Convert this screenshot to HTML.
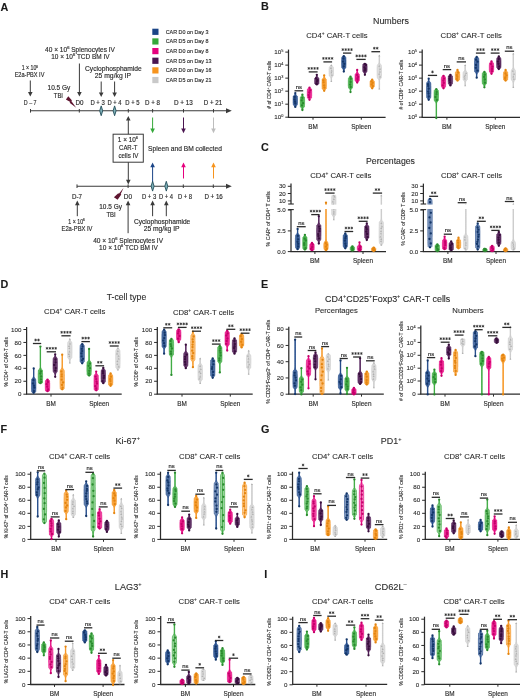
<!DOCTYPE html>
<html><head><meta charset="utf-8"><style>
html,body{margin:0;padding:0;background:#fff;overflow:hidden;width:520px;height:698px;}
svg{will-change:transform;filter:blur(0.25px);}
svg{display:block;font-family:"Liberation Sans", sans-serif;}
</style></head><body>
<svg width="520" height="698" viewBox="0 0 520 698">
<rect width="520" height="698" fill="#fff"/>
<text transform="translate(0.40 10.53)" font-size="10.8" text-anchor="start" font-weight="bold" fill="#1a1a1a" stroke="#1a1a1a" stroke-width="0.1">A</text>
<text transform="translate(261.00 9.98)" font-size="10.8" text-anchor="start" font-weight="bold" fill="#1a1a1a" stroke="#1a1a1a" stroke-width="0.1">B</text>
<text transform="translate(261.00 150.68)" font-size="10.8" text-anchor="start" font-weight="bold" fill="#1a1a1a" stroke="#1a1a1a" stroke-width="0.1">C</text>
<text transform="translate(0.40 287.68)" font-size="10.8" text-anchor="start" font-weight="bold" fill="#1a1a1a" stroke="#1a1a1a" stroke-width="0.1">D</text>
<text transform="translate(261.00 287.98)" font-size="10.8" text-anchor="start" font-weight="bold" fill="#1a1a1a" stroke="#1a1a1a" stroke-width="0.1">E</text>
<text transform="translate(0.40 432.68)" font-size="10.8" text-anchor="start" font-weight="bold" fill="#1a1a1a" stroke="#1a1a1a" stroke-width="0.1">F</text>
<text transform="translate(261.00 433.08)" font-size="10.8" text-anchor="start" font-weight="bold" fill="#1a1a1a" stroke="#1a1a1a" stroke-width="0.1">G</text>
<text transform="translate(0.40 578.48)" font-size="10.8" text-anchor="start" font-weight="bold" fill="#1a1a1a" stroke="#1a1a1a" stroke-width="0.1">H</text>
<text transform="translate(264.20 578.48)" font-size="10.8" text-anchor="start" font-weight="bold" fill="#1a1a1a" stroke="#1a1a1a" stroke-width="0.1">I</text>
<line x1="30.5" y1="110.8" x2="227" y2="110.8" stroke="#3a3a3a" stroke-width="1.05"/>
<path d="M226,108.3 L231.8,110.8 L226,113.3 Z" fill="#3a3a3a"/>
<line x1="30.5" y1="109.0" x2="30.5" y2="112.6" stroke="#3a3a3a" stroke-width="1.0"/>
<line x1="79.3" y1="109.0" x2="79.3" y2="112.6" stroke="#3a3a3a" stroke-width="1.0"/>
<line x1="128.3" y1="109.0" x2="128.3" y2="112.6" stroke="#3a3a3a" stroke-width="1.0"/>
<line x1="152.6" y1="109.0" x2="152.6" y2="112.6" stroke="#3a3a3a" stroke-width="1.0"/>
<line x1="183.5" y1="109.0" x2="183.5" y2="112.6" stroke="#3a3a3a" stroke-width="1.0"/>
<line x1="213.5" y1="109.0" x2="213.5" y2="112.6" stroke="#3a3a3a" stroke-width="1.0"/>
<path d="M101.2,105.89999999999999 L102.7,110.8 L101.2,115.7 L99.7,110.8 Z" fill="#7fb0b8" stroke="#234e5a" stroke-width="0.9"/>
<path d="M114.6,105.89999999999999 L116.1,110.8 L114.6,115.7 L113.1,110.8 Z" fill="#7fb0b8" stroke="#234e5a" stroke-width="0.9"/>
<text transform="translate(30.20 105.18) scale(0.788 1)" font-size="6.8" text-anchor="middle" font-weight="normal" fill="#2b2b2b" stroke="#2b2b2b" stroke-width="0.16">D – 7</text>
<text transform="translate(79.40 105.18) scale(0.920 1)" font-size="6.8" text-anchor="middle" font-weight="normal" fill="#2b2b2b" stroke="#2b2b2b" stroke-width="0.16">D0</text>
<text transform="translate(97.60 105.18) scale(0.876 1)" font-size="6.8" text-anchor="middle" font-weight="normal" fill="#2b2b2b" stroke="#2b2b2b" stroke-width="0.16">D + 3</text>
<text transform="translate(114.50 105.18) scale(0.858 1)" font-size="6.8" text-anchor="middle" font-weight="normal" fill="#2b2b2b" stroke="#2b2b2b" stroke-width="0.16">D + 4</text>
<text transform="translate(132.50 105.18) scale(0.870 1)" font-size="6.8" text-anchor="middle" font-weight="normal" fill="#2b2b2b" stroke="#2b2b2b" stroke-width="0.16">D + 5</text>
<text transform="translate(152.50 105.18) scale(0.912 1)" font-size="6.8" text-anchor="middle" font-weight="normal" fill="#2b2b2b" stroke="#2b2b2b" stroke-width="0.16">D + 8</text>
<text transform="translate(183.40 105.18) scale(0.939 1)" font-size="6.8" text-anchor="middle" font-weight="normal" fill="#2b2b2b" stroke="#2b2b2b" stroke-width="0.16">D + 13</text>
<text transform="translate(213.00 105.18) scale(0.910 1)" font-size="6.8" text-anchor="middle" font-weight="normal" fill="#2b2b2b" stroke="#2b2b2b" stroke-width="0.16">D + 21</text>
<text transform="translate(29.90 70.14) scale(0.818 1)" font-size="6.4" text-anchor="middle" font-weight="normal" fill="#2b2b2b" stroke="#2b2b2b" stroke-width="0.16">1 × 10<tspan font-size="3.97" dy="-2.56">6</tspan></text>
<text transform="translate(29.50 77.11) scale(0.886 1)" font-size="6.3" text-anchor="middle" font-weight="normal" fill="#2b2b2b" stroke="#2b2b2b" stroke-width="0.16">E2a-PBX IV</text>
<line x1="30.3" y1="80.5" x2="30.3" y2="92.4" stroke="#3a3a3a" stroke-width="1.0"/>
<path d="M28.0,91.9 L32.6,91.9 L30.3,96.5 Z" fill="#3a3a3a"/>
<text transform="translate(80.00 51.98) scale(0.925 1)" font-size="7.1" text-anchor="middle" font-weight="normal" fill="#2b2b2b" stroke="#2b2b2b" stroke-width="0.16">40 × 10<tspan font-size="4.40" dy="-2.84">6</tspan><tspan dy="2.84"> Splenocytes IV</tspan></text>
<text transform="translate(80.40 58.98) scale(0.913 1)" font-size="7.1" text-anchor="middle" font-weight="normal" fill="#2b2b2b" stroke="#2b2b2b" stroke-width="0.16">10 × 10<tspan font-size="4.40" dy="-2.84">6</tspan><tspan dy="2.84"> TCD BM IV</tspan></text>
<line x1="79.4" y1="63.5" x2="79.4" y2="92.4" stroke="#3a3a3a" stroke-width="1.0"/>
<path d="M77.10000000000001,91.9 L81.7,91.9 L79.4,96.5 Z" fill="#3a3a3a"/>
<text transform="translate(58.90 89.69) scale(0.913 1)" font-size="7.1" text-anchor="middle" font-weight="normal" fill="#2b2b2b" stroke="#2b2b2b" stroke-width="0.16">10.5 Gy</text>
<text transform="translate(58.40 97.78) scale(0.833 1)" font-size="7.1" text-anchor="middle" font-weight="normal" fill="#2b2b2b" stroke="#2b2b2b" stroke-width="0.16">TBI</text>
<path d="M68.3,96.3 L72.0,100.4 L71.3,101.0 L76.2,107.7 L69.6,102.8 L70.3,102.1 L65.9,99.4 Z" fill="#5e1530"/>
<text transform="translate(113.40 70.78) scale(0.942 1)" font-size="7.1" text-anchor="middle" font-weight="normal" fill="#2b2b2b" stroke="#2b2b2b" stroke-width="0.16">Cyclophosphamide</text>
<text transform="translate(112.90 78.48) scale(0.958 1)" font-size="7.1" text-anchor="middle" font-weight="normal" fill="#2b2b2b" stroke="#2b2b2b" stroke-width="0.16">25 mg/kg IP</text>
<line x1="101.2" y1="81.5" x2="101.2" y2="92.9" stroke="#3a3a3a" stroke-width="1.0"/>
<path d="M98.9,92.4 L103.5,92.4 L101.2,97 Z" fill="#3a3a3a"/>
<line x1="114.6" y1="81.5" x2="114.6" y2="92.9" stroke="#3a3a3a" stroke-width="1.0"/>
<path d="M112.3,92.4 L116.89999999999999,92.4 L114.6,97 Z" fill="#3a3a3a"/>
<rect x="113.1" y="134.2" width="30.2" height="28" fill="#fff" stroke="#3a3a3a" stroke-width="1.0"/>
<text transform="translate(127.90 141.98) scale(0.947 1)" font-size="6.8" text-anchor="middle" font-weight="normal" fill="#2b2b2b" stroke="#2b2b2b" stroke-width="0.16">1 × 10<tspan font-size="4.22" dy="-2.72">6</tspan></text>
<text transform="translate(128.20 150.09) scale(0.844 1)" font-size="7.1" text-anchor="middle" font-weight="normal" fill="#2b2b2b" stroke="#2b2b2b" stroke-width="0.16">CAR-T</text>
<text transform="translate(128.40 158.09) scale(0.874 1)" font-size="7.1" text-anchor="middle" font-weight="normal" fill="#2b2b2b" stroke="#2b2b2b" stroke-width="0.16">cells IV</text>
<line x1="128.3" y1="134.2" x2="128.3" y2="120.1" stroke="#3a3a3a" stroke-width="1.0"/>
<path d="M126.00000000000001,120.6 L130.60000000000002,120.6 L128.3,116 Z" fill="#3a3a3a"/>
<line x1="128.3" y1="162.2" x2="128.3" y2="180.3" stroke="#3a3a3a" stroke-width="1.0"/>
<path d="M126.00000000000001,179.8 L130.60000000000002,179.8 L128.3,184.4 Z" fill="#3a3a3a"/>
<line x1="152.6" y1="117.5" x2="152.6" y2="129.1" stroke="#35a83a" stroke-width="1.0"/>
<path d="M150.29999999999998,128.6 L154.9,128.6 L152.6,133.2 Z" fill="#35a83a"/>
<line x1="183.5" y1="117.5" x2="183.5" y2="129.1" stroke="#4a1550" stroke-width="1.0"/>
<path d="M181.2,128.6 L185.8,128.6 L183.5,133.2 Z" fill="#4a1550"/>
<line x1="213.5" y1="117.5" x2="213.5" y2="129.1" stroke="#bdbdbd" stroke-width="1.0"/>
<path d="M211.2,128.6 L215.8,128.6 L213.5,133.2 Z" fill="#bdbdbd"/>
<text transform="translate(185.00 151.29) scale(0.942 1)" font-size="7.1" text-anchor="middle" font-weight="normal" fill="#2b2b2b" stroke="#2b2b2b" stroke-width="0.16">Spleen and BM collected</text>
<line x1="152.6" y1="182.5" x2="152.6" y2="166.7" stroke="#1b4587" stroke-width="1.0"/>
<path d="M150.29999999999998,167.2 L154.9,167.2 L152.6,162.6 Z" fill="#1b4587"/>
<line x1="183.5" y1="178.5" x2="183.5" y2="166.7" stroke="#e6007e" stroke-width="1.0"/>
<path d="M181.2,167.2 L185.8,167.2 L183.5,162.6 Z" fill="#e6007e"/>
<line x1="213.5" y1="178.5" x2="213.5" y2="166.7" stroke="#f7941d" stroke-width="1.0"/>
<path d="M211.2,167.2 L215.8,167.2 L213.5,162.6 Z" fill="#f7941d"/>
<line x1="77" y1="186.2" x2="227" y2="186.2" stroke="#3a3a3a" stroke-width="1.05"/>
<path d="M226,183.7 L231.8,186.2 L226,188.7 Z" fill="#3a3a3a"/>
<line x1="77" y1="184.39999999999998" x2="77" y2="188.0" stroke="#3a3a3a" stroke-width="1.0"/>
<line x1="128.1" y1="184.39999999999998" x2="128.1" y2="188.0" stroke="#3a3a3a" stroke-width="1.0"/>
<line x1="183.3" y1="184.39999999999998" x2="183.3" y2="188.0" stroke="#3a3a3a" stroke-width="1.0"/>
<line x1="213.3" y1="184.39999999999998" x2="213.3" y2="188.0" stroke="#3a3a3a" stroke-width="1.0"/>
<path d="M152.6,181.29999999999998 L154.1,186.2 L152.6,191.1 L151.1,186.2 Z" fill="#7fb0b8" stroke="#234e5a" stroke-width="0.9"/>
<path d="M166.3,181.29999999999998 L167.8,186.2 L166.3,191.1 L164.8,186.2 Z" fill="#7fb0b8" stroke="#234e5a" stroke-width="0.9"/>
<text transform="translate(76.90 198.88) scale(0.913 1)" font-size="6.8" text-anchor="middle" font-weight="normal" fill="#2b2b2b" stroke="#2b2b2b" stroke-width="0.16">D-7</text>
<text transform="translate(128.00 198.88) scale(0.955 1)" font-size="6.8" text-anchor="middle" font-weight="normal" fill="#2b2b2b" stroke="#2b2b2b" stroke-width="0.16">D0</text>
<text transform="translate(149.10 198.88) scale(0.876 1)" font-size="6.8" text-anchor="middle" font-weight="normal" fill="#2b2b2b" stroke="#2b2b2b" stroke-width="0.16">D + 3</text>
<text transform="translate(166.00 198.88) scale(0.858 1)" font-size="6.8" text-anchor="middle" font-weight="normal" fill="#2b2b2b" stroke="#2b2b2b" stroke-width="0.16">D + 4</text>
<text transform="translate(185.00 198.88) scale(0.864 1)" font-size="6.8" text-anchor="middle" font-weight="normal" fill="#2b2b2b" stroke="#2b2b2b" stroke-width="0.16">D + 8</text>
<text transform="translate(213.60 198.88) scale(0.910 1)" font-size="6.8" text-anchor="middle" font-weight="normal" fill="#2b2b2b" stroke="#2b2b2b" stroke-width="0.16">D + 16</text>
<path d="M123.5,188.1 L120.7,194.0 L121.3,194.5 L117.6,199.7 L113.9,197.3 L118.3,193.3 L118.9,193.8 Z" fill="#5e1530"/>
<text transform="translate(110.60 208.89) scale(0.913 1)" font-size="7.1" text-anchor="middle" font-weight="normal" fill="#2b2b2b" stroke="#2b2b2b" stroke-width="0.16">10.5 Gy</text>
<text transform="translate(111.00 216.69) scale(0.833 1)" font-size="7.1" text-anchor="middle" font-weight="normal" fill="#2b2b2b" stroke="#2b2b2b" stroke-width="0.16">TBI</text>
<line x1="77.3" y1="216.2" x2="77.3" y2="204.7" stroke="#3a3a3a" stroke-width="1.0"/>
<path d="M75.0,205.2 L79.6,205.2 L77.3,200.6 Z" fill="#3a3a3a"/>
<text transform="translate(76.60 223.74) scale(0.818 1)" font-size="6.4" text-anchor="middle" font-weight="normal" fill="#2b2b2b" stroke="#2b2b2b" stroke-width="0.16">1 × 10<tspan font-size="3.97" dy="-2.56">6</tspan></text>
<text transform="translate(77.00 230.71) scale(0.922 1)" font-size="6.3" text-anchor="middle" font-weight="normal" fill="#2b2b2b" stroke="#2b2b2b" stroke-width="0.16">E2a-PBX IV</text>
<line x1="128.1" y1="233.2" x2="128.1" y2="204.7" stroke="#3a3a3a" stroke-width="1.0"/>
<path d="M125.8,205.2 L130.4,205.2 L128.1,200.6 Z" fill="#3a3a3a"/>
<line x1="152.6" y1="216.2" x2="152.6" y2="204.7" stroke="#3a3a3a" stroke-width="1.0"/>
<path d="M150.29999999999998,205.2 L154.9,205.2 L152.6,200.6 Z" fill="#3a3a3a"/>
<line x1="166.3" y1="216.2" x2="166.3" y2="204.7" stroke="#3a3a3a" stroke-width="1.0"/>
<path d="M164.0,205.2 L168.60000000000002,205.2 L166.3,200.6 Z" fill="#3a3a3a"/>
<text transform="translate(162.10 223.99) scale(0.934 1)" font-size="7.1" text-anchor="middle" font-weight="normal" fill="#2b2b2b" stroke="#2b2b2b" stroke-width="0.16">Cyclophosphamide</text>
<text transform="translate(161.60 231.29) scale(0.950 1)" font-size="7.1" text-anchor="middle" font-weight="normal" fill="#2b2b2b" stroke="#2b2b2b" stroke-width="0.16">25 mg/kg IP</text>
<text transform="translate(128.10 243.09) scale(0.925 1)" font-size="7.1" text-anchor="middle" font-weight="normal" fill="#2b2b2b" stroke="#2b2b2b" stroke-width="0.16">40 × 10<tspan font-size="4.40" dy="-2.84">6</tspan><tspan dy="2.84"> Splenocytes IV</tspan></text>
<text transform="translate(128.50 249.99) scale(0.921 1)" font-size="7.1" text-anchor="middle" font-weight="normal" fill="#2b2b2b" stroke="#2b2b2b" stroke-width="0.16">10 × 10<tspan font-size="4.40" dy="-2.84">6</tspan><tspan dy="2.84"> TCD BM IV</tspan></text>
<rect x="152.3" y="28.7" width="6.2" height="6.2" fill="#1b4587"/>
<text transform="translate(165.70 33.59)" font-size="5.4" text-anchor="start" font-weight="normal" fill="#2b2b2b" stroke="#2b2b2b" stroke-width="0.14">CAR D0 on Day 3</text>
<rect x="152.3" y="38.35" width="6.2" height="6.2" fill="#35a83a"/>
<text transform="translate(165.70 43.24)" font-size="5.4" text-anchor="start" font-weight="normal" fill="#2b2b2b" stroke="#2b2b2b" stroke-width="0.14">CAR D5 on Day 8</text>
<rect x="152.3" y="48.0" width="6.2" height="6.2" fill="#e6007e"/>
<text transform="translate(165.70 52.89)" font-size="5.4" text-anchor="start" font-weight="normal" fill="#2b2b2b" stroke="#2b2b2b" stroke-width="0.14">CAR D0 on Day 8</text>
<rect x="152.3" y="57.650000000000006" width="6.2" height="6.2" fill="#4a1550"/>
<text transform="translate(165.70 62.54)" font-size="5.4" text-anchor="start" font-weight="normal" fill="#2b2b2b" stroke="#2b2b2b" stroke-width="0.14">CAR D5 on Day 13</text>
<rect x="152.3" y="67.3" width="6.2" height="6.2" fill="#f7941d"/>
<text transform="translate(165.70 72.19)" font-size="5.4" text-anchor="start" font-weight="normal" fill="#2b2b2b" stroke="#2b2b2b" stroke-width="0.14">CAR D0 on Day 16</text>
<rect x="152.3" y="76.95" width="6.2" height="6.2" fill="#c9c9c9"/>
<text transform="translate(165.70 81.84)" font-size="5.4" text-anchor="start" font-weight="normal" fill="#2b2b2b" stroke="#2b2b2b" stroke-width="0.14">CAR D5 on Day 21</text>
<text transform="translate(391.00 23.98) scale(1.008 1)" font-size="8.8" text-anchor="middle" font-weight="normal" fill="#2b2b2b" stroke="#2b2b2b" stroke-width="0.1">Numbers</text>
<text transform="translate(336.90 38.40)" font-size="7.7" text-anchor="middle" font-weight="normal" fill="#2b2b2b" stroke="#2b2b2b" stroke-width="0.1">CD4<tspan font-size="4.77" dy="-3.08">+</tspan><tspan dy="3.08"> CAR-T cells</tspan></text>
<text transform="translate(471.20 38.20)" font-size="7.7" text-anchor="middle" font-weight="normal" fill="#2b2b2b" stroke="#2b2b2b" stroke-width="0.1">CD8<tspan font-size="4.77" dy="-3.08">+</tspan><tspan dy="3.08"> CAR-T cells</tspan></text>
<line x1="288.5" y1="49.6" x2="288.5" y2="117.3" stroke="#2b2b2b" stroke-width="1.25"/>
<line x1="287.9" y1="117.3" x2="385.6" y2="117.3" stroke="#2b2b2b" stroke-width="1.3"/>
<line x1="285.3" y1="52.1" x2="288.5" y2="52.1" stroke="#2b2b2b" stroke-width="1.0"/>
<text transform="translate(283.30 54.27)" font-size="6.2" text-anchor="end" font-weight="normal" fill="#2b2b2b" stroke="#2b2b2b" stroke-width="0.1">10<tspan font-size="3.84" dy="-2.48">5</tspan></text>
<line x1="285.3" y1="65.12" x2="288.5" y2="65.12" stroke="#2b2b2b" stroke-width="1.0"/>
<text transform="translate(283.30 67.29)" font-size="6.2" text-anchor="end" font-weight="normal" fill="#2b2b2b" stroke="#2b2b2b" stroke-width="0.1">10<tspan font-size="3.84" dy="-2.48">4</tspan></text>
<line x1="285.3" y1="78.14" x2="288.5" y2="78.14" stroke="#2b2b2b" stroke-width="1.0"/>
<text transform="translate(283.30 80.31)" font-size="6.2" text-anchor="end" font-weight="normal" fill="#2b2b2b" stroke="#2b2b2b" stroke-width="0.1">10<tspan font-size="3.84" dy="-2.48">3</tspan></text>
<line x1="285.3" y1="91.16" x2="288.5" y2="91.16" stroke="#2b2b2b" stroke-width="1.0"/>
<text transform="translate(283.30 93.33)" font-size="6.2" text-anchor="end" font-weight="normal" fill="#2b2b2b" stroke="#2b2b2b" stroke-width="0.1">10<tspan font-size="3.84" dy="-2.48">2</tspan></text>
<line x1="285.3" y1="104.18" x2="288.5" y2="104.18" stroke="#2b2b2b" stroke-width="1.0"/>
<text transform="translate(283.30 106.35)" font-size="6.2" text-anchor="end" font-weight="normal" fill="#2b2b2b" stroke="#2b2b2b" stroke-width="0.1">10<tspan font-size="3.84" dy="-2.48">1</tspan></text>
<line x1="285.3" y1="117.19999999999999" x2="288.5" y2="117.19999999999999" stroke="#2b2b2b" stroke-width="1.0"/>
<text transform="translate(283.30 119.37)" font-size="6.2" text-anchor="end" font-weight="normal" fill="#2b2b2b" stroke="#2b2b2b" stroke-width="0.1">10<tspan font-size="3.84" dy="-2.48">0</tspan></text>
<line x1="313" y1="117.3" x2="313" y2="119.7" stroke="#2b2b2b" stroke-width="1.0"/>
<text transform="translate(313.00 129.14)" font-size="6.4" text-anchor="middle" font-weight="normal" fill="#2b2b2b" stroke="#2b2b2b" stroke-width="0.14">BM</text>
<line x1="361.3" y1="117.3" x2="361.3" y2="119.7" stroke="#2b2b2b" stroke-width="1.0"/>
<text transform="translate(361.30 129.14)" font-size="6.4" text-anchor="middle" font-weight="normal" fill="#2b2b2b" stroke="#2b2b2b" stroke-width="0.14">Spleen</text>
<text transform="translate(271.16 84.70) rotate(-90) scale(0.915 1)" font-size="5.3" text-anchor="middle" font-weight="normal" fill="#2b2b2b" stroke="#2b2b2b" stroke-width="0.12"># of CD4<tspan font-size="3.29" dy="-2.12">+</tspan><tspan dy="2.12"> CAR-T cells</tspan></text>
<line x1="295.3" y1="93.1" x2="295.3" y2="106.9" stroke="#1b4587" stroke-width="0.75"/>
<path d="M295.6,93.1 L295.7,93.7 L295.8,94.2 L296.1,94.8 L296.5,95.4 L297.2,96.0 L297.2,96.0 L297.4,96.5 L297.4,97.1 L297.4,97.7 L297.5,98.3 L297.5,98.8 L297.5,99.4 L297.5,100.0 L297.5,100.6 L297.5,101.2 L297.5,101.7 L297.5,102.3 L297.5,102.9 L297.4,103.5 L297.4,104.0 L297.3,104.6 L297.2,105.0 L297.0,105.2 L296.4,105.8 L296.0,106.3 L295.8,106.9 L294.8,106.9 L294.6,106.3 L294.2,105.8 L293.6,105.2 L293.4,105.0 L293.3,104.6 L293.2,104.0 L293.2,103.5 L293.1,102.9 L293.1,102.3 L293.1,101.7 L293.1,101.2 L293.1,100.6 L293.1,100.0 L293.1,99.4 L293.1,98.8 L293.1,98.3 L293.2,97.7 L293.2,97.1 L293.2,96.5 L293.4,96.0 L293.4,96.0 L294.1,95.4 L294.5,94.8 L294.8,94.2 L294.9,93.7 L295.1,93.1 Z" fill="#1b4587" fill-opacity="0.85" stroke="#1b4587" stroke-width="0.6"/>
<circle cx="295.3" cy="93.1" r="1.15" fill="#143668"/>
<circle cx="295.3" cy="106.9" r="1.15" fill="#143668"/>
<circle cx="294.6" cy="96.9" r="1.15" fill="#143668"/>
<circle cx="294.5" cy="99.5" r="1.15" fill="#143668"/>
<circle cx="295.0" cy="101.7" r="1.15" fill="#143668"/>
<circle cx="295.3" cy="103.4" r="1.15" fill="#143668"/>
<line x1="302.4" y1="94.6" x2="302.4" y2="110" stroke="#35a83a" stroke-width="0.75"/>
<path d="M302.7,94.6 L302.9,95.2 L303.3,95.9 L303.7,96.5 L304.3,97.0 L304.4,97.2 L304.5,97.8 L304.5,98.5 L304.5,99.1 L304.6,99.7 L304.6,100.4 L304.6,101.0 L304.6,101.7 L304.6,102.3 L304.6,102.9 L304.6,103.6 L304.6,104.2 L304.5,104.9 L304.5,105.5 L304.5,106.2 L304.4,106.8 L304.3,107.0 L303.8,107.4 L303.3,108.1 L303.0,108.7 L302.8,109.4 L302.6,110.0 L302.1,110.0 L302.0,109.4 L301.8,108.7 L301.5,108.1 L301.0,107.4 L300.5,107.0 L300.4,106.8 L300.3,106.2 L300.3,105.5 L300.3,104.9 L300.2,104.2 L300.2,103.6 L300.2,102.9 L300.2,102.3 L300.2,101.7 L300.2,101.0 L300.2,100.4 L300.2,99.7 L300.3,99.1 L300.3,98.5 L300.3,97.8 L300.4,97.2 L300.5,97.0 L301.1,96.5 L301.5,95.9 L301.9,95.2 L302.1,94.6 Z" fill="#35a83a" fill-opacity="0.85" stroke="#35a83a" stroke-width="0.6"/>
<circle cx="302.4" cy="94.6" r="1.15" fill="#2a8a2e"/>
<circle cx="302.4" cy="110.0" r="1.15" fill="#2a8a2e"/>
<circle cx="302.3" cy="97.8" r="1.15" fill="#2a8a2e"/>
<circle cx="301.6" cy="100.3" r="1.15" fill="#2a8a2e"/>
<circle cx="303.0" cy="103.2" r="1.15" fill="#2a8a2e"/>
<circle cx="301.9" cy="105.4" r="1.15" fill="#2a8a2e"/>
<line x1="309.5" y1="87.7" x2="309.5" y2="99.8" stroke="#e6007e" stroke-width="0.75"/>
<path d="M310.2,87.7 L310.6,88.2 L311.0,88.7 L311.4,89.0 L311.5,89.2 L311.6,89.7 L311.6,90.2 L311.6,90.7 L311.7,91.2 L311.7,91.7 L311.7,92.2 L311.7,92.7 L311.7,93.2 L311.7,93.8 L311.7,94.2 L311.7,94.8 L311.7,95.3 L311.7,95.8 L311.6,96.3 L311.6,96.8 L311.6,97.3 L311.5,97.8 L311.4,98.0 L311.0,98.3 L310.6,98.8 L310.2,99.3 L310.0,99.8 L309.0,99.8 L308.8,99.3 L308.4,98.8 L308.0,98.3 L307.6,98.0 L307.5,97.8 L307.4,97.3 L307.4,96.8 L307.4,96.3 L307.3,95.8 L307.3,95.3 L307.3,94.8 L307.3,94.2 L307.3,93.8 L307.3,93.2 L307.3,92.7 L307.3,92.2 L307.3,91.7 L307.3,91.2 L307.4,90.7 L307.4,90.2 L307.4,89.7 L307.5,89.2 L307.6,89.0 L308.0,88.7 L308.4,88.2 L308.8,87.7 Z" fill="#e6007e" fill-opacity="0.85" stroke="#e6007e" stroke-width="0.6"/>
<circle cx="309.5" cy="87.7" r="1.15" fill="#c4006a"/>
<circle cx="309.5" cy="99.8" r="1.15" fill="#c4006a"/>
<circle cx="310.4" cy="90.3" r="1.15" fill="#c4006a"/>
<circle cx="309.3" cy="92.5" r="1.15" fill="#c4006a"/>
<circle cx="308.6" cy="95.1" r="1.15" fill="#c4006a"/>
<circle cx="309.1" cy="97.2" r="1.15" fill="#c4006a"/>
<line x1="316.8" y1="74.8" x2="316.8" y2="84.4" stroke="#4a1550" stroke-width="0.75"/>
<path d="M317.1,74.8 L317.1,75.2 L317.1,75.6 L317.3,76.0 L317.4,76.4 L317.6,76.8 L317.9,77.2 L318.2,77.6 L318.7,78.0 L318.9,78.4 L318.9,78.8 L318.9,79.2 L319.0,79.6 L319.0,80.0 L319.0,80.4 L319.0,80.8 L319.0,81.2 L319.0,81.6 L319.0,82.0 L319.0,82.4 L318.9,82.8 L318.9,83.2 L318.9,83.6 L318.7,84.0 L318.2,84.4 L315.4,84.4 L314.9,84.0 L314.7,83.6 L314.7,83.2 L314.7,82.8 L314.6,82.4 L314.6,82.0 L314.6,81.6 L314.6,81.2 L314.6,80.8 L314.6,80.4 L314.6,80.0 L314.6,79.6 L314.7,79.2 L314.7,78.8 L314.7,78.4 L314.9,78.0 L315.4,77.6 L315.7,77.2 L316.0,76.8 L316.2,76.4 L316.3,76.0 L316.5,75.6 L316.5,75.2 L316.6,74.8 Z" fill="#4a1550" fill-opacity="0.85" stroke="#4a1550" stroke-width="0.6"/>
<circle cx="316.8" cy="74.8" r="1.15" fill="#380e3c"/>
<circle cx="316.8" cy="84.4" r="1.15" fill="#380e3c"/>
<circle cx="316.0" cy="78.4" r="1.15" fill="#380e3c"/>
<circle cx="317.4" cy="80.1" r="1.15" fill="#380e3c"/>
<circle cx="317.0" cy="81.4" r="1.15" fill="#380e3c"/>
<circle cx="316.5" cy="83.4" r="1.15" fill="#380e3c"/>
<line x1="324.2" y1="75.4" x2="324.2" y2="90.8" stroke="#f7941d" stroke-width="0.75"/>
<path d="M324.4,75.4 L324.4,76.0 L324.6,76.7 L324.8,77.3 L325.1,78.0 L325.6,78.6 L326.1,79.0 L326.2,79.2 L326.3,79.9 L326.3,80.5 L326.3,81.2 L326.4,81.8 L326.4,82.5 L326.4,83.1 L326.4,83.7 L326.4,84.4 L326.4,85.0 L326.4,85.7 L326.4,86.3 L326.3,87.0 L326.3,87.6 L326.3,88.2 L326.2,88.9 L326.1,89.0 L325.5,89.5 L325.0,90.2 L324.7,90.8 L323.7,90.8 L323.4,90.2 L322.9,89.5 L322.3,89.0 L322.2,88.9 L322.1,88.2 L322.1,87.6 L322.1,87.0 L322.0,86.3 L322.0,85.7 L322.0,85.0 L322.0,84.4 L322.0,83.7 L322.0,83.1 L322.0,82.5 L322.0,81.8 L322.1,81.2 L322.1,80.5 L322.1,79.9 L322.2,79.2 L322.3,79.0 L322.8,78.6 L323.3,78.0 L323.6,77.3 L323.8,76.7 L323.9,76.0 L323.9,75.4 Z" fill="#f7941d" fill-opacity="0.85" stroke="#f7941d" stroke-width="0.6"/>
<circle cx="324.2" cy="75.4" r="1.15" fill="#e38510"/>
<circle cx="324.2" cy="90.8" r="1.15" fill="#e38510"/>
<circle cx="323.3" cy="80.3" r="1.15" fill="#e38510"/>
<circle cx="323.6" cy="82.3" r="1.15" fill="#e38510"/>
<circle cx="324.1" cy="85.4" r="1.15" fill="#e38510"/>
<circle cx="324.4" cy="87.6" r="1.15" fill="#e38510"/>
<line x1="331.3" y1="65.2" x2="331.3" y2="81.2" stroke="#c9c9c9" stroke-width="0.75"/>
<path d="M331.8,65.2 L332.1,65.9 L332.7,66.5 L333.2,67.0 L333.3,67.2 L333.4,67.9 L333.4,68.5 L333.5,69.2 L333.5,69.9 L333.5,70.5 L333.5,71.2 L333.5,71.9 L333.5,72.5 L333.5,73.2 L333.5,73.9 L333.4,74.5 L333.4,75.2 L333.3,75.9 L333.2,76.0 L332.6,76.5 L332.1,77.2 L331.8,77.9 L331.6,78.5 L331.6,79.2 L331.6,79.9 L331.6,80.5 L331.6,81.2 L331.1,81.2 L331.1,80.5 L331.1,79.9 L331.1,79.2 L331.0,78.5 L330.8,77.9 L330.5,77.2 L330.0,76.5 L329.4,76.0 L329.3,75.9 L329.2,75.2 L329.2,74.5 L329.1,73.9 L329.1,73.2 L329.1,72.5 L329.1,71.9 L329.1,71.2 L329.1,70.5 L329.1,69.9 L329.1,69.2 L329.2,68.5 L329.2,67.9 L329.3,67.2 L329.4,67.0 L329.9,66.5 L330.5,65.9 L330.8,65.2 Z" fill="#c9c9c9" fill-opacity="0.6" stroke="#c9c9c9" stroke-width="0.6"/>
<path d="M330.3,66.0 L332.3,66.0 L331.3,64.2 Z" fill="#b0b0b0"/>
<path d="M330.3,82.0 L332.3,82.0 L331.3,80.2 Z" fill="#b0b0b0"/>
<path d="M329.9,68.9 L331.9,68.9 L330.9,67.1 Z" fill="#b0b0b0"/>
<path d="M330.7,71.5 L332.7,71.5 L331.7,69.7 Z" fill="#b0b0b0"/>
<path d="M330.4,73.2 L332.4,73.2 L331.4,71.4 Z" fill="#b0b0b0"/>
<path d="M331.0,75.7 L333.0,75.7 L332.0,73.9 Z" fill="#b0b0b0"/>
<line x1="343.8" y1="56.2" x2="343.8" y2="71.5" stroke="#1b4587" stroke-width="0.75"/>
<path d="M344.9,56.2 L345.5,56.8 L345.7,57.0 L345.8,57.5 L345.9,58.1 L345.9,58.8 L345.9,59.4 L346.0,60.0 L346.0,60.7 L346.0,61.3 L346.0,61.9 L346.0,62.6 L346.0,63.2 L346.0,63.9 L346.0,64.5 L346.0,65.1 L345.9,65.8 L345.9,66.4 L345.9,67.0 L345.8,67.7 L345.7,68.0 L345.3,68.3 L344.8,69.0 L344.4,69.6 L344.2,70.2 L344.1,70.9 L344.1,71.5 L343.6,71.5 L343.6,70.9 L343.4,70.2 L343.2,69.6 L342.8,69.0 L342.3,68.3 L341.9,68.0 L341.8,67.7 L341.7,67.0 L341.7,66.4 L341.7,65.8 L341.6,65.1 L341.6,64.5 L341.6,63.9 L341.6,63.2 L341.6,62.6 L341.6,61.9 L341.6,61.3 L341.6,60.7 L341.6,60.0 L341.7,59.4 L341.7,58.8 L341.7,58.1 L341.8,57.5 L341.9,57.0 L342.1,56.8 L342.7,56.2 Z" fill="#1b4587" fill-opacity="0.85" stroke="#1b4587" stroke-width="0.6"/>
<circle cx="343.8" cy="56.2" r="1.15" fill="#143668"/>
<circle cx="343.8" cy="71.5" r="1.15" fill="#143668"/>
<circle cx="343.4" cy="58.6" r="1.15" fill="#143668"/>
<circle cx="343.0" cy="61.6" r="1.15" fill="#143668"/>
<circle cx="344.3" cy="63.8" r="1.15" fill="#143668"/>
<circle cx="343.8" cy="66.3" r="1.15" fill="#143668"/>
<line x1="350.5" y1="76.7" x2="350.5" y2="92.1" stroke="#35a83a" stroke-width="0.75"/>
<path d="M351.2,76.7 L351.7,77.3 L352.4,78.0 L352.4,78.0 L352.6,78.6 L352.6,79.3 L352.6,79.9 L352.7,80.5 L352.7,81.2 L352.7,81.8 L352.7,82.5 L352.7,83.1 L352.7,83.8 L352.7,84.4 L352.7,85.0 L352.7,85.7 L352.6,86.3 L352.6,87.0 L352.5,87.6 L352.4,88.0 L352.1,88.2 L351.5,88.9 L351.1,89.5 L350.9,90.2 L350.8,90.8 L350.8,91.5 L350.8,92.1 L350.2,92.1 L350.2,91.5 L350.2,90.8 L350.1,90.2 L349.9,89.5 L349.5,88.9 L348.9,88.2 L348.6,88.0 L348.5,87.6 L348.4,87.0 L348.4,86.3 L348.3,85.7 L348.3,85.0 L348.3,84.4 L348.3,83.8 L348.3,83.1 L348.3,82.5 L348.3,81.8 L348.3,81.2 L348.3,80.5 L348.4,79.9 L348.4,79.3 L348.4,78.6 L348.6,78.0 L348.6,78.0 L349.3,77.3 L349.8,76.7 Z" fill="#35a83a" fill-opacity="0.85" stroke="#35a83a" stroke-width="0.6"/>
<circle cx="350.5" cy="76.7" r="1.15" fill="#2a8a2e"/>
<circle cx="350.5" cy="92.1" r="1.15" fill="#2a8a2e"/>
<circle cx="350.8" cy="78.8" r="1.15" fill="#2a8a2e"/>
<circle cx="350.6" cy="82.0" r="1.15" fill="#2a8a2e"/>
<circle cx="350.1" cy="84.6" r="1.15" fill="#2a8a2e"/>
<circle cx="350.7" cy="86.9" r="1.15" fill="#2a8a2e"/>
<line x1="357.2" y1="70" x2="357.2" y2="82.5" stroke="#e6007e" stroke-width="0.75"/>
<path d="M357.4,70.0 L357.4,70.5 L357.4,71.0 L357.5,71.6 L357.7,72.1 L357.9,72.6 L358.2,73.1 L358.7,73.7 L359.1,74.0 L359.2,74.2 L359.3,74.7 L359.3,75.2 L359.4,75.7 L359.4,76.2 L359.4,76.8 L359.4,77.3 L359.4,77.8 L359.4,78.3 L359.4,78.8 L359.4,79.4 L359.3,79.9 L359.3,80.4 L359.2,80.9 L359.1,81.0 L358.6,81.5 L358.1,82.0 L357.8,82.5 L356.6,82.5 L356.3,82.0 L355.8,81.5 L355.3,81.0 L355.2,80.9 L355.1,80.4 L355.1,79.9 L355.0,79.4 L355.0,78.8 L355.0,78.3 L355.0,77.8 L355.0,77.3 L355.0,76.8 L355.0,76.2 L355.0,75.7 L355.1,75.2 L355.1,74.7 L355.2,74.2 L355.3,74.0 L355.7,73.7 L356.2,73.1 L356.5,72.6 L356.7,72.1 L356.9,71.6 L356.9,71.0 L356.9,70.5 L356.9,70.0 Z" fill="#e6007e" fill-opacity="0.85" stroke="#e6007e" stroke-width="0.6"/>
<circle cx="357.2" cy="70.0" r="1.15" fill="#c4006a"/>
<circle cx="357.2" cy="82.5" r="1.15" fill="#c4006a"/>
<circle cx="357.1" cy="75.0" r="1.15" fill="#c4006a"/>
<circle cx="358.1" cy="77.0" r="1.15" fill="#c4006a"/>
<circle cx="357.5" cy="78.3" r="1.15" fill="#c4006a"/>
<circle cx="357.6" cy="79.7" r="1.15" fill="#c4006a"/>
<line x1="364.9" y1="63.8" x2="364.9" y2="74.8" stroke="#4a1550" stroke-width="0.75"/>
<path d="M366.5,63.8 L366.8,64.0 L366.9,64.3 L367.0,64.7 L367.0,65.2 L367.0,65.6 L367.1,66.1 L367.1,66.5 L367.1,67.0 L367.1,67.5 L367.1,67.9 L367.1,68.4 L367.1,68.8 L367.1,69.3 L367.1,69.8 L367.1,70.2 L367.0,70.7 L367.0,71.1 L366.9,71.6 L366.8,72.0 L366.7,72.0 L366.2,72.5 L365.8,73.0 L365.6,73.4 L365.4,73.9 L365.3,74.3 L365.2,74.8 L364.6,74.8 L364.5,74.3 L364.4,73.9 L364.2,73.4 L364.0,73.0 L363.6,72.5 L363.1,72.0 L363.0,72.0 L362.9,71.6 L362.8,71.1 L362.8,70.7 L362.7,70.2 L362.7,69.8 L362.7,69.3 L362.7,68.8 L362.7,68.4 L362.7,67.9 L362.7,67.5 L362.7,67.0 L362.7,66.5 L362.7,66.1 L362.8,65.6 L362.8,65.2 L362.8,64.7 L362.9,64.3 L363.0,64.0 L363.3,63.8 Z" fill="#4a1550" fill-opacity="0.85" stroke="#4a1550" stroke-width="0.6"/>
<circle cx="364.9" cy="63.8" r="1.15" fill="#380e3c"/>
<circle cx="364.9" cy="74.8" r="1.15" fill="#380e3c"/>
<circle cx="365.9" cy="65.1" r="1.15" fill="#380e3c"/>
<circle cx="364.5" cy="67.3" r="1.15" fill="#380e3c"/>
<circle cx="365.2" cy="68.9" r="1.15" fill="#380e3c"/>
<circle cx="364.8" cy="70.5" r="1.15" fill="#380e3c"/>
<line x1="372.2" y1="79.6" x2="372.2" y2="88.3" stroke="#f7941d" stroke-width="0.75"/>
<path d="M372.9,79.6 L373.1,80.0 L373.4,80.3 L373.7,80.7 L374.1,81.0 L374.2,81.0 L374.3,81.4 L374.3,81.8 L374.3,82.1 L374.4,82.5 L374.4,82.9 L374.4,83.2 L374.4,83.6 L374.4,84.0 L374.4,84.3 L374.4,84.7 L374.4,85.0 L374.4,85.4 L374.3,85.8 L374.3,86.1 L374.3,86.5 L374.2,86.8 L374.1,87.0 L373.8,87.2 L373.5,87.6 L373.2,87.9 L372.9,88.3 L371.5,88.3 L371.2,87.9 L370.9,87.6 L370.6,87.2 L370.3,87.0 L370.2,86.8 L370.1,86.5 L370.1,86.1 L370.1,85.8 L370.0,85.4 L370.0,85.0 L370.0,84.7 L370.0,84.3 L370.0,84.0 L370.0,83.6 L370.0,83.2 L370.0,82.9 L370.0,82.5 L370.1,82.1 L370.1,81.8 L370.1,81.4 L370.2,81.0 L370.3,81.0 L370.7,80.7 L371.0,80.3 L371.3,80.0 L371.5,79.6 Z" fill="#f7941d" fill-opacity="0.85" stroke="#f7941d" stroke-width="0.6"/>
<circle cx="372.2" cy="79.6" r="1.15" fill="#e38510"/>
<circle cx="372.2" cy="88.3" r="1.15" fill="#e38510"/>
<circle cx="371.4" cy="81.4" r="1.15" fill="#e38510"/>
<circle cx="372.7" cy="82.8" r="1.15" fill="#e38510"/>
<circle cx="371.7" cy="84.4" r="1.15" fill="#e38510"/>
<circle cx="372.9" cy="86.1" r="1.15" fill="#e38510"/>
<line x1="379.3" y1="55.6" x2="379.3" y2="88.8" stroke="#c9c9c9" stroke-width="0.75"/>
<path d="M379.6,55.6 L379.6,57.0 L379.6,58.4 L379.6,59.8 L379.6,61.1 L379.6,62.5 L380.2,63.9 L381.2,65.0 L381.3,65.3 L381.4,66.7 L381.5,68.0 L381.5,69.4 L381.5,70.8 L381.5,72.2 L381.5,73.6 L381.5,75.0 L381.4,76.3 L381.3,77.7 L381.2,78.0 L380.2,79.1 L379.6,80.5 L379.6,81.9 L379.6,83.3 L379.6,84.7 L379.6,86.0 L379.6,87.4 L379.6,88.8 L379.1,88.8 L379.1,87.4 L379.1,86.0 L379.1,84.7 L379.1,83.3 L379.1,81.9 L379.0,80.5 L378.4,79.1 L377.4,78.0 L377.3,77.7 L377.2,76.3 L377.1,75.0 L377.1,73.6 L377.1,72.2 L377.1,70.8 L377.1,69.4 L377.1,68.0 L377.2,66.7 L377.3,65.3 L377.4,65.0 L378.4,63.9 L379.0,62.5 L379.1,61.1 L379.1,59.8 L379.1,58.4 L379.1,57.0 L379.1,55.6 Z" fill="#c9c9c9" fill-opacity="0.6" stroke="#c9c9c9" stroke-width="0.6"/>
<path d="M378.3,56.4 L380.3,56.4 L379.3,54.6 Z" fill="#b0b0b0"/>
<path d="M378.3,89.6 L380.3,89.6 L379.3,87.8 Z" fill="#b0b0b0"/>
<path d="M378.2,66.7 L380.2,66.7 L379.2,64.9 Z" fill="#b0b0b0"/>
<path d="M379.1,69.7 L381.1,69.7 L380.1,67.9 Z" fill="#b0b0b0"/>
<path d="M379.0,72.6 L381.0,72.6 L380.0,70.8 Z" fill="#b0b0b0"/>
<path d="M378.1,74.7 L380.1,74.7 L379.1,72.9 Z" fill="#b0b0b0"/>
<path d="M379.1,77.4 L381.1,77.4 L380.1,75.6 Z" fill="#b0b0b0"/>
<line x1="294.5" y1="90.8" x2="303.2" y2="90.8" stroke="#2b2b2b" stroke-width="1.3"/>
<text transform="translate(298.85 88.86) scale(0.995 1)" font-size="5.9" text-anchor="middle" font-weight="normal" fill="#2b2b2b" stroke="#2b2b2b" stroke-width="0.18">ns</text>
<line x1="308.7" y1="71.9" x2="317.6" y2="71.9" stroke="#2b2b2b" stroke-width="1.3"/>
<path d="M308.80,67.45 L308.80,69.35 M307.98,67.93 L309.62,68.88 M309.62,67.93 L307.98,68.88 " stroke="#2b2b2b" stroke-width="0.75" stroke-linecap="round"/>
<path d="M311.70,67.45 L311.70,69.35 M310.88,67.93 L312.52,68.88 M312.52,67.93 L310.88,68.88 " stroke="#2b2b2b" stroke-width="0.75" stroke-linecap="round"/>
<path d="M314.60,67.45 L314.60,69.35 M313.78,67.93 L315.42,68.88 M315.42,67.93 L313.78,68.88 " stroke="#2b2b2b" stroke-width="0.75" stroke-linecap="round"/>
<path d="M317.50,67.45 L317.50,69.35 M316.68,67.93 L318.32,68.88 M318.32,67.93 L316.68,68.88 " stroke="#2b2b2b" stroke-width="0.75" stroke-linecap="round"/>
<line x1="323.4" y1="61.9" x2="332.1" y2="61.9" stroke="#2b2b2b" stroke-width="1.3"/>
<path d="M323.40,57.45 L323.40,59.35 M322.58,57.92 L324.22,58.88 M324.22,57.92 L322.58,58.88 " stroke="#2b2b2b" stroke-width="0.75" stroke-linecap="round"/>
<path d="M326.30,57.45 L326.30,59.35 M325.48,57.92 L327.12,58.88 M327.12,57.92 L325.48,58.88 " stroke="#2b2b2b" stroke-width="0.75" stroke-linecap="round"/>
<path d="M329.20,57.45 L329.20,59.35 M328.38,57.92 L330.02,58.88 M330.02,57.92 L328.38,58.88 " stroke="#2b2b2b" stroke-width="0.75" stroke-linecap="round"/>
<path d="M332.10,57.45 L332.10,59.35 M331.28,57.92 L332.92,58.88 M332.92,57.92 L331.28,58.88 " stroke="#2b2b2b" stroke-width="0.75" stroke-linecap="round"/>
<line x1="343.0" y1="53.1" x2="351.3" y2="53.1" stroke="#2b2b2b" stroke-width="1.3"/>
<path d="M342.80,48.65 L342.80,50.55 M341.98,49.12 L343.62,50.08 M343.62,49.12 L341.98,50.08 " stroke="#2b2b2b" stroke-width="0.75" stroke-linecap="round"/>
<path d="M345.70,48.65 L345.70,50.55 M344.88,49.12 L346.52,50.08 M346.52,49.12 L344.88,50.08 " stroke="#2b2b2b" stroke-width="0.75" stroke-linecap="round"/>
<path d="M348.60,48.65 L348.60,50.55 M347.78,49.12 L349.42,50.08 M349.42,49.12 L347.78,50.08 " stroke="#2b2b2b" stroke-width="0.75" stroke-linecap="round"/>
<path d="M351.50,48.65 L351.50,50.55 M350.68,49.12 L352.32,50.08 M352.32,49.12 L350.68,50.08 " stroke="#2b2b2b" stroke-width="0.75" stroke-linecap="round"/>
<line x1="356.4" y1="59.4" x2="365.7" y2="59.4" stroke="#2b2b2b" stroke-width="1.3"/>
<path d="M356.70,54.95 L356.70,56.85 M355.88,55.42 L357.52,56.38 M357.52,55.42 L355.88,56.38 " stroke="#2b2b2b" stroke-width="0.75" stroke-linecap="round"/>
<path d="M359.60,54.95 L359.60,56.85 M358.78,55.42 L360.42,56.38 M360.42,55.42 L358.78,56.38 " stroke="#2b2b2b" stroke-width="0.75" stroke-linecap="round"/>
<path d="M362.50,54.95 L362.50,56.85 M361.68,55.42 L363.32,56.38 M363.32,55.42 L361.68,56.38 " stroke="#2b2b2b" stroke-width="0.75" stroke-linecap="round"/>
<path d="M365.40,54.95 L365.40,56.85 M364.58,55.42 L366.22,56.38 M366.22,55.42 L364.58,56.38 " stroke="#2b2b2b" stroke-width="0.75" stroke-linecap="round"/>
<line x1="371.4" y1="51.7" x2="380.1" y2="51.7" stroke="#2b2b2b" stroke-width="1.3"/>
<path d="M374.30,47.25 L374.30,49.15 M373.48,47.73 L375.12,48.68 M375.12,47.73 L373.48,48.68 " stroke="#2b2b2b" stroke-width="0.75" stroke-linecap="round"/>
<path d="M377.20,47.25 L377.20,49.15 M376.38,47.73 L378.02,48.68 M378.02,47.73 L376.38,48.68 " stroke="#2b2b2b" stroke-width="0.75" stroke-linecap="round"/>
<line x1="422.2" y1="49.6" x2="422.2" y2="117.3" stroke="#2b2b2b" stroke-width="1.25"/>
<line x1="421.59999999999997" y1="117.3" x2="520" y2="117.3" stroke="#2b2b2b" stroke-width="1.3"/>
<line x1="419.0" y1="52.1" x2="422.2" y2="52.1" stroke="#2b2b2b" stroke-width="1.0"/>
<text transform="translate(417.00 54.27)" font-size="6.2" text-anchor="end" font-weight="normal" fill="#2b2b2b" stroke="#2b2b2b" stroke-width="0.1">10<tspan font-size="3.84" dy="-2.48">5</tspan></text>
<line x1="419.0" y1="65.12" x2="422.2" y2="65.12" stroke="#2b2b2b" stroke-width="1.0"/>
<text transform="translate(417.00 67.29)" font-size="6.2" text-anchor="end" font-weight="normal" fill="#2b2b2b" stroke="#2b2b2b" stroke-width="0.1">10<tspan font-size="3.84" dy="-2.48">4</tspan></text>
<line x1="419.0" y1="78.14" x2="422.2" y2="78.14" stroke="#2b2b2b" stroke-width="1.0"/>
<text transform="translate(417.00 80.31)" font-size="6.2" text-anchor="end" font-weight="normal" fill="#2b2b2b" stroke="#2b2b2b" stroke-width="0.1">10<tspan font-size="3.84" dy="-2.48">3</tspan></text>
<line x1="419.0" y1="91.16" x2="422.2" y2="91.16" stroke="#2b2b2b" stroke-width="1.0"/>
<text transform="translate(417.00 93.33)" font-size="6.2" text-anchor="end" font-weight="normal" fill="#2b2b2b" stroke="#2b2b2b" stroke-width="0.1">10<tspan font-size="3.84" dy="-2.48">2</tspan></text>
<line x1="419.0" y1="104.18" x2="422.2" y2="104.18" stroke="#2b2b2b" stroke-width="1.0"/>
<text transform="translate(417.00 106.35)" font-size="6.2" text-anchor="end" font-weight="normal" fill="#2b2b2b" stroke="#2b2b2b" stroke-width="0.1">10<tspan font-size="3.84" dy="-2.48">1</tspan></text>
<line x1="419.0" y1="117.19999999999999" x2="422.2" y2="117.19999999999999" stroke="#2b2b2b" stroke-width="1.0"/>
<text transform="translate(417.00 119.37)" font-size="6.2" text-anchor="end" font-weight="normal" fill="#2b2b2b" stroke="#2b2b2b" stroke-width="0.1">10<tspan font-size="3.84" dy="-2.48">0</tspan></text>
<line x1="446.9" y1="117.3" x2="446.9" y2="119.7" stroke="#2b2b2b" stroke-width="1.0"/>
<text transform="translate(446.90 129.14)" font-size="6.4" text-anchor="middle" font-weight="normal" fill="#2b2b2b" stroke="#2b2b2b" stroke-width="0.14">BM</text>
<line x1="495.3" y1="117.3" x2="495.3" y2="119.7" stroke="#2b2b2b" stroke-width="1.0"/>
<text transform="translate(495.30 129.14)" font-size="6.4" text-anchor="middle" font-weight="normal" fill="#2b2b2b" stroke="#2b2b2b" stroke-width="0.14">Spleen</text>
<text transform="translate(403.16 84.70) rotate(-90) scale(0.953 1)" font-size="5.3" text-anchor="middle" font-weight="normal" fill="#2b2b2b" stroke="#2b2b2b" stroke-width="0.12"># of CD8<tspan font-size="3.29" dy="-2.12">+</tspan><tspan dy="2.12"> CAR-T cells</tspan></text>
<line x1="428.7" y1="78.7" x2="428.7" y2="99.8" stroke="#1b4587" stroke-width="0.75"/>
<path d="M428.9,78.7 L428.9,79.6 L429.1,80.5 L429.5,81.3 L430.2,82.2 L430.6,82.5 L430.7,83.1 L430.8,84.0 L430.8,84.8 L430.8,85.7 L430.9,86.6 L430.9,87.5 L430.9,88.4 L430.9,89.2 L430.9,90.1 L430.9,91.0 L430.9,91.9 L430.9,92.8 L430.9,93.7 L430.8,94.5 L430.8,95.4 L430.8,96.3 L430.7,97.2 L430.6,97.9 L430.4,98.0 L429.6,98.9 L429.2,99.8 L428.2,99.8 L427.8,98.9 L427.0,98.0 L426.8,97.9 L426.7,97.2 L426.6,96.3 L426.6,95.4 L426.6,94.5 L426.5,93.7 L426.5,92.8 L426.5,91.9 L426.5,91.0 L426.5,90.1 L426.5,89.2 L426.5,88.4 L426.5,87.5 L426.5,86.6 L426.6,85.7 L426.6,84.8 L426.6,84.0 L426.7,83.1 L426.8,82.5 L427.2,82.2 L427.9,81.3 L428.3,80.5 L428.4,79.6 L428.4,78.7 Z" fill="#1b4587" fill-opacity="0.7649999999999998" stroke="#1b4587" stroke-width="0.6"/>
<circle cx="428.7" cy="78.7" r="1.15" fill="#143668"/>
<circle cx="428.7" cy="99.8" r="1.15" fill="#143668"/>
<circle cx="428.0" cy="84.2" r="1.15" fill="#143668"/>
<circle cx="428.2" cy="86.0" r="1.15" fill="#143668"/>
<circle cx="428.7" cy="88.7" r="1.15" fill="#143668"/>
<circle cx="428.2" cy="91.6" r="1.15" fill="#143668"/>
<circle cx="428.5" cy="93.6" r="1.15" fill="#143668"/>
<circle cx="428.8" cy="96.5" r="1.15" fill="#143668"/>
<line x1="436.3" y1="89.2" x2="436.3" y2="118" stroke="#35a83a" stroke-width="0.75"/>
<path d="M437.2,89.2 L438.2,90.2 L438.3,90.4 L438.4,91.6 L438.5,92.8 L438.5,94.0 L438.5,95.2 L438.5,96.4 L438.5,97.6 L438.4,98.8 L438.4,100.0 L438.2,100.8 L437.7,101.2 L436.9,102.4 L436.6,103.6 L436.6,104.8 L436.6,106.0 L436.6,107.2 L436.6,108.4 L436.6,109.6 L436.6,110.8 L436.6,112.0 L436.6,113.2 L436.6,114.4 L436.6,115.6 L436.6,116.8 L436.6,118.0 L436.1,118.0 L436.1,116.8 L436.1,115.6 L436.1,114.4 L436.1,113.2 L436.1,112.0 L436.1,110.8 L436.1,109.6 L436.1,108.4 L436.1,107.2 L436.1,106.0 L436.1,104.8 L436.0,103.6 L435.7,102.4 L434.9,101.2 L434.4,100.8 L434.2,100.0 L434.2,98.8 L434.1,97.6 L434.1,96.4 L434.1,95.2 L434.1,94.0 L434.1,92.8 L434.2,91.6 L434.3,90.4 L434.4,90.2 L435.4,89.2 Z" fill="#35a83a" fill-opacity="0.85" stroke="#35a83a" stroke-width="0.6"/>
<circle cx="436.3" cy="89.2" r="1.15" fill="#2a8a2e"/>
<circle cx="436.3" cy="118.0" r="1.15" fill="#2a8a2e"/>
<circle cx="436.7" cy="92.0" r="1.15" fill="#2a8a2e"/>
<circle cx="436.5" cy="94.2" r="1.15" fill="#2a8a2e"/>
<circle cx="435.4" cy="97.0" r="1.15" fill="#2a8a2e"/>
<circle cx="436.9" cy="99.9" r="1.15" fill="#2a8a2e"/>
<line x1="443.5" y1="75.8" x2="443.5" y2="88.3" stroke="#e6007e" stroke-width="0.75"/>
<path d="M444.3,75.8 L444.7,76.3 L445.2,76.8 L445.4,77.0 L445.5,77.4 L445.6,77.9 L445.6,78.4 L445.6,78.9 L445.7,79.5 L445.7,80.0 L445.7,80.5 L445.7,81.0 L445.7,81.5 L445.7,82.0 L445.7,82.6 L445.7,83.1 L445.7,83.6 L445.7,84.1 L445.7,84.7 L445.6,85.2 L445.6,85.7 L445.6,86.2 L445.5,86.7 L445.4,87.0 L445.1,87.3 L444.6,87.8 L444.2,88.3 L442.8,88.3 L442.4,87.8 L441.9,87.3 L441.6,87.0 L441.5,86.7 L441.4,86.2 L441.4,85.7 L441.4,85.2 L441.3,84.7 L441.3,84.1 L441.3,83.6 L441.3,83.1 L441.3,82.6 L441.3,82.0 L441.3,81.5 L441.3,81.0 L441.3,80.5 L441.3,80.0 L441.3,79.5 L441.4,78.9 L441.4,78.4 L441.4,77.9 L441.5,77.4 L441.6,77.0 L441.8,76.8 L442.3,76.3 L442.7,75.8 Z" fill="#e6007e" fill-opacity="0.85" stroke="#e6007e" stroke-width="0.6"/>
<circle cx="443.5" cy="75.8" r="1.15" fill="#c4006a"/>
<circle cx="443.5" cy="88.3" r="1.15" fill="#c4006a"/>
<circle cx="444.1" cy="78.6" r="1.15" fill="#c4006a"/>
<circle cx="443.3" cy="80.6" r="1.15" fill="#c4006a"/>
<circle cx="443.8" cy="82.9" r="1.15" fill="#c4006a"/>
<circle cx="442.6" cy="85.3" r="1.15" fill="#c4006a"/>
<line x1="450.4" y1="74.8" x2="450.4" y2="85.4" stroke="#4a1550" stroke-width="0.75"/>
<path d="M451.2,74.8 L451.5,75.2 L451.9,75.7 L452.3,76.0 L452.4,76.1 L452.5,76.6 L452.5,77.0 L452.5,77.5 L452.6,77.9 L452.6,78.3 L452.6,78.8 L452.6,79.2 L452.6,79.7 L452.6,80.1 L452.6,80.5 L452.6,81.0 L452.6,81.4 L452.6,81.9 L452.5,82.3 L452.5,82.8 L452.5,83.2 L452.4,83.6 L452.3,84.0 L452.2,84.1 L451.7,84.5 L451.4,85.0 L451.1,85.4 L449.7,85.4 L449.4,85.0 L449.1,84.5 L448.6,84.1 L448.5,84.0 L448.4,83.6 L448.3,83.2 L448.3,82.8 L448.3,82.3 L448.2,81.9 L448.2,81.4 L448.2,81.0 L448.2,80.5 L448.2,80.1 L448.2,79.7 L448.2,79.2 L448.2,78.8 L448.2,78.3 L448.2,77.9 L448.3,77.5 L448.3,77.0 L448.3,76.6 L448.4,76.1 L448.5,76.0 L448.9,75.7 L449.3,75.2 L449.6,74.8 Z" fill="#4a1550" fill-opacity="0.85" stroke="#4a1550" stroke-width="0.6"/>
<circle cx="450.4" cy="74.8" r="1.15" fill="#380e3c"/>
<circle cx="450.4" cy="85.4" r="1.15" fill="#380e3c"/>
<circle cx="449.7" cy="76.7" r="1.15" fill="#380e3c"/>
<circle cx="449.5" cy="78.8" r="1.15" fill="#380e3c"/>
<circle cx="449.7" cy="80.5" r="1.15" fill="#380e3c"/>
<circle cx="450.1" cy="82.6" r="1.15" fill="#380e3c"/>
<line x1="457.5" y1="70" x2="457.5" y2="80.6" stroke="#f7941d" stroke-width="0.75"/>
<path d="M458.0,70.0 L458.1,70.4 L458.4,70.9 L458.7,71.3 L459.1,71.8 L459.4,72.0 L459.5,72.2 L459.6,72.7 L459.6,73.1 L459.6,73.5 L459.7,74.0 L459.7,74.4 L459.7,74.9 L459.7,75.3 L459.7,75.7 L459.7,76.2 L459.7,76.6 L459.7,77.1 L459.7,77.5 L459.7,78.0 L459.6,78.4 L459.6,78.8 L459.6,79.3 L459.5,79.7 L459.4,80.0 L459.2,80.2 L458.7,80.6 L456.3,80.6 L455.8,80.2 L455.6,80.0 L455.5,79.7 L455.4,79.3 L455.4,78.8 L455.4,78.4 L455.3,78.0 L455.3,77.5 L455.3,77.1 L455.3,76.6 L455.3,76.2 L455.3,75.7 L455.3,75.3 L455.3,74.9 L455.3,74.4 L455.3,74.0 L455.4,73.5 L455.4,73.1 L455.4,72.7 L455.5,72.2 L455.6,72.0 L455.9,71.8 L456.3,71.3 L456.6,70.9 L456.9,70.4 L457.0,70.0 Z" fill="#f7941d" fill-opacity="0.85" stroke="#f7941d" stroke-width="0.6"/>
<circle cx="457.5" cy="70.0" r="1.15" fill="#e38510"/>
<circle cx="457.5" cy="80.6" r="1.15" fill="#e38510"/>
<circle cx="458.2" cy="72.5" r="1.15" fill="#e38510"/>
<circle cx="456.8" cy="75.1" r="1.15" fill="#e38510"/>
<circle cx="457.2" cy="76.8" r="1.15" fill="#e38510"/>
<circle cx="456.8" cy="78.9" r="1.15" fill="#e38510"/>
<line x1="465.2" y1="65.2" x2="465.2" y2="85.4" stroke="#c9c9c9" stroke-width="0.75"/>
<path d="M465.4,65.2 L465.4,66.0 L465.4,66.9 L465.4,67.7 L465.4,68.6 L465.5,69.4 L465.7,70.2 L466.2,71.1 L467.0,71.9 L467.1,72.0 L467.3,72.8 L467.3,73.6 L467.4,74.5 L467.4,75.3 L467.4,76.1 L467.4,77.0 L467.4,77.8 L467.3,78.7 L467.3,79.5 L467.1,80.0 L466.7,80.3 L466.0,81.2 L465.6,82.0 L465.4,82.9 L465.4,83.7 L465.4,84.6 L465.4,85.4 L464.9,85.4 L464.9,84.6 L464.9,83.7 L464.9,82.9 L464.8,82.0 L464.4,81.2 L463.7,80.3 L463.3,80.0 L463.1,79.5 L463.1,78.7 L463.0,77.8 L463.0,77.0 L463.0,76.1 L463.0,75.3 L463.0,74.5 L463.1,73.6 L463.1,72.8 L463.3,72.0 L463.4,71.9 L464.2,71.1 L464.7,70.2 L464.9,69.4 L464.9,68.6 L464.9,67.7 L464.9,66.9 L464.9,66.0 L464.9,65.2 Z" fill="#c9c9c9" fill-opacity="0.6" stroke="#c9c9c9" stroke-width="0.6"/>
<path d="M464.2,66.0 L466.2,66.0 L465.2,64.2 Z" fill="#b0b0b0"/>
<path d="M464.2,86.2 L466.2,86.2 L465.2,84.4 Z" fill="#b0b0b0"/>
<path d="M465.2,74.1 L467.2,74.1 L466.2,72.3 Z" fill="#b0b0b0"/>
<path d="M464.2,75.8 L466.2,75.8 L465.2,74.0 Z" fill="#b0b0b0"/>
<path d="M463.4,77.4 L465.4,77.4 L464.4,75.6 Z" fill="#b0b0b0"/>
<path d="M463.7,79.6 L465.7,79.6 L464.7,77.8 Z" fill="#b0b0b0"/>
<line x1="476.7" y1="57" x2="476.7" y2="77.7" stroke="#1b4587" stroke-width="0.75"/>
<path d="M477.6,57.0 L478.4,57.9 L478.6,58.0 L478.7,58.7 L478.8,59.6 L478.8,60.5 L478.9,61.3 L478.9,62.2 L478.9,63.0 L478.9,63.9 L478.9,64.8 L478.9,65.6 L478.9,66.5 L478.9,67.3 L478.9,68.2 L478.8,69.1 L478.8,69.9 L478.8,70.8 L478.7,71.7 L478.6,72.0 L478.0,72.5 L477.4,73.4 L477.1,74.2 L476.9,75.1 L476.9,76.0 L476.9,76.8 L476.9,77.7 L476.4,77.7 L476.4,76.8 L476.4,76.0 L476.4,75.1 L476.3,74.2 L476.0,73.4 L475.4,72.5 L474.8,72.0 L474.7,71.7 L474.6,70.8 L474.6,69.9 L474.6,69.1 L474.5,68.2 L474.5,67.3 L474.5,66.5 L474.5,65.6 L474.5,64.8 L474.5,63.9 L474.5,63.0 L474.5,62.2 L474.5,61.3 L474.6,60.5 L474.6,59.6 L474.7,58.7 L474.8,58.0 L475.0,57.9 L475.8,57.0 Z" fill="#1b4587" fill-opacity="0.7999999999999999" stroke="#1b4587" stroke-width="0.6"/>
<circle cx="476.7" cy="57.0" r="1.15" fill="#143668"/>
<circle cx="476.7" cy="77.7" r="1.15" fill="#143668"/>
<circle cx="476.0" cy="59.7" r="1.15" fill="#143668"/>
<circle cx="477.6" cy="61.7" r="1.15" fill="#143668"/>
<circle cx="476.0" cy="65.0" r="1.15" fill="#143668"/>
<circle cx="475.8" cy="67.8" r="1.15" fill="#143668"/>
<circle cx="477.6" cy="70.6" r="1.15" fill="#143668"/>
<line x1="484.4" y1="71.9" x2="484.4" y2="87.3" stroke="#35a83a" stroke-width="0.75"/>
<path d="M485.3,71.9 L485.8,72.5 L486.3,73.0 L486.4,73.2 L486.5,73.8 L486.5,74.5 L486.5,75.1 L486.6,75.8 L486.6,76.4 L486.6,77.0 L486.6,77.7 L486.6,78.3 L486.6,79.0 L486.6,79.6 L486.6,80.2 L486.6,80.9 L486.6,81.5 L486.5,82.2 L486.5,82.8 L486.4,83.5 L486.3,84.0 L486.2,84.1 L485.5,84.7 L485.1,85.4 L484.8,86.0 L484.7,86.7 L484.6,87.3 L484.1,87.3 L484.1,86.7 L484.0,86.0 L483.7,85.4 L483.3,84.7 L482.6,84.1 L482.5,84.0 L482.4,83.5 L482.3,82.8 L482.3,82.2 L482.2,81.5 L482.2,80.9 L482.2,80.2 L482.2,79.6 L482.2,79.0 L482.2,78.3 L482.2,77.7 L482.2,77.0 L482.2,76.4 L482.2,75.8 L482.3,75.1 L482.3,74.5 L482.3,73.8 L482.4,73.2 L482.5,73.0 L483.0,72.5 L483.5,71.9 Z" fill="#35a83a" fill-opacity="0.85" stroke="#35a83a" stroke-width="0.6"/>
<circle cx="484.4" cy="71.9" r="1.15" fill="#2a8a2e"/>
<circle cx="484.4" cy="87.3" r="1.15" fill="#2a8a2e"/>
<circle cx="484.8" cy="74.7" r="1.15" fill="#2a8a2e"/>
<circle cx="484.1" cy="76.9" r="1.15" fill="#2a8a2e"/>
<circle cx="484.9" cy="79.5" r="1.15" fill="#2a8a2e"/>
<circle cx="485.0" cy="82.7" r="1.15" fill="#2a8a2e"/>
<line x1="491.5" y1="61.3" x2="491.5" y2="73.8" stroke="#e6007e" stroke-width="0.75"/>
<path d="M492.1,61.3 L492.3,61.8 L492.7,62.3 L493.2,62.9 L493.4,63.0 L493.5,63.4 L493.6,63.9 L493.6,64.4 L493.6,65.0 L493.7,65.5 L493.7,66.0 L493.7,66.5 L493.7,67.0 L493.7,67.5 L493.7,68.1 L493.7,68.6 L493.7,69.1 L493.7,69.6 L493.6,70.2 L493.6,70.7 L493.6,71.2 L493.5,71.7 L493.4,72.0 L493.1,72.2 L492.6,72.8 L492.3,73.3 L492.0,73.8 L491.0,73.8 L490.7,73.3 L490.4,72.8 L489.9,72.2 L489.6,72.0 L489.5,71.7 L489.4,71.2 L489.4,70.7 L489.4,70.2 L489.3,69.6 L489.3,69.1 L489.3,68.6 L489.3,68.1 L489.3,67.5 L489.3,67.0 L489.3,66.5 L489.3,66.0 L489.3,65.5 L489.4,65.0 L489.4,64.4 L489.4,63.9 L489.5,63.4 L489.6,63.0 L489.8,62.9 L490.3,62.3 L490.7,61.8 L490.9,61.3 Z" fill="#e6007e" fill-opacity="0.85" stroke="#e6007e" stroke-width="0.6"/>
<circle cx="491.5" cy="61.3" r="1.15" fill="#c4006a"/>
<circle cx="491.5" cy="73.8" r="1.15" fill="#c4006a"/>
<circle cx="491.0" cy="64.0" r="1.15" fill="#c4006a"/>
<circle cx="492.5" cy="66.7" r="1.15" fill="#c4006a"/>
<circle cx="492.1" cy="69.0" r="1.15" fill="#c4006a"/>
<circle cx="492.0" cy="71.2" r="1.15" fill="#c4006a"/>
<line x1="498.8" y1="56.5" x2="498.8" y2="69" stroke="#4a1550" stroke-width="0.75"/>
<path d="M499.4,56.5 L499.7,57.0 L500.2,57.5 L500.7,58.0 L500.8,58.1 L500.8,58.6 L500.9,59.1 L500.9,59.6 L500.9,60.1 L501.0,60.7 L501.0,61.2 L501.0,61.7 L501.0,62.2 L501.0,62.8 L501.0,63.3 L501.0,63.8 L501.0,64.3 L501.0,64.8 L501.0,65.3 L500.9,65.9 L500.9,66.4 L500.9,66.9 L500.8,67.4 L500.7,68.0 L500.7,68.0 L500.1,68.5 L499.7,69.0 L497.9,69.0 L497.5,68.5 L496.9,68.0 L496.9,68.0 L496.8,67.4 L496.7,66.9 L496.7,66.4 L496.7,65.9 L496.6,65.3 L496.6,64.8 L496.6,64.3 L496.6,63.8 L496.6,63.3 L496.6,62.8 L496.6,62.2 L496.6,61.7 L496.6,61.2 L496.6,60.7 L496.7,60.1 L496.7,59.6 L496.7,59.1 L496.8,58.6 L496.8,58.1 L496.9,58.0 L497.4,57.5 L497.9,57.0 L498.2,56.5 Z" fill="#4a1550" fill-opacity="0.85" stroke="#4a1550" stroke-width="0.6"/>
<circle cx="498.8" cy="56.5" r="1.15" fill="#380e3c"/>
<circle cx="498.8" cy="69.0" r="1.15" fill="#380e3c"/>
<circle cx="498.8" cy="59.0" r="1.15" fill="#380e3c"/>
<circle cx="497.9" cy="61.6" r="1.15" fill="#380e3c"/>
<circle cx="498.4" cy="63.8" r="1.15" fill="#380e3c"/>
<circle cx="499.2" cy="66.5" r="1.15" fill="#380e3c"/>
<line x1="505.6" y1="70" x2="505.6" y2="80.6" stroke="#f7941d" stroke-width="0.75"/>
<path d="M506.1,70.0 L506.2,70.4 L506.5,70.9 L506.8,71.3 L507.2,71.8 L507.5,72.0 L507.6,72.2 L507.7,72.7 L507.7,73.1 L507.7,73.5 L507.8,74.0 L507.8,74.4 L507.8,74.9 L507.8,75.3 L507.8,75.7 L507.8,76.2 L507.8,76.6 L507.8,77.1 L507.8,77.5 L507.8,78.0 L507.7,78.4 L507.7,78.8 L507.7,79.3 L507.6,79.7 L507.5,80.0 L507.3,80.2 L506.8,80.6 L504.4,80.6 L503.9,80.2 L503.7,80.0 L503.6,79.7 L503.5,79.3 L503.5,78.8 L503.5,78.4 L503.4,78.0 L503.4,77.5 L503.4,77.1 L503.4,76.6 L503.4,76.2 L503.4,75.7 L503.4,75.3 L503.4,74.9 L503.4,74.4 L503.4,74.0 L503.5,73.5 L503.5,73.1 L503.5,72.7 L503.6,72.2 L503.7,72.0 L504.0,71.8 L504.4,71.3 L504.7,70.9 L505.0,70.4 L505.1,70.0 Z" fill="#f7941d" fill-opacity="0.85" stroke="#f7941d" stroke-width="0.6"/>
<circle cx="505.6" cy="70.0" r="1.15" fill="#e38510"/>
<circle cx="505.6" cy="80.6" r="1.15" fill="#e38510"/>
<circle cx="505.5" cy="73.5" r="1.15" fill="#e38510"/>
<circle cx="506.6" cy="75.4" r="1.15" fill="#e38510"/>
<circle cx="505.3" cy="77.5" r="1.15" fill="#e38510"/>
<circle cx="505.1" cy="78.7" r="1.15" fill="#e38510"/>
<line x1="513.3" y1="53.7" x2="513.3" y2="87.3" stroke="#c9c9c9" stroke-width="0.75"/>
<path d="M513.5,53.7 L513.5,55.1 L513.5,56.5 L513.5,57.9 L513.5,59.3 L513.5,60.7 L513.5,62.1 L513.5,63.5 L513.5,64.9 L513.5,66.3 L513.7,67.7 L514.3,69.1 L515.2,70.0 L515.3,70.5 L515.4,71.9 L515.5,73.3 L515.5,74.7 L515.5,76.1 L515.5,77.5 L515.4,78.9 L515.2,80.0 L514.8,80.3 L513.9,81.7 L513.5,83.1 L513.5,84.5 L513.5,85.9 L513.5,87.3 L513.0,87.3 L513.0,85.9 L513.0,84.5 L513.0,83.1 L512.7,81.7 L511.8,80.3 L511.4,80.0 L511.2,78.9 L511.1,77.5 L511.1,76.1 L511.1,74.7 L511.1,73.3 L511.2,71.9 L511.3,70.5 L511.4,70.0 L512.3,69.1 L512.9,67.7 L513.0,66.3 L513.0,64.9 L513.0,63.5 L513.0,62.1 L513.0,60.7 L513.0,59.3 L513.0,57.9 L513.0,56.5 L513.0,55.1 L513.0,53.7 Z" fill="#c9c9c9" fill-opacity="0.6" stroke="#c9c9c9" stroke-width="0.6"/>
<path d="M512.3,54.5 L514.3,54.5 L513.3,52.7 Z" fill="#b0b0b0"/>
<path d="M512.3,88.1 L514.3,88.1 L513.3,86.3 Z" fill="#b0b0b0"/>
<path d="M511.7,71.7 L513.7,71.7 L512.7,69.9 Z" fill="#b0b0b0"/>
<path d="M513.1,74.7 L515.1,74.7 L514.1,72.9 Z" fill="#b0b0b0"/>
<path d="M512.3,77.4 L514.3,77.4 L513.3,75.6 Z" fill="#b0b0b0"/>
<path d="M512.9,79.7 L514.9,79.7 L513.9,77.9 Z" fill="#b0b0b0"/>
<line x1="427.9" y1="75.4" x2="437.1" y2="75.4" stroke="#2b2b2b" stroke-width="1.3"/>
<path d="M432.50,70.95 L432.50,72.85 M431.68,71.43 L433.32,72.38 M433.32,71.43 L431.68,72.38 " stroke="#2b2b2b" stroke-width="0.75" stroke-linecap="round"/>
<line x1="442.7" y1="69.6" x2="451.2" y2="69.6" stroke="#2b2b2b" stroke-width="1.3"/>
<text transform="translate(446.95 67.66) scale(0.995 1)" font-size="5.9" text-anchor="middle" font-weight="normal" fill="#2b2b2b" stroke="#2b2b2b" stroke-width="0.18">ns</text>
<line x1="456.7" y1="61.9" x2="466.0" y2="61.9" stroke="#2b2b2b" stroke-width="1.3"/>
<text transform="translate(461.35 59.96) scale(0.995 1)" font-size="5.9" text-anchor="middle" font-weight="normal" fill="#2b2b2b" stroke="#2b2b2b" stroke-width="0.18">ns</text>
<line x1="475.9" y1="53.1" x2="485.2" y2="53.1" stroke="#2b2b2b" stroke-width="1.3"/>
<path d="M477.65,48.65 L477.65,50.55 M476.83,49.12 L478.47,50.08 M478.47,49.12 L476.83,50.08 " stroke="#2b2b2b" stroke-width="0.75" stroke-linecap="round"/>
<path d="M480.55,48.65 L480.55,50.55 M479.73,49.12 L481.37,50.08 M481.37,49.12 L479.73,50.08 " stroke="#2b2b2b" stroke-width="0.75" stroke-linecap="round"/>
<path d="M483.45,48.65 L483.45,50.55 M482.63,49.12 L484.27,50.08 M484.27,49.12 L482.63,50.08 " stroke="#2b2b2b" stroke-width="0.75" stroke-linecap="round"/>
<line x1="490.7" y1="53.1" x2="499.6" y2="53.1" stroke="#2b2b2b" stroke-width="1.3"/>
<path d="M492.25,48.65 L492.25,50.55 M491.43,49.12 L493.07,50.08 M493.07,49.12 L491.43,50.08 " stroke="#2b2b2b" stroke-width="0.75" stroke-linecap="round"/>
<path d="M495.15,48.65 L495.15,50.55 M494.33,49.12 L495.97,50.08 M495.97,49.12 L494.33,50.08 " stroke="#2b2b2b" stroke-width="0.75" stroke-linecap="round"/>
<path d="M498.05,48.65 L498.05,50.55 M497.23,49.12 L498.87,50.08 M498.87,49.12 L497.23,50.08 " stroke="#2b2b2b" stroke-width="0.75" stroke-linecap="round"/>
<line x1="504.8" y1="51.2" x2="514.0999999999999" y2="51.2" stroke="#2b2b2b" stroke-width="1.3"/>
<text transform="translate(509.45 49.27) scale(0.995 1)" font-size="5.9" text-anchor="middle" font-weight="normal" fill="#2b2b2b" stroke="#2b2b2b" stroke-width="0.18">ns</text>
<text transform="translate(390.50 163.58) scale(0.992 1)" font-size="8.8" text-anchor="middle" font-weight="normal" fill="#2b2b2b" stroke="#2b2b2b" stroke-width="0.1">Percentages</text>
<text transform="translate(340.80 178.39)" font-size="7.7" text-anchor="middle" font-weight="normal" fill="#2b2b2b" stroke="#2b2b2b" stroke-width="0.1">CD4<tspan font-size="4.77" dy="-3.08">+</tspan><tspan dy="3.08"> CAR-T cells</tspan></text>
<text transform="translate(471.50 178.39)" font-size="7.7" text-anchor="middle" font-weight="normal" fill="#2b2b2b" stroke="#2b2b2b" stroke-width="0.1">CD8<tspan font-size="4.77" dy="-3.08">+</tspan><tspan dy="3.08"> CAR-T cells</tspan></text>
<line x1="291" y1="183.6" x2="291" y2="204" stroke="#2b2b2b" stroke-width="1.25"/>
<line x1="291" y1="209.6" x2="291" y2="251.6" stroke="#2b2b2b" stroke-width="1.25"/>
<line x1="288.2" y1="204" x2="293.8" y2="204" stroke="#2b2b2b" stroke-width="1.1"/>
<line x1="288.2" y1="209.6" x2="293.8" y2="209.6" stroke="#2b2b2b" stroke-width="1.1"/>
<line x1="290.4" y1="251.6" x2="386" y2="251.6" stroke="#2b2b2b" stroke-width="1.3"/>
<line x1="287.8" y1="186.3" x2="291" y2="186.3" stroke="#2b2b2b" stroke-width="1.0"/>
<text transform="translate(285.80 188.47)" font-size="6.2" text-anchor="end" font-weight="normal" fill="#2b2b2b" stroke="#2b2b2b" stroke-width="0.1">30</text>
<line x1="287.8" y1="193.5" x2="291" y2="193.5" stroke="#2b2b2b" stroke-width="1.0"/>
<text transform="translate(285.80 195.67)" font-size="6.2" text-anchor="end" font-weight="normal" fill="#2b2b2b" stroke="#2b2b2b" stroke-width="0.1">20</text>
<line x1="287.8" y1="200.9" x2="291" y2="200.9" stroke="#2b2b2b" stroke-width="1.0"/>
<text transform="translate(285.80 203.07)" font-size="6.2" text-anchor="end" font-weight="normal" fill="#2b2b2b" stroke="#2b2b2b" stroke-width="0.1">10</text>
<line x1="287.8" y1="210" x2="291" y2="210" stroke="#2b2b2b" stroke-width="1.0"/>
<text transform="translate(285.80 212.17)" font-size="6.2" text-anchor="end" font-weight="normal" fill="#2b2b2b" stroke="#2b2b2b" stroke-width="0.1">5.0</text>
<line x1="287.8" y1="230.9" x2="291" y2="230.9" stroke="#2b2b2b" stroke-width="1.0"/>
<text transform="translate(285.80 233.07)" font-size="6.2" text-anchor="end" font-weight="normal" fill="#2b2b2b" stroke="#2b2b2b" stroke-width="0.1">2.5</text>
<line x1="287.8" y1="251.6" x2="291" y2="251.6" stroke="#2b2b2b" stroke-width="1.0"/>
<text transform="translate(285.80 253.77)" font-size="6.2" text-anchor="end" font-weight="normal" fill="#2b2b2b" stroke="#2b2b2b" stroke-width="0.1">0.0</text>
<line x1="314.9" y1="251.6" x2="314.9" y2="254.0" stroke="#2b2b2b" stroke-width="1.0"/>
<text transform="translate(314.90 263.44)" font-size="6.4" text-anchor="middle" font-weight="normal" fill="#2b2b2b" stroke="#2b2b2b" stroke-width="0.14">BM</text>
<line x1="363" y1="251.6" x2="363" y2="254.0" stroke="#2b2b2b" stroke-width="1.0"/>
<text transform="translate(363.00 263.44)" font-size="6.4" text-anchor="middle" font-weight="normal" fill="#2b2b2b" stroke="#2b2b2b" stroke-width="0.14">Spleen</text>
<text transform="translate(270.36 218.95) rotate(-90) scale(0.986 1)" font-size="5.3" text-anchor="middle" font-weight="normal" fill="#2b2b2b" stroke="#2b2b2b" stroke-width="0.12">% CAR<tspan font-size="3.29" dy="-2.12">+</tspan><tspan dy="2.12"> of CD4</tspan><tspan font-size="3.29" dy="-2.12">+</tspan><tspan dy="2.12"> T cells</tspan></text>
<clipPath id="clip411"><rect x="291" y="0" width="100" height="204.5"/><rect x="291" y="209.1" width="100" height="47.0"/></clipPath><g clip-path="url(#clip411)">
<line x1="297.6" y1="229" x2="297.6" y2="249.2" stroke="#1b4587" stroke-width="0.75"/>
<path d="M297.9,229.0 L297.9,229.8 L297.9,230.7 L297.9,231.5 L297.9,232.4 L298.1,233.2 L298.6,234.1 L299.3,234.9 L299.5,235.0 L299.6,235.7 L299.7,236.6 L299.7,237.4 L299.8,238.3 L299.8,239.1 L299.8,239.9 L299.8,240.8 L299.8,241.6 L299.8,242.5 L299.8,243.3 L299.8,244.2 L299.8,245.0 L299.7,245.8 L299.7,246.7 L299.6,247.5 L299.5,248.0 L299.1,248.4 L298.4,249.2 L296.8,249.2 L296.1,248.4 L295.7,248.0 L295.6,247.5 L295.5,246.7 L295.5,245.8 L295.4,245.0 L295.4,244.2 L295.4,243.3 L295.4,242.5 L295.4,241.6 L295.4,240.8 L295.4,239.9 L295.4,239.1 L295.4,238.3 L295.5,237.4 L295.5,236.6 L295.6,235.7 L295.7,235.0 L295.9,234.9 L296.6,234.1 L297.1,233.2 L297.3,232.4 L297.4,231.5 L297.4,230.7 L297.4,229.8 L297.4,229.0 Z" fill="#1b4587" fill-opacity="0.825" stroke="#1b4587" stroke-width="0.6"/>
<circle cx="297.6" cy="229.0" r="1.15" fill="#143668"/>
<circle cx="297.6" cy="249.2" r="1.15" fill="#143668"/>
<circle cx="297.9" cy="235.9" r="1.15" fill="#143668"/>
<circle cx="298.2" cy="239.3" r="1.15" fill="#143668"/>
<circle cx="297.6" cy="241.8" r="1.15" fill="#143668"/>
<circle cx="298.2" cy="243.8" r="1.15" fill="#143668"/>
<circle cx="298.2" cy="246.5" r="1.15" fill="#143668"/>
<line x1="304.9" y1="234.8" x2="304.9" y2="249.6" stroke="#35a83a" stroke-width="0.75"/>
<path d="M305.3,234.8 L305.5,235.4 L305.8,236.0 L306.4,236.7 L306.8,237.0 L306.9,237.3 L307.0,237.9 L307.0,238.5 L307.0,239.1 L307.1,239.7 L307.1,240.3 L307.1,241.0 L307.1,241.6 L307.1,242.2 L307.1,242.8 L307.1,243.4 L307.1,244.1 L307.1,244.7 L307.1,245.3 L307.1,245.9 L307.0,246.5 L307.0,247.1 L307.0,247.8 L306.9,248.4 L306.8,249.0 L306.8,249.0 L306.1,249.6 L303.7,249.6 L303.0,249.0 L303.0,249.0 L302.9,248.4 L302.8,247.8 L302.8,247.1 L302.8,246.5 L302.7,245.9 L302.7,245.3 L302.7,244.7 L302.7,244.1 L302.7,243.4 L302.7,242.8 L302.7,242.2 L302.7,241.6 L302.7,241.0 L302.7,240.3 L302.7,239.7 L302.8,239.1 L302.8,238.5 L302.8,237.9 L302.9,237.3 L303.0,237.0 L303.4,236.7 L304.0,236.0 L304.3,235.4 L304.5,234.8 Z" fill="#35a83a" fill-opacity="0.85" stroke="#35a83a" stroke-width="0.6"/>
<circle cx="304.9" cy="234.8" r="1.15" fill="#2a8a2e"/>
<circle cx="304.9" cy="249.6" r="1.15" fill="#2a8a2e"/>
<circle cx="304.7" cy="238.7" r="1.15" fill="#2a8a2e"/>
<circle cx="305.8" cy="240.5" r="1.15" fill="#2a8a2e"/>
<circle cx="304.2" cy="243.2" r="1.15" fill="#2a8a2e"/>
<circle cx="304.2" cy="245.0" r="1.15" fill="#2a8a2e"/>
<circle cx="305.5" cy="248.2" r="1.15" fill="#2a8a2e"/>
<line x1="312" y1="243" x2="312" y2="250.2" stroke="#e6007e" stroke-width="0.75"/>
<path d="M312.9,243.0 L313.1,243.3 L313.4,243.6 L313.8,243.9 L313.9,244.0 L314.0,244.2 L314.1,244.5 L314.1,244.8 L314.1,245.1 L314.2,245.4 L314.2,245.7 L314.2,246.0 L314.2,246.3 L314.2,246.6 L314.2,246.9 L314.2,247.2 L314.2,247.5 L314.2,247.8 L314.2,248.1 L314.2,248.4 L314.1,248.7 L314.1,249.0 L314.1,249.3 L314.1,249.6 L314.0,249.9 L313.9,250.0 L313.6,250.2 L310.4,250.2 L310.1,250.0 L310.0,249.9 L309.9,249.6 L309.9,249.3 L309.9,249.0 L309.9,248.7 L309.8,248.4 L309.8,248.1 L309.8,247.8 L309.8,247.5 L309.8,247.2 L309.8,246.9 L309.8,246.6 L309.8,246.3 L309.8,246.0 L309.8,245.7 L309.8,245.4 L309.9,245.1 L309.9,244.8 L309.9,244.5 L310.0,244.2 L310.1,244.0 L310.2,243.9 L310.6,243.6 L310.9,243.3 L311.1,243.0 Z" fill="#e6007e" fill-opacity="0.85" stroke="#e6007e" stroke-width="0.6"/>
<circle cx="312.0" cy="243.0" r="1.15" fill="#c4006a"/>
<circle cx="312.0" cy="250.2" r="1.15" fill="#c4006a"/>
<circle cx="312.6" cy="244.4" r="1.15" fill="#c4006a"/>
<circle cx="312.3" cy="246.7" r="1.15" fill="#c4006a"/>
<circle cx="312.1" cy="247.6" r="1.15" fill="#c4006a"/>
<circle cx="311.0" cy="248.9" r="1.15" fill="#c4006a"/>
<line x1="318.8" y1="216.2" x2="318.8" y2="243.5" stroke="#4a1550" stroke-width="0.75"/>
<path d="M319.1,216.2 L319.1,217.3 L319.1,218.5 L319.1,219.6 L319.1,220.8 L319.1,221.9 L319.3,223.0 L319.8,224.2 L320.7,225.0 L320.8,225.3 L320.9,226.4 L320.9,227.6 L321.0,228.7 L321.0,229.8 L321.0,231.0 L321.0,232.1 L321.0,233.3 L321.0,234.4 L321.0,235.5 L320.9,236.7 L320.9,237.8 L320.9,238.9 L320.7,240.0 L320.6,240.1 L319.6,241.2 L319.2,242.4 L319.1,243.5 L318.6,243.5 L318.4,242.4 L318.0,241.2 L317.0,240.1 L316.9,240.0 L316.7,238.9 L316.7,237.8 L316.7,236.7 L316.6,235.5 L316.6,234.4 L316.6,233.3 L316.6,232.1 L316.6,231.0 L316.6,229.8 L316.6,228.7 L316.7,227.6 L316.7,226.4 L316.8,225.3 L316.9,225.0 L317.8,224.2 L318.3,223.0 L318.6,221.9 L318.6,220.8 L318.6,219.6 L318.6,218.5 L318.6,217.3 L318.6,216.2 Z" fill="#4a1550" fill-opacity="0.7749999999999999" stroke="#4a1550" stroke-width="0.6"/>
<circle cx="318.8" cy="216.2" r="1.15" fill="#380e3c"/>
<circle cx="318.8" cy="243.5" r="1.15" fill="#380e3c"/>
<circle cx="319.1" cy="226.7" r="1.15" fill="#380e3c"/>
<circle cx="319.7" cy="228.8" r="1.15" fill="#380e3c"/>
<circle cx="319.5" cy="231.2" r="1.15" fill="#380e3c"/>
<circle cx="318.2" cy="234.1" r="1.15" fill="#380e3c"/>
<circle cx="318.4" cy="236.0" r="1.15" fill="#380e3c"/>
<circle cx="319.0" cy="238.5" r="1.15" fill="#380e3c"/>
<line x1="326" y1="202.7" x2="326" y2="250.2" stroke="#f7941d" stroke-width="0.75"/>
<path d="M326.2,202.7 L326.2,204.7 L326.2,206.7 L326.2,208.6 L326.2,210.6 L326.2,212.6 L326.2,214.6 L326.2,216.6 L326.2,218.5 L326.2,220.5 L326.2,222.5 L326.2,224.5 L326.2,226.4 L326.2,228.4 L326.2,230.4 L326.2,232.4 L326.2,234.4 L326.2,236.3 L326.2,238.3 L326.4,240.3 L327.6,242.3 L327.9,242.5 L328.2,244.3 L328.2,246.2 L328.1,248.2 L327.9,249.5 L327.1,250.2 L324.9,250.2 L324.1,249.5 L323.9,248.2 L323.8,246.2 L323.8,244.3 L324.1,242.5 L324.4,242.3 L325.6,240.3 L325.8,238.3 L325.8,236.3 L325.8,234.4 L325.8,232.4 L325.8,230.4 L325.8,228.4 L325.8,226.4 L325.8,224.5 L325.8,222.5 L325.8,220.5 L325.8,218.5 L325.8,216.6 L325.8,214.6 L325.8,212.6 L325.8,210.6 L325.8,208.6 L325.8,206.7 L325.8,204.7 L325.8,202.7 Z" fill="#f7941d" fill-opacity="0.85" stroke="#f7941d" stroke-width="0.6"/>
<circle cx="326.0" cy="202.7" r="1.15" fill="#e38510"/>
<circle cx="326.0" cy="250.2" r="1.15" fill="#e38510"/>
<circle cx="325.8" cy="243.1" r="1.15" fill="#e38510"/>
<circle cx="326.8" cy="244.8" r="1.15" fill="#e38510"/>
<circle cx="325.9" cy="246.7" r="1.15" fill="#e38510"/>
<circle cx="326.8" cy="248.7" r="1.15" fill="#e38510"/>
<line x1="333.8" y1="195.4" x2="333.8" y2="219.4" stroke="#c9c9c9" stroke-width="0.75"/>
<path d="M335.6,195.4 L335.7,195.5 L335.8,196.4 L335.9,197.4 L335.9,198.4 L335.9,199.4 L336.0,200.4 L336.0,201.4 L336.0,202.4 L336.0,203.4 L336.0,204.4 L336.0,205.4 L336.0,206.4 L336.0,207.4 L336.0,208.4 L336.0,209.4 L336.0,210.4 L335.9,211.4 L335.9,212.4 L335.9,213.4 L335.8,214.4 L335.7,215.0 L335.2,215.4 L334.5,216.4 L334.1,217.4 L334.1,218.4 L334.1,219.4 L333.6,219.4 L333.6,218.4 L333.5,217.4 L333.1,216.4 L332.4,215.4 L331.9,215.0 L331.8,214.4 L331.7,213.4 L331.7,212.4 L331.7,211.4 L331.6,210.4 L331.6,209.4 L331.6,208.4 L331.6,207.4 L331.6,206.4 L331.6,205.4 L331.6,204.4 L331.6,203.4 L331.6,202.4 L331.6,201.4 L331.6,200.4 L331.7,199.4 L331.7,198.4 L331.7,197.4 L331.8,196.4 L331.9,195.5 L332.0,195.4 Z" fill="#c9c9c9" fill-opacity="0.6" stroke="#c9c9c9" stroke-width="0.6"/>
<path d="M332.8,196.2 L334.8,196.2 L333.8,194.4 Z" fill="#b0b0b0"/>
<path d="M332.8,220.2 L334.8,220.2 L333.8,218.4 Z" fill="#b0b0b0"/>
<path d="M333.6,197.4 L335.6,197.4 L334.6,195.6 Z" fill="#b0b0b0"/>
<path d="M332.9,200.0 L334.9,200.0 L333.9,198.2 Z" fill="#b0b0b0"/>
<path d="M331.8,202.4 L333.8,202.4 L332.8,200.6 Z" fill="#b0b0b0"/>
<path d="M332.2,204.8 L334.2,204.8 L333.2,203.0 Z" fill="#b0b0b0"/>
<path d="M333.4,206.8 L335.4,206.8 L334.4,205.0 Z" fill="#b0b0b0"/>
<path d="M332.7,209.4 L334.7,209.4 L333.7,207.6 Z" fill="#b0b0b0"/>
<path d="M332.9,212.4 L334.9,212.4 L333.9,210.6 Z" fill="#b0b0b0"/>
<path d="M332.8,214.4 L334.8,214.4 L333.8,212.6 Z" fill="#b0b0b0"/>
<line x1="345.3" y1="233.5" x2="345.3" y2="248.3" stroke="#1b4587" stroke-width="0.75"/>
<path d="M345.9,233.5 L346.3,234.1 L346.9,234.7 L347.2,235.0 L347.3,235.3 L347.4,236.0 L347.4,236.6 L347.4,237.2 L347.5,237.8 L347.5,238.4 L347.5,239.1 L347.5,239.7 L347.5,240.3 L347.5,240.9 L347.5,241.5 L347.5,242.1 L347.5,242.8 L347.5,243.4 L347.5,244.0 L347.4,244.6 L347.4,245.2 L347.4,245.8 L347.3,246.4 L347.2,247.0 L347.1,247.1 L346.5,247.7 L346.0,248.3 L344.6,248.3 L344.1,247.7 L343.5,247.1 L343.4,247.0 L343.3,246.4 L343.2,245.8 L343.2,245.2 L343.2,244.6 L343.1,244.0 L343.1,243.4 L343.1,242.8 L343.1,242.1 L343.1,241.5 L343.1,240.9 L343.1,240.3 L343.1,239.7 L343.1,239.1 L343.1,238.4 L343.1,237.8 L343.2,237.2 L343.2,236.6 L343.2,236.0 L343.3,235.3 L343.4,235.0 L343.7,234.7 L344.3,234.1 L344.7,233.5 Z" fill="#1b4587" fill-opacity="0.85" stroke="#1b4587" stroke-width="0.6"/>
<circle cx="345.3" cy="233.5" r="1.15" fill="#143668"/>
<circle cx="345.3" cy="248.3" r="1.15" fill="#143668"/>
<circle cx="345.9" cy="236.3" r="1.15" fill="#143668"/>
<circle cx="345.4" cy="238.2" r="1.15" fill="#143668"/>
<circle cx="344.9" cy="240.7" r="1.15" fill="#143668"/>
<circle cx="345.3" cy="243.7" r="1.15" fill="#143668"/>
<circle cx="345.8" cy="245.9" r="1.15" fill="#143668"/>
<line x1="352.4" y1="246.3" x2="352.4" y2="250.6" stroke="#35a83a" stroke-width="0.75"/>
<path d="M353.5,246.3 L353.7,246.5 L353.9,246.7 L354.1,246.8 L354.3,247.0 L354.4,247.0 L354.5,247.2 L354.5,247.4 L354.5,247.6 L354.5,247.7 L354.6,247.9 L354.6,248.1 L354.6,248.3 L354.6,248.4 L354.6,248.6 L354.6,248.8 L354.6,249.0 L354.6,249.2 L354.6,249.3 L354.6,249.5 L354.5,249.7 L354.5,249.9 L354.5,250.1 L354.4,250.2 L354.3,250.3 L354.1,250.4 L353.9,250.6 L350.9,250.6 L350.7,250.4 L350.5,250.3 L350.4,250.2 L350.3,250.1 L350.3,249.9 L350.3,249.7 L350.2,249.5 L350.2,249.3 L350.2,249.2 L350.2,249.0 L350.2,248.8 L350.2,248.6 L350.2,248.4 L350.2,248.3 L350.2,248.1 L350.2,247.9 L350.3,247.7 L350.3,247.6 L350.3,247.4 L350.3,247.2 L350.4,247.0 L350.5,247.0 L350.7,246.8 L350.9,246.7 L351.1,246.5 L351.3,246.3 Z" fill="#35a83a" fill-opacity="0.85" stroke="#35a83a" stroke-width="0.6"/>
<circle cx="352.4" cy="246.3" r="1.15" fill="#2a8a2e"/>
<circle cx="352.4" cy="250.6" r="1.15" fill="#2a8a2e"/>
<circle cx="352.3" cy="247.8" r="1.15" fill="#2a8a2e"/>
<circle cx="352.4" cy="248.4" r="1.15" fill="#2a8a2e"/>
<circle cx="352.8" cy="249.1" r="1.15" fill="#2a8a2e"/>
<circle cx="352.5" cy="249.8" r="1.15" fill="#2a8a2e"/>
<line x1="359.5" y1="242.5" x2="359.5" y2="250.8" stroke="#e6007e" stroke-width="0.75"/>
<path d="M359.8,242.5 L359.8,242.8 L359.8,243.2 L359.8,243.5 L359.9,243.9 L360.0,244.2 L360.2,244.6 L360.4,244.9 L360.6,245.3 L360.9,245.6 L361.3,246.0 L361.4,246.0 L361.6,246.3 L361.6,246.7 L361.7,247.0 L361.7,247.3 L361.7,247.7 L361.7,248.0 L361.7,248.4 L361.7,248.7 L361.7,249.1 L361.6,249.4 L361.6,249.8 L361.5,250.1 L361.4,250.3 L361.2,250.4 L360.8,250.8 L358.2,250.8 L357.8,250.4 L357.6,250.3 L357.5,250.1 L357.4,249.8 L357.4,249.4 L357.3,249.1 L357.3,248.7 L357.3,248.4 L357.3,248.0 L357.3,247.7 L357.3,247.3 L357.3,247.0 L357.4,246.7 L357.4,246.3 L357.6,246.0 L357.7,246.0 L358.1,245.6 L358.4,245.3 L358.6,244.9 L358.8,244.6 L359.0,244.2 L359.1,243.9 L359.2,243.5 L359.2,243.2 L359.2,242.8 L359.2,242.5 Z" fill="#e6007e" fill-opacity="0.85" stroke="#e6007e" stroke-width="0.6"/>
<circle cx="359.5" cy="242.5" r="1.15" fill="#c4006a"/>
<circle cx="359.5" cy="250.8" r="1.15" fill="#c4006a"/>
<circle cx="360.4" cy="246.5" r="1.15" fill="#c4006a"/>
<circle cx="360.2" cy="247.8" r="1.15" fill="#c4006a"/>
<circle cx="359.0" cy="249.1" r="1.15" fill="#c4006a"/>
<circle cx="360.4" cy="249.8" r="1.15" fill="#c4006a"/>
<line x1="366.8" y1="223.3" x2="366.8" y2="240" stroke="#4a1550" stroke-width="0.75"/>
<path d="M367.1,223.3 L367.3,224.0 L367.5,224.7 L368.0,225.4 L368.7,226.0 L368.8,226.1 L368.9,226.8 L368.9,227.5 L368.9,228.2 L369.0,228.9 L369.0,229.6 L369.0,230.3 L369.0,230.9 L369.0,231.7 L369.0,232.3 L369.0,233.0 L369.0,233.7 L369.0,234.4 L369.0,235.1 L368.9,235.8 L368.9,236.5 L368.9,237.2 L368.8,237.9 L368.7,238.0 L368.0,238.6 L367.5,239.3 L367.3,240.0 L366.3,240.0 L366.1,239.3 L365.6,238.6 L364.9,238.0 L364.8,237.9 L364.7,237.2 L364.7,236.5 L364.7,235.8 L364.6,235.1 L364.6,234.4 L364.6,233.7 L364.6,233.0 L364.6,232.3 L364.6,231.7 L364.6,230.9 L364.6,230.3 L364.6,229.6 L364.6,228.9 L364.7,228.2 L364.7,227.5 L364.7,226.8 L364.8,226.1 L364.9,226.0 L365.6,225.4 L366.1,224.7 L366.3,224.0 L366.5,223.3 Z" fill="#4a1550" fill-opacity="0.85" stroke="#4a1550" stroke-width="0.6"/>
<circle cx="366.8" cy="223.3" r="1.15" fill="#380e3c"/>
<circle cx="366.8" cy="240.0" r="1.15" fill="#380e3c"/>
<circle cx="366.1" cy="227.5" r="1.15" fill="#380e3c"/>
<circle cx="366.7" cy="229.2" r="1.15" fill="#380e3c"/>
<circle cx="366.3" cy="231.6" r="1.15" fill="#380e3c"/>
<circle cx="367.1" cy="234.0" r="1.15" fill="#380e3c"/>
<circle cx="367.6" cy="237.1" r="1.15" fill="#380e3c"/>
<line x1="373.6" y1="247.7" x2="373.6" y2="251" stroke="#f7941d" stroke-width="0.75"/>
<path d="M375.1,247.7 L375.3,247.8 L375.5,248.0 L375.5,248.0 L375.6,248.1 L375.7,248.2 L375.7,248.4 L375.7,248.5 L375.8,248.7 L375.8,248.8 L375.8,248.9 L375.8,249.1 L375.8,249.2 L375.8,249.3 L375.8,249.5 L375.8,249.6 L375.8,249.8 L375.8,249.9 L375.8,250.0 L375.7,250.2 L375.7,250.3 L375.7,250.4 L375.7,250.6 L375.6,250.7 L375.5,250.8 L375.4,250.9 L375.2,251.0 L372.0,251.0 L371.8,250.9 L371.7,250.8 L371.6,250.7 L371.5,250.6 L371.5,250.4 L371.5,250.3 L371.5,250.2 L371.4,250.0 L371.4,249.9 L371.4,249.8 L371.4,249.6 L371.4,249.5 L371.4,249.3 L371.4,249.2 L371.4,249.1 L371.4,248.9 L371.4,248.8 L371.4,248.7 L371.5,248.5 L371.5,248.4 L371.5,248.2 L371.6,248.1 L371.7,248.0 L371.7,248.0 L371.9,247.8 L372.1,247.7 Z" fill="#f7941d" fill-opacity="0.85" stroke="#f7941d" stroke-width="0.6"/>
<circle cx="373.6" cy="247.7" r="1.15" fill="#e38510"/>
<circle cx="373.6" cy="251.0" r="1.15" fill="#e38510"/>
<circle cx="374.0" cy="248.0" r="1.15" fill="#e38510"/>
<circle cx="372.9" cy="249.2" r="1.15" fill="#e38510"/>
<circle cx="374.5" cy="250.1" r="1.15" fill="#e38510"/>
<circle cx="374.5" cy="250.2" r="1.15" fill="#e38510"/>
<line x1="381.3" y1="195.4" x2="381.3" y2="245" stroke="#c9c9c9" stroke-width="0.75"/>
<path d="M381.6,195.4 L381.6,197.5 L381.6,199.5 L381.6,201.6 L381.6,203.7 L381.6,205.7 L381.6,207.8 L381.6,209.9 L381.6,211.9 L381.6,214.0 L381.6,216.1 L381.6,218.1 L381.8,220.2 L383.2,222.0 L383.3,222.3 L383.4,224.3 L383.4,226.4 L383.5,228.5 L383.5,230.5 L383.5,232.6 L383.5,234.7 L383.5,236.7 L383.4,238.8 L383.4,240.9 L383.2,242.9 L383.2,243.0 L381.8,245.0 L380.8,245.0 L379.4,243.0 L379.4,242.9 L379.2,240.9 L379.2,238.8 L379.1,236.7 L379.1,234.7 L379.1,232.6 L379.1,230.5 L379.1,228.5 L379.2,226.4 L379.2,224.3 L379.3,222.3 L379.4,222.0 L380.8,220.2 L381.1,218.1 L381.1,216.1 L381.1,214.0 L381.1,211.9 L381.1,209.9 L381.1,207.8 L381.1,205.7 L381.1,203.7 L381.1,201.6 L381.1,199.5 L381.1,197.5 L381.1,195.4 Z" fill="#c9c9c9" fill-opacity="0.6" stroke="#c9c9c9" stroke-width="0.6"/>
<path d="M380.3,196.2 L382.3,196.2 L381.3,194.4 Z" fill="#b0b0b0"/>
<path d="M380.3,245.8 L382.3,245.8 L381.3,244.0 Z" fill="#b0b0b0"/>
<path d="M380.3,224.0 L382.3,224.0 L381.3,222.2 Z" fill="#b0b0b0"/>
<path d="M381.0,227.2 L383.0,227.2 L382.0,225.4 Z" fill="#b0b0b0"/>
<path d="M380.2,229.0 L382.2,229.0 L381.2,227.2 Z" fill="#b0b0b0"/>
<path d="M380.0,232.0 L382.0,232.0 L381.0,230.2 Z" fill="#b0b0b0"/>
<path d="M379.9,234.3 L381.9,234.3 L380.9,232.5 Z" fill="#b0b0b0"/>
<path d="M379.3,237.5 L381.3,237.5 L380.3,235.7 Z" fill="#b0b0b0"/>
<path d="M380.2,239.9 L382.2,239.9 L381.2,238.1 Z" fill="#b0b0b0"/>
<path d="M380.0,242.0 L382.0,242.0 L381.0,240.2 Z" fill="#b0b0b0"/>
</g>
<line x1="296.8" y1="226.7" x2="305.7" y2="226.7" stroke="#2b2b2b" stroke-width="1.3"/>
<text transform="translate(301.25 224.76) scale(0.995 1)" font-size="5.9" text-anchor="middle" font-weight="normal" fill="#2b2b2b" stroke="#2b2b2b" stroke-width="0.18">ns</text>
<line x1="311.2" y1="214.6" x2="319.6" y2="214.6" stroke="#2b2b2b" stroke-width="1.3"/>
<path d="M311.05,210.15 L311.05,212.05 M310.23,210.62 L311.87,211.57 M311.87,210.62 L310.23,211.57 " stroke="#2b2b2b" stroke-width="0.75" stroke-linecap="round"/>
<path d="M313.95,210.15 L313.95,212.05 M313.13,210.62 L314.77,211.57 M314.77,210.62 L313.13,211.57 " stroke="#2b2b2b" stroke-width="0.75" stroke-linecap="round"/>
<path d="M316.85,210.15 L316.85,212.05 M316.03,210.62 L317.67,211.57 M317.67,210.62 L316.03,211.57 " stroke="#2b2b2b" stroke-width="0.75" stroke-linecap="round"/>
<path d="M319.75,210.15 L319.75,212.05 M318.93,210.62 L320.57,211.57 M320.57,210.62 L318.93,211.57 " stroke="#2b2b2b" stroke-width="0.75" stroke-linecap="round"/>
<line x1="325.2" y1="193.1" x2="334.6" y2="193.1" stroke="#2b2b2b" stroke-width="1.3"/>
<path d="M325.55,188.65 L325.55,190.55 M324.73,189.12 L326.37,190.07 M326.37,189.12 L324.73,190.07 " stroke="#2b2b2b" stroke-width="0.75" stroke-linecap="round"/>
<path d="M328.45,188.65 L328.45,190.55 M327.63,189.12 L329.27,190.07 M329.27,189.12 L327.63,190.07 " stroke="#2b2b2b" stroke-width="0.75" stroke-linecap="round"/>
<path d="M331.35,188.65 L331.35,190.55 M330.53,189.12 L332.17,190.07 M332.17,189.12 L330.53,190.07 " stroke="#2b2b2b" stroke-width="0.75" stroke-linecap="round"/>
<path d="M334.25,188.65 L334.25,190.55 M333.43,189.12 L335.07,190.07 M335.07,189.12 L333.43,190.07 " stroke="#2b2b2b" stroke-width="0.75" stroke-linecap="round"/>
<line x1="344.5" y1="231.5" x2="353.2" y2="231.5" stroke="#2b2b2b" stroke-width="1.3"/>
<path d="M345.95,227.05 L345.95,228.95 M345.13,227.53 L346.77,228.47 M346.77,227.53 L345.13,228.47 " stroke="#2b2b2b" stroke-width="0.75" stroke-linecap="round"/>
<path d="M348.85,227.05 L348.85,228.95 M348.03,227.53 L349.67,228.47 M349.67,227.53 L348.03,228.47 " stroke="#2b2b2b" stroke-width="0.75" stroke-linecap="round"/>
<path d="M351.75,227.05 L351.75,228.95 M350.93,227.53 L352.57,228.47 M352.57,227.53 L350.93,228.47 " stroke="#2b2b2b" stroke-width="0.75" stroke-linecap="round"/>
<line x1="358.7" y1="221.3" x2="367.6" y2="221.3" stroke="#2b2b2b" stroke-width="1.3"/>
<path d="M358.80,216.85 L358.80,218.75 M357.98,217.33 L359.62,218.28 M359.62,217.33 L357.98,218.28 " stroke="#2b2b2b" stroke-width="0.75" stroke-linecap="round"/>
<path d="M361.70,216.85 L361.70,218.75 M360.88,217.33 L362.52,218.28 M362.52,217.33 L360.88,218.28 " stroke="#2b2b2b" stroke-width="0.75" stroke-linecap="round"/>
<path d="M364.60,216.85 L364.60,218.75 M363.78,217.33 L365.42,218.28 M365.42,217.33 L363.78,218.28 " stroke="#2b2b2b" stroke-width="0.75" stroke-linecap="round"/>
<path d="M367.50,216.85 L367.50,218.75 M366.68,217.33 L368.32,218.28 M368.32,217.33 L366.68,218.28 " stroke="#2b2b2b" stroke-width="0.75" stroke-linecap="round"/>
<line x1="372.8" y1="193.1" x2="382.1" y2="193.1" stroke="#2b2b2b" stroke-width="1.3"/>
<path d="M376.00,188.65 L376.00,190.55 M375.18,189.12 L376.82,190.07 M376.82,189.12 L375.18,190.07 " stroke="#2b2b2b" stroke-width="0.75" stroke-linecap="round"/>
<path d="M378.90,188.65 L378.90,190.55 M378.08,189.12 L379.72,190.07 M379.72,189.12 L378.08,190.07 " stroke="#2b2b2b" stroke-width="0.75" stroke-linecap="round"/>
<line x1="423.4" y1="183.6" x2="423.4" y2="204" stroke="#2b2b2b" stroke-width="1.25"/>
<line x1="423.4" y1="209.6" x2="423.4" y2="251.6" stroke="#2b2b2b" stroke-width="1.25"/>
<line x1="420.59999999999997" y1="204" x2="426.2" y2="204" stroke="#2b2b2b" stroke-width="1.1"/>
<line x1="420.59999999999997" y1="209.6" x2="426.2" y2="209.6" stroke="#2b2b2b" stroke-width="1.1"/>
<line x1="422.79999999999995" y1="251.6" x2="520" y2="251.6" stroke="#2b2b2b" stroke-width="1.3"/>
<line x1="420.2" y1="186.3" x2="423.4" y2="186.3" stroke="#2b2b2b" stroke-width="1.0"/>
<text transform="translate(418.20 188.47)" font-size="6.2" text-anchor="end" font-weight="normal" fill="#2b2b2b" stroke="#2b2b2b" stroke-width="0.1">30</text>
<line x1="420.2" y1="193.5" x2="423.4" y2="193.5" stroke="#2b2b2b" stroke-width="1.0"/>
<text transform="translate(418.20 195.67)" font-size="6.2" text-anchor="end" font-weight="normal" fill="#2b2b2b" stroke="#2b2b2b" stroke-width="0.1">20</text>
<line x1="420.2" y1="200.9" x2="423.4" y2="200.9" stroke="#2b2b2b" stroke-width="1.0"/>
<text transform="translate(418.20 203.07)" font-size="6.2" text-anchor="end" font-weight="normal" fill="#2b2b2b" stroke="#2b2b2b" stroke-width="0.1">10</text>
<line x1="420.2" y1="210" x2="423.4" y2="210" stroke="#2b2b2b" stroke-width="1.0"/>
<text transform="translate(418.20 212.17)" font-size="6.2" text-anchor="end" font-weight="normal" fill="#2b2b2b" stroke="#2b2b2b" stroke-width="0.1">5.0</text>
<line x1="420.2" y1="230.9" x2="423.4" y2="230.9" stroke="#2b2b2b" stroke-width="1.0"/>
<text transform="translate(418.20 233.07)" font-size="6.2" text-anchor="end" font-weight="normal" fill="#2b2b2b" stroke="#2b2b2b" stroke-width="0.1">2.5</text>
<line x1="420.2" y1="251.6" x2="423.4" y2="251.6" stroke="#2b2b2b" stroke-width="1.0"/>
<text transform="translate(418.20 253.77)" font-size="6.2" text-anchor="end" font-weight="normal" fill="#2b2b2b" stroke="#2b2b2b" stroke-width="0.1">0.0</text>
<line x1="447.9" y1="251.6" x2="447.9" y2="254.0" stroke="#2b2b2b" stroke-width="1.0"/>
<text transform="translate(447.90 263.44)" font-size="6.4" text-anchor="middle" font-weight="normal" fill="#2b2b2b" stroke="#2b2b2b" stroke-width="0.14">BM</text>
<line x1="496" y1="251.6" x2="496" y2="254.0" stroke="#2b2b2b" stroke-width="1.0"/>
<text transform="translate(496.00 263.44)" font-size="6.4" text-anchor="middle" font-weight="normal" fill="#2b2b2b" stroke="#2b2b2b" stroke-width="0.14">Spleen</text>
<text transform="translate(404.66 218.95) rotate(-90) scale(0.957 1)" font-size="5.3" text-anchor="middle" font-weight="normal" fill="#2b2b2b" stroke="#2b2b2b" stroke-width="0.12">% CAR<tspan font-size="3.29" dy="-2.12">+</tspan><tspan dy="2.12"> of CD8</tspan><tspan font-size="3.29" dy="-2.12">+</tspan><tspan dy="2.12"> T cells</tspan></text>
<clipPath id="clip569"><rect x="423.4" y="0" width="101.60000000000002" height="204.5"/><rect x="423.4" y="209.1" width="101.60000000000002" height="47.0"/></clipPath><g clip-path="url(#clip569)">
<line x1="430" y1="198.8" x2="430" y2="247.3" stroke="#1b4587" stroke-width="0.75"/>
<path d="M431.1,198.8 L431.9,199.5 L432.0,200.8 L432.1,202.8 L432.1,204.9 L432.1,206.9 L432.1,208.9 L432.2,210.9 L432.2,212.9 L432.2,215.0 L432.2,217.0 L432.2,219.0 L432.2,221.0 L432.2,223.1 L432.2,225.1 L432.2,227.1 L432.2,229.1 L432.2,231.1 L432.2,233.2 L432.2,235.2 L432.1,237.2 L432.1,239.2 L432.1,241.2 L432.1,243.3 L432.0,245.3 L431.9,246.5 L431.1,247.3 L428.9,247.3 L428.1,246.5 L428.0,245.3 L427.9,243.3 L427.9,241.2 L427.9,239.2 L427.9,237.2 L427.8,235.2 L427.8,233.2 L427.8,231.1 L427.8,229.1 L427.8,227.1 L427.8,225.1 L427.8,223.1 L427.8,221.0 L427.8,219.0 L427.8,217.0 L427.8,215.0 L427.8,212.9 L427.8,210.9 L427.9,208.9 L427.9,206.9 L427.9,204.9 L427.9,202.8 L428.0,200.8 L428.1,199.5 L428.9,198.8 Z" fill="#1b4587" fill-opacity="0.5" stroke="#1b4587" stroke-width="0.6"/>
<circle cx="430.0" cy="198.8" r="1.15" fill="#143668"/>
<circle cx="430.0" cy="247.3" r="1.15" fill="#143668"/>
<circle cx="430.0" cy="202.2" r="1.15" fill="#143668"/>
<circle cx="431.0" cy="206.9" r="1.15" fill="#143668"/>
<circle cx="430.9" cy="212.8" r="1.15" fill="#143668"/>
<circle cx="429.5" cy="217.4" r="1.15" fill="#143668"/>
<circle cx="430.6" cy="222.5" r="1.15" fill="#143668"/>
<circle cx="429.3" cy="228.0" r="1.15" fill="#143668"/>
<circle cx="430.8" cy="233.4" r="1.15" fill="#143668"/>
<circle cx="429.5" cy="239.0" r="1.15" fill="#143668"/>
<circle cx="430.8" cy="243.5" r="1.15" fill="#143668"/>
<line x1="437.3" y1="244.4" x2="437.3" y2="251.2" stroke="#35a83a" stroke-width="0.75"/>
<path d="M438.5,244.4 L438.8,244.7 L439.2,245.0 L439.2,245.0 L439.3,245.2 L439.4,245.5 L439.4,245.8 L439.4,246.1 L439.5,246.4 L439.5,246.7 L439.5,246.9 L439.5,247.2 L439.5,247.5 L439.5,247.8 L439.5,248.1 L439.5,248.4 L439.5,248.7 L439.5,248.9 L439.5,249.2 L439.5,249.5 L439.4,249.8 L439.4,250.1 L439.4,250.3 L439.3,250.6 L439.2,250.8 L439.0,250.9 L438.7,251.2 L435.9,251.2 L435.6,250.9 L435.4,250.8 L435.3,250.6 L435.2,250.3 L435.2,250.1 L435.2,249.8 L435.1,249.5 L435.1,249.2 L435.1,248.9 L435.1,248.7 L435.1,248.4 L435.1,248.1 L435.1,247.8 L435.1,247.5 L435.1,247.2 L435.1,246.9 L435.1,246.7 L435.1,246.4 L435.2,246.1 L435.2,245.8 L435.2,245.5 L435.3,245.2 L435.4,245.0 L435.4,245.0 L435.8,244.7 L436.1,244.4 Z" fill="#35a83a" fill-opacity="0.85" stroke="#35a83a" stroke-width="0.6"/>
<circle cx="437.3" cy="244.4" r="1.15" fill="#2a8a2e"/>
<circle cx="437.3" cy="251.2" r="1.15" fill="#2a8a2e"/>
<circle cx="437.7" cy="245.8" r="1.15" fill="#2a8a2e"/>
<circle cx="436.4" cy="246.8" r="1.15" fill="#2a8a2e"/>
<circle cx="437.2" cy="248.8" r="1.15" fill="#2a8a2e"/>
<circle cx="438.2" cy="249.6" r="1.15" fill="#2a8a2e"/>
<line x1="444.6" y1="236.7" x2="444.6" y2="249.2" stroke="#e6007e" stroke-width="0.75"/>
<path d="M444.9,236.7 L444.9,237.2 L445.0,237.7 L445.1,238.3 L445.4,238.8 L445.7,239.3 L446.3,239.8 L446.5,240.0 L446.6,240.3 L446.7,240.9 L446.7,241.4 L446.7,241.9 L446.8,242.4 L446.8,242.9 L446.8,243.5 L446.8,244.0 L446.8,244.5 L446.8,245.0 L446.8,245.6 L446.8,246.1 L446.8,246.6 L446.7,247.1 L446.7,247.6 L446.7,248.2 L446.6,248.7 L446.5,249.0 L446.2,249.2 L443.0,249.2 L442.7,249.0 L442.6,248.7 L442.5,248.2 L442.5,247.6 L442.5,247.1 L442.4,246.6 L442.4,246.1 L442.4,245.6 L442.4,245.0 L442.4,244.5 L442.4,244.0 L442.4,243.5 L442.4,242.9 L442.4,242.4 L442.5,241.9 L442.5,241.4 L442.5,240.9 L442.6,240.3 L442.7,240.0 L442.9,239.8 L443.5,239.3 L443.8,238.8 L444.1,238.3 L444.2,237.7 L444.3,237.2 L444.4,236.7 Z" fill="#e6007e" fill-opacity="0.85" stroke="#e6007e" stroke-width="0.6"/>
<circle cx="444.6" cy="236.7" r="1.15" fill="#c4006a"/>
<circle cx="444.6" cy="249.2" r="1.15" fill="#c4006a"/>
<circle cx="445.2" cy="241.3" r="1.15" fill="#c4006a"/>
<circle cx="445.3" cy="243.0" r="1.15" fill="#c4006a"/>
<circle cx="445.3" cy="245.2" r="1.15" fill="#c4006a"/>
<circle cx="444.3" cy="247.8" r="1.15" fill="#c4006a"/>
<line x1="451.2" y1="241.5" x2="451.2" y2="250.2" stroke="#4a1550" stroke-width="0.75"/>
<path d="M451.8,241.5 L452.0,241.9 L452.3,242.2 L452.6,242.6 L453.0,242.9 L453.1,243.0 L453.2,243.3 L453.3,243.7 L453.3,244.0 L453.3,244.4 L453.4,244.8 L453.4,245.1 L453.4,245.5 L453.4,245.8 L453.4,246.2 L453.4,246.6 L453.4,246.9 L453.4,247.3 L453.4,247.7 L453.4,248.0 L453.4,248.4 L453.3,248.8 L453.3,249.1 L453.3,249.5 L453.2,249.8 L453.1,250.0 L452.8,250.2 L449.6,250.2 L449.3,250.0 L449.2,249.8 L449.1,249.5 L449.1,249.1 L449.1,248.8 L449.0,248.4 L449.0,248.0 L449.0,247.7 L449.0,247.3 L449.0,246.9 L449.0,246.6 L449.0,246.2 L449.0,245.8 L449.0,245.5 L449.0,245.1 L449.0,244.8 L449.1,244.4 L449.1,244.0 L449.1,243.7 L449.2,243.3 L449.3,243.0 L449.4,242.9 L449.8,242.6 L450.1,242.2 L450.4,241.9 L450.6,241.5 Z" fill="#4a1550" fill-opacity="0.85" stroke="#4a1550" stroke-width="0.6"/>
<circle cx="451.2" cy="241.5" r="1.15" fill="#380e3c"/>
<circle cx="451.2" cy="250.2" r="1.15" fill="#380e3c"/>
<circle cx="452.0" cy="243.9" r="1.15" fill="#380e3c"/>
<circle cx="450.5" cy="245.4" r="1.15" fill="#380e3c"/>
<circle cx="450.7" cy="247.4" r="1.15" fill="#380e3c"/>
<circle cx="450.5" cy="248.7" r="1.15" fill="#380e3c"/>
<line x1="458.5" y1="237.7" x2="458.5" y2="248.3" stroke="#f7941d" stroke-width="0.75"/>
<path d="M458.9,237.7 L459.0,238.1 L459.2,238.6 L459.4,239.0 L459.8,239.5 L460.3,239.9 L460.4,240.0 L460.5,240.3 L460.6,240.8 L460.6,241.2 L460.6,241.7 L460.7,242.1 L460.7,242.6 L460.7,243.0 L460.7,243.4 L460.7,243.9 L460.7,244.3 L460.7,244.8 L460.7,245.2 L460.7,245.7 L460.7,246.1 L460.6,246.5 L460.6,247.0 L460.6,247.4 L460.5,247.9 L460.4,248.0 L460.0,248.3 L457.0,248.3 L456.6,248.0 L456.5,247.9 L456.4,247.4 L456.4,247.0 L456.4,246.5 L456.3,246.1 L456.3,245.7 L456.3,245.2 L456.3,244.8 L456.3,244.3 L456.3,243.9 L456.3,243.4 L456.3,243.0 L456.3,242.6 L456.3,242.1 L456.4,241.7 L456.4,241.2 L456.4,240.8 L456.5,240.3 L456.6,240.0 L456.7,239.9 L457.2,239.5 L457.6,239.0 L457.8,238.6 L458.0,238.1 L458.1,237.7 Z" fill="#f7941d" fill-opacity="0.85" stroke="#f7941d" stroke-width="0.6"/>
<circle cx="458.5" cy="237.7" r="1.15" fill="#e38510"/>
<circle cx="458.5" cy="248.3" r="1.15" fill="#e38510"/>
<circle cx="457.9" cy="240.6" r="1.15" fill="#e38510"/>
<circle cx="458.1" cy="242.8" r="1.15" fill="#e38510"/>
<circle cx="458.1" cy="245.3" r="1.15" fill="#e38510"/>
<circle cx="457.9" cy="247.0" r="1.15" fill="#e38510"/>
<line x1="465.8" y1="205" x2="465.8" y2="249.6" stroke="#c9c9c9" stroke-width="0.75"/>
<path d="M466.1,205.0 L466.1,206.9 L466.1,208.7 L466.1,210.6 L466.1,212.4 L466.1,214.3 L466.1,216.2 L466.1,218.0 L466.1,219.9 L466.1,221.7 L466.1,223.6 L466.1,225.4 L466.1,227.3 L466.1,229.2 L466.1,231.0 L466.1,232.9 L466.7,234.7 L467.7,235.8 L467.8,236.6 L467.9,238.4 L468.0,240.3 L468.0,242.2 L468.0,244.0 L468.0,245.9 L467.9,247.7 L467.7,249.2 L467.2,249.6 L464.4,249.6 L463.9,249.2 L463.7,247.7 L463.6,245.9 L463.6,244.0 L463.6,242.2 L463.6,240.3 L463.7,238.4 L463.8,236.6 L463.9,235.8 L464.9,234.7 L465.6,232.9 L465.6,231.0 L465.6,229.2 L465.6,227.3 L465.6,225.4 L465.6,223.6 L465.6,221.7 L465.6,219.9 L465.6,218.0 L465.6,216.2 L465.6,214.3 L465.6,212.4 L465.6,210.6 L465.6,208.7 L465.6,206.9 L465.6,205.0 Z" fill="#c9c9c9" fill-opacity="0.6" stroke="#c9c9c9" stroke-width="0.6"/>
<path d="M464.8,205.8 L466.8,205.8 L465.8,204.0 Z" fill="#b0b0b0"/>
<path d="M464.8,250.4 L466.8,250.4 L465.8,248.6 Z" fill="#b0b0b0"/>
<path d="M463.8,237.8 L465.8,237.8 L464.8,236.0 Z" fill="#b0b0b0"/>
<path d="M463.8,240.4 L465.8,240.4 L464.8,238.6 Z" fill="#b0b0b0"/>
<path d="M464.9,243.5 L466.9,243.5 L465.9,241.7 Z" fill="#b0b0b0"/>
<path d="M464.8,245.7 L466.8,245.7 L465.8,243.9 Z" fill="#b0b0b0"/>
<path d="M464.0,249.1 L466.0,249.1 L465.0,247.3 Z" fill="#b0b0b0"/>
<line x1="477.7" y1="223.3" x2="477.7" y2="249.6" stroke="#1b4587" stroke-width="0.75"/>
<path d="M478.0,223.3 L478.3,224.4 L479.0,225.5 L479.6,226.0 L479.7,226.6 L479.8,227.7 L479.8,228.8 L479.8,229.9 L479.9,231.0 L479.9,232.1 L479.9,233.2 L479.9,234.3 L479.9,235.3 L479.9,236.4 L479.9,237.6 L479.9,238.6 L479.9,239.7 L479.9,240.8 L479.9,241.9 L479.9,243.0 L479.8,244.1 L479.8,245.2 L479.8,246.3 L479.7,247.4 L479.6,248.0 L479.0,248.5 L478.3,249.6 L477.1,249.6 L476.4,248.5 L475.8,248.0 L475.7,247.4 L475.6,246.3 L475.6,245.2 L475.6,244.1 L475.5,243.0 L475.5,241.9 L475.5,240.8 L475.5,239.7 L475.5,238.6 L475.5,237.6 L475.5,236.4 L475.5,235.3 L475.5,234.3 L475.5,233.2 L475.5,232.1 L475.5,231.0 L475.6,229.9 L475.6,228.8 L475.6,227.7 L475.7,226.6 L475.8,226.0 L476.4,225.5 L477.1,224.4 L477.4,223.3 Z" fill="#1b4587" fill-opacity="0.5999999999999999" stroke="#1b4587" stroke-width="0.6"/>
<circle cx="477.7" cy="223.3" r="1.15" fill="#143668"/>
<circle cx="477.7" cy="249.6" r="1.15" fill="#143668"/>
<circle cx="477.6" cy="227.5" r="1.15" fill="#143668"/>
<circle cx="478.4" cy="229.7" r="1.15" fill="#143668"/>
<circle cx="477.7" cy="232.0" r="1.15" fill="#143668"/>
<circle cx="478.7" cy="234.7" r="1.15" fill="#143668"/>
<circle cx="478.4" cy="236.8" r="1.15" fill="#143668"/>
<circle cx="478.0" cy="239.7" r="1.15" fill="#143668"/>
<circle cx="477.4" cy="241.8" r="1.15" fill="#143668"/>
<circle cx="477.0" cy="243.9" r="1.15" fill="#143668"/>
<circle cx="478.2" cy="246.3" r="1.15" fill="#143668"/>
<line x1="485" y1="248.8" x2="485" y2="251.2" stroke="#35a83a" stroke-width="0.75"/>
<path d="M486.6,248.8 L486.8,248.9 L486.9,249.0 L487.0,249.1 L487.1,249.2 L487.1,249.3 L487.1,249.4 L487.2,249.5 L487.2,249.6 L487.2,249.7 L487.2,249.8 L487.2,249.9 L487.2,250.0 L487.2,250.1 L487.2,250.2 L487.2,250.3 L487.2,250.4 L487.2,250.5 L487.1,250.6 L487.1,250.7 L487.1,250.8 L487.0,250.9 L486.9,251.0 L486.8,251.1 L486.6,251.2 L483.4,251.2 L483.2,251.1 L483.1,251.0 L483.0,250.9 L482.9,250.8 L482.9,250.7 L482.9,250.6 L482.8,250.5 L482.8,250.4 L482.8,250.3 L482.8,250.2 L482.8,250.1 L482.8,250.0 L482.8,249.9 L482.8,249.8 L482.8,249.7 L482.8,249.6 L482.8,249.5 L482.9,249.4 L482.9,249.3 L482.9,249.2 L483.0,249.1 L483.1,249.0 L483.2,248.9 L483.4,248.8 Z" fill="#35a83a" fill-opacity="0.85" stroke="#35a83a" stroke-width="0.6"/>
<circle cx="485.0" cy="248.8" r="1.15" fill="#2a8a2e"/>
<circle cx="485.0" cy="251.2" r="1.15" fill="#2a8a2e"/>
<circle cx="484.3" cy="249.0" r="1.15" fill="#2a8a2e"/>
<circle cx="485.7" cy="249.3" r="1.15" fill="#2a8a2e"/>
<circle cx="485.3" cy="250.6" r="1.15" fill="#2a8a2e"/>
<circle cx="484.5" cy="250.5" r="1.15" fill="#2a8a2e"/>
<line x1="492.1" y1="245.8" x2="492.1" y2="251.2" stroke="#e6007e" stroke-width="0.75"/>
<path d="M493.2,245.8 L493.5,246.0 L493.7,246.2 L494.0,246.5 L494.0,246.5 L494.1,246.7 L494.2,246.9 L494.2,247.2 L494.2,247.4 L494.3,247.6 L494.3,247.8 L494.3,248.1 L494.3,248.3 L494.3,248.5 L494.3,248.7 L494.3,248.9 L494.3,249.2 L494.3,249.4 L494.3,249.6 L494.3,249.8 L494.2,250.1 L494.2,250.3 L494.2,250.5 L494.1,250.8 L494.1,251.0 L494.0,251.0 L493.7,251.2 L490.5,251.2 L490.2,251.0 L490.1,251.0 L490.1,250.8 L490.0,250.5 L490.0,250.3 L490.0,250.1 L489.9,249.8 L489.9,249.6 L489.9,249.4 L489.9,249.2 L489.9,248.9 L489.9,248.7 L489.9,248.5 L489.9,248.3 L489.9,248.1 L489.9,247.8 L489.9,247.6 L490.0,247.4 L490.0,247.2 L490.0,246.9 L490.1,246.7 L490.2,246.5 L490.2,246.5 L490.5,246.2 L490.7,246.0 L491.0,245.8 Z" fill="#e6007e" fill-opacity="0.85" stroke="#e6007e" stroke-width="0.6"/>
<circle cx="492.1" cy="245.8" r="1.15" fill="#c4006a"/>
<circle cx="492.1" cy="251.2" r="1.15" fill="#c4006a"/>
<circle cx="492.0" cy="246.9" r="1.15" fill="#c4006a"/>
<circle cx="492.0" cy="247.8" r="1.15" fill="#c4006a"/>
<circle cx="493.0" cy="249.1" r="1.15" fill="#c4006a"/>
<circle cx="492.2" cy="250.9" r="1.15" fill="#c4006a"/>
<line x1="498.8" y1="232" x2="498.8" y2="245.8" stroke="#4a1550" stroke-width="0.75"/>
<path d="M499.3,232.0 L499.5,232.6 L499.8,233.2 L500.3,233.7 L500.7,234.0 L500.8,234.3 L500.9,234.9 L500.9,235.4 L500.9,236.0 L501.0,236.6 L501.0,237.2 L501.0,237.8 L501.0,238.3 L501.0,238.9 L501.0,239.5 L501.0,240.1 L501.0,240.6 L501.0,241.2 L501.0,241.8 L500.9,242.3 L500.9,242.9 L500.8,243.5 L500.7,244.0 L500.6,244.1 L500.0,244.7 L499.6,245.2 L499.3,245.8 L498.3,245.8 L498.0,245.2 L497.6,244.7 L497.0,244.1 L496.9,244.0 L496.8,243.5 L496.7,242.9 L496.7,242.3 L496.6,241.8 L496.6,241.2 L496.6,240.6 L496.6,240.1 L496.6,239.5 L496.6,238.9 L496.6,238.3 L496.6,237.8 L496.6,237.2 L496.6,236.6 L496.7,236.0 L496.7,235.4 L496.7,234.9 L496.8,234.3 L496.9,234.0 L497.3,233.7 L497.8,233.2 L498.1,232.6 L498.3,232.0 Z" fill="#4a1550" fill-opacity="0.85" stroke="#4a1550" stroke-width="0.6"/>
<circle cx="498.8" cy="232.0" r="1.15" fill="#380e3c"/>
<circle cx="498.8" cy="245.8" r="1.15" fill="#380e3c"/>
<circle cx="499.7" cy="235.0" r="1.15" fill="#380e3c"/>
<circle cx="498.5" cy="237.6" r="1.15" fill="#380e3c"/>
<circle cx="498.6" cy="239.8" r="1.15" fill="#380e3c"/>
<circle cx="498.8" cy="242.7" r="1.15" fill="#380e3c"/>
<line x1="505.6" y1="248.3" x2="505.6" y2="251.2" stroke="#f7941d" stroke-width="0.75"/>
<path d="M506.9,248.3 L507.0,248.4 L507.2,248.5 L507.3,248.7 L507.5,248.8 L507.5,248.8 L507.6,248.9 L507.7,249.0 L507.7,249.2 L507.7,249.3 L507.8,249.4 L507.8,249.5 L507.8,249.6 L507.8,249.8 L507.8,249.9 L507.8,250.0 L507.8,250.1 L507.8,250.2 L507.8,250.3 L507.8,250.5 L507.7,250.6 L507.7,250.7 L507.7,250.8 L507.6,251.0 L507.5,251.0 L507.4,251.1 L507.2,251.2 L504.0,251.2 L503.8,251.1 L503.7,251.0 L503.6,251.0 L503.5,250.8 L503.5,250.7 L503.5,250.6 L503.4,250.5 L503.4,250.3 L503.4,250.2 L503.4,250.1 L503.4,250.0 L503.4,249.9 L503.4,249.8 L503.4,249.6 L503.4,249.5 L503.4,249.4 L503.5,249.3 L503.5,249.2 L503.5,249.0 L503.6,248.9 L503.7,248.8 L503.7,248.8 L503.9,248.7 L504.0,248.5 L504.2,248.4 L504.3,248.3 Z" fill="#f7941d" fill-opacity="0.85" stroke="#f7941d" stroke-width="0.6"/>
<circle cx="505.6" cy="248.3" r="1.15" fill="#e38510"/>
<circle cx="505.6" cy="251.2" r="1.15" fill="#e38510"/>
<circle cx="505.6" cy="248.8" r="1.15" fill="#e38510"/>
<circle cx="505.1" cy="249.1" r="1.15" fill="#e38510"/>
<circle cx="505.4" cy="249.8" r="1.15" fill="#e38510"/>
<circle cx="504.7" cy="250.3" r="1.15" fill="#e38510"/>
<line x1="513.3" y1="204" x2="513.3" y2="249.6" stroke="#c9c9c9" stroke-width="0.75"/>
<path d="M513.5,204.0 L513.5,205.9 L513.5,207.8 L513.5,209.7 L513.5,211.6 L513.5,213.5 L513.5,215.4 L513.5,217.3 L513.5,219.2 L513.5,221.1 L513.5,223.0 L513.5,224.9 L513.5,226.8 L513.5,228.7 L513.5,230.6 L513.5,232.5 L513.5,234.4 L513.5,236.3 L513.5,238.2 L513.8,240.1 L515.2,242.0 L515.5,243.9 L515.5,245.8 L515.4,247.7 L515.2,249.3 L514.8,249.6 L511.8,249.6 L511.4,249.3 L511.2,247.7 L511.1,245.8 L511.1,243.9 L511.4,242.0 L512.8,240.1 L513.0,238.2 L513.0,236.3 L513.0,234.4 L513.0,232.5 L513.0,230.6 L513.0,228.7 L513.0,226.8 L513.0,224.9 L513.0,223.0 L513.0,221.1 L513.0,219.2 L513.0,217.3 L513.0,215.4 L513.0,213.5 L513.0,211.6 L513.0,209.7 L513.0,207.8 L513.0,205.9 L513.0,204.0 Z" fill="#c9c9c9" fill-opacity="0.6" stroke="#c9c9c9" stroke-width="0.6"/>
<path d="M512.3,204.8 L514.3,204.8 L513.3,203.0 Z" fill="#b0b0b0"/>
<path d="M512.3,250.4 L514.3,250.4 L513.3,248.6 Z" fill="#b0b0b0"/>
<path d="M511.8,243.5 L513.8,243.5 L512.8,241.7 Z" fill="#b0b0b0"/>
<path d="M512.4,245.6 L514.4,245.6 L513.4,243.8 Z" fill="#b0b0b0"/>
<path d="M512.6,247.6 L514.6,247.6 L513.6,245.8 Z" fill="#b0b0b0"/>
<path d="M513.1,249.4 L515.1,249.4 L514.1,247.6 Z" fill="#b0b0b0"/>
</g>
<line x1="429.2" y1="196.3" x2="438.1" y2="196.3" stroke="#2b2b2b" stroke-width="1.3"/>
<path d="M432.20,191.85 L432.20,193.75 M431.38,192.33 L433.02,193.28 M433.02,192.33 L431.38,193.28 " stroke="#2b2b2b" stroke-width="0.75" stroke-linecap="round"/>
<path d="M435.10,191.85 L435.10,193.75 M434.28,192.33 L435.92,193.28 M435.92,192.33 L434.28,193.28 " stroke="#2b2b2b" stroke-width="0.75" stroke-linecap="round"/>
<line x1="443.8" y1="234.2" x2="452.0" y2="234.2" stroke="#2b2b2b" stroke-width="1.3"/>
<text transform="translate(447.90 232.26) scale(0.995 1)" font-size="5.9" text-anchor="middle" font-weight="normal" fill="#2b2b2b" stroke="#2b2b2b" stroke-width="0.18">ns</text>
<line x1="457.7" y1="202.7" x2="466.6" y2="202.7" stroke="#2b2b2b" stroke-width="1.3"/>
<text transform="translate(462.15 200.76) scale(0.995 1)" font-size="5.9" text-anchor="middle" font-weight="normal" fill="#2b2b2b" stroke="#2b2b2b" stroke-width="0.18">ns</text>
<line x1="476.9" y1="221.3" x2="485.8" y2="221.3" stroke="#2b2b2b" stroke-width="1.3"/>
<path d="M479.90,216.85 L479.90,218.75 M479.08,217.33 L480.72,218.28 M480.72,217.33 L479.08,218.28 " stroke="#2b2b2b" stroke-width="0.75" stroke-linecap="round"/>
<path d="M482.80,216.85 L482.80,218.75 M481.98,217.33 L483.62,218.28 M483.62,217.33 L481.98,218.28 " stroke="#2b2b2b" stroke-width="0.75" stroke-linecap="round"/>
<line x1="491.3" y1="230.4" x2="499.6" y2="230.4" stroke="#2b2b2b" stroke-width="1.3"/>
<path d="M491.10,225.95 L491.10,227.85 M490.28,226.43 L491.92,227.38 M491.92,226.43 L490.28,227.38 " stroke="#2b2b2b" stroke-width="0.75" stroke-linecap="round"/>
<path d="M494.00,225.95 L494.00,227.85 M493.18,226.43 L494.82,227.38 M494.82,226.43 L493.18,227.38 " stroke="#2b2b2b" stroke-width="0.75" stroke-linecap="round"/>
<path d="M496.90,225.95 L496.90,227.85 M496.08,226.43 L497.72,227.38 M497.72,226.43 L496.08,227.38 " stroke="#2b2b2b" stroke-width="0.75" stroke-linecap="round"/>
<path d="M499.80,225.95 L499.80,227.85 M498.98,226.43 L500.62,227.38 M500.62,226.43 L498.98,227.38 " stroke="#2b2b2b" stroke-width="0.75" stroke-linecap="round"/>
<line x1="504.8" y1="201.5" x2="514.0999999999999" y2="201.5" stroke="#2b2b2b" stroke-width="1.3"/>
<text transform="translate(509.45 199.56) scale(0.995 1)" font-size="5.9" text-anchor="middle" font-weight="normal" fill="#2b2b2b" stroke="#2b2b2b" stroke-width="0.18">ns</text>
<text transform="translate(126.50 299.58) scale(0.982 1)" font-size="8.8" text-anchor="middle" font-weight="normal" fill="#2b2b2b" stroke="#2b2b2b" stroke-width="0.1">T-cell type</text>
<text transform="translate(74.70 314.39)" font-size="7.7" text-anchor="middle" font-weight="normal" fill="#2b2b2b" stroke="#2b2b2b" stroke-width="0.1">CD4<tspan font-size="4.77" dy="-3.08">+</tspan><tspan dy="3.08"> CAR-T cells</tspan></text>
<text transform="translate(203.50 314.59)" font-size="7.7" text-anchor="middle" font-weight="normal" fill="#2b2b2b" stroke="#2b2b2b" stroke-width="0.1">CD8<tspan font-size="4.77" dy="-3.08">+</tspan><tspan dy="3.08"> CAR-T cells</tspan></text>
<line x1="26.6" y1="327.0" x2="26.6" y2="394.2" stroke="#2b2b2b" stroke-width="1.25"/>
<line x1="26.0" y1="394.2" x2="121.7" y2="394.2" stroke="#2b2b2b" stroke-width="1.3"/>
<line x1="23.400000000000002" y1="394.2" x2="26.6" y2="394.2" stroke="#2b2b2b" stroke-width="1.0"/>
<text transform="translate(21.40 396.37)" font-size="6.2" text-anchor="end" font-weight="normal" fill="#2b2b2b" stroke="#2b2b2b" stroke-width="0.1">0</text>
<line x1="23.400000000000002" y1="381.26" x2="26.6" y2="381.26" stroke="#2b2b2b" stroke-width="1.0"/>
<text transform="translate(21.40 383.43)" font-size="6.2" text-anchor="end" font-weight="normal" fill="#2b2b2b" stroke="#2b2b2b" stroke-width="0.1">20</text>
<line x1="23.400000000000002" y1="368.32" x2="26.6" y2="368.32" stroke="#2b2b2b" stroke-width="1.0"/>
<text transform="translate(21.40 370.49)" font-size="6.2" text-anchor="end" font-weight="normal" fill="#2b2b2b" stroke="#2b2b2b" stroke-width="0.1">40</text>
<line x1="23.400000000000002" y1="355.38" x2="26.6" y2="355.38" stroke="#2b2b2b" stroke-width="1.0"/>
<text transform="translate(21.40 357.55)" font-size="6.2" text-anchor="end" font-weight="normal" fill="#2b2b2b" stroke="#2b2b2b" stroke-width="0.1">60</text>
<line x1="23.400000000000002" y1="342.44" x2="26.6" y2="342.44" stroke="#2b2b2b" stroke-width="1.0"/>
<text transform="translate(21.40 344.61)" font-size="6.2" text-anchor="end" font-weight="normal" fill="#2b2b2b" stroke="#2b2b2b" stroke-width="0.1">80</text>
<line x1="23.400000000000002" y1="329.5" x2="26.6" y2="329.5" stroke="#2b2b2b" stroke-width="1.0"/>
<text transform="translate(21.40 331.67)" font-size="6.2" text-anchor="end" font-weight="normal" fill="#2b2b2b" stroke="#2b2b2b" stroke-width="0.1">100</text>
<line x1="51" y1="394.2" x2="51" y2="396.59999999999997" stroke="#2b2b2b" stroke-width="1.0"/>
<text transform="translate(51.00 406.04)" font-size="6.4" text-anchor="middle" font-weight="normal" fill="#2b2b2b" stroke="#2b2b2b" stroke-width="0.14">BM</text>
<line x1="99.1" y1="394.2" x2="99.1" y2="396.59999999999997" stroke="#2b2b2b" stroke-width="1.0"/>
<text transform="translate(99.10 406.04)" font-size="6.4" text-anchor="middle" font-weight="normal" fill="#2b2b2b" stroke="#2b2b2b" stroke-width="0.14">Spleen</text>
<text transform="translate(8.15 361.85) rotate(-90) scale(0.913 1)" font-size="5.3" text-anchor="middle" font-weight="normal" fill="#2b2b2b" stroke="#2b2b2b" stroke-width="0.12">% CD4<tspan font-size="3.29" dy="-2.12">+</tspan><tspan dy="2.12"> of CAR-T cells</tspan></text>
<line x1="33.7" y1="368.5" x2="33.7" y2="392.8" stroke="#1b4587" stroke-width="0.75"/>
<path d="M34.0,368.5 L34.0,369.5 L34.0,370.5 L34.0,371.5 L34.0,372.6 L34.0,373.6 L34.0,374.6 L34.0,375.6 L34.0,376.6 L34.4,377.6 L35.1,378.6 L35.6,379.0 L35.7,379.6 L35.8,380.6 L35.8,381.7 L35.9,382.7 L35.9,383.7 L35.9,384.7 L35.9,385.7 L35.9,386.7 L35.9,387.7 L35.9,388.8 L35.8,389.8 L35.8,390.8 L35.7,391.8 L35.6,392.0 L34.8,392.8 L32.6,392.8 L31.8,392.0 L31.7,391.8 L31.6,390.8 L31.6,389.8 L31.5,388.8 L31.5,387.7 L31.5,386.7 L31.5,385.7 L31.5,384.7 L31.5,383.7 L31.5,382.7 L31.6,381.7 L31.6,380.6 L31.7,379.6 L31.8,379.0 L32.3,378.6 L33.0,377.6 L33.4,376.6 L33.5,375.6 L33.5,374.6 L33.5,373.6 L33.5,372.6 L33.5,371.5 L33.5,370.5 L33.5,369.5 L33.5,368.5 Z" fill="#1b4587" fill-opacity="0.825" stroke="#1b4587" stroke-width="0.6"/>
<circle cx="33.7" cy="368.5" r="1.15" fill="#143668"/>
<circle cx="33.7" cy="392.8" r="1.15" fill="#143668"/>
<circle cx="33.4" cy="380.2" r="1.15" fill="#143668"/>
<circle cx="33.0" cy="383.4" r="1.15" fill="#143668"/>
<circle cx="34.0" cy="385.7" r="1.15" fill="#143668"/>
<circle cx="34.4" cy="387.6" r="1.15" fill="#143668"/>
<circle cx="34.0" cy="391.1" r="1.15" fill="#143668"/>
<line x1="40.4" y1="346.6" x2="40.4" y2="383.2" stroke="#35a83a" stroke-width="0.75"/>
<path d="M40.6,346.6 L40.6,348.1 L40.6,349.6 L40.6,351.2 L40.6,352.7 L40.6,354.2 L40.6,355.8 L40.6,357.3 L40.6,358.8 L40.6,360.3 L40.6,361.9 L40.6,363.4 L40.6,364.9 L40.6,366.4 L40.8,367.9 L41.7,369.5 L42.3,370.0 L42.5,371.0 L42.5,372.5 L42.6,374.1 L42.6,375.6 L42.6,377.1 L42.6,378.6 L42.5,380.1 L42.5,381.7 L42.3,383.0 L42.0,383.2 L38.8,383.2 L38.5,383.0 L38.3,381.7 L38.3,380.1 L38.2,378.6 L38.2,377.1 L38.2,375.6 L38.2,374.1 L38.3,372.5 L38.3,371.0 L38.5,370.0 L39.1,369.5 L40.0,367.9 L40.1,366.4 L40.1,364.9 L40.1,363.4 L40.1,361.9 L40.1,360.3 L40.1,358.8 L40.1,357.3 L40.1,355.8 L40.1,354.2 L40.1,352.7 L40.1,351.2 L40.1,349.6 L40.1,348.1 L40.1,346.6 Z" fill="#35a83a" fill-opacity="0.825" stroke="#35a83a" stroke-width="0.6"/>
<circle cx="40.4" cy="346.6" r="1.15" fill="#2a8a2e"/>
<circle cx="40.4" cy="383.2" r="1.15" fill="#2a8a2e"/>
<circle cx="41.0" cy="371.5" r="1.15" fill="#2a8a2e"/>
<circle cx="40.4" cy="373.5" r="1.15" fill="#2a8a2e"/>
<circle cx="41.1" cy="376.5" r="1.15" fill="#2a8a2e"/>
<circle cx="41.0" cy="379.4" r="1.15" fill="#2a8a2e"/>
<circle cx="41.2" cy="381.8" r="1.15" fill="#2a8a2e"/>
<line x1="47.5" y1="379.7" x2="47.5" y2="391.2" stroke="#e6007e" stroke-width="0.75"/>
<path d="M48.6,379.7 L49.0,380.2 L49.4,380.5 L49.5,380.7 L49.6,381.1 L49.6,381.6 L49.6,382.1 L49.6,382.6 L49.7,383.1 L49.7,383.5 L49.7,384.0 L49.7,384.5 L49.7,385.0 L49.7,385.4 L49.7,385.9 L49.7,386.4 L49.7,386.9 L49.7,387.4 L49.7,387.9 L49.7,388.3 L49.6,388.8 L49.6,389.3 L49.6,389.8 L49.6,390.2 L49.5,390.7 L49.4,391.0 L49.1,391.2 L45.9,391.2 L45.6,391.0 L45.5,390.7 L45.4,390.2 L45.4,389.8 L45.4,389.3 L45.4,388.8 L45.3,388.3 L45.3,387.9 L45.3,387.4 L45.3,386.9 L45.3,386.4 L45.3,385.9 L45.3,385.4 L45.3,385.0 L45.3,384.5 L45.3,384.0 L45.3,383.5 L45.3,383.1 L45.4,382.6 L45.4,382.1 L45.4,381.6 L45.4,381.1 L45.5,380.7 L45.6,380.5 L46.0,380.2 L46.4,379.7 Z" fill="#e6007e" fill-opacity="0.85" stroke="#e6007e" stroke-width="0.6"/>
<circle cx="47.5" cy="379.7" r="1.15" fill="#c4006a"/>
<circle cx="47.5" cy="391.2" r="1.15" fill="#c4006a"/>
<circle cx="47.9" cy="382.0" r="1.15" fill="#c4006a"/>
<circle cx="46.6" cy="384.2" r="1.15" fill="#c4006a"/>
<circle cx="47.2" cy="386.7" r="1.15" fill="#c4006a"/>
<circle cx="48.2" cy="389.3" r="1.15" fill="#c4006a"/>
<line x1="55.2" y1="354.3" x2="55.2" y2="376.8" stroke="#4a1550" stroke-width="0.75"/>
<path d="M55.5,354.3 L55.5,355.2 L55.7,356.2 L56.2,357.1 L57.1,358.0 L57.1,358.1 L57.3,359.0 L57.3,359.9 L57.3,360.9 L57.4,361.8 L57.4,362.7 L57.4,363.7 L57.4,364.6 L57.4,365.6 L57.4,366.5 L57.4,367.4 L57.4,368.4 L57.3,369.3 L57.3,370.2 L57.2,371.2 L57.1,372.0 L56.9,372.1 L56.1,373.1 L55.7,374.0 L55.5,374.9 L55.5,375.9 L55.5,376.8 L55.0,376.8 L55.0,375.9 L55.0,374.9 L54.7,374.0 L54.3,373.1 L53.5,372.1 L53.3,372.0 L53.2,371.2 L53.1,370.2 L53.1,369.3 L53.0,368.4 L53.0,367.4 L53.0,366.5 L53.0,365.6 L53.0,364.6 L53.0,363.7 L53.0,362.7 L53.0,361.8 L53.1,360.9 L53.1,359.9 L53.1,359.0 L53.3,358.1 L53.3,358.0 L54.2,357.1 L54.7,356.2 L54.9,355.2 L55.0,354.3 Z" fill="#4a1550" fill-opacity="0.7999999999999999" stroke="#4a1550" stroke-width="0.6"/>
<circle cx="55.2" cy="354.3" r="1.15" fill="#380e3c"/>
<circle cx="55.2" cy="376.8" r="1.15" fill="#380e3c"/>
<circle cx="55.5" cy="359.5" r="1.15" fill="#380e3c"/>
<circle cx="55.6" cy="362.3" r="1.15" fill="#380e3c"/>
<circle cx="54.2" cy="365.0" r="1.15" fill="#380e3c"/>
<circle cx="55.7" cy="368.1" r="1.15" fill="#380e3c"/>
<circle cx="55.3" cy="370.6" r="1.15" fill="#380e3c"/>
<line x1="62.2" y1="354.7" x2="62.2" y2="389.3" stroke="#f7941d" stroke-width="0.75"/>
<path d="M62.5,354.7 L62.5,356.1 L62.5,357.6 L62.5,359.0 L62.5,360.5 L62.5,361.9 L62.5,363.4 L62.5,364.8 L62.5,366.2 L62.6,367.7 L63.2,369.1 L64.1,370.0 L64.2,370.6 L64.3,372.0 L64.3,373.4 L64.4,374.9 L64.4,376.3 L64.4,377.8 L64.4,379.2 L64.4,380.6 L64.4,382.1 L64.4,383.5 L64.3,385.0 L64.3,386.4 L64.2,387.9 L64.1,389.0 L63.7,389.3 L60.7,389.3 L60.3,389.0 L60.2,387.9 L60.1,386.4 L60.1,385.0 L60.0,383.5 L60.0,382.1 L60.0,380.6 L60.0,379.2 L60.0,377.8 L60.0,376.3 L60.0,374.9 L60.1,373.4 L60.1,372.0 L60.2,370.6 L60.3,370.0 L61.2,369.1 L61.8,367.7 L62.0,366.2 L62.0,364.8 L62.0,363.4 L62.0,361.9 L62.0,360.5 L62.0,359.0 L62.0,357.6 L62.0,356.1 L62.0,354.7 Z" fill="#f7941d" fill-opacity="0.6749999999999999" stroke="#f7941d" stroke-width="0.6"/>
<circle cx="62.2" cy="354.7" r="1.15" fill="#e38510"/>
<circle cx="62.2" cy="389.3" r="1.15" fill="#e38510"/>
<circle cx="61.3" cy="371.5" r="1.15" fill="#e38510"/>
<circle cx="61.7" cy="374.3" r="1.15" fill="#e38510"/>
<circle cx="61.7" cy="376.4" r="1.15" fill="#e38510"/>
<circle cx="61.6" cy="379.7" r="1.15" fill="#e38510"/>
<circle cx="63.1" cy="382.5" r="1.15" fill="#e38510"/>
<circle cx="62.0" cy="384.9" r="1.15" fill="#e38510"/>
<circle cx="62.6" cy="387.6" r="1.15" fill="#e38510"/>
<line x1="69.8" y1="338.9" x2="69.8" y2="362.8" stroke="#c9c9c9" stroke-width="0.75"/>
<path d="M70.0,338.9 L70.2,339.9 L70.7,340.9 L71.5,341.9 L71.7,342.0 L71.8,342.9 L71.9,343.9 L71.9,344.9 L72.0,345.9 L72.0,346.9 L72.0,347.9 L72.0,348.9 L72.0,349.9 L72.0,350.9 L72.0,351.9 L72.0,352.8 L72.0,353.8 L71.9,354.8 L71.9,355.8 L71.9,356.8 L71.8,357.8 L71.7,358.0 L70.9,358.8 L70.3,359.8 L70.1,360.8 L70.0,361.8 L70.0,362.8 L69.5,362.8 L69.5,361.8 L69.5,360.8 L69.3,359.8 L68.7,358.8 L67.9,358.0 L67.8,357.8 L67.7,356.8 L67.7,355.8 L67.7,354.8 L67.6,353.8 L67.6,352.8 L67.6,351.9 L67.6,350.9 L67.6,349.9 L67.6,348.9 L67.6,347.9 L67.6,346.9 L67.6,345.9 L67.7,344.9 L67.7,343.9 L67.8,342.9 L67.9,342.0 L68.1,341.9 L68.9,340.9 L69.4,339.9 L69.5,338.9 Z" fill="#c9c9c9" fill-opacity="0.6" stroke="#c9c9c9" stroke-width="0.6"/>
<path d="M68.8,339.7 L70.8,339.7 L69.8,337.9 Z" fill="#b0b0b0"/>
<path d="M68.8,363.6 L70.8,363.6 L69.8,361.8 Z" fill="#b0b0b0"/>
<path d="M69.0,344.4 L71.0,344.4 L70.0,342.6 Z" fill="#b0b0b0"/>
<path d="M68.0,346.9 L70.0,346.9 L69.0,345.1 Z" fill="#b0b0b0"/>
<path d="M68.3,349.1 L70.3,349.1 L69.3,347.3 Z" fill="#b0b0b0"/>
<path d="M68.4,352.4 L70.4,352.4 L69.4,350.6 Z" fill="#b0b0b0"/>
<path d="M67.8,354.9 L69.8,354.9 L68.8,353.1 Z" fill="#b0b0b0"/>
<path d="M68.3,357.0 L70.3,357.0 L69.3,355.2 Z" fill="#b0b0b0"/>
<line x1="82.2" y1="344.1" x2="82.2" y2="363.3" stroke="#1b4587" stroke-width="0.75"/>
<path d="M83.2,344.1 L84.0,344.9 L84.1,345.0 L84.2,345.7 L84.3,346.5 L84.3,347.3 L84.3,348.1 L84.4,348.9 L84.4,349.7 L84.4,350.5 L84.4,351.3 L84.4,352.1 L84.4,352.9 L84.4,353.7 L84.4,354.5 L84.4,355.3 L84.4,356.1 L84.4,356.9 L84.4,357.7 L84.3,358.5 L84.3,359.3 L84.3,360.1 L84.3,360.9 L84.2,361.7 L84.1,362.0 L83.5,362.5 L82.9,363.3 L81.5,363.3 L80.9,362.5 L80.3,362.0 L80.2,361.7 L80.1,360.9 L80.1,360.1 L80.1,359.3 L80.1,358.5 L80.0,357.7 L80.0,356.9 L80.0,356.1 L80.0,355.3 L80.0,354.5 L80.0,353.7 L80.0,352.9 L80.0,352.1 L80.0,351.3 L80.0,350.5 L80.0,349.7 L80.0,348.9 L80.1,348.1 L80.1,347.3 L80.1,346.5 L80.2,345.7 L80.3,345.0 L80.4,344.9 L81.2,344.1 Z" fill="#1b4587" fill-opacity="0.725" stroke="#1b4587" stroke-width="0.6"/>
<circle cx="82.2" cy="344.1" r="1.15" fill="#143668"/>
<circle cx="82.2" cy="363.3" r="1.15" fill="#143668"/>
<circle cx="82.6" cy="346.4" r="1.15" fill="#143668"/>
<circle cx="81.8" cy="348.8" r="1.15" fill="#143668"/>
<circle cx="82.1" cy="351.1" r="1.15" fill="#143668"/>
<circle cx="81.4" cy="353.5" r="1.15" fill="#143668"/>
<circle cx="81.6" cy="356.3" r="1.15" fill="#143668"/>
<circle cx="83.1" cy="358.8" r="1.15" fill="#143668"/>
<circle cx="82.1" cy="360.3" r="1.15" fill="#143668"/>
<line x1="89.1" y1="348.9" x2="89.1" y2="375.5" stroke="#35a83a" stroke-width="0.75"/>
<path d="M89.3,348.9 L89.3,350.0 L89.3,351.1 L89.3,352.2 L89.3,353.3 L89.3,354.4 L89.3,355.6 L89.3,356.7 L89.3,357.8 L89.3,358.9 L89.5,360.0 L90.1,361.1 L91.0,362.0 L91.1,362.2 L91.2,363.3 L91.2,364.4 L91.3,365.5 L91.3,366.6 L91.3,367.7 L91.3,368.9 L91.3,370.0 L91.3,371.1 L91.2,372.2 L91.2,373.3 L91.1,374.4 L91.0,375.0 L90.4,375.5 L87.8,375.5 L87.2,375.0 L87.1,374.4 L87.0,373.3 L87.0,372.2 L86.9,371.1 L86.9,370.0 L86.9,368.9 L86.9,367.7 L86.9,366.6 L86.9,365.5 L87.0,364.4 L87.0,363.3 L87.1,362.2 L87.2,362.0 L88.1,361.1 L88.7,360.0 L88.8,358.9 L88.8,357.8 L88.8,356.7 L88.8,355.6 L88.8,354.4 L88.8,353.3 L88.8,352.2 L88.8,351.1 L88.8,350.0 L88.8,348.9 Z" fill="#35a83a" fill-opacity="0.825" stroke="#35a83a" stroke-width="0.6"/>
<circle cx="89.1" cy="348.9" r="1.15" fill="#2a8a2e"/>
<circle cx="89.1" cy="375.5" r="1.15" fill="#2a8a2e"/>
<circle cx="90.0" cy="363.6" r="1.15" fill="#2a8a2e"/>
<circle cx="88.6" cy="365.8" r="1.15" fill="#2a8a2e"/>
<circle cx="90.0" cy="368.2" r="1.15" fill="#2a8a2e"/>
<circle cx="89.3" cy="370.8" r="1.15" fill="#2a8a2e"/>
<circle cx="89.1" cy="373.3" r="1.15" fill="#2a8a2e"/>
<line x1="96.2" y1="371.6" x2="96.2" y2="390.3" stroke="#e6007e" stroke-width="0.75"/>
<path d="M96.5,371.6 L96.5,372.4 L96.7,373.2 L97.1,373.9 L97.7,374.7 L98.1,375.0 L98.2,375.5 L98.3,376.3 L98.3,377.1 L98.3,377.8 L98.4,378.6 L98.4,379.4 L98.4,380.2 L98.4,380.9 L98.4,381.7 L98.4,382.5 L98.4,383.3 L98.4,384.1 L98.4,384.9 L98.4,385.6 L98.4,386.4 L98.3,387.2 L98.3,388.0 L98.3,388.7 L98.2,389.5 L98.1,390.0 L97.7,390.3 L94.7,390.3 L94.3,390.0 L94.2,389.5 L94.1,388.7 L94.1,388.0 L94.1,387.2 L94.0,386.4 L94.0,385.6 L94.0,384.9 L94.0,384.1 L94.0,383.3 L94.0,382.5 L94.0,381.7 L94.0,380.9 L94.0,380.2 L94.0,379.4 L94.0,378.6 L94.1,377.8 L94.1,377.1 L94.1,376.3 L94.2,375.5 L94.3,375.0 L94.7,374.7 L95.3,373.9 L95.7,373.2 L95.9,372.4 L96.0,371.6 Z" fill="#e6007e" fill-opacity="0.7749999999999999" stroke="#e6007e" stroke-width="0.6"/>
<circle cx="96.2" cy="371.6" r="1.15" fill="#c4006a"/>
<circle cx="96.2" cy="390.3" r="1.15" fill="#c4006a"/>
<circle cx="95.5" cy="376.7" r="1.15" fill="#c4006a"/>
<circle cx="96.2" cy="379.1" r="1.15" fill="#c4006a"/>
<circle cx="96.6" cy="381.6" r="1.15" fill="#c4006a"/>
<circle cx="97.0" cy="383.5" r="1.15" fill="#c4006a"/>
<circle cx="95.3" cy="386.2" r="1.15" fill="#c4006a"/>
<circle cx="96.2" cy="388.3" r="1.15" fill="#c4006a"/>
<line x1="103.3" y1="367.8" x2="103.3" y2="383.2" stroke="#4a1550" stroke-width="0.75"/>
<path d="M103.7,367.8 L103.9,368.4 L104.3,369.1 L104.9,369.7 L105.2,370.0 L105.3,370.4 L105.4,371.0 L105.4,371.6 L105.4,372.3 L105.5,372.9 L105.5,373.6 L105.5,374.2 L105.5,374.9 L105.5,375.5 L105.5,376.1 L105.5,376.8 L105.5,377.4 L105.5,378.1 L105.5,378.7 L105.4,379.4 L105.4,380.0 L105.4,380.6 L105.4,381.3 L105.3,381.9 L105.2,382.0 L104.6,382.6 L104.1,383.2 L102.5,383.2 L102.0,382.6 L101.4,382.0 L101.3,381.9 L101.2,381.3 L101.2,380.6 L101.2,380.0 L101.2,379.4 L101.1,378.7 L101.1,378.1 L101.1,377.4 L101.1,376.8 L101.1,376.1 L101.1,375.5 L101.1,374.9 L101.1,374.2 L101.1,373.6 L101.1,372.9 L101.2,372.3 L101.2,371.6 L101.2,371.0 L101.3,370.4 L101.4,370.0 L101.7,369.7 L102.3,369.1 L102.7,368.4 L102.9,367.8 Z" fill="#4a1550" fill-opacity="0.85" stroke="#4a1550" stroke-width="0.6"/>
<circle cx="103.3" cy="367.8" r="1.15" fill="#380e3c"/>
<circle cx="103.3" cy="383.2" r="1.15" fill="#380e3c"/>
<circle cx="102.9" cy="371.2" r="1.15" fill="#380e3c"/>
<circle cx="103.0" cy="373.2" r="1.15" fill="#380e3c"/>
<circle cx="104.0" cy="375.8" r="1.15" fill="#380e3c"/>
<circle cx="103.8" cy="377.9" r="1.15" fill="#380e3c"/>
<circle cx="102.5" cy="381.1" r="1.15" fill="#380e3c"/>
<line x1="110.6" y1="373.5" x2="110.6" y2="385.8" stroke="#f7941d" stroke-width="0.75"/>
<path d="M111.2,373.5 L111.5,374.0 L111.9,374.5 L112.5,375.0 L112.5,375.0 L112.6,375.6 L112.7,376.1 L112.7,376.6 L112.7,377.1 L112.8,377.6 L112.8,378.1 L112.8,378.6 L112.8,379.1 L112.8,379.6 L112.8,380.2 L112.8,380.7 L112.8,381.2 L112.8,381.7 L112.8,382.2 L112.8,382.7 L112.7,383.2 L112.7,383.8 L112.7,384.3 L112.6,384.8 L112.5,385.0 L112.1,385.3 L111.7,385.8 L109.5,385.8 L109.1,385.3 L108.7,385.0 L108.6,384.8 L108.5,384.3 L108.5,383.8 L108.5,383.2 L108.4,382.7 L108.4,382.2 L108.4,381.7 L108.4,381.2 L108.4,380.7 L108.4,380.2 L108.4,379.6 L108.4,379.1 L108.4,378.6 L108.4,378.1 L108.4,377.6 L108.5,377.1 L108.5,376.6 L108.5,376.1 L108.6,375.6 L108.7,375.0 L108.7,375.0 L109.3,374.5 L109.7,374.0 L110.0,373.5 Z" fill="#f7941d" fill-opacity="0.85" stroke="#f7941d" stroke-width="0.6"/>
<circle cx="110.6" cy="373.5" r="1.15" fill="#e38510"/>
<circle cx="110.6" cy="385.8" r="1.15" fill="#e38510"/>
<circle cx="111.0" cy="376.7" r="1.15" fill="#e38510"/>
<circle cx="110.2" cy="379.2" r="1.15" fill="#e38510"/>
<circle cx="110.4" cy="381.1" r="1.15" fill="#e38510"/>
<circle cx="110.8" cy="384.2" r="1.15" fill="#e38510"/>
<line x1="117.9" y1="348" x2="117.9" y2="369.7" stroke="#c9c9c9" stroke-width="0.75"/>
<path d="M118.4,348.0 L118.8,348.9 L119.6,349.8 L119.8,350.0 L119.9,350.7 L120.0,351.6 L120.0,352.5 L120.0,353.4 L120.1,354.3 L120.1,355.2 L120.1,356.1 L120.1,357.0 L120.1,357.9 L120.1,358.9 L120.1,359.8 L120.1,360.7 L120.1,361.6 L120.1,362.5 L120.1,363.4 L120.0,364.3 L120.0,365.2 L120.0,366.1 L119.9,367.0 L119.9,367.9 L119.8,368.0 L119.0,368.8 L118.5,369.7 L117.3,369.7 L116.8,368.8 L116.0,368.0 L115.9,367.9 L115.9,367.0 L115.8,366.1 L115.8,365.2 L115.8,364.3 L115.7,363.4 L115.7,362.5 L115.7,361.6 L115.7,360.7 L115.7,359.8 L115.7,358.9 L115.7,357.9 L115.7,357.0 L115.7,356.1 L115.7,355.2 L115.7,354.3 L115.8,353.4 L115.8,352.5 L115.8,351.6 L115.9,350.7 L116.0,350.0 L116.2,349.8 L117.0,348.9 L117.4,348.0 Z" fill="#c9c9c9" fill-opacity="0.6" stroke="#c9c9c9" stroke-width="0.6"/>
<path d="M116.9,348.8 L118.9,348.8 L117.9,347.0 Z" fill="#b0b0b0"/>
<path d="M116.9,370.5 L118.9,370.5 L117.9,368.7 Z" fill="#b0b0b0"/>
<path d="M116.8,351.9 L118.8,351.9 L117.8,350.1 Z" fill="#b0b0b0"/>
<path d="M116.0,354.4 L118.0,354.4 L117.0,352.6 Z" fill="#b0b0b0"/>
<path d="M117.6,356.8 L119.6,356.8 L118.6,355.0 Z" fill="#b0b0b0"/>
<path d="M117.8,359.6 L119.8,359.6 L118.8,357.8 Z" fill="#b0b0b0"/>
<path d="M116.4,362.1 L118.4,362.1 L117.4,360.3 Z" fill="#b0b0b0"/>
<path d="M116.3,365.0 L118.3,365.0 L117.3,363.2 Z" fill="#b0b0b0"/>
<path d="M117.8,367.4 L119.8,367.4 L118.8,365.6 Z" fill="#b0b0b0"/>
<line x1="32.900000000000006" y1="343.5" x2="41.199999999999996" y2="343.5" stroke="#2b2b2b" stroke-width="1.3"/>
<path d="M35.60,339.05 L35.60,340.95 M34.78,339.52 L36.42,340.48 M36.42,339.52 L34.78,340.48 " stroke="#2b2b2b" stroke-width="0.75" stroke-linecap="round"/>
<path d="M38.50,339.05 L38.50,340.95 M37.68,339.52 L39.32,340.48 M39.32,339.52 L37.68,340.48 " stroke="#2b2b2b" stroke-width="0.75" stroke-linecap="round"/>
<line x1="46.7" y1="351.8" x2="56.0" y2="351.8" stroke="#2b2b2b" stroke-width="1.3"/>
<path d="M47.00,347.35 L47.00,349.25 M46.18,347.82 L47.82,348.78 M47.82,347.82 L46.18,348.78 " stroke="#2b2b2b" stroke-width="0.75" stroke-linecap="round"/>
<path d="M49.90,347.35 L49.90,349.25 M49.08,347.82 L50.72,348.78 M50.72,347.82 L49.08,348.78 " stroke="#2b2b2b" stroke-width="0.75" stroke-linecap="round"/>
<path d="M52.80,347.35 L52.80,349.25 M51.98,347.82 L53.62,348.78 M53.62,347.82 L51.98,348.78 " stroke="#2b2b2b" stroke-width="0.75" stroke-linecap="round"/>
<path d="M55.70,347.35 L55.70,349.25 M54.88,347.82 L56.52,348.78 M56.52,347.82 L54.88,348.78 " stroke="#2b2b2b" stroke-width="0.75" stroke-linecap="round"/>
<line x1="61.400000000000006" y1="335.8" x2="70.6" y2="335.8" stroke="#2b2b2b" stroke-width="1.3"/>
<path d="M61.65,331.35 L61.65,333.25 M60.83,331.82 L62.47,332.78 M62.47,331.82 L60.83,332.78 " stroke="#2b2b2b" stroke-width="0.75" stroke-linecap="round"/>
<path d="M64.55,331.35 L64.55,333.25 M63.73,331.82 L65.37,332.78 M65.37,331.82 L63.73,332.78 " stroke="#2b2b2b" stroke-width="0.75" stroke-linecap="round"/>
<path d="M67.45,331.35 L67.45,333.25 M66.63,331.82 L68.27,332.78 M68.27,331.82 L66.63,332.78 " stroke="#2b2b2b" stroke-width="0.75" stroke-linecap="round"/>
<path d="M70.35,331.35 L70.35,333.25 M69.53,331.82 L71.17,332.78 M71.17,331.82 L69.53,332.78 " stroke="#2b2b2b" stroke-width="0.75" stroke-linecap="round"/>
<line x1="81.4" y1="341.6" x2="89.89999999999999" y2="341.6" stroke="#2b2b2b" stroke-width="1.3"/>
<path d="M82.75,337.15 L82.75,339.05 M81.93,337.62 L83.57,338.58 M83.57,337.62 L81.93,338.58 " stroke="#2b2b2b" stroke-width="0.75" stroke-linecap="round"/>
<path d="M85.65,337.15 L85.65,339.05 M84.83,337.62 L86.47,338.58 M86.47,337.62 L84.83,338.58 " stroke="#2b2b2b" stroke-width="0.75" stroke-linecap="round"/>
<path d="M88.55,337.15 L88.55,339.05 M87.73,337.62 L89.37,338.58 M89.37,337.62 L87.73,338.58 " stroke="#2b2b2b" stroke-width="0.75" stroke-linecap="round"/>
<line x1="95.4" y1="365.8" x2="104.1" y2="365.8" stroke="#2b2b2b" stroke-width="1.3"/>
<path d="M98.30,361.35 L98.30,363.25 M97.48,361.82 L99.12,362.78 M99.12,361.82 L97.48,362.78 " stroke="#2b2b2b" stroke-width="0.75" stroke-linecap="round"/>
<path d="M101.20,361.35 L101.20,363.25 M100.38,361.82 L102.02,362.78 M102.02,361.82 L100.38,362.78 " stroke="#2b2b2b" stroke-width="0.75" stroke-linecap="round"/>
<line x1="109.8" y1="346" x2="118.7" y2="346" stroke="#2b2b2b" stroke-width="1.3"/>
<path d="M109.90,341.55 L109.90,343.45 M109.08,342.02 L110.72,342.98 M110.72,342.02 L109.08,342.98 " stroke="#2b2b2b" stroke-width="0.75" stroke-linecap="round"/>
<path d="M112.80,341.55 L112.80,343.45 M111.98,342.02 L113.62,342.98 M113.62,342.02 L111.98,342.98 " stroke="#2b2b2b" stroke-width="0.75" stroke-linecap="round"/>
<path d="M115.70,341.55 L115.70,343.45 M114.88,342.02 L116.52,342.98 M116.52,342.02 L114.88,342.98 " stroke="#2b2b2b" stroke-width="0.75" stroke-linecap="round"/>
<path d="M118.60,341.55 L118.60,343.45 M117.78,342.02 L119.42,342.98 M119.42,342.02 L117.78,342.98 " stroke="#2b2b2b" stroke-width="0.75" stroke-linecap="round"/>
<line x1="157.3" y1="327.0" x2="157.3" y2="394.2" stroke="#2b2b2b" stroke-width="1.25"/>
<line x1="156.70000000000002" y1="394.2" x2="252.7" y2="394.2" stroke="#2b2b2b" stroke-width="1.3"/>
<line x1="154.10000000000002" y1="394.2" x2="157.3" y2="394.2" stroke="#2b2b2b" stroke-width="1.0"/>
<text transform="translate(152.10 396.37)" font-size="6.2" text-anchor="end" font-weight="normal" fill="#2b2b2b" stroke="#2b2b2b" stroke-width="0.1">0</text>
<line x1="154.10000000000002" y1="381.26" x2="157.3" y2="381.26" stroke="#2b2b2b" stroke-width="1.0"/>
<text transform="translate(152.10 383.43)" font-size="6.2" text-anchor="end" font-weight="normal" fill="#2b2b2b" stroke="#2b2b2b" stroke-width="0.1">20</text>
<line x1="154.10000000000002" y1="368.32" x2="157.3" y2="368.32" stroke="#2b2b2b" stroke-width="1.0"/>
<text transform="translate(152.10 370.49)" font-size="6.2" text-anchor="end" font-weight="normal" fill="#2b2b2b" stroke="#2b2b2b" stroke-width="0.1">40</text>
<line x1="154.10000000000002" y1="355.38" x2="157.3" y2="355.38" stroke="#2b2b2b" stroke-width="1.0"/>
<text transform="translate(152.10 357.55)" font-size="6.2" text-anchor="end" font-weight="normal" fill="#2b2b2b" stroke="#2b2b2b" stroke-width="0.1">60</text>
<line x1="154.10000000000002" y1="342.44" x2="157.3" y2="342.44" stroke="#2b2b2b" stroke-width="1.0"/>
<text transform="translate(152.10 344.61)" font-size="6.2" text-anchor="end" font-weight="normal" fill="#2b2b2b" stroke="#2b2b2b" stroke-width="0.1">80</text>
<line x1="154.10000000000002" y1="329.5" x2="157.3" y2="329.5" stroke="#2b2b2b" stroke-width="1.0"/>
<text transform="translate(152.10 331.67)" font-size="6.2" text-anchor="end" font-weight="normal" fill="#2b2b2b" stroke="#2b2b2b" stroke-width="0.1">100</text>
<line x1="182" y1="394.2" x2="182" y2="396.59999999999997" stroke="#2b2b2b" stroke-width="1.0"/>
<text transform="translate(182.00 406.04)" font-size="6.4" text-anchor="middle" font-weight="normal" fill="#2b2b2b" stroke="#2b2b2b" stroke-width="0.14">BM</text>
<line x1="230.3" y1="394.2" x2="230.3" y2="396.59999999999997" stroke="#2b2b2b" stroke-width="1.0"/>
<text transform="translate(230.30 406.04)" font-size="6.4" text-anchor="middle" font-weight="normal" fill="#2b2b2b" stroke="#2b2b2b" stroke-width="0.14">Spleen</text>
<text transform="translate(138.16 361.85) rotate(-90) scale(0.913 1)" font-size="5.3" text-anchor="middle" font-weight="normal" fill="#2b2b2b" stroke="#2b2b2b" stroke-width="0.12">% CD8<tspan font-size="3.29" dy="-2.12">+</tspan><tspan dy="2.12"> of CAR-T cells</tspan></text>
<line x1="164.1" y1="329.7" x2="164.1" y2="353.7" stroke="#1b4587" stroke-width="0.75"/>
<path d="M164.8,329.7 L165.6,330.7 L166.0,331.0 L166.1,331.7 L166.2,332.7 L166.2,333.7 L166.3,334.7 L166.3,335.7 L166.3,336.7 L166.3,337.7 L166.3,338.7 L166.3,339.7 L166.3,340.7 L166.3,341.7 L166.3,342.7 L166.2,343.7 L166.2,344.7 L166.2,345.7 L166.1,346.7 L166.0,347.0 L165.2,347.7 L164.7,348.7 L164.4,349.7 L164.3,350.7 L164.3,351.7 L164.3,352.7 L164.3,353.7 L163.8,353.7 L163.8,352.7 L163.8,351.7 L163.8,350.7 L163.8,349.7 L163.5,348.7 L163.0,347.7 L162.2,347.0 L162.1,346.7 L162.0,345.7 L162.0,344.7 L162.0,343.7 L161.9,342.7 L161.9,341.7 L161.9,340.7 L161.9,339.7 L161.9,338.7 L161.9,337.7 L161.9,336.7 L161.9,335.7 L161.9,334.7 L162.0,333.7 L162.0,332.7 L162.1,331.7 L162.2,331.0 L162.6,330.7 L163.4,329.7 Z" fill="#1b4587" fill-opacity="0.75" stroke="#1b4587" stroke-width="0.6"/>
<circle cx="164.1" cy="329.7" r="1.15" fill="#143668"/>
<circle cx="164.1" cy="353.7" r="1.15" fill="#143668"/>
<circle cx="164.7" cy="332.7" r="1.15" fill="#143668"/>
<circle cx="164.9" cy="335.1" r="1.15" fill="#143668"/>
<circle cx="164.2" cy="338.1" r="1.15" fill="#143668"/>
<circle cx="163.2" cy="340.6" r="1.15" fill="#143668"/>
<circle cx="164.0" cy="343.2" r="1.15" fill="#143668"/>
<circle cx="164.4" cy="345.9" r="1.15" fill="#143668"/>
<line x1="171.4" y1="338.9" x2="171.4" y2="374.9" stroke="#35a83a" stroke-width="0.75"/>
<path d="M172.3,338.9 L173.3,340.0 L173.4,340.4 L173.5,341.9 L173.6,343.4 L173.6,344.9 L173.6,346.4 L173.6,347.9 L173.6,349.4 L173.6,350.9 L173.5,352.4 L173.5,353.9 L173.3,355.0 L172.8,355.4 L171.9,356.9 L171.7,358.4 L171.7,359.9 L171.7,361.4 L171.7,362.9 L171.7,364.4 L171.7,365.9 L171.7,367.4 L171.7,368.9 L171.7,370.4 L171.7,371.9 L171.7,373.4 L171.7,374.9 L171.2,374.9 L171.2,373.4 L171.2,371.9 L171.2,370.4 L171.2,368.9 L171.2,367.4 L171.2,365.9 L171.2,364.4 L171.2,362.9 L171.2,361.4 L171.2,359.9 L171.2,358.4 L170.9,356.9 L170.0,355.4 L169.5,355.0 L169.3,353.9 L169.3,352.4 L169.2,350.9 L169.2,349.4 L169.2,347.9 L169.2,346.4 L169.2,344.9 L169.2,343.4 L169.3,341.9 L169.4,340.4 L169.5,340.0 L170.5,338.9 Z" fill="#35a83a" fill-opacity="0.7749999999999999" stroke="#35a83a" stroke-width="0.6"/>
<circle cx="171.4" cy="338.9" r="1.15" fill="#2a8a2e"/>
<circle cx="171.4" cy="374.9" r="1.15" fill="#2a8a2e"/>
<circle cx="170.5" cy="341.0" r="1.15" fill="#2a8a2e"/>
<circle cx="170.7" cy="344.2" r="1.15" fill="#2a8a2e"/>
<circle cx="171.1" cy="346.2" r="1.15" fill="#2a8a2e"/>
<circle cx="171.9" cy="348.5" r="1.15" fill="#2a8a2e"/>
<circle cx="170.9" cy="351.7" r="1.15" fill="#2a8a2e"/>
<circle cx="171.0" cy="353.9" r="1.15" fill="#2a8a2e"/>
<line x1="178.7" y1="329.3" x2="178.7" y2="342.2" stroke="#e6007e" stroke-width="0.75"/>
<path d="M179.8,329.3 L180.4,329.8 L180.6,330.0 L180.7,330.4 L180.8,330.9 L180.8,331.4 L180.8,332.0 L180.9,332.5 L180.9,333.1 L180.9,333.6 L180.9,334.1 L180.9,334.7 L180.9,335.2 L180.9,335.8 L180.9,336.3 L180.9,336.8 L180.9,337.4 L180.8,337.9 L180.8,338.4 L180.8,339.0 L180.7,339.5 L180.6,340.0 L180.5,340.1 L179.9,340.6 L179.6,341.1 L179.3,341.7 L179.1,342.2 L178.3,342.2 L178.1,341.7 L177.8,341.1 L177.5,340.6 L176.9,340.1 L176.8,340.0 L176.7,339.5 L176.6,339.0 L176.6,338.4 L176.6,337.9 L176.5,337.4 L176.5,336.8 L176.5,336.3 L176.5,335.8 L176.5,335.2 L176.5,334.7 L176.5,334.1 L176.5,333.6 L176.5,333.1 L176.5,332.5 L176.6,332.0 L176.6,331.4 L176.6,330.9 L176.7,330.4 L176.8,330.0 L177.0,329.8 L177.6,329.3 Z" fill="#e6007e" fill-opacity="0.85" stroke="#e6007e" stroke-width="0.6"/>
<circle cx="178.7" cy="329.3" r="1.15" fill="#c4006a"/>
<circle cx="178.7" cy="342.2" r="1.15" fill="#c4006a"/>
<circle cx="178.5" cy="331.3" r="1.15" fill="#c4006a"/>
<circle cx="178.0" cy="333.4" r="1.15" fill="#c4006a"/>
<circle cx="179.5" cy="336.0" r="1.15" fill="#c4006a"/>
<circle cx="178.1" cy="338.7" r="1.15" fill="#c4006a"/>
<line x1="185.8" y1="344.7" x2="185.8" y2="368.2" stroke="#4a1550" stroke-width="0.75"/>
<path d="M186.1,344.7 L186.1,345.7 L186.1,346.7 L186.1,347.6 L186.1,348.6 L186.1,349.6 L186.1,350.6 L186.5,351.6 L187.2,352.5 L187.7,353.0 L187.8,353.5 L187.9,354.5 L187.9,355.5 L188.0,356.4 L188.0,357.4 L188.0,358.4 L188.0,359.4 L188.0,360.4 L188.0,361.4 L188.0,362.3 L187.9,363.3 L187.9,364.3 L187.8,365.3 L187.7,366.0 L187.4,366.2 L186.6,367.2 L186.2,368.2 L185.4,368.2 L185.0,367.2 L184.2,366.2 L183.9,366.0 L183.8,365.3 L183.7,364.3 L183.7,363.3 L183.6,362.3 L183.6,361.4 L183.6,360.4 L183.6,359.4 L183.6,358.4 L183.6,357.4 L183.6,356.4 L183.7,355.5 L183.7,354.5 L183.8,353.5 L183.9,353.0 L184.4,352.5 L185.1,351.6 L185.5,350.6 L185.6,349.6 L185.6,348.6 L185.6,347.6 L185.6,346.7 L185.6,345.7 L185.6,344.7 Z" fill="#4a1550" fill-opacity="0.825" stroke="#4a1550" stroke-width="0.6"/>
<circle cx="185.8" cy="344.7" r="1.15" fill="#380e3c"/>
<circle cx="185.8" cy="368.2" r="1.15" fill="#380e3c"/>
<circle cx="186.8" cy="354.7" r="1.15" fill="#380e3c"/>
<circle cx="185.1" cy="356.8" r="1.15" fill="#380e3c"/>
<circle cx="185.0" cy="359.2" r="1.15" fill="#380e3c"/>
<circle cx="185.0" cy="361.9" r="1.15" fill="#380e3c"/>
<circle cx="185.3" cy="364.4" r="1.15" fill="#380e3c"/>
<line x1="192.9" y1="331.6" x2="192.9" y2="367.2" stroke="#f7941d" stroke-width="0.75"/>
<path d="M193.2,331.6 L193.4,333.1 L194.3,334.6 L194.8,335.0 L194.9,336.1 L195.0,337.5 L195.0,339.0 L195.0,340.5 L195.1,342.0 L195.1,343.5 L195.1,344.9 L195.1,346.4 L195.1,347.9 L195.1,349.4 L195.1,350.9 L195.1,352.4 L195.1,353.9 L195.0,355.3 L195.0,356.8 L195.0,358.3 L194.9,359.8 L194.8,360.0 L193.7,361.3 L193.2,362.8 L193.2,364.2 L193.2,365.7 L193.2,367.2 L192.7,367.2 L192.7,365.7 L192.7,364.2 L192.6,362.8 L192.1,361.3 L191.0,360.0 L190.9,359.8 L190.8,358.3 L190.8,356.8 L190.8,355.3 L190.7,353.9 L190.7,352.4 L190.7,350.9 L190.7,349.4 L190.7,347.9 L190.7,346.4 L190.7,344.9 L190.7,343.5 L190.7,342.0 L190.8,340.5 L190.8,339.0 L190.8,337.5 L190.9,336.1 L191.0,335.0 L191.5,334.6 L192.4,333.1 L192.7,331.6 Z" fill="#f7941d" fill-opacity="0.5249999999999999" stroke="#f7941d" stroke-width="0.6"/>
<circle cx="192.9" cy="331.6" r="1.15" fill="#e38510"/>
<circle cx="192.9" cy="367.2" r="1.15" fill="#e38510"/>
<circle cx="193.7" cy="336.5" r="1.15" fill="#e38510"/>
<circle cx="192.7" cy="339.4" r="1.15" fill="#e38510"/>
<circle cx="192.9" cy="341.9" r="1.15" fill="#e38510"/>
<circle cx="192.6" cy="344.6" r="1.15" fill="#e38510"/>
<circle cx="192.5" cy="347.1" r="1.15" fill="#e38510"/>
<circle cx="192.2" cy="350.7" r="1.15" fill="#e38510"/>
<circle cx="193.2" cy="353.1" r="1.15" fill="#e38510"/>
<circle cx="192.3" cy="356.2" r="1.15" fill="#e38510"/>
<circle cx="192.4" cy="358.4" r="1.15" fill="#e38510"/>
<line x1="200.2" y1="358.5" x2="200.2" y2="383.2" stroke="#c9c9c9" stroke-width="0.75"/>
<path d="M200.4,358.5 L200.4,359.5 L200.4,360.6 L200.4,361.6 L200.5,362.6 L200.9,363.6 L201.7,364.7 L202.1,365.0 L202.2,365.7 L202.3,366.7 L202.3,367.8 L202.4,368.8 L202.4,369.8 L202.4,370.9 L202.4,371.9 L202.4,372.9 L202.4,373.9 L202.4,375.0 L202.4,376.0 L202.3,377.0 L202.3,378.1 L202.3,379.1 L202.1,380.0 L201.9,380.1 L201.0,381.1 L200.6,382.2 L200.4,383.2 L199.9,383.2 L199.8,382.2 L199.4,381.1 L198.5,380.1 L198.3,380.0 L198.1,379.1 L198.1,378.1 L198.1,377.0 L198.0,376.0 L198.0,375.0 L198.0,373.9 L198.0,372.9 L198.0,371.9 L198.0,370.9 L198.0,369.8 L198.0,368.8 L198.1,367.8 L198.1,366.7 L198.2,365.7 L198.3,365.0 L198.7,364.7 L199.5,363.6 L199.9,362.6 L199.9,361.6 L199.9,360.6 L199.9,359.5 L199.9,358.5 Z" fill="#c9c9c9" fill-opacity="0.6" stroke="#c9c9c9" stroke-width="0.6"/>
<path d="M199.2,359.3 L201.2,359.3 L200.2,357.5 Z" fill="#b0b0b0"/>
<path d="M199.2,384.0 L201.2,384.0 L200.2,382.2 Z" fill="#b0b0b0"/>
<path d="M199.1,366.9 L201.1,366.9 L200.1,365.1 Z" fill="#b0b0b0"/>
<path d="M199.9,370.0 L201.9,370.0 L200.9,368.2 Z" fill="#b0b0b0"/>
<path d="M198.3,372.4 L200.3,372.4 L199.3,370.6 Z" fill="#b0b0b0"/>
<path d="M199.6,374.1 L201.6,374.1 L200.6,372.3 Z" fill="#b0b0b0"/>
<path d="M199.1,377.4 L201.1,377.4 L200.1,375.6 Z" fill="#b0b0b0"/>
<path d="M198.2,379.6 L200.2,379.6 L199.2,377.8 Z" fill="#b0b0b0"/>
<line x1="212.7" y1="358.5" x2="212.7" y2="377.8" stroke="#1b4587" stroke-width="0.75"/>
<path d="M213.3,358.5 L213.8,359.3 L214.6,360.0 L214.7,360.1 L214.7,360.9 L214.8,361.7 L214.8,362.5 L214.8,363.3 L214.9,364.1 L214.9,364.9 L214.9,365.7 L214.9,366.5 L214.9,367.4 L214.9,368.1 L214.9,368.9 L214.9,369.8 L214.9,370.6 L214.9,371.4 L214.9,372.2 L214.8,373.0 L214.8,373.8 L214.8,374.6 L214.7,375.4 L214.6,376.0 L214.4,376.2 L213.6,377.0 L213.2,377.8 L212.2,377.8 L211.8,377.0 L211.0,376.2 L210.8,376.0 L210.7,375.4 L210.6,374.6 L210.6,373.8 L210.6,373.0 L210.5,372.2 L210.5,371.4 L210.5,370.6 L210.5,369.8 L210.5,368.9 L210.5,368.1 L210.5,367.4 L210.5,366.5 L210.5,365.7 L210.5,364.9 L210.5,364.1 L210.6,363.3 L210.6,362.5 L210.6,361.7 L210.7,360.9 L210.7,360.1 L210.8,360.0 L211.6,359.3 L212.1,358.5 Z" fill="#1b4587" fill-opacity="0.75" stroke="#1b4587" stroke-width="0.6"/>
<circle cx="212.7" cy="358.5" r="1.15" fill="#143668"/>
<circle cx="212.7" cy="377.8" r="1.15" fill="#143668"/>
<circle cx="213.5" cy="361.2" r="1.15" fill="#143668"/>
<circle cx="213.4" cy="364.3" r="1.15" fill="#143668"/>
<circle cx="212.2" cy="367.1" r="1.15" fill="#143668"/>
<circle cx="212.0" cy="368.9" r="1.15" fill="#143668"/>
<circle cx="213.1" cy="372.0" r="1.15" fill="#143668"/>
<circle cx="213.1" cy="375.1" r="1.15" fill="#143668"/>
<line x1="219.8" y1="346" x2="219.8" y2="372.4" stroke="#35a83a" stroke-width="0.75"/>
<path d="M220.7,346.0 L221.7,347.0 L221.8,347.1 L221.9,348.2 L221.9,349.3 L222.0,350.4 L222.0,351.5 L222.0,352.6 L222.0,353.7 L222.0,354.8 L222.0,355.9 L222.0,357.0 L222.0,358.1 L221.9,359.2 L221.9,360.3 L221.8,361.4 L221.7,362.0 L221.1,362.5 L220.4,363.6 L220.1,364.7 L220.1,365.8 L220.1,366.9 L220.1,368.0 L220.1,369.1 L220.1,370.2 L220.1,371.3 L220.1,372.4 L219.6,372.4 L219.6,371.3 L219.6,370.2 L219.6,369.1 L219.6,368.0 L219.6,366.9 L219.6,365.8 L219.5,364.7 L219.2,363.6 L218.5,362.5 L217.9,362.0 L217.8,361.4 L217.7,360.3 L217.7,359.2 L217.6,358.1 L217.6,357.0 L217.6,355.9 L217.6,354.8 L217.6,353.7 L217.6,352.6 L217.6,351.5 L217.6,350.4 L217.7,349.3 L217.7,348.2 L217.8,347.1 L217.9,347.0 L218.9,346.0 Z" fill="#35a83a" fill-opacity="0.7749999999999999" stroke="#35a83a" stroke-width="0.6"/>
<circle cx="219.8" cy="346.0" r="1.15" fill="#2a8a2e"/>
<circle cx="219.8" cy="372.4" r="1.15" fill="#2a8a2e"/>
<circle cx="220.3" cy="348.4" r="1.15" fill="#2a8a2e"/>
<circle cx="219.9" cy="350.7" r="1.15" fill="#2a8a2e"/>
<circle cx="220.4" cy="352.8" r="1.15" fill="#2a8a2e"/>
<circle cx="220.6" cy="355.5" r="1.15" fill="#2a8a2e"/>
<circle cx="219.4" cy="358.4" r="1.15" fill="#2a8a2e"/>
<circle cx="219.3" cy="360.4" r="1.15" fill="#2a8a2e"/>
<line x1="227.2" y1="330.7" x2="227.2" y2="350.5" stroke="#e6007e" stroke-width="0.75"/>
<path d="M227.9,330.7 L228.5,331.5 L229.1,332.0 L229.2,332.4 L229.3,333.2 L229.3,334.0 L229.3,334.8 L229.4,335.6 L229.4,336.5 L229.4,337.3 L229.4,338.1 L229.4,338.9 L229.4,339.8 L229.4,340.6 L229.4,341.4 L229.3,342.2 L229.3,343.1 L229.3,343.9 L229.2,344.7 L229.1,345.0 L228.5,345.6 L227.9,346.4 L227.6,347.2 L227.4,348.0 L227.4,348.9 L227.4,349.7 L227.4,350.5 L226.9,350.5 L226.9,349.7 L226.9,348.9 L226.9,348.0 L226.8,347.2 L226.5,346.4 L225.9,345.6 L225.3,345.0 L225.2,344.7 L225.1,343.9 L225.1,343.1 L225.1,342.2 L225.0,341.4 L225.0,340.6 L225.0,339.8 L225.0,338.9 L225.0,338.1 L225.0,337.3 L225.0,336.5 L225.0,335.6 L225.1,334.8 L225.1,334.0 L225.1,333.2 L225.2,332.4 L225.3,332.0 L225.9,331.5 L226.5,330.7 Z" fill="#e6007e" fill-opacity="0.825" stroke="#e6007e" stroke-width="0.6"/>
<circle cx="227.2" cy="330.7" r="1.15" fill="#c4006a"/>
<circle cx="227.2" cy="350.5" r="1.15" fill="#c4006a"/>
<circle cx="227.6" cy="333.4" r="1.15" fill="#c4006a"/>
<circle cx="226.3" cy="335.5" r="1.15" fill="#c4006a"/>
<circle cx="227.4" cy="338.5" r="1.15" fill="#c4006a"/>
<circle cx="226.7" cy="341.0" r="1.15" fill="#c4006a"/>
<circle cx="226.2" cy="343.8" r="1.15" fill="#c4006a"/>
<line x1="234.5" y1="338.3" x2="234.5" y2="353.7" stroke="#4a1550" stroke-width="0.75"/>
<path d="M235.1,338.3 L235.4,338.9 L235.9,339.6 L236.4,340.0 L236.5,340.2 L236.6,340.9 L236.6,341.5 L236.6,342.1 L236.7,342.8 L236.7,343.4 L236.7,344.1 L236.7,344.7 L236.7,345.4 L236.7,346.0 L236.7,346.6 L236.7,347.3 L236.7,347.9 L236.7,348.6 L236.7,349.2 L236.6,349.9 L236.6,350.5 L236.6,351.1 L236.5,351.8 L236.4,352.0 L235.9,352.4 L235.4,353.1 L235.1,353.7 L233.9,353.7 L233.6,353.1 L233.1,352.4 L232.6,352.0 L232.5,351.8 L232.4,351.1 L232.4,350.5 L232.4,349.9 L232.3,349.2 L232.3,348.6 L232.3,347.9 L232.3,347.3 L232.3,346.6 L232.3,346.0 L232.3,345.4 L232.3,344.7 L232.3,344.1 L232.3,343.4 L232.3,342.8 L232.4,342.1 L232.4,341.5 L232.4,340.9 L232.5,340.2 L232.6,340.0 L233.1,339.6 L233.6,338.9 L233.9,338.3 Z" fill="#4a1550" fill-opacity="0.85" stroke="#4a1550" stroke-width="0.6"/>
<circle cx="234.5" cy="338.3" r="1.15" fill="#380e3c"/>
<circle cx="234.5" cy="353.7" r="1.15" fill="#380e3c"/>
<circle cx="234.4" cy="341.0" r="1.15" fill="#380e3c"/>
<circle cx="234.8" cy="344.1" r="1.15" fill="#380e3c"/>
<circle cx="234.5" cy="346.4" r="1.15" fill="#380e3c"/>
<circle cx="234.0" cy="348.1" r="1.15" fill="#380e3c"/>
<circle cx="234.9" cy="351.3" r="1.15" fill="#380e3c"/>
<line x1="241.6" y1="333.9" x2="241.6" y2="347.4" stroke="#f7941d" stroke-width="0.75"/>
<path d="M242.5,333.9 L242.9,334.5 L243.5,335.0 L243.5,335.0 L243.6,335.6 L243.7,336.1 L243.7,336.7 L243.7,337.3 L243.8,337.8 L243.8,338.4 L243.8,339.0 L243.8,339.5 L243.8,340.1 L243.8,340.6 L243.8,341.2 L243.8,341.8 L243.8,342.3 L243.8,342.9 L243.8,343.5 L243.7,344.0 L243.7,344.6 L243.7,345.1 L243.6,345.7 L243.5,346.0 L243.2,346.3 L242.6,346.8 L242.3,347.4 L240.9,347.4 L240.6,346.8 L240.0,346.3 L239.7,346.0 L239.6,345.7 L239.5,345.1 L239.5,344.6 L239.5,344.0 L239.4,343.5 L239.4,342.9 L239.4,342.3 L239.4,341.8 L239.4,341.2 L239.4,340.6 L239.4,340.1 L239.4,339.5 L239.4,339.0 L239.4,338.4 L239.4,337.8 L239.5,337.3 L239.5,336.7 L239.5,336.1 L239.6,335.6 L239.7,335.0 L239.7,335.0 L240.3,334.5 L240.7,333.9 Z" fill="#f7941d" fill-opacity="0.85" stroke="#f7941d" stroke-width="0.6"/>
<circle cx="241.6" cy="333.9" r="1.15" fill="#e38510"/>
<circle cx="241.6" cy="347.4" r="1.15" fill="#e38510"/>
<circle cx="240.7" cy="336.2" r="1.15" fill="#e38510"/>
<circle cx="241.9" cy="339.1" r="1.15" fill="#e38510"/>
<circle cx="241.1" cy="341.8" r="1.15" fill="#e38510"/>
<circle cx="242.4" cy="344.8" r="1.15" fill="#e38510"/>
<line x1="248.7" y1="350.8" x2="248.7" y2="373.9" stroke="#c9c9c9" stroke-width="0.75"/>
<path d="M248.9,350.8 L248.9,351.8 L249.1,352.7 L249.4,353.7 L250.2,354.6 L250.6,355.0 L250.7,355.6 L250.8,356.6 L250.8,357.5 L250.9,358.5 L250.9,359.5 L250.9,360.4 L250.9,361.4 L250.9,362.4 L250.9,363.3 L250.9,364.3 L250.8,365.2 L250.8,366.2 L250.8,367.2 L250.6,368.0 L250.4,368.1 L249.6,369.1 L249.1,370.1 L248.9,371.0 L248.9,372.0 L248.9,372.9 L248.9,373.9 L248.4,373.9 L248.4,372.9 L248.4,372.0 L248.4,371.0 L248.3,370.1 L247.8,369.1 L247.0,368.1 L246.8,368.0 L246.6,367.2 L246.6,366.2 L246.6,365.2 L246.5,364.3 L246.5,363.3 L246.5,362.4 L246.5,361.4 L246.5,360.4 L246.5,359.5 L246.5,358.5 L246.6,357.5 L246.6,356.6 L246.7,355.6 L246.8,355.0 L247.2,354.6 L248.0,353.7 L248.3,352.7 L248.4,351.8 L248.4,350.8 Z" fill="#c9c9c9" fill-opacity="0.6" stroke="#c9c9c9" stroke-width="0.6"/>
<path d="M247.7,351.6 L249.7,351.6 L248.7,349.8 Z" fill="#b0b0b0"/>
<path d="M247.7,374.7 L249.7,374.7 L248.7,372.9 Z" fill="#b0b0b0"/>
<path d="M246.8,356.8 L248.8,356.8 L247.8,355.0 Z" fill="#b0b0b0"/>
<path d="M247.5,359.5 L249.5,359.5 L248.5,357.7 Z" fill="#b0b0b0"/>
<path d="M247.1,362.5 L249.1,362.5 L248.1,360.7 Z" fill="#b0b0b0"/>
<path d="M248.2,365.2 L250.2,365.2 L249.2,363.4 Z" fill="#b0b0b0"/>
<path d="M247.1,367.5 L249.1,367.5 L248.1,365.7 Z" fill="#b0b0b0"/>
<line x1="163.29999999999998" y1="327.8" x2="172.20000000000002" y2="327.8" stroke="#2b2b2b" stroke-width="1.3"/>
<path d="M166.30,323.35 L166.30,325.25 M165.48,323.82 L167.12,324.78 M167.12,323.82 L165.48,324.78 " stroke="#2b2b2b" stroke-width="0.75" stroke-linecap="round"/>
<path d="M169.20,323.35 L169.20,325.25 M168.38,323.82 L170.02,324.78 M170.02,323.82 L168.38,324.78 " stroke="#2b2b2b" stroke-width="0.75" stroke-linecap="round"/>
<line x1="177.89999999999998" y1="327.4" x2="186.60000000000002" y2="327.4" stroke="#2b2b2b" stroke-width="1.3"/>
<path d="M177.90,322.95 L177.90,324.85 M177.08,323.42 L178.72,324.38 M178.72,323.42 L177.08,324.38 " stroke="#2b2b2b" stroke-width="0.75" stroke-linecap="round"/>
<path d="M180.80,322.95 L180.80,324.85 M179.98,323.42 L181.62,324.38 M181.62,323.42 L179.98,324.38 " stroke="#2b2b2b" stroke-width="0.75" stroke-linecap="round"/>
<path d="M183.70,322.95 L183.70,324.85 M182.88,323.42 L184.52,324.38 M184.52,323.42 L182.88,324.38 " stroke="#2b2b2b" stroke-width="0.75" stroke-linecap="round"/>
<path d="M186.60,322.95 L186.60,324.85 M185.78,323.42 L187.42,324.38 M187.42,323.42 L185.78,324.38 " stroke="#2b2b2b" stroke-width="0.75" stroke-linecap="round"/>
<line x1="192.1" y1="331.2" x2="201.0" y2="331.2" stroke="#2b2b2b" stroke-width="1.3"/>
<path d="M192.20,326.75 L192.20,328.65 M191.38,327.22 L193.02,328.18 M193.02,327.22 L191.38,328.18 " stroke="#2b2b2b" stroke-width="0.75" stroke-linecap="round"/>
<path d="M195.10,326.75 L195.10,328.65 M194.28,327.22 L195.92,328.18 M195.92,327.22 L194.28,328.18 " stroke="#2b2b2b" stroke-width="0.75" stroke-linecap="round"/>
<path d="M198.00,326.75 L198.00,328.65 M197.18,327.22 L198.82,328.18 M198.82,327.22 L197.18,328.18 " stroke="#2b2b2b" stroke-width="0.75" stroke-linecap="round"/>
<path d="M200.90,326.75 L200.90,328.65 M200.08,327.22 L201.72,328.18 M201.72,327.22 L200.08,328.18 " stroke="#2b2b2b" stroke-width="0.75" stroke-linecap="round"/>
<line x1="211.89999999999998" y1="344.1" x2="220.60000000000002" y2="344.1" stroke="#2b2b2b" stroke-width="1.3"/>
<path d="M213.35,339.65 L213.35,341.55 M212.53,340.12 L214.17,341.08 M214.17,340.12 L212.53,341.08 " stroke="#2b2b2b" stroke-width="0.75" stroke-linecap="round"/>
<path d="M216.25,339.65 L216.25,341.55 M215.43,340.12 L217.07,341.08 M217.07,340.12 L215.43,341.08 " stroke="#2b2b2b" stroke-width="0.75" stroke-linecap="round"/>
<path d="M219.15,339.65 L219.15,341.55 M218.33,340.12 L219.97,341.08 M219.97,340.12 L218.33,341.08 " stroke="#2b2b2b" stroke-width="0.75" stroke-linecap="round"/>
<line x1="226.39999999999998" y1="329.3" x2="235.3" y2="329.3" stroke="#2b2b2b" stroke-width="1.3"/>
<path d="M229.40,324.85 L229.40,326.75 M228.58,325.32 L230.22,326.28 M230.22,325.32 L228.58,326.28 " stroke="#2b2b2b" stroke-width="0.75" stroke-linecap="round"/>
<path d="M232.30,324.85 L232.30,326.75 M231.48,325.32 L233.12,326.28 M233.12,325.32 L231.48,326.28 " stroke="#2b2b2b" stroke-width="0.75" stroke-linecap="round"/>
<line x1="240.79999999999998" y1="333.2" x2="249.5" y2="333.2" stroke="#2b2b2b" stroke-width="1.3"/>
<path d="M240.80,328.75 L240.80,330.65 M239.98,329.22 L241.62,330.18 M241.62,329.22 L239.98,330.18 " stroke="#2b2b2b" stroke-width="0.75" stroke-linecap="round"/>
<path d="M243.70,328.75 L243.70,330.65 M242.88,329.22 L244.52,330.18 M244.52,329.22 L242.88,330.18 " stroke="#2b2b2b" stroke-width="0.75" stroke-linecap="round"/>
<path d="M246.60,328.75 L246.60,330.65 M245.78,329.22 L247.42,330.18 M247.42,329.22 L245.78,330.18 " stroke="#2b2b2b" stroke-width="0.75" stroke-linecap="round"/>
<path d="M249.50,328.75 L249.50,330.65 M248.68,329.22 L250.32,330.18 M250.32,329.22 L248.68,330.18 " stroke="#2b2b2b" stroke-width="0.75" stroke-linecap="round"/>
<text transform="translate(387.70 301.58) scale(1.017 1)" font-size="8.8" text-anchor="middle" font-weight="normal" fill="#2b2b2b" stroke="#2b2b2b" stroke-width="0.1">CD4<tspan font-size="5.46" dy="-3.52">+</tspan><tspan dy="3.52">CD25</tspan><tspan font-size="5.46" dy="-3.52">+</tspan><tspan dy="3.52">Foxp3</tspan><tspan font-size="5.46" dy="-3.52">+</tspan><tspan dy="3.52"> CAR-T cells</tspan></text>
<text transform="translate(336.40 313.16) scale(1.008 1)" font-size="7.6" text-anchor="middle" font-weight="normal" fill="#2b2b2b" stroke="#2b2b2b" stroke-width="0.1">Percentages</text>
<text transform="translate(468.00 313.19) scale(1.008 1)" font-size="7.7" text-anchor="middle" font-weight="normal" fill="#2b2b2b" stroke="#2b2b2b" stroke-width="0.1">Numbers</text>
<line x1="288.8" y1="326.7" x2="288.8" y2="394.2" stroke="#2b2b2b" stroke-width="1.25"/>
<line x1="288.2" y1="394.2" x2="383.8" y2="394.2" stroke="#2b2b2b" stroke-width="1.3"/>
<line x1="285.6" y1="394.2" x2="288.8" y2="394.2" stroke="#2b2b2b" stroke-width="1.0"/>
<text transform="translate(283.60 396.37)" font-size="6.2" text-anchor="end" font-weight="normal" fill="#2b2b2b" stroke="#2b2b2b" stroke-width="0.1">0</text>
<line x1="285.6" y1="377.95" x2="288.8" y2="377.95" stroke="#2b2b2b" stroke-width="1.0"/>
<text transform="translate(283.60 380.12)" font-size="6.2" text-anchor="end" font-weight="normal" fill="#2b2b2b" stroke="#2b2b2b" stroke-width="0.1">20</text>
<line x1="285.6" y1="361.7" x2="288.8" y2="361.7" stroke="#2b2b2b" stroke-width="1.0"/>
<text transform="translate(283.60 363.87)" font-size="6.2" text-anchor="end" font-weight="normal" fill="#2b2b2b" stroke="#2b2b2b" stroke-width="0.1">40</text>
<line x1="285.6" y1="345.45" x2="288.8" y2="345.45" stroke="#2b2b2b" stroke-width="1.0"/>
<text transform="translate(283.60 347.62)" font-size="6.2" text-anchor="end" font-weight="normal" fill="#2b2b2b" stroke="#2b2b2b" stroke-width="0.1">60</text>
<line x1="285.6" y1="329.2" x2="288.8" y2="329.2" stroke="#2b2b2b" stroke-width="1.0"/>
<text transform="translate(283.60 331.37)" font-size="6.2" text-anchor="end" font-weight="normal" fill="#2b2b2b" stroke="#2b2b2b" stroke-width="0.1">80</text>
<line x1="313.2" y1="394.2" x2="313.2" y2="396.59999999999997" stroke="#2b2b2b" stroke-width="1.0"/>
<text transform="translate(313.20 406.04)" font-size="6.4" text-anchor="middle" font-weight="normal" fill="#2b2b2b" stroke="#2b2b2b" stroke-width="0.14">BM</text>
<line x1="361.5" y1="394.2" x2="361.5" y2="396.59999999999997" stroke="#2b2b2b" stroke-width="1.0"/>
<text transform="translate(361.50 406.04)" font-size="6.4" text-anchor="middle" font-weight="normal" fill="#2b2b2b" stroke="#2b2b2b" stroke-width="0.14">Spleen</text>
<text transform="translate(270.36 361.70) rotate(-90) scale(0.956 1)" font-size="5.3" text-anchor="middle" font-weight="normal" fill="#2b2b2b" stroke="#2b2b2b" stroke-width="0.12">% CD25<tspan font-size="3.29" dy="-2.12">+</tspan><tspan dy="2.12">Foxp3</tspan><tspan font-size="3.29" dy="-2.12">+</tspan><tspan dy="2.12"> of CD4</tspan><tspan font-size="3.29" dy="-2.12">+</tspan><tspan dy="2.12"> CAR-T cells</tspan></text>
<line x1="295.1" y1="339.7" x2="295.1" y2="394.1" stroke="#1b4587" stroke-width="0.75"/>
<path d="M295.4,339.7 L295.4,342.0 L295.4,344.2 L295.4,346.5 L295.4,348.8 L295.4,351.0 L295.4,353.3 L295.4,355.6 L295.4,357.8 L295.4,360.1 L295.4,362.4 L295.4,364.6 L295.4,366.9 L295.6,369.2 L297.0,371.0 L297.1,371.4 L297.2,373.7 L297.3,376.0 L297.3,378.2 L297.3,380.5 L297.3,382.8 L297.2,385.0 L297.1,387.3 L297.0,387.4 L295.5,389.6 L295.4,391.8 L295.4,394.1 L294.9,394.1 L294.9,391.8 L294.7,389.6 L293.2,387.4 L293.1,387.3 L293.0,385.0 L292.9,382.8 L292.9,380.5 L292.9,378.2 L292.9,376.0 L293.0,373.7 L293.1,371.4 L293.2,371.0 L294.6,369.2 L294.9,366.9 L294.9,364.6 L294.9,362.4 L294.9,360.1 L294.9,357.8 L294.9,355.6 L294.9,353.3 L294.9,351.0 L294.9,348.8 L294.9,346.5 L294.9,344.2 L294.9,342.0 L294.9,339.7 Z" fill="#1b4587" fill-opacity="0.7400000000000005" stroke="#1b4587" stroke-width="0.6"/>
<circle cx="295.1" cy="339.7" r="1.15" fill="#143668"/>
<circle cx="295.1" cy="394.1" r="1.15" fill="#143668"/>
<circle cx="294.7" cy="372.8" r="1.15" fill="#143668"/>
<circle cx="294.6" cy="375.4" r="1.15" fill="#143668"/>
<circle cx="295.6" cy="377.6" r="1.15" fill="#143668"/>
<circle cx="296.0" cy="380.4" r="1.15" fill="#143668"/>
<circle cx="294.5" cy="383.3" r="1.15" fill="#143668"/>
<circle cx="294.9" cy="385.8" r="1.15" fill="#143668"/>
<line x1="301.4" y1="368.2" x2="301.4" y2="394.4" stroke="#35a83a" stroke-width="0.75"/>
<path d="M301.6,368.2 L301.6,369.3 L301.6,370.4 L301.6,371.5 L301.6,372.6 L301.6,373.7 L301.6,374.8 L301.8,375.8 L302.3,376.9 L303.3,378.0 L303.3,378.0 L303.5,379.1 L303.5,380.2 L303.6,381.3 L303.6,382.4 L303.6,383.5 L303.6,384.6 L303.6,385.7 L303.6,386.8 L303.6,387.9 L303.5,388.9 L303.5,390.0 L303.5,391.1 L303.3,392.0 L303.0,392.2 L302.1,393.3 L301.7,394.4 L301.1,394.4 L300.7,393.3 L299.8,392.2 L299.5,392.0 L299.3,391.1 L299.3,390.0 L299.3,388.9 L299.2,387.9 L299.2,386.8 L299.2,385.7 L299.2,384.6 L299.2,383.5 L299.2,382.4 L299.2,381.3 L299.3,380.2 L299.3,379.1 L299.5,378.0 L299.5,378.0 L300.5,376.9 L301.0,375.8 L301.1,374.8 L301.1,373.7 L301.1,372.6 L301.1,371.5 L301.1,370.4 L301.1,369.3 L301.1,368.2 Z" fill="#35a83a" fill-opacity="0.7999999999999999" stroke="#35a83a" stroke-width="0.6"/>
<circle cx="301.4" cy="368.2" r="1.15" fill="#2a8a2e"/>
<circle cx="301.4" cy="394.4" r="1.15" fill="#2a8a2e"/>
<circle cx="302.3" cy="379.6" r="1.15" fill="#2a8a2e"/>
<circle cx="301.2" cy="381.8" r="1.15" fill="#2a8a2e"/>
<circle cx="302.3" cy="384.7" r="1.15" fill="#2a8a2e"/>
<circle cx="300.5" cy="387.4" r="1.15" fill="#2a8a2e"/>
<circle cx="301.2" cy="390.2" r="1.15" fill="#2a8a2e"/>
<line x1="308.5" y1="356.2" x2="308.5" y2="388.3" stroke="#e6007e" stroke-width="0.75"/>
<path d="M308.8,356.2 L308.8,357.5 L309.4,358.9 L310.4,360.0 L310.5,360.2 L310.6,361.6 L310.6,362.9 L310.7,364.2 L310.7,365.6 L310.7,366.9 L310.7,368.2 L310.7,369.6 L310.7,370.9 L310.6,372.2 L310.6,373.6 L310.4,374.9 L310.4,375.0 L309.3,376.3 L308.8,377.6 L308.8,378.9 L308.8,380.3 L308.8,381.6 L308.8,382.9 L308.8,384.3 L308.8,385.6 L308.8,387.0 L308.8,388.3 L308.2,388.3 L308.2,387.0 L308.2,385.6 L308.2,384.3 L308.2,382.9 L308.2,381.6 L308.2,380.3 L308.2,378.9 L308.2,377.6 L307.7,376.3 L306.6,375.0 L306.6,374.9 L306.4,373.6 L306.4,372.2 L306.3,370.9 L306.3,369.6 L306.3,368.2 L306.3,366.9 L306.3,365.6 L306.3,364.2 L306.4,362.9 L306.4,361.6 L306.5,360.2 L306.6,360.0 L307.6,358.9 L308.2,357.5 L308.2,356.2 Z" fill="#e6007e" fill-opacity="0.7749999999999999" stroke="#e6007e" stroke-width="0.6"/>
<circle cx="308.5" cy="356.2" r="1.15" fill="#c4006a"/>
<circle cx="308.5" cy="388.3" r="1.15" fill="#c4006a"/>
<circle cx="309.3" cy="361.6" r="1.15" fill="#c4006a"/>
<circle cx="309.5" cy="364.0" r="1.15" fill="#c4006a"/>
<circle cx="308.2" cy="366.7" r="1.15" fill="#c4006a"/>
<circle cx="309.4" cy="368.4" r="1.15" fill="#c4006a"/>
<circle cx="307.6" cy="371.5" r="1.15" fill="#c4006a"/>
<circle cx="308.3" cy="373.9" r="1.15" fill="#c4006a"/>
<line x1="315.5" y1="352.4" x2="315.5" y2="379.3" stroke="#4a1550" stroke-width="0.75"/>
<path d="M315.8,352.4 L316.2,353.5 L317.0,354.6 L317.4,355.0 L317.5,355.8 L317.6,356.9 L317.7,358.0 L317.7,359.1 L317.7,360.2 L317.7,361.4 L317.7,362.5 L317.7,363.6 L317.7,364.7 L317.6,365.9 L317.6,367.0 L317.4,368.0 L317.3,368.1 L316.3,369.2 L315.9,370.3 L315.8,371.4 L315.8,372.6 L315.8,373.7 L315.8,374.8 L315.8,375.9 L315.8,377.1 L315.8,378.2 L315.8,379.3 L315.2,379.3 L315.2,378.2 L315.2,377.1 L315.2,375.9 L315.2,374.8 L315.2,373.7 L315.2,372.6 L315.2,371.4 L315.1,370.3 L314.7,369.2 L313.7,368.1 L313.6,368.0 L313.4,367.0 L313.4,365.9 L313.3,364.7 L313.3,363.6 L313.3,362.5 L313.3,361.4 L313.3,360.2 L313.3,359.1 L313.3,358.0 L313.4,356.9 L313.5,355.8 L313.6,355.0 L314.0,354.6 L314.8,353.5 L315.2,352.4 Z" fill="#4a1550" fill-opacity="0.825" stroke="#4a1550" stroke-width="0.6"/>
<circle cx="315.5" cy="352.4" r="1.15" fill="#380e3c"/>
<circle cx="315.5" cy="379.3" r="1.15" fill="#380e3c"/>
<circle cx="315.2" cy="356.2" r="1.15" fill="#380e3c"/>
<circle cx="314.5" cy="358.6" r="1.15" fill="#380e3c"/>
<circle cx="315.2" cy="361.3" r="1.15" fill="#380e3c"/>
<circle cx="314.8" cy="364.6" r="1.15" fill="#380e3c"/>
<circle cx="314.9" cy="367.2" r="1.15" fill="#380e3c"/>
<line x1="322" y1="348.5" x2="322" y2="394.1" stroke="#f7941d" stroke-width="0.75"/>
<path d="M322.2,348.5 L322.2,350.4 L322.2,352.3 L322.2,354.2 L322.5,356.1 L323.9,358.0 L324.0,359.9 L324.1,361.8 L324.1,363.7 L324.1,365.6 L324.2,367.5 L324.2,369.4 L324.2,371.3 L324.2,373.2 L324.2,375.1 L324.2,377.0 L324.2,378.9 L324.2,380.8 L324.2,382.7 L324.2,384.6 L324.1,386.5 L324.1,388.4 L324.1,390.3 L324.0,392.2 L323.9,393.5 L323.2,394.1 L320.8,394.1 L320.1,393.5 L320.0,392.2 L319.9,390.3 L319.9,388.4 L319.9,386.5 L319.8,384.6 L319.8,382.7 L319.8,380.8 L319.8,378.9 L319.8,377.0 L319.8,375.1 L319.8,373.2 L319.8,371.3 L319.8,369.4 L319.8,367.5 L319.9,365.6 L319.9,363.7 L319.9,361.8 L320.0,359.9 L320.1,358.0 L321.5,356.1 L321.8,354.2 L321.8,352.3 L321.8,350.4 L321.8,348.5 Z" fill="#f7941d" fill-opacity="0.5" stroke="#f7941d" stroke-width="0.6"/>
<circle cx="322.0" cy="348.5" r="1.15" fill="#e38510"/>
<circle cx="322.0" cy="394.1" r="1.15" fill="#e38510"/>
<circle cx="322.6" cy="359.8" r="1.15" fill="#e38510"/>
<circle cx="321.9" cy="364.2" r="1.15" fill="#e38510"/>
<circle cx="321.9" cy="367.4" r="1.15" fill="#e38510"/>
<circle cx="322.8" cy="371.7" r="1.15" fill="#e38510"/>
<circle cx="321.7" cy="375.4" r="1.15" fill="#e38510"/>
<circle cx="321.1" cy="380.1" r="1.15" fill="#e38510"/>
<circle cx="322.6" cy="383.5" r="1.15" fill="#e38510"/>
<circle cx="321.1" cy="387.9" r="1.15" fill="#e38510"/>
<circle cx="321.1" cy="391.1" r="1.15" fill="#e38510"/>
<line x1="328.3" y1="353.7" x2="328.3" y2="379.7" stroke="#c9c9c9" stroke-width="0.75"/>
<path d="M329.0,353.7 L329.9,354.8 L330.2,355.0 L330.3,355.9 L330.4,356.9 L330.4,358.0 L330.5,359.1 L330.5,360.2 L330.5,361.3 L330.5,362.4 L330.5,363.4 L330.5,364.5 L330.5,365.6 L330.4,366.7 L330.4,367.8 L330.4,368.9 L330.2,369.9 L330.2,370.0 L329.2,371.0 L328.7,372.1 L328.6,373.2 L328.6,374.3 L328.6,375.4 L328.6,376.4 L328.6,377.5 L328.6,378.6 L328.6,379.7 L328.1,379.7 L328.1,378.6 L328.1,377.5 L328.1,376.4 L328.1,375.4 L328.1,374.3 L328.1,373.2 L327.9,372.1 L327.4,371.0 L326.4,370.0 L326.4,369.9 L326.2,368.9 L326.2,367.8 L326.2,366.7 L326.1,365.6 L326.1,364.5 L326.1,363.4 L326.1,362.4 L326.1,361.3 L326.1,360.2 L326.1,359.1 L326.2,358.0 L326.2,356.9 L326.3,355.9 L326.4,355.0 L326.7,354.8 L327.6,353.7 Z" fill="#c9c9c9" fill-opacity="0.6" stroke="#c9c9c9" stroke-width="0.6"/>
<path d="M327.3,354.5 L329.3,354.5 L328.3,352.7 Z" fill="#b0b0b0"/>
<path d="M327.3,380.5 L329.3,380.5 L328.3,378.7 Z" fill="#b0b0b0"/>
<path d="M326.8,357.5 L328.8,357.5 L327.8,355.7 Z" fill="#b0b0b0"/>
<path d="M328.1,359.8 L330.1,359.8 L329.1,358.0 Z" fill="#b0b0b0"/>
<path d="M326.8,361.9 L328.8,361.9 L327.8,360.1 Z" fill="#b0b0b0"/>
<path d="M327.5,365.0 L329.5,365.0 L328.5,363.2 Z" fill="#b0b0b0"/>
<path d="M327.7,366.8 L329.7,366.8 L328.7,365.0 Z" fill="#b0b0b0"/>
<path d="M326.9,369.4 L328.9,369.4 L327.9,367.6 Z" fill="#b0b0b0"/>
<line x1="340.5" y1="360.5" x2="340.5" y2="393.5" stroke="#1b4587" stroke-width="0.75"/>
<path d="M340.8,360.5 L340.8,361.9 L340.8,363.2 L340.8,364.6 L340.8,366.0 L340.8,367.4 L340.8,368.8 L340.8,370.1 L340.8,371.5 L340.9,372.9 L341.6,374.2 L342.4,375.0 L342.5,375.6 L342.6,377.0 L342.7,378.4 L342.7,379.8 L342.7,381.1 L342.7,382.5 L342.7,383.9 L342.6,385.2 L342.6,386.6 L342.4,388.0 L341.2,389.4 L340.8,390.8 L340.8,392.1 L340.8,393.5 L340.2,393.5 L340.2,392.1 L340.2,390.8 L339.8,389.4 L338.6,388.0 L338.4,386.6 L338.4,385.2 L338.3,383.9 L338.3,382.5 L338.3,381.1 L338.3,379.8 L338.3,378.4 L338.4,377.0 L338.5,375.6 L338.6,375.0 L339.4,374.2 L340.1,372.9 L340.2,371.5 L340.2,370.1 L340.2,368.8 L340.2,367.4 L340.2,366.0 L340.2,364.6 L340.2,363.2 L340.2,361.9 L340.2,360.5 Z" fill="#1b4587" fill-opacity="0.825" stroke="#1b4587" stroke-width="0.6"/>
<circle cx="340.5" cy="360.5" r="1.15" fill="#143668"/>
<circle cx="340.5" cy="393.5" r="1.15" fill="#143668"/>
<circle cx="341.0" cy="375.8" r="1.15" fill="#143668"/>
<circle cx="340.8" cy="379.3" r="1.15" fill="#143668"/>
<circle cx="339.6" cy="381.9" r="1.15" fill="#143668"/>
<circle cx="340.5" cy="383.8" r="1.15" fill="#143668"/>
<circle cx="341.4" cy="387.2" r="1.15" fill="#143668"/>
<line x1="347" y1="367.8" x2="347" y2="394.1" stroke="#35a83a" stroke-width="0.75"/>
<path d="M347.2,367.8 L347.2,368.9 L347.2,370.0 L347.2,371.1 L347.2,372.2 L347.2,373.3 L347.2,374.4 L347.3,375.5 L347.7,376.6 L348.5,377.7 L348.9,378.0 L349.1,378.8 L349.1,379.9 L349.2,380.9 L349.2,382.1 L349.2,383.1 L349.2,384.2 L349.2,385.3 L349.2,386.4 L349.1,387.5 L349.1,388.6 L349.0,389.7 L348.9,390.0 L348.1,390.8 L347.5,391.9 L347.2,393.0 L347.2,394.1 L346.8,394.1 L346.8,393.0 L346.5,391.9 L345.9,390.8 L345.1,390.0 L345.0,389.7 L344.9,388.6 L344.9,387.5 L344.8,386.4 L344.8,385.3 L344.8,384.2 L344.8,383.1 L344.8,382.1 L344.8,380.9 L344.9,379.9 L344.9,378.8 L345.1,378.0 L345.5,377.7 L346.3,376.6 L346.7,375.5 L346.8,374.4 L346.8,373.3 L346.8,372.2 L346.8,371.1 L346.8,370.0 L346.8,368.9 L346.8,367.8 Z" fill="#35a83a" fill-opacity="0.85" stroke="#35a83a" stroke-width="0.6"/>
<circle cx="347.0" cy="367.8" r="1.15" fill="#2a8a2e"/>
<circle cx="347.0" cy="394.1" r="1.15" fill="#2a8a2e"/>
<circle cx="346.5" cy="379.1" r="1.15" fill="#2a8a2e"/>
<circle cx="347.0" cy="381.5" r="1.15" fill="#2a8a2e"/>
<circle cx="346.4" cy="384.4" r="1.15" fill="#2a8a2e"/>
<circle cx="347.5" cy="386.7" r="1.15" fill="#2a8a2e"/>
<circle cx="347.5" cy="389.1" r="1.15" fill="#2a8a2e"/>
<line x1="353.9" y1="387.8" x2="353.9" y2="394.4" stroke="#e6007e" stroke-width="0.75"/>
<path d="M354.7,387.8 L354.9,388.1 L355.1,388.4 L355.3,388.6 L355.7,388.9 L355.8,389.0 L355.9,389.2 L356.0,389.4 L356.0,389.7 L356.0,390.0 L356.1,390.3 L356.1,390.6 L356.1,390.8 L356.1,391.1 L356.1,391.4 L356.1,391.6 L356.1,391.9 L356.1,392.2 L356.1,392.5 L356.1,392.8 L356.1,393.0 L356.0,393.3 L356.0,393.6 L356.0,393.9 L355.9,394.1 L355.8,394.2 L355.5,394.4 L352.3,394.4 L352.0,394.2 L351.9,394.1 L351.8,393.9 L351.8,393.6 L351.8,393.3 L351.7,393.0 L351.7,392.8 L351.7,392.5 L351.7,392.2 L351.7,391.9 L351.7,391.6 L351.7,391.4 L351.7,391.1 L351.7,390.8 L351.7,390.6 L351.7,390.3 L351.8,390.0 L351.8,389.7 L351.8,389.4 L351.9,389.2 L352.0,389.0 L352.1,388.9 L352.5,388.6 L352.7,388.4 L352.9,388.1 L353.1,387.8 Z" fill="#e6007e" fill-opacity="0.85" stroke="#e6007e" stroke-width="0.6"/>
<circle cx="353.9" cy="387.8" r="1.15" fill="#c4006a"/>
<circle cx="353.9" cy="394.4" r="1.15" fill="#c4006a"/>
<circle cx="353.6" cy="389.8" r="1.15" fill="#c4006a"/>
<circle cx="353.6" cy="390.8" r="1.15" fill="#c4006a"/>
<circle cx="353.1" cy="392.5" r="1.15" fill="#c4006a"/>
<circle cx="354.4" cy="393.2" r="1.15" fill="#c4006a"/>
<line x1="360.1" y1="358.2" x2="360.1" y2="383.9" stroke="#4a1550" stroke-width="0.75"/>
<path d="M360.4,358.2 L360.4,359.3 L360.4,360.3 L360.4,361.4 L360.4,362.5 L360.4,363.6 L360.4,364.6 L360.4,365.7 L360.4,366.8 L360.4,367.8 L360.4,368.9 L360.4,370.0 L360.6,371.1 L361.1,372.1 L362.0,373.0 L362.1,373.2 L362.2,374.3 L362.3,375.3 L362.3,376.4 L362.3,377.5 L362.3,378.6 L362.3,379.6 L362.3,380.7 L362.2,381.8 L362.1,382.8 L362.0,383.0 L361.1,383.9 L359.1,383.9 L358.2,383.0 L358.1,382.8 L358.0,381.8 L357.9,380.7 L357.9,379.6 L357.9,378.6 L357.9,377.5 L357.9,376.4 L357.9,375.3 L358.0,374.3 L358.1,373.2 L358.2,373.0 L359.1,372.1 L359.6,371.1 L359.9,370.0 L359.9,368.9 L359.9,367.8 L359.9,366.8 L359.9,365.7 L359.9,364.6 L359.9,363.6 L359.9,362.5 L359.9,361.4 L359.9,360.3 L359.9,359.3 L359.9,358.2 Z" fill="#4a1550" fill-opacity="0.85" stroke="#4a1550" stroke-width="0.6"/>
<circle cx="360.1" cy="358.2" r="1.15" fill="#380e3c"/>
<circle cx="360.1" cy="383.9" r="1.15" fill="#380e3c"/>
<circle cx="359.2" cy="374.0" r="1.15" fill="#380e3c"/>
<circle cx="360.2" cy="376.3" r="1.15" fill="#380e3c"/>
<circle cx="361.1" cy="379.1" r="1.15" fill="#380e3c"/>
<circle cx="361.1" cy="382.1" r="1.15" fill="#380e3c"/>
<line x1="366.8" y1="371.6" x2="366.8" y2="384.5" stroke="#f7941d" stroke-width="0.75"/>
<path d="M367.5,371.6 L367.8,372.1 L368.3,372.7 L368.7,373.0 L368.8,373.2 L368.9,373.8 L368.9,374.3 L368.9,374.8 L368.9,375.4 L369.0,375.9 L369.0,376.4 L369.0,377.0 L369.0,377.5 L369.0,378.1 L369.0,378.6 L369.0,379.1 L369.0,379.7 L369.0,380.2 L369.0,380.7 L369.0,381.3 L368.9,381.8 L368.9,382.4 L368.9,382.9 L368.8,383.4 L368.7,384.0 L368.7,384.0 L368.1,384.5 L365.5,384.5 L364.9,384.0 L364.9,384.0 L364.8,383.4 L364.7,382.9 L364.7,382.4 L364.7,381.8 L364.6,381.3 L364.6,380.7 L364.6,380.2 L364.6,379.7 L364.6,379.1 L364.6,378.6 L364.6,378.1 L364.6,377.5 L364.6,377.0 L364.6,376.4 L364.6,375.9 L364.7,375.4 L364.7,374.8 L364.7,374.3 L364.7,373.8 L364.8,373.2 L364.9,373.0 L365.3,372.7 L365.8,372.1 L366.1,371.6 Z" fill="#f7941d" fill-opacity="0.85" stroke="#f7941d" stroke-width="0.6"/>
<circle cx="366.8" cy="371.6" r="1.15" fill="#e38510"/>
<circle cx="366.8" cy="384.5" r="1.15" fill="#e38510"/>
<circle cx="366.0" cy="374.1" r="1.15" fill="#e38510"/>
<circle cx="366.8" cy="376.7" r="1.15" fill="#e38510"/>
<circle cx="366.7" cy="380.1" r="1.15" fill="#e38510"/>
<circle cx="366.6" cy="382.4" r="1.15" fill="#e38510"/>
<line x1="373.9" y1="362.8" x2="373.9" y2="387.4" stroke="#c9c9c9" stroke-width="0.75"/>
<path d="M374.3,362.8 L374.7,363.8 L375.6,364.9 L375.8,365.0 L375.9,365.9 L376.0,366.9 L376.0,367.9 L376.1,368.9 L376.1,370.0 L376.1,371.0 L376.1,372.0 L376.1,373.1 L376.1,374.1 L376.1,375.1 L376.1,376.1 L376.0,377.1 L376.0,378.2 L375.9,379.2 L375.8,380.0 L375.5,380.2 L374.7,381.2 L374.3,382.3 L374.1,383.3 L374.1,384.3 L374.1,385.4 L374.1,386.4 L374.1,387.4 L373.6,387.4 L373.6,386.4 L373.6,385.4 L373.6,384.3 L373.6,383.3 L373.5,382.3 L373.1,381.2 L372.3,380.2 L372.0,380.0 L371.9,379.2 L371.8,378.2 L371.8,377.1 L371.7,376.1 L371.7,375.1 L371.7,374.1 L371.7,373.1 L371.7,372.0 L371.7,371.0 L371.7,370.0 L371.7,368.9 L371.8,367.9 L371.8,366.9 L371.9,365.9 L372.0,365.0 L372.2,364.9 L373.1,363.8 L373.5,362.8 Z" fill="#c9c9c9" fill-opacity="0.6" stroke="#c9c9c9" stroke-width="0.6"/>
<path d="M372.9,363.6 L374.9,363.6 L373.9,361.8 Z" fill="#b0b0b0"/>
<path d="M372.9,388.2 L374.9,388.2 L373.9,386.4 Z" fill="#b0b0b0"/>
<path d="M373.2,367.2 L375.2,367.2 L374.2,365.4 Z" fill="#b0b0b0"/>
<path d="M373.6,369.8 L375.6,369.8 L374.6,368.0 Z" fill="#b0b0b0"/>
<path d="M372.1,372.2 L374.1,372.2 L373.1,370.4 Z" fill="#b0b0b0"/>
<path d="M372.5,374.9 L374.5,374.9 L373.5,373.1 Z" fill="#b0b0b0"/>
<path d="M372.6,377.1 L374.6,377.1 L373.6,375.3 Z" fill="#b0b0b0"/>
<path d="M372.3,379.8 L374.3,379.8 L373.3,378.0 Z" fill="#b0b0b0"/>
<line x1="294.3" y1="337" x2="302.2" y2="337" stroke="#2b2b2b" stroke-width="1.3"/>
<text transform="translate(298.25 335.06) scale(0.995 1)" font-size="5.9" text-anchor="middle" font-weight="normal" fill="#2b2b2b" stroke="#2b2b2b" stroke-width="0.18">ns</text>
<line x1="307.7" y1="350.5" x2="316.3" y2="350.5" stroke="#2b2b2b" stroke-width="1.3"/>
<text transform="translate(312.00 348.56) scale(0.995 1)" font-size="5.9" text-anchor="middle" font-weight="normal" fill="#2b2b2b" stroke="#2b2b2b" stroke-width="0.18">ns</text>
<line x1="321.2" y1="346.6" x2="329.1" y2="346.6" stroke="#2b2b2b" stroke-width="1.3"/>
<text transform="translate(325.15 344.67) scale(0.995 1)" font-size="5.9" text-anchor="middle" font-weight="normal" fill="#2b2b2b" stroke="#2b2b2b" stroke-width="0.18">ns</text>
<line x1="339.7" y1="358.5" x2="347.8" y2="358.5" stroke="#2b2b2b" stroke-width="1.3"/>
<text transform="translate(343.75 356.56) scale(0.995 1)" font-size="5.9" text-anchor="middle" font-weight="normal" fill="#2b2b2b" stroke="#2b2b2b" stroke-width="0.18">ns</text>
<line x1="353.09999999999997" y1="357" x2="360.90000000000003" y2="357" stroke="#2b2b2b" stroke-width="1.3"/>
<path d="M352.65,352.55 L352.65,354.45 M351.83,353.02 L353.47,353.98 M353.47,353.02 L351.83,353.98 " stroke="#2b2b2b" stroke-width="0.75" stroke-linecap="round"/>
<path d="M355.55,352.55 L355.55,354.45 M354.73,353.02 L356.37,353.98 M356.37,353.02 L354.73,353.98 " stroke="#2b2b2b" stroke-width="0.75" stroke-linecap="round"/>
<path d="M358.45,352.55 L358.45,354.45 M357.63,353.02 L359.27,353.98 M359.27,353.02 L357.63,353.98 " stroke="#2b2b2b" stroke-width="0.75" stroke-linecap="round"/>
<path d="M361.35,352.55 L361.35,354.45 M360.53,353.02 L362.17,353.98 M362.17,353.02 L360.53,353.98 " stroke="#2b2b2b" stroke-width="0.75" stroke-linecap="round"/>
<line x1="366.0" y1="360.8" x2="374.7" y2="360.8" stroke="#2b2b2b" stroke-width="1.3"/>
<text transform="translate(370.35 358.87) scale(0.995 1)" font-size="5.9" text-anchor="middle" font-weight="normal" fill="#2b2b2b" stroke="#2b2b2b" stroke-width="0.18">ns</text>
<line x1="420.8" y1="325.4" x2="420.8" y2="394.2" stroke="#2b2b2b" stroke-width="1.25"/>
<line x1="420.2" y1="394.2" x2="520" y2="394.2" stroke="#2b2b2b" stroke-width="1.3"/>
<line x1="417.6" y1="394.2" x2="420.8" y2="394.2" stroke="#2b2b2b" stroke-width="1.0"/>
<text transform="translate(415.60 396.37)" font-size="6.2" text-anchor="end" font-weight="normal" fill="#2b2b2b" stroke="#2b2b2b" stroke-width="0.1">0</text>
<line x1="417.6" y1="381" x2="420.8" y2="381" stroke="#2b2b2b" stroke-width="1.0"/>
<text transform="translate(415.60 383.17)" font-size="6.2" text-anchor="end" font-weight="normal" fill="#2b2b2b" stroke="#2b2b2b" stroke-width="0.1">10<tspan font-size="3.84" dy="-2.48">0</tspan></text>
<line x1="417.6" y1="368.2" x2="420.8" y2="368.2" stroke="#2b2b2b" stroke-width="1.0"/>
<text transform="translate(415.60 370.37)" font-size="6.2" text-anchor="end" font-weight="normal" fill="#2b2b2b" stroke="#2b2b2b" stroke-width="0.1">10<tspan font-size="3.84" dy="-2.48">1</tspan></text>
<line x1="417.6" y1="355.3" x2="420.8" y2="355.3" stroke="#2b2b2b" stroke-width="1.0"/>
<text transform="translate(415.60 357.47)" font-size="6.2" text-anchor="end" font-weight="normal" fill="#2b2b2b" stroke="#2b2b2b" stroke-width="0.1">10<tspan font-size="3.84" dy="-2.48">2</tspan></text>
<line x1="417.6" y1="342.4" x2="420.8" y2="342.4" stroke="#2b2b2b" stroke-width="1.0"/>
<text transform="translate(415.60 344.57)" font-size="6.2" text-anchor="end" font-weight="normal" fill="#2b2b2b" stroke="#2b2b2b" stroke-width="0.1">10<tspan font-size="3.84" dy="-2.48">3</tspan></text>
<line x1="417.6" y1="327.9" x2="420.8" y2="327.9" stroke="#2b2b2b" stroke-width="1.0"/>
<text transform="translate(415.60 330.07)" font-size="6.2" text-anchor="end" font-weight="normal" fill="#2b2b2b" stroke="#2b2b2b" stroke-width="0.1">10<tspan font-size="3.84" dy="-2.48">4</tspan></text>
<line x1="445" y1="394.2" x2="445" y2="396.59999999999997" stroke="#2b2b2b" stroke-width="1.0"/>
<text transform="translate(445.00 406.04)" font-size="6.4" text-anchor="middle" font-weight="normal" fill="#2b2b2b" stroke="#2b2b2b" stroke-width="0.14">BM</text>
<line x1="493.5" y1="394.2" x2="493.5" y2="396.59999999999997" stroke="#2b2b2b" stroke-width="1.0"/>
<text transform="translate(493.50 406.04)" font-size="6.4" text-anchor="middle" font-weight="normal" fill="#2b2b2b" stroke="#2b2b2b" stroke-width="0.14">Spleen</text>
<text transform="translate(402.66 361.05) rotate(-90) scale(0.946 1)" font-size="5.3" text-anchor="middle" font-weight="normal" fill="#2b2b2b" stroke="#2b2b2b" stroke-width="0.12"># of CD4<tspan font-size="3.29" dy="-2.12">+</tspan><tspan dy="2.12">CD25</tspan><tspan font-size="3.29" dy="-2.12">+</tspan><tspan dy="2.12">Foxp3</tspan><tspan font-size="3.29" dy="-2.12">+</tspan><tspan dy="2.12"> CAR-T cells</tspan></text>
<line x1="427.7" y1="360.5" x2="427.7" y2="394.4" stroke="#1b4587" stroke-width="0.75"/>
<path d="M427.9,360.5 L427.9,361.9 L427.9,363.3 L427.9,364.7 L427.9,366.1 L427.9,367.6 L427.9,369.0 L428.3,370.4 L429.3,371.8 L429.6,372.0 L429.8,373.2 L429.8,374.6 L429.9,376.0 L429.9,377.4 L429.9,378.9 L429.9,380.3 L429.9,381.7 L429.8,383.1 L429.7,384.5 L429.6,385.0 L428.7,385.9 L428.1,387.3 L427.9,388.8 L427.9,390.2 L427.9,391.6 L427.9,393.0 L427.9,394.4 L427.4,394.4 L427.4,393.0 L427.4,391.6 L427.4,390.2 L427.4,388.8 L427.3,387.3 L426.7,385.9 L425.8,385.0 L425.7,384.5 L425.6,383.1 L425.5,381.7 L425.5,380.3 L425.5,378.9 L425.5,377.4 L425.5,376.0 L425.6,374.6 L425.6,373.2 L425.8,372.0 L426.1,371.8 L427.1,370.4 L427.4,369.0 L427.4,367.6 L427.4,366.1 L427.4,364.7 L427.4,363.3 L427.4,361.9 L427.4,360.5 Z" fill="#1b4587" fill-opacity="0.825" stroke="#1b4587" stroke-width="0.6"/>
<circle cx="427.7" cy="360.5" r="1.15" fill="#143668"/>
<circle cx="427.7" cy="394.4" r="1.15" fill="#143668"/>
<circle cx="427.2" cy="373.0" r="1.15" fill="#143668"/>
<circle cx="428.5" cy="375.6" r="1.15" fill="#143668"/>
<circle cx="427.4" cy="378.6" r="1.15" fill="#143668"/>
<circle cx="428.7" cy="381.0" r="1.15" fill="#143668"/>
<circle cx="427.2" cy="383.7" r="1.15" fill="#143668"/>
<line x1="434.4" y1="369.7" x2="434.4" y2="394.4" stroke="#35a83a" stroke-width="0.75"/>
<path d="M434.6,369.7 L434.8,370.7 L435.2,371.8 L436.0,372.8 L436.3,373.0 L436.5,373.8 L436.5,374.9 L436.6,375.9 L436.6,376.9 L436.6,377.9 L436.6,379.0 L436.6,380.0 L436.5,381.0 L436.5,382.1 L436.3,383.0 L436.2,383.1 L435.3,384.1 L434.8,385.1 L434.6,386.2 L434.6,387.2 L434.6,388.2 L434.6,389.2 L434.6,390.3 L434.6,391.3 L434.6,392.3 L434.6,393.4 L434.6,394.4 L434.1,394.4 L434.1,393.4 L434.1,392.3 L434.1,391.3 L434.1,390.3 L434.1,389.2 L434.1,388.2 L434.1,387.2 L434.1,386.2 L434.0,385.1 L433.5,384.1 L432.6,383.1 L432.5,383.0 L432.3,382.1 L432.3,381.0 L432.2,380.0 L432.2,379.0 L432.2,377.9 L432.2,376.9 L432.2,375.9 L432.3,374.9 L432.3,373.8 L432.5,373.0 L432.8,372.8 L433.6,371.8 L434.0,370.7 L434.1,369.7 Z" fill="#35a83a" fill-opacity="0.85" stroke="#35a83a" stroke-width="0.6"/>
<circle cx="434.4" cy="369.7" r="1.15" fill="#2a8a2e"/>
<circle cx="434.4" cy="394.4" r="1.15" fill="#2a8a2e"/>
<circle cx="434.7" cy="374.6" r="1.15" fill="#2a8a2e"/>
<circle cx="433.6" cy="377.2" r="1.15" fill="#2a8a2e"/>
<circle cx="435.0" cy="379.2" r="1.15" fill="#2a8a2e"/>
<circle cx="435.2" cy="382.1" r="1.15" fill="#2a8a2e"/>
<line x1="441.5" y1="358.2" x2="441.5" y2="375.8" stroke="#e6007e" stroke-width="0.75"/>
<path d="M441.8,358.2 L441.9,358.9 L442.2,359.7 L442.7,360.4 L443.4,361.0 L443.5,361.1 L443.6,361.9 L443.6,362.6 L443.6,363.3 L443.7,364.1 L443.7,364.8 L443.7,365.5 L443.7,366.3 L443.7,367.0 L443.7,367.7 L443.7,368.5 L443.7,369.2 L443.6,369.9 L443.6,370.7 L443.5,371.4 L443.4,372.0 L443.2,372.1 L442.5,372.9 L442.1,373.6 L441.9,374.3 L441.8,375.1 L441.8,375.8 L441.2,375.8 L441.2,375.1 L441.1,374.3 L440.9,373.6 L440.5,372.9 L439.8,372.1 L439.6,372.0 L439.5,371.4 L439.4,370.7 L439.4,369.9 L439.3,369.2 L439.3,368.5 L439.3,367.7 L439.3,367.0 L439.3,366.3 L439.3,365.5 L439.3,364.8 L439.3,364.1 L439.4,363.3 L439.4,362.6 L439.4,361.9 L439.5,361.1 L439.6,361.0 L440.3,360.4 L440.8,359.7 L441.1,358.9 L441.2,358.2 Z" fill="#e6007e" fill-opacity="0.85" stroke="#e6007e" stroke-width="0.6"/>
<circle cx="441.5" cy="358.2" r="1.15" fill="#c4006a"/>
<circle cx="441.5" cy="375.8" r="1.15" fill="#c4006a"/>
<circle cx="441.1" cy="361.9" r="1.15" fill="#c4006a"/>
<circle cx="440.9" cy="364.7" r="1.15" fill="#c4006a"/>
<circle cx="441.7" cy="368.3" r="1.15" fill="#c4006a"/>
<circle cx="441.2" cy="371.1" r="1.15" fill="#c4006a"/>
<line x1="448.8" y1="344.7" x2="448.8" y2="358.5" stroke="#4a1550" stroke-width="0.75"/>
<path d="M449.2,344.7 L449.3,345.3 L449.6,345.9 L450.1,346.4 L450.7,347.0 L450.9,347.6 L450.9,348.1 L450.9,348.7 L451.0,349.3 L451.0,349.9 L451.0,350.4 L451.0,351.0 L451.0,351.6 L451.0,352.2 L451.0,352.8 L450.9,353.3 L450.9,353.9 L450.9,354.5 L450.7,355.0 L450.6,355.1 L450.0,355.6 L449.6,356.2 L449.3,356.8 L449.2,357.4 L449.1,357.9 L449.1,358.5 L448.6,358.5 L448.6,357.9 L448.4,357.4 L448.3,356.8 L448.0,356.2 L447.6,355.6 L447.0,355.1 L446.9,355.0 L446.7,354.5 L446.7,353.9 L446.7,353.3 L446.6,352.8 L446.6,352.2 L446.6,351.6 L446.6,351.0 L446.6,350.4 L446.6,349.9 L446.6,349.3 L446.7,348.7 L446.7,348.1 L446.7,347.6 L446.9,347.0 L447.5,346.4 L448.0,345.9 L448.3,345.3 L448.4,344.7 Z" fill="#4a1550" fill-opacity="0.85" stroke="#4a1550" stroke-width="0.6"/>
<circle cx="448.8" cy="344.7" r="1.15" fill="#380e3c"/>
<circle cx="448.8" cy="358.5" r="1.15" fill="#380e3c"/>
<circle cx="448.7" cy="348.4" r="1.15" fill="#380e3c"/>
<circle cx="449.3" cy="349.8" r="1.15" fill="#380e3c"/>
<circle cx="448.0" cy="352.4" r="1.15" fill="#380e3c"/>
<circle cx="449.0" cy="354.1" r="1.15" fill="#380e3c"/>
<line x1="455.6" y1="349.9" x2="455.6" y2="374.9" stroke="#f7941d" stroke-width="0.75"/>
<path d="M456.0,349.9 L456.5,350.9 L457.5,352.0 L457.5,352.0 L457.6,353.0 L457.7,354.1 L457.7,355.1 L457.7,356.1 L457.8,357.2 L457.8,358.2 L457.8,359.3 L457.8,360.3 L457.8,361.4 L457.8,362.4 L457.8,363.4 L457.8,364.5 L457.8,365.5 L457.8,366.6 L457.7,367.6 L457.7,368.6 L457.7,369.7 L457.7,370.7 L457.6,371.8 L457.5,372.0 L456.7,372.8 L456.1,373.9 L455.9,374.9 L455.4,374.9 L455.1,373.9 L454.5,372.8 L453.7,372.0 L453.6,371.8 L453.5,370.7 L453.5,369.7 L453.5,368.6 L453.5,367.6 L453.4,366.6 L453.4,365.5 L453.4,364.5 L453.4,363.4 L453.4,362.4 L453.4,361.4 L453.4,360.3 L453.4,359.3 L453.4,358.2 L453.4,357.2 L453.5,356.1 L453.5,355.1 L453.5,354.1 L453.6,353.0 L453.7,352.0 L453.7,352.0 L454.7,350.9 L455.2,349.9 Z" fill="#f7941d" fill-opacity="0.6499999999999999" stroke="#f7941d" stroke-width="0.6"/>
<circle cx="455.6" cy="349.9" r="1.15" fill="#e38510"/>
<circle cx="455.6" cy="374.9" r="1.15" fill="#e38510"/>
<circle cx="455.3" cy="353.0" r="1.15" fill="#e38510"/>
<circle cx="455.0" cy="355.4" r="1.15" fill="#e38510"/>
<circle cx="455.8" cy="358.0" r="1.15" fill="#e38510"/>
<circle cx="455.0" cy="360.9" r="1.15" fill="#e38510"/>
<circle cx="455.3" cy="362.8" r="1.15" fill="#e38510"/>
<circle cx="455.0" cy="365.9" r="1.15" fill="#e38510"/>
<circle cx="455.0" cy="368.1" r="1.15" fill="#e38510"/>
<circle cx="455.7" cy="371.0" r="1.15" fill="#e38510"/>
<line x1="462.7" y1="338.9" x2="462.7" y2="353.2" stroke="#c9c9c9" stroke-width="0.75"/>
<path d="M464.5,338.9 L464.6,339.0 L464.8,339.5 L464.8,340.1 L464.9,340.7 L464.9,341.3 L464.9,341.9 L464.9,342.5 L464.9,343.1 L464.8,343.7 L464.8,344.3 L464.7,344.9 L464.6,345.0 L464.1,345.4 L463.6,346.1 L463.3,346.6 L463.1,347.2 L462.9,347.8 L462.9,348.4 L462.9,349.0 L462.9,349.6 L462.9,350.2 L462.9,350.8 L462.9,351.4 L462.9,352.0 L462.9,352.6 L462.9,353.2 L462.4,353.2 L462.4,352.6 L462.4,352.0 L462.4,351.4 L462.4,350.8 L462.4,350.2 L462.4,349.6 L462.4,349.0 L462.4,348.4 L462.4,347.8 L462.3,347.2 L462.1,346.6 L461.8,346.1 L461.3,345.4 L460.8,345.0 L460.7,344.9 L460.6,344.3 L460.6,343.7 L460.5,343.1 L460.5,342.5 L460.5,341.9 L460.5,341.3 L460.5,340.7 L460.6,340.1 L460.6,339.5 L460.8,339.0 L460.9,338.9 Z" fill="#c9c9c9" fill-opacity="0.6" stroke="#c9c9c9" stroke-width="0.6"/>
<path d="M461.7,339.7 L463.7,339.7 L462.7,337.9 Z" fill="#b0b0b0"/>
<path d="M461.7,354.0 L463.7,354.0 L462.7,352.2 Z" fill="#b0b0b0"/>
<path d="M460.9,340.1 L462.9,340.1 L461.9,338.3 Z" fill="#b0b0b0"/>
<path d="M461.8,341.9 L463.8,341.9 L462.8,340.1 Z" fill="#b0b0b0"/>
<path d="M460.9,343.7 L462.9,343.7 L461.9,341.9 Z" fill="#b0b0b0"/>
<path d="M462.1,344.7 L464.1,344.7 L463.1,342.9 Z" fill="#b0b0b0"/>
<line x1="475.4" y1="331.2" x2="475.4" y2="356.2" stroke="#1b4587" stroke-width="0.75"/>
<path d="M476.5,331.2 L477.3,332.0 L477.4,332.2 L477.5,333.3 L477.5,334.3 L477.5,335.4 L477.6,336.4 L477.6,337.4 L477.6,338.5 L477.6,339.5 L477.6,340.6 L477.6,341.6 L477.6,342.7 L477.6,343.7 L477.5,344.7 L477.5,345.8 L477.5,346.8 L477.4,347.9 L477.3,348.0 L476.4,348.9 L475.9,349.9 L475.6,351.0 L475.6,352.0 L475.6,353.1 L475.6,354.1 L475.6,355.2 L475.6,356.2 L475.1,356.2 L475.1,355.2 L475.1,354.1 L475.1,353.1 L475.1,352.0 L475.1,351.0 L474.9,349.9 L474.4,348.9 L473.5,348.0 L473.4,347.9 L473.3,346.8 L473.3,345.8 L473.3,344.7 L473.2,343.7 L473.2,342.7 L473.2,341.6 L473.2,340.6 L473.2,339.5 L473.2,338.5 L473.2,337.4 L473.2,336.4 L473.3,335.4 L473.3,334.3 L473.3,333.3 L473.4,332.2 L473.5,332.0 L474.3,331.2 Z" fill="#1b4587" fill-opacity="0.75" stroke="#1b4587" stroke-width="0.6"/>
<circle cx="475.4" cy="331.2" r="1.15" fill="#143668"/>
<circle cx="475.4" cy="356.2" r="1.15" fill="#143668"/>
<circle cx="475.0" cy="333.2" r="1.15" fill="#143668"/>
<circle cx="476.3" cy="335.8" r="1.15" fill="#143668"/>
<circle cx="475.5" cy="338.5" r="1.15" fill="#143668"/>
<circle cx="475.2" cy="341.2" r="1.15" fill="#143668"/>
<circle cx="476.4" cy="344.4" r="1.15" fill="#143668"/>
<circle cx="474.8" cy="346.5" r="1.15" fill="#143668"/>
<line x1="481.9" y1="351.8" x2="481.9" y2="394.4" stroke="#35a83a" stroke-width="0.75"/>
<path d="M483.5,351.8 L483.8,352.0 L484.0,353.6 L484.1,355.4 L484.1,357.1 L484.1,358.9 L484.1,360.7 L484.0,362.4 L483.9,364.2 L483.8,365.0 L482.8,366.0 L482.2,367.8 L482.1,369.6 L482.1,371.3 L482.1,373.1 L482.1,374.9 L482.1,376.6 L482.1,378.4 L482.1,380.2 L482.1,382.0 L482.1,383.8 L482.1,385.5 L482.1,387.3 L482.1,389.1 L482.1,390.9 L482.1,392.6 L482.1,394.4 L481.6,394.4 L481.6,392.6 L481.6,390.9 L481.6,389.1 L481.6,387.3 L481.6,385.5 L481.6,383.8 L481.6,382.0 L481.6,380.2 L481.6,378.4 L481.6,376.6 L481.6,374.9 L481.6,373.1 L481.6,371.3 L481.6,369.6 L481.6,367.8 L481.0,366.0 L480.0,365.0 L479.9,364.2 L479.8,362.4 L479.7,360.7 L479.7,358.9 L479.7,357.1 L479.7,355.4 L479.8,353.6 L480.0,352.0 L480.3,351.8 Z" fill="#35a83a" fill-opacity="0.825" stroke="#35a83a" stroke-width="0.6"/>
<circle cx="481.9" cy="351.8" r="1.15" fill="#2a8a2e"/>
<circle cx="481.9" cy="394.4" r="1.15" fill="#2a8a2e"/>
<circle cx="481.3" cy="353.5" r="1.15" fill="#2a8a2e"/>
<circle cx="482.7" cy="355.4" r="1.15" fill="#2a8a2e"/>
<circle cx="482.5" cy="358.4" r="1.15" fill="#2a8a2e"/>
<circle cx="482.7" cy="361.0" r="1.15" fill="#2a8a2e"/>
<circle cx="481.2" cy="363.7" r="1.15" fill="#2a8a2e"/>
<line x1="488.8" y1="357" x2="488.8" y2="394.4" stroke="#e6007e" stroke-width="0.75"/>
<path d="M489.7,357.0 L490.7,358.0 L490.8,358.6 L490.9,360.1 L491.0,361.7 L491.0,363.2 L491.0,364.8 L490.9,366.4 L490.8,367.9 L490.7,368.0 L489.5,369.5 L489.1,371.0 L489.1,372.6 L489.1,374.1 L489.1,375.7 L489.1,377.3 L489.1,378.8 L489.1,380.4 L489.1,381.9 L489.1,383.5 L489.1,385.1 L489.1,386.6 L489.1,388.2 L489.1,389.7 L489.1,391.3 L489.1,392.8 L489.1,394.4 L488.6,394.4 L488.6,392.8 L488.6,391.3 L488.6,389.7 L488.6,388.2 L488.6,386.6 L488.6,385.1 L488.6,383.5 L488.6,381.9 L488.6,380.4 L488.6,378.8 L488.6,377.3 L488.6,375.7 L488.6,374.1 L488.6,372.6 L488.6,371.0 L488.1,369.5 L486.9,368.0 L486.8,367.9 L486.7,366.4 L486.6,364.8 L486.6,363.2 L486.6,361.7 L486.7,360.1 L486.8,358.6 L486.9,358.0 L487.9,357.0 Z" fill="#e6007e" fill-opacity="0.85" stroke="#e6007e" stroke-width="0.6"/>
<circle cx="488.8" cy="357.0" r="1.15" fill="#c4006a"/>
<circle cx="488.8" cy="394.4" r="1.15" fill="#c4006a"/>
<circle cx="488.9" cy="358.8" r="1.15" fill="#c4006a"/>
<circle cx="489.6" cy="361.9" r="1.15" fill="#c4006a"/>
<circle cx="489.0" cy="363.8" r="1.15" fill="#c4006a"/>
<circle cx="488.8" cy="366.6" r="1.15" fill="#c4006a"/>
<line x1="496.5" y1="338.3" x2="496.5" y2="342.8" stroke="#4a1550" stroke-width="0.75"/>
<path d="M497.8,338.3 L498.0,338.5 L498.2,338.7 L498.4,338.8 L498.5,338.9 L498.6,339.1 L498.6,339.2 L498.6,339.4 L498.6,339.6 L498.7,339.8 L498.7,340.0 L498.7,340.2 L498.7,340.4 L498.7,340.6 L498.7,340.7 L498.7,340.9 L498.7,341.1 L498.7,341.3 L498.7,341.5 L498.6,341.7 L498.6,341.9 L498.6,342.1 L498.6,342.2 L498.5,342.4 L498.4,342.5 L498.2,342.6 L498.0,342.8 L495.0,342.8 L494.8,342.6 L494.6,342.5 L494.5,342.4 L494.4,342.2 L494.4,342.1 L494.4,341.9 L494.4,341.7 L494.3,341.5 L494.3,341.3 L494.3,341.1 L494.3,340.9 L494.3,340.7 L494.3,340.6 L494.3,340.4 L494.3,340.2 L494.3,340.0 L494.3,339.8 L494.4,339.6 L494.4,339.4 L494.4,339.2 L494.4,339.1 L494.5,338.9 L494.6,338.8 L494.8,338.7 L495.0,338.5 L495.2,338.3 Z" fill="#4a1550" fill-opacity="0.85" stroke="#4a1550" stroke-width="0.6"/>
<circle cx="496.5" cy="338.3" r="1.15" fill="#380e3c"/>
<circle cx="496.5" cy="342.8" r="1.15" fill="#380e3c"/>
<circle cx="496.1" cy="338.9" r="1.15" fill="#380e3c"/>
<circle cx="497.3" cy="340.2" r="1.15" fill="#380e3c"/>
<circle cx="496.5" cy="340.7" r="1.15" fill="#380e3c"/>
<circle cx="497.4" cy="342.3" r="1.15" fill="#380e3c"/>
<line x1="503.1" y1="354.7" x2="503.1" y2="394.4" stroke="#f7941d" stroke-width="0.75"/>
<path d="M504.6,354.7 L505.0,355.0 L505.3,356.4 L505.3,358.0 L505.3,359.7 L505.0,361.0 L504.6,361.3 L503.6,363.0 L503.4,364.6 L503.4,366.3 L503.4,367.9 L503.4,369.6 L503.4,371.2 L503.4,372.9 L503.4,374.6 L503.4,376.2 L503.4,377.9 L503.4,379.5 L503.4,381.2 L503.4,382.8 L503.4,384.5 L503.4,386.1 L503.4,387.8 L503.4,389.4 L503.4,391.1 L503.4,392.8 L503.4,394.4 L502.9,394.4 L502.9,392.8 L502.9,391.1 L502.9,389.4 L502.9,387.8 L502.9,386.1 L502.9,384.5 L502.9,382.8 L502.9,381.2 L502.9,379.5 L502.9,377.9 L502.9,376.2 L502.9,374.6 L502.9,372.9 L502.9,371.2 L502.9,369.6 L502.9,367.9 L502.9,366.3 L502.9,364.6 L502.6,363.0 L501.6,361.3 L501.2,361.0 L500.9,359.7 L500.9,358.0 L500.9,356.4 L501.2,355.0 L501.6,354.7 Z" fill="#f7941d" fill-opacity="0.85" stroke="#f7941d" stroke-width="0.6"/>
<circle cx="503.1" cy="354.7" r="1.15" fill="#e38510"/>
<circle cx="503.1" cy="394.4" r="1.15" fill="#e38510"/>
<circle cx="502.4" cy="355.4" r="1.15" fill="#e38510"/>
<circle cx="504.0" cy="357.7" r="1.15" fill="#e38510"/>
<circle cx="502.2" cy="358.7" r="1.15" fill="#e38510"/>
<circle cx="502.9" cy="360.7" r="1.15" fill="#e38510"/>
<line x1="510.4" y1="326.8" x2="510.4" y2="358.9" stroke="#c9c9c9" stroke-width="0.75"/>
<path d="M510.6,326.8 L510.6,328.1 L510.6,329.5 L510.6,330.8 L510.6,332.1 L510.6,333.5 L510.6,334.8 L510.9,336.2 L511.7,337.5 L512.3,338.0 L512.5,338.8 L512.5,340.2 L512.6,341.5 L512.6,342.9 L512.6,344.2 L512.6,345.5 L512.6,346.9 L512.5,348.2 L512.4,349.5 L512.3,350.0 L511.4,350.9 L510.8,352.2 L510.6,353.6 L510.6,354.9 L510.6,356.2 L510.6,357.6 L510.6,358.9 L510.1,358.9 L510.1,357.6 L510.1,356.2 L510.1,354.9 L510.1,353.6 L510.0,352.2 L509.4,350.9 L508.5,350.0 L508.4,349.5 L508.3,348.2 L508.2,346.9 L508.2,345.5 L508.2,344.2 L508.2,342.9 L508.2,341.5 L508.3,340.2 L508.3,338.8 L508.5,338.0 L509.1,337.5 L509.9,336.2 L510.1,334.8 L510.1,333.5 L510.1,332.1 L510.1,330.8 L510.1,329.5 L510.1,328.1 L510.1,326.8 Z" fill="#c9c9c9" fill-opacity="0.6" stroke="#c9c9c9" stroke-width="0.6"/>
<path d="M509.4,327.6 L511.4,327.6 L510.4,325.8 Z" fill="#b0b0b0"/>
<path d="M509.4,359.7 L511.4,359.7 L510.4,357.9 Z" fill="#b0b0b0"/>
<path d="M509.6,340.4 L511.6,340.4 L510.6,338.6 Z" fill="#b0b0b0"/>
<path d="M508.7,342.7 L510.7,342.7 L509.7,340.9 Z" fill="#b0b0b0"/>
<path d="M508.8,345.1 L510.8,345.1 L509.8,343.3 Z" fill="#b0b0b0"/>
<path d="M510.1,347.1 L512.1,347.1 L511.1,345.3 Z" fill="#b0b0b0"/>
<path d="M508.8,349.9 L510.8,349.9 L509.8,348.1 Z" fill="#b0b0b0"/>
<line x1="426.9" y1="357.6" x2="435.2" y2="357.6" stroke="#2b2b2b" stroke-width="1.3"/>
<text transform="translate(431.05 355.67) scale(0.995 1)" font-size="5.9" text-anchor="middle" font-weight="normal" fill="#2b2b2b" stroke="#2b2b2b" stroke-width="0.18">ns</text>
<line x1="440.7" y1="342.2" x2="449.6" y2="342.2" stroke="#2b2b2b" stroke-width="1.3"/>
<path d="M440.80,337.75 L440.80,339.65 M439.98,338.22 L441.62,339.18 M441.62,338.22 L439.98,339.18 " stroke="#2b2b2b" stroke-width="0.75" stroke-linecap="round"/>
<path d="M443.70,337.75 L443.70,339.65 M442.88,338.22 L444.52,339.18 M444.52,338.22 L442.88,339.18 " stroke="#2b2b2b" stroke-width="0.75" stroke-linecap="round"/>
<path d="M446.60,337.75 L446.60,339.65 M445.78,338.22 L447.42,339.18 M447.42,338.22 L445.78,339.18 " stroke="#2b2b2b" stroke-width="0.75" stroke-linecap="round"/>
<path d="M449.50,337.75 L449.50,339.65 M448.68,338.22 L450.32,339.18 M450.32,338.22 L448.68,339.18 " stroke="#2b2b2b" stroke-width="0.75" stroke-linecap="round"/>
<line x1="454.8" y1="335.1" x2="463.5" y2="335.1" stroke="#2b2b2b" stroke-width="1.3"/>
<path d="M454.80,330.65 L454.80,332.55 M453.98,331.12 L455.62,332.08 M455.62,331.12 L453.98,332.08 " stroke="#2b2b2b" stroke-width="0.75" stroke-linecap="round"/>
<path d="M457.70,330.65 L457.70,332.55 M456.88,331.12 L458.52,332.08 M458.52,331.12 L456.88,332.08 " stroke="#2b2b2b" stroke-width="0.75" stroke-linecap="round"/>
<path d="M460.60,330.65 L460.60,332.55 M459.78,331.12 L461.42,332.08 M461.42,331.12 L459.78,332.08 " stroke="#2b2b2b" stroke-width="0.75" stroke-linecap="round"/>
<path d="M463.50,330.65 L463.50,332.55 M462.68,331.12 L464.32,332.08 M464.32,331.12 L462.68,332.08 " stroke="#2b2b2b" stroke-width="0.75" stroke-linecap="round"/>
<line x1="474.59999999999997" y1="329.7" x2="482.7" y2="329.7" stroke="#2b2b2b" stroke-width="1.3"/>
<path d="M474.30,325.25 L474.30,327.15 M473.48,325.72 L475.12,326.68 M475.12,325.72 L473.48,326.68 " stroke="#2b2b2b" stroke-width="0.75" stroke-linecap="round"/>
<path d="M477.20,325.25 L477.20,327.15 M476.38,325.72 L478.02,326.68 M478.02,325.72 L476.38,326.68 " stroke="#2b2b2b" stroke-width="0.75" stroke-linecap="round"/>
<path d="M480.10,325.25 L480.10,327.15 M479.28,325.72 L480.92,326.68 M480.92,325.72 L479.28,326.68 " stroke="#2b2b2b" stroke-width="0.75" stroke-linecap="round"/>
<path d="M483.00,325.25 L483.00,327.15 M482.18,325.72 L483.82,326.68 M483.82,325.72 L482.18,326.68 " stroke="#2b2b2b" stroke-width="0.75" stroke-linecap="round"/>
<line x1="488.0" y1="335.8" x2="497.3" y2="335.8" stroke="#2b2b2b" stroke-width="1.3"/>
<path d="M488.30,331.35 L488.30,333.25 M487.48,331.82 L489.12,332.78 M489.12,331.82 L487.48,332.78 " stroke="#2b2b2b" stroke-width="0.75" stroke-linecap="round"/>
<path d="M491.20,331.35 L491.20,333.25 M490.38,331.82 L492.02,332.78 M492.02,331.82 L490.38,332.78 " stroke="#2b2b2b" stroke-width="0.75" stroke-linecap="round"/>
<path d="M494.10,331.35 L494.10,333.25 M493.28,331.82 L494.92,332.78 M494.92,331.82 L493.28,332.78 " stroke="#2b2b2b" stroke-width="0.75" stroke-linecap="round"/>
<path d="M497.00,331.35 L497.00,333.25 M496.18,331.82 L497.82,332.78 M497.82,331.82 L496.18,332.78 " stroke="#2b2b2b" stroke-width="0.75" stroke-linecap="round"/>
<line x1="502.3" y1="327.4" x2="511.2" y2="327.4" stroke="#2b2b2b" stroke-width="1.3"/>
<path d="M505.30,322.95 L505.30,324.85 M504.48,323.42 L506.12,324.38 M506.12,323.42 L504.48,324.38 " stroke="#2b2b2b" stroke-width="0.75" stroke-linecap="round"/>
<path d="M508.20,322.95 L508.20,324.85 M507.38,323.42 L509.02,324.38 M509.02,323.42 L507.38,324.38 " stroke="#2b2b2b" stroke-width="0.75" stroke-linecap="round"/>
<text transform="translate(127.70 443.98) scale(1.037 1)" font-size="8.8" text-anchor="middle" font-weight="normal" fill="#2b2b2b" stroke="#2b2b2b" stroke-width="0.1">Ki-67<tspan font-size="5.46" dy="-3.52">+</tspan></text>
<text transform="translate(79.60 458.59)" font-size="7.7" text-anchor="middle" font-weight="normal" fill="#2b2b2b" stroke="#2b2b2b" stroke-width="0.1">CD4<tspan font-size="4.77" dy="-3.08">+</tspan><tspan dy="3.08"> CAR-T cells</tspan></text>
<text transform="translate(209.70 458.69)" font-size="7.7" text-anchor="middle" font-weight="normal" fill="#2b2b2b" stroke="#2b2b2b" stroke-width="0.1">CD8<tspan font-size="4.77" dy="-3.08">+</tspan><tspan dy="3.08"> CAR-T cells</tspan></text>
<line x1="30.7" y1="471.7" x2="30.7" y2="539.4" stroke="#2b2b2b" stroke-width="1.25"/>
<line x1="30.099999999999998" y1="539.4" x2="125.8" y2="539.4" stroke="#2b2b2b" stroke-width="1.3"/>
<line x1="27.5" y1="539.4" x2="30.7" y2="539.4" stroke="#2b2b2b" stroke-width="1.0"/>
<text transform="translate(25.50 541.57)" font-size="6.2" text-anchor="end" font-weight="normal" fill="#2b2b2b" stroke="#2b2b2b" stroke-width="0.1">0</text>
<line x1="27.5" y1="526.36" x2="30.7" y2="526.36" stroke="#2b2b2b" stroke-width="1.0"/>
<text transform="translate(25.50 528.53)" font-size="6.2" text-anchor="end" font-weight="normal" fill="#2b2b2b" stroke="#2b2b2b" stroke-width="0.1">20</text>
<line x1="27.5" y1="513.3199999999999" x2="30.7" y2="513.3199999999999" stroke="#2b2b2b" stroke-width="1.0"/>
<text transform="translate(25.50 515.49)" font-size="6.2" text-anchor="end" font-weight="normal" fill="#2b2b2b" stroke="#2b2b2b" stroke-width="0.1">40</text>
<line x1="27.5" y1="500.28" x2="30.7" y2="500.28" stroke="#2b2b2b" stroke-width="1.0"/>
<text transform="translate(25.50 502.45)" font-size="6.2" text-anchor="end" font-weight="normal" fill="#2b2b2b" stroke="#2b2b2b" stroke-width="0.1">60</text>
<line x1="27.5" y1="487.24" x2="30.7" y2="487.24" stroke="#2b2b2b" stroke-width="1.0"/>
<text transform="translate(25.50 489.41)" font-size="6.2" text-anchor="end" font-weight="normal" fill="#2b2b2b" stroke="#2b2b2b" stroke-width="0.1">80</text>
<line x1="27.5" y1="474.2" x2="30.7" y2="474.2" stroke="#2b2b2b" stroke-width="1.0"/>
<text transform="translate(25.50 476.37)" font-size="6.2" text-anchor="end" font-weight="normal" fill="#2b2b2b" stroke="#2b2b2b" stroke-width="0.1">100</text>
<line x1="56" y1="539.4" x2="56" y2="541.8" stroke="#2b2b2b" stroke-width="1.0"/>
<text transform="translate(56.00 551.24)" font-size="6.4" text-anchor="middle" font-weight="normal" fill="#2b2b2b" stroke="#2b2b2b" stroke-width="0.14">BM</text>
<line x1="103.5" y1="539.4" x2="103.5" y2="541.8" stroke="#2b2b2b" stroke-width="1.0"/>
<text transform="translate(103.50 551.24)" font-size="6.4" text-anchor="middle" font-weight="normal" fill="#2b2b2b" stroke="#2b2b2b" stroke-width="0.14">Spleen</text>
<text transform="translate(8.15 506.80) rotate(-90) scale(0.900 1)" font-size="5.3" text-anchor="middle" font-weight="normal" fill="#2b2b2b" stroke="#2b2b2b" stroke-width="0.12">% Ki-67<tspan font-size="3.29" dy="-2.12">+</tspan><tspan dy="2.12"> of CD4</tspan><tspan font-size="3.29" dy="-2.12">+</tspan><tspan dy="2.12"> CAR-T cells</tspan></text>
<line x1="37.7" y1="472.3" x2="37.7" y2="516.5" stroke="#1b4587" stroke-width="0.75"/>
<path d="M38.0,472.3 L38.0,474.1 L38.0,476.0 L38.9,477.8 L39.6,478.5 L39.8,479.7 L39.8,481.5 L39.9,483.4 L39.9,485.2 L39.9,487.0 L39.9,488.9 L39.9,490.7 L39.8,492.6 L39.8,494.4 L39.6,495.8 L39.1,496.2 L38.1,498.1 L38.0,499.9 L38.0,501.8 L38.0,503.6 L38.0,505.4 L38.0,507.3 L38.0,509.1 L38.0,511.0 L38.0,512.8 L38.0,514.7 L38.0,516.5 L37.5,516.5 L37.5,514.7 L37.5,512.8 L37.5,511.0 L37.5,509.1 L37.5,507.3 L37.5,505.4 L37.5,503.6 L37.5,501.8 L37.5,499.9 L37.3,498.1 L36.3,496.2 L35.8,495.8 L35.6,494.4 L35.6,492.6 L35.5,490.7 L35.5,488.9 L35.5,487.0 L35.5,485.2 L35.5,483.4 L35.6,481.5 L35.6,479.7 L35.8,478.5 L36.5,477.8 L37.4,476.0 L37.5,474.1 L37.5,472.3 Z" fill="#1b4587" fill-opacity="0.7174999999999997" stroke="#1b4587" stroke-width="0.6"/>
<circle cx="37.7" cy="472.3" r="1.15" fill="#143668"/>
<circle cx="37.7" cy="516.5" r="1.15" fill="#143668"/>
<circle cx="37.5" cy="479.5" r="1.15" fill="#143668"/>
<circle cx="37.5" cy="482.2" r="1.15" fill="#143668"/>
<circle cx="37.2" cy="484.3" r="1.15" fill="#143668"/>
<circle cx="38.5" cy="487.4" r="1.15" fill="#143668"/>
<circle cx="37.8" cy="489.2" r="1.15" fill="#143668"/>
<circle cx="36.8" cy="492.4" r="1.15" fill="#143668"/>
<circle cx="36.9" cy="494.9" r="1.15" fill="#143668"/>
<line x1="44.4" y1="473.7" x2="44.4" y2="523.1" stroke="#35a83a" stroke-width="0.75"/>
<path d="M45.1,473.7 L46.3,475.0 L46.4,475.8 L46.4,477.8 L46.5,479.9 L46.5,481.9 L46.5,484.0 L46.6,486.1 L46.6,488.1 L46.6,490.2 L46.6,492.2 L46.6,494.3 L46.6,496.3 L46.6,498.4 L46.6,500.5 L46.6,502.5 L46.6,504.6 L46.6,506.6 L46.6,508.7 L46.6,510.8 L46.5,512.8 L46.5,514.9 L46.5,516.9 L46.5,519.0 L46.4,521.0 L46.3,522.0 L45.3,523.1 L43.5,523.1 L42.5,522.0 L42.4,521.0 L42.3,519.0 L42.3,516.9 L42.3,514.9 L42.3,512.8 L42.2,510.8 L42.2,508.7 L42.2,506.6 L42.2,504.6 L42.2,502.5 L42.2,500.5 L42.2,498.4 L42.2,496.3 L42.2,494.3 L42.2,492.2 L42.2,490.2 L42.2,488.1 L42.2,486.1 L42.3,484.0 L42.3,481.9 L42.3,479.9 L42.4,477.8 L42.4,475.8 L42.5,475.0 L43.7,473.7 Z" fill="#35a83a" fill-opacity="0.5" stroke="#35a83a" stroke-width="0.6"/>
<circle cx="44.4" cy="473.7" r="1.15" fill="#2a8a2e"/>
<circle cx="44.4" cy="523.1" r="1.15" fill="#2a8a2e"/>
<circle cx="44.5" cy="477.7" r="1.15" fill="#2a8a2e"/>
<circle cx="44.0" cy="483.0" r="1.15" fill="#2a8a2e"/>
<circle cx="44.6" cy="488.0" r="1.15" fill="#2a8a2e"/>
<circle cx="44.7" cy="493.2" r="1.15" fill="#2a8a2e"/>
<circle cx="44.3" cy="498.4" r="1.15" fill="#2a8a2e"/>
<circle cx="44.6" cy="503.2" r="1.15" fill="#2a8a2e"/>
<circle cx="43.9" cy="508.9" r="1.15" fill="#2a8a2e"/>
<circle cx="45.0" cy="514.4" r="1.15" fill="#2a8a2e"/>
<circle cx="43.8" cy="519.3" r="1.15" fill="#2a8a2e"/>
<line x1="51.5" y1="518.8" x2="51.5" y2="539" stroke="#e6007e" stroke-width="0.75"/>
<path d="M52.3,518.8 L53.0,519.6 L53.4,520.0 L53.5,520.5 L53.6,521.3 L53.6,522.2 L53.6,523.0 L53.7,523.9 L53.7,524.7 L53.7,525.5 L53.7,526.4 L53.7,527.2 L53.7,528.1 L53.7,528.9 L53.7,529.7 L53.7,530.6 L53.7,531.4 L53.6,532.3 L53.6,533.1 L53.6,534.0 L53.5,534.8 L53.4,535.0 L52.7,535.6 L52.2,536.5 L51.9,537.3 L51.8,538.2 L51.8,539.0 L51.2,539.0 L51.2,538.2 L51.1,537.3 L50.8,536.5 L50.3,535.6 L49.6,535.0 L49.5,534.8 L49.4,534.0 L49.4,533.1 L49.4,532.3 L49.3,531.4 L49.3,530.6 L49.3,529.7 L49.3,528.9 L49.3,528.1 L49.3,527.2 L49.3,526.4 L49.3,525.5 L49.3,524.7 L49.3,523.9 L49.4,523.0 L49.4,522.2 L49.4,521.3 L49.5,520.5 L49.6,520.0 L50.0,519.6 L50.7,518.8 Z" fill="#e6007e" fill-opacity="0.7749999999999999" stroke="#e6007e" stroke-width="0.6"/>
<circle cx="51.5" cy="518.8" r="1.15" fill="#c4006a"/>
<circle cx="51.5" cy="539.0" r="1.15" fill="#c4006a"/>
<circle cx="50.7" cy="521.2" r="1.15" fill="#c4006a"/>
<circle cx="51.4" cy="523.4" r="1.15" fill="#c4006a"/>
<circle cx="51.4" cy="525.8" r="1.15" fill="#c4006a"/>
<circle cx="50.6" cy="528.8" r="1.15" fill="#c4006a"/>
<circle cx="50.7" cy="531.4" r="1.15" fill="#c4006a"/>
<circle cx="52.0" cy="534.0" r="1.15" fill="#c4006a"/>
<line x1="58.8" y1="520.4" x2="58.8" y2="536.5" stroke="#4a1550" stroke-width="0.75"/>
<path d="M59.1,520.4 L59.3,521.1 L59.6,521.7 L60.0,522.4 L60.7,523.0 L60.8,523.1 L60.9,523.8 L60.9,524.4 L60.9,525.1 L61.0,525.8 L61.0,526.4 L61.0,527.1 L61.0,527.8 L61.0,528.5 L61.0,529.1 L61.0,529.8 L61.0,530.5 L60.9,531.1 L60.9,531.8 L60.8,532.5 L60.7,533.0 L60.5,533.1 L59.9,533.8 L59.5,534.5 L59.2,535.2 L59.1,535.8 L59.0,536.5 L58.5,536.5 L58.5,535.8 L58.4,535.2 L58.1,534.5 L57.7,533.8 L57.1,533.1 L56.9,533.0 L56.8,532.5 L56.7,531.8 L56.7,531.1 L56.6,530.5 L56.6,529.8 L56.6,529.1 L56.6,528.5 L56.6,527.8 L56.6,527.1 L56.6,526.4 L56.6,525.8 L56.7,525.1 L56.7,524.4 L56.7,523.8 L56.8,523.1 L56.9,523.0 L57.6,522.4 L58.0,521.7 L58.3,521.1 L58.5,520.4 Z" fill="#4a1550" fill-opacity="0.85" stroke="#4a1550" stroke-width="0.6"/>
<circle cx="58.8" cy="520.4" r="1.15" fill="#380e3c"/>
<circle cx="58.8" cy="536.5" r="1.15" fill="#380e3c"/>
<circle cx="57.9" cy="524.3" r="1.15" fill="#380e3c"/>
<circle cx="58.6" cy="526.8" r="1.15" fill="#380e3c"/>
<circle cx="58.1" cy="529.7" r="1.15" fill="#380e3c"/>
<circle cx="59.8" cy="532.1" r="1.15" fill="#380e3c"/>
<line x1="66.2" y1="490.4" x2="66.2" y2="519.2" stroke="#f7941d" stroke-width="0.75"/>
<path d="M66.5,490.4 L66.9,491.6 L67.8,492.8 L68.1,493.0 L68.2,494.0 L68.3,495.2 L68.3,496.4 L68.4,497.6 L68.4,498.8 L68.4,500.0 L68.4,501.2 L68.4,502.4 L68.4,503.6 L68.4,504.8 L68.4,506.0 L68.4,507.2 L68.3,508.4 L68.3,509.6 L68.3,510.8 L68.1,512.0 L67.0,513.2 L66.5,514.4 L66.5,515.6 L66.5,516.8 L66.5,518.0 L66.5,519.2 L66.0,519.2 L66.0,518.0 L66.0,516.8 L66.0,515.6 L65.9,514.4 L65.4,513.2 L64.3,512.0 L64.1,510.8 L64.1,509.6 L64.1,508.4 L64.0,507.2 L64.0,506.0 L64.0,504.8 L64.0,503.6 L64.0,502.4 L64.0,501.2 L64.0,500.0 L64.0,498.8 L64.0,497.6 L64.1,496.4 L64.1,495.2 L64.2,494.0 L64.3,493.0 L64.6,492.8 L65.5,491.6 L65.9,490.4 Z" fill="#f7941d" fill-opacity="0.6749999999999999" stroke="#f7941d" stroke-width="0.6"/>
<circle cx="66.2" cy="490.4" r="1.15" fill="#e38510"/>
<circle cx="66.2" cy="519.2" r="1.15" fill="#e38510"/>
<circle cx="66.8" cy="494.6" r="1.15" fill="#e38510"/>
<circle cx="67.2" cy="496.8" r="1.15" fill="#e38510"/>
<circle cx="67.1" cy="499.8" r="1.15" fill="#e38510"/>
<circle cx="65.5" cy="502.9" r="1.15" fill="#e38510"/>
<circle cx="67.1" cy="505.5" r="1.15" fill="#e38510"/>
<circle cx="65.9" cy="507.5" r="1.15" fill="#e38510"/>
<circle cx="65.5" cy="510.9" r="1.15" fill="#e38510"/>
<line x1="73.3" y1="494.8" x2="73.3" y2="517.3" stroke="#c9c9c9" stroke-width="0.75"/>
<path d="M73.5,494.8 L73.5,495.7 L73.5,496.7 L73.6,497.6 L74.0,498.6 L74.6,499.5 L75.2,500.0 L75.3,500.4 L75.4,501.4 L75.4,502.3 L75.4,503.2 L75.5,504.2 L75.5,505.1 L75.5,506.1 L75.5,507.0 L75.5,507.9 L75.5,508.9 L75.5,509.8 L75.5,510.7 L75.5,511.7 L75.4,512.6 L75.4,513.5 L75.3,514.5 L75.2,515.0 L74.7,515.4 L74.0,516.4 L73.7,517.3 L72.9,517.3 L72.6,516.4 L71.9,515.4 L71.4,515.0 L71.3,514.5 L71.2,513.5 L71.2,512.6 L71.1,511.7 L71.1,510.7 L71.1,509.8 L71.1,508.9 L71.1,507.9 L71.1,507.0 L71.1,506.1 L71.1,505.1 L71.1,504.2 L71.2,503.2 L71.2,502.3 L71.2,501.4 L71.3,500.4 L71.4,500.0 L72.0,499.5 L72.6,498.6 L73.0,497.6 L73.0,496.7 L73.0,495.7 L73.0,494.8 Z" fill="#c9c9c9" fill-opacity="0.6" stroke="#c9c9c9" stroke-width="0.6"/>
<path d="M72.3,495.6 L74.3,495.6 L73.3,493.8 Z" fill="#b0b0b0"/>
<path d="M72.3,518.1 L74.3,518.1 L73.3,516.3 Z" fill="#b0b0b0"/>
<path d="M71.9,502.4 L73.9,502.4 L72.9,500.6 Z" fill="#b0b0b0"/>
<path d="M71.6,504.9 L73.6,504.9 L72.6,503.1 Z" fill="#b0b0b0"/>
<path d="M73.1,507.1 L75.1,507.1 L74.1,505.3 Z" fill="#b0b0b0"/>
<path d="M71.8,509.3 L73.8,509.3 L72.8,507.5 Z" fill="#b0b0b0"/>
<path d="M71.9,512.1 L73.9,512.1 L72.9,510.3 Z" fill="#b0b0b0"/>
<path d="M71.7,514.1 L73.7,514.1 L72.7,512.3 Z" fill="#b0b0b0"/>
<line x1="86.2" y1="481.3" x2="86.2" y2="516" stroke="#1b4587" stroke-width="0.75"/>
<path d="M86.5,481.3 L86.6,482.8 L87.3,484.2 L88.1,485.0 L88.2,485.6 L88.3,487.1 L88.3,488.5 L88.4,490.0 L88.4,491.4 L88.4,492.9 L88.4,494.3 L88.4,495.8 L88.4,497.2 L88.4,498.6 L88.4,500.1 L88.3,501.5 L88.3,503.0 L88.2,504.4 L88.1,505.0 L87.2,505.9 L86.6,507.3 L86.5,508.8 L86.5,510.2 L86.5,511.7 L86.5,513.1 L86.5,514.5 L86.5,516.0 L86.0,516.0 L86.0,514.5 L86.0,513.1 L86.0,511.7 L86.0,510.2 L86.0,508.8 L85.8,507.3 L85.2,505.9 L84.3,505.0 L84.2,504.4 L84.1,503.0 L84.1,501.5 L84.0,500.1 L84.0,498.6 L84.0,497.2 L84.0,495.8 L84.0,494.3 L84.0,492.9 L84.0,491.4 L84.0,490.0 L84.1,488.5 L84.1,487.1 L84.2,485.6 L84.3,485.0 L85.1,484.2 L85.8,482.8 L86.0,481.3 Z" fill="#1b4587" fill-opacity="0.6499999999999999" stroke="#1b4587" stroke-width="0.6"/>
<circle cx="86.2" cy="481.3" r="1.15" fill="#143668"/>
<circle cx="86.2" cy="516.0" r="1.15" fill="#143668"/>
<circle cx="87.1" cy="485.9" r="1.15" fill="#143668"/>
<circle cx="87.0" cy="488.9" r="1.15" fill="#143668"/>
<circle cx="86.8" cy="490.9" r="1.15" fill="#143668"/>
<circle cx="86.3" cy="493.4" r="1.15" fill="#143668"/>
<circle cx="85.9" cy="496.4" r="1.15" fill="#143668"/>
<circle cx="86.3" cy="499.1" r="1.15" fill="#143668"/>
<circle cx="87.0" cy="501.3" r="1.15" fill="#143668"/>
<circle cx="87.2" cy="503.4" r="1.15" fill="#143668"/>
<line x1="93.1" y1="473.7" x2="93.1" y2="536.5" stroke="#35a83a" stroke-width="0.75"/>
<path d="M93.8,473.7 L95.0,475.0 L95.1,476.3 L95.2,478.9 L95.2,481.6 L95.2,484.2 L95.2,486.8 L95.3,489.4 L95.3,492.0 L95.3,494.6 L95.3,497.2 L95.3,499.9 L95.3,502.5 L95.3,505.1 L95.3,507.7 L95.3,510.3 L95.3,513.0 L95.3,515.6 L95.2,518.2 L95.2,520.8 L95.2,523.4 L95.2,526.0 L95.1,528.6 L95.0,530.0 L93.9,531.3 L93.3,533.9 L93.3,536.5 L92.8,536.5 L92.8,533.9 L92.3,531.3 L91.2,530.0 L91.1,528.6 L91.0,526.0 L91.0,523.4 L91.0,520.8 L91.0,518.2 L90.9,515.6 L90.9,513.0 L90.9,510.3 L90.9,507.7 L90.9,505.1 L90.9,502.5 L90.9,499.9 L90.9,497.2 L90.9,494.6 L90.9,492.0 L90.9,489.4 L91.0,486.8 L91.0,484.2 L91.0,481.6 L91.0,478.9 L91.1,476.3 L91.2,475.0 L92.4,473.7 Z" fill="#35a83a" fill-opacity="0.5" stroke="#35a83a" stroke-width="0.6"/>
<circle cx="93.1" cy="473.7" r="1.15" fill="#2a8a2e"/>
<circle cx="93.1" cy="536.5" r="1.15" fill="#2a8a2e"/>
<circle cx="92.9" cy="478.2" r="1.15" fill="#2a8a2e"/>
<circle cx="92.6" cy="484.5" r="1.15" fill="#2a8a2e"/>
<circle cx="93.3" cy="490.8" r="1.15" fill="#2a8a2e"/>
<circle cx="93.6" cy="496.2" r="1.15" fill="#2a8a2e"/>
<circle cx="92.5" cy="502.4" r="1.15" fill="#2a8a2e"/>
<circle cx="92.2" cy="508.9" r="1.15" fill="#2a8a2e"/>
<circle cx="92.6" cy="515.0" r="1.15" fill="#2a8a2e"/>
<circle cx="94.1" cy="521.0" r="1.15" fill="#2a8a2e"/>
<circle cx="93.4" cy="527.0" r="1.15" fill="#2a8a2e"/>
<line x1="99.6" y1="509.2" x2="99.6" y2="528.5" stroke="#e6007e" stroke-width="0.75"/>
<path d="M99.9,509.2 L100.1,510.0 L100.4,510.8 L101.0,511.6 L101.5,512.0 L101.6,512.4 L101.7,513.2 L101.7,514.0 L101.7,514.8 L101.8,515.6 L101.8,516.4 L101.8,517.2 L101.8,518.0 L101.8,518.9 L101.8,519.6 L101.8,520.5 L101.8,521.3 L101.8,522.1 L101.8,522.9 L101.8,523.7 L101.7,524.5 L101.7,525.3 L101.7,526.1 L101.7,526.9 L101.6,527.7 L101.5,528.0 L100.9,528.5 L98.3,528.5 L97.7,528.0 L97.6,527.7 L97.5,526.9 L97.5,526.1 L97.5,525.3 L97.5,524.5 L97.4,523.7 L97.4,522.9 L97.4,522.1 L97.4,521.3 L97.4,520.5 L97.4,519.6 L97.4,518.9 L97.4,518.0 L97.4,517.2 L97.4,516.4 L97.4,515.6 L97.5,514.8 L97.5,514.0 L97.5,513.2 L97.6,512.4 L97.7,512.0 L98.2,511.6 L98.8,510.8 L99.1,510.0 L99.3,509.2 Z" fill="#e6007e" fill-opacity="0.75" stroke="#e6007e" stroke-width="0.6"/>
<circle cx="99.6" cy="509.2" r="1.15" fill="#c4006a"/>
<circle cx="99.6" cy="528.5" r="1.15" fill="#c4006a"/>
<circle cx="98.6" cy="513.1" r="1.15" fill="#c4006a"/>
<circle cx="98.9" cy="515.5" r="1.15" fill="#c4006a"/>
<circle cx="99.5" cy="518.8" r="1.15" fill="#c4006a"/>
<circle cx="100.4" cy="521.3" r="1.15" fill="#c4006a"/>
<circle cx="99.1" cy="523.6" r="1.15" fill="#c4006a"/>
<circle cx="98.7" cy="526.8" r="1.15" fill="#c4006a"/>
<line x1="106.9" y1="520.8" x2="106.9" y2="531.9" stroke="#4a1550" stroke-width="0.75"/>
<path d="M107.7,520.8 L108.0,521.3 L108.4,521.7 L108.8,522.0 L108.9,522.2 L109.0,522.6 L109.0,523.1 L109.0,523.6 L109.1,524.0 L109.1,524.5 L109.1,525.0 L109.1,525.4 L109.1,525.9 L109.1,526.4 L109.1,526.8 L109.1,527.3 L109.1,527.7 L109.1,528.2 L109.0,528.7 L109.0,529.1 L108.9,529.6 L108.8,530.0 L108.7,530.0 L108.2,530.5 L107.8,531.0 L107.6,531.4 L107.4,531.9 L106.4,531.9 L106.2,531.4 L106.0,531.0 L105.6,530.5 L105.1,530.0 L105.0,530.0 L104.9,529.6 L104.8,529.1 L104.8,528.7 L104.7,528.2 L104.7,527.7 L104.7,527.3 L104.7,526.8 L104.7,526.4 L104.7,525.9 L104.7,525.4 L104.7,525.0 L104.7,524.5 L104.7,524.0 L104.8,523.6 L104.8,523.1 L104.8,522.6 L104.9,522.2 L105.0,522.0 L105.4,521.7 L105.8,521.3 L106.1,520.8 Z" fill="#4a1550" fill-opacity="0.85" stroke="#4a1550" stroke-width="0.6"/>
<circle cx="106.9" cy="520.8" r="1.15" fill="#380e3c"/>
<circle cx="106.9" cy="531.9" r="1.15" fill="#380e3c"/>
<circle cx="106.6" cy="522.5" r="1.15" fill="#380e3c"/>
<circle cx="106.6" cy="524.6" r="1.15" fill="#380e3c"/>
<circle cx="107.1" cy="526.7" r="1.15" fill="#380e3c"/>
<circle cx="106.3" cy="529.1" r="1.15" fill="#380e3c"/>
<line x1="114.2" y1="490" x2="114.2" y2="513.1" stroke="#f7941d" stroke-width="0.75"/>
<path d="M114.7,490.0 L115.1,491.0 L116.0,491.9 L116.1,492.0 L116.3,492.9 L116.3,493.9 L116.3,494.8 L116.4,495.8 L116.4,496.7 L116.4,497.7 L116.4,498.7 L116.4,499.6 L116.4,500.6 L116.4,501.6 L116.3,502.5 L116.3,503.5 L116.2,504.4 L116.1,505.0 L115.6,505.4 L114.9,506.4 L114.6,507.3 L114.5,508.3 L114.5,509.2 L114.5,510.2 L114.5,511.2 L114.5,512.1 L114.5,513.1 L114.0,513.1 L114.0,512.1 L114.0,511.2 L114.0,510.2 L114.0,509.2 L114.0,508.3 L113.8,507.3 L113.5,506.4 L112.8,505.4 L112.3,505.0 L112.2,504.4 L112.1,503.5 L112.1,502.5 L112.0,501.6 L112.0,500.6 L112.0,499.6 L112.0,498.7 L112.0,497.7 L112.0,496.7 L112.0,495.8 L112.1,494.8 L112.1,493.9 L112.1,492.9 L112.3,492.0 L112.4,491.9 L113.3,491.0 L113.7,490.0 Z" fill="#f7941d" fill-opacity="0.825" stroke="#f7941d" stroke-width="0.6"/>
<circle cx="114.2" cy="490.0" r="1.15" fill="#e38510"/>
<circle cx="114.2" cy="513.1" r="1.15" fill="#e38510"/>
<circle cx="114.2" cy="493.4" r="1.15" fill="#e38510"/>
<circle cx="115.1" cy="495.5" r="1.15" fill="#e38510"/>
<circle cx="113.5" cy="498.2" r="1.15" fill="#e38510"/>
<circle cx="114.5" cy="500.7" r="1.15" fill="#e38510"/>
<circle cx="114.8" cy="504.1" r="1.15" fill="#e38510"/>
<line x1="121.3" y1="498.7" x2="121.3" y2="533.3" stroke="#c9c9c9" stroke-width="0.75"/>
<path d="M121.5,498.7 L121.5,500.1 L121.5,501.6 L121.8,503.0 L122.6,504.5 L123.2,505.0 L123.3,505.9 L123.4,507.4 L123.4,508.8 L123.5,510.2 L123.5,511.7 L123.5,513.1 L123.5,514.6 L123.5,516.0 L123.5,517.4 L123.5,518.9 L123.5,520.3 L123.5,521.8 L123.4,523.2 L123.4,524.6 L123.4,526.1 L123.3,527.5 L123.2,528.0 L122.2,529.0 L121.6,530.4 L121.5,531.9 L121.5,533.3 L121.0,533.3 L121.0,531.9 L121.0,530.4 L120.4,529.0 L119.4,528.0 L119.3,527.5 L119.2,526.1 L119.2,524.6 L119.2,523.2 L119.1,521.8 L119.1,520.3 L119.1,518.9 L119.1,517.4 L119.1,516.0 L119.1,514.6 L119.1,513.1 L119.1,511.7 L119.1,510.2 L119.2,508.8 L119.2,507.4 L119.3,505.9 L119.4,505.0 L120.0,504.5 L120.8,503.0 L121.0,501.6 L121.0,500.1 L121.0,498.7 Z" fill="#c9c9c9" fill-opacity="0.575" stroke="#c9c9c9" stroke-width="0.6"/>
<path d="M120.3,499.5 L122.3,499.5 L121.3,497.7 Z" fill="#b0b0b0"/>
<path d="M120.3,534.1 L122.3,534.1 L121.3,532.3 Z" fill="#b0b0b0"/>
<path d="M119.8,507.0 L121.8,507.0 L120.8,505.2 Z" fill="#b0b0b0"/>
<path d="M120.6,509.1 L122.6,509.1 L121.6,507.3 Z" fill="#b0b0b0"/>
<path d="M120.0,512.3 L122.0,512.3 L121.0,510.5 Z" fill="#b0b0b0"/>
<path d="M120.2,514.9 L122.2,514.9 L121.2,513.1 Z" fill="#b0b0b0"/>
<path d="M120.8,517.7 L122.8,517.7 L121.8,515.9 Z" fill="#b0b0b0"/>
<path d="M121.1,519.6 L123.1,519.6 L122.1,517.8 Z" fill="#b0b0b0"/>
<path d="M120.4,522.0 L122.4,522.0 L121.4,520.2 Z" fill="#b0b0b0"/>
<path d="M119.8,524.9 L121.8,524.9 L120.8,523.1 Z" fill="#b0b0b0"/>
<path d="M120.9,527.1 L122.9,527.1 L121.9,525.3 Z" fill="#b0b0b0"/>
<line x1="36.900000000000006" y1="470.8" x2="45.199999999999996" y2="470.8" stroke="#2b2b2b" stroke-width="1.3"/>
<text transform="translate(41.05 468.87) scale(0.995 1)" font-size="5.9" text-anchor="middle" font-weight="normal" fill="#2b2b2b" stroke="#2b2b2b" stroke-width="0.18">ns</text>
<line x1="50.7" y1="516.9" x2="59.599999999999994" y2="516.9" stroke="#2b2b2b" stroke-width="1.3"/>
<text transform="translate(55.15 514.97) scale(0.995 1)" font-size="5.9" text-anchor="middle" font-weight="normal" fill="#2b2b2b" stroke="#2b2b2b" stroke-width="0.18">ns</text>
<line x1="65.4" y1="489.6" x2="74.1" y2="489.6" stroke="#2b2b2b" stroke-width="1.3"/>
<text transform="translate(69.75 487.67) scale(0.995 1)" font-size="5.9" text-anchor="middle" font-weight="normal" fill="#2b2b2b" stroke="#2b2b2b" stroke-width="0.18">ns</text>
<line x1="85.4" y1="472.3" x2="93.89999999999999" y2="472.3" stroke="#2b2b2b" stroke-width="1.3"/>
<text transform="translate(89.65 470.37) scale(0.995 1)" font-size="5.9" text-anchor="middle" font-weight="normal" fill="#2b2b2b" stroke="#2b2b2b" stroke-width="0.18">ns</text>
<line x1="98.8" y1="506.9" x2="107.7" y2="506.9" stroke="#2b2b2b" stroke-width="1.3"/>
<text transform="translate(103.25 504.96) scale(0.995 1)" font-size="5.9" text-anchor="middle" font-weight="normal" fill="#2b2b2b" stroke="#2b2b2b" stroke-width="0.18">ns</text>
<line x1="113.4" y1="488.1" x2="122.1" y2="488.1" stroke="#2b2b2b" stroke-width="1.3"/>
<path d="M116.30,483.65 L116.30,485.55 M115.48,484.12 L117.12,485.08 M117.12,484.12 L115.48,485.08 " stroke="#2b2b2b" stroke-width="0.75" stroke-linecap="round"/>
<path d="M119.20,483.65 L119.20,485.55 M118.38,484.12 L120.02,485.08 M120.02,484.12 L118.38,485.08 " stroke="#2b2b2b" stroke-width="0.75" stroke-linecap="round"/>
<line x1="160.5" y1="471.7" x2="160.5" y2="539.4" stroke="#2b2b2b" stroke-width="1.25"/>
<line x1="159.9" y1="539.4" x2="256.4" y2="539.4" stroke="#2b2b2b" stroke-width="1.3"/>
<line x1="157.3" y1="539.4" x2="160.5" y2="539.4" stroke="#2b2b2b" stroke-width="1.0"/>
<text transform="translate(155.30 541.57)" font-size="6.2" text-anchor="end" font-weight="normal" fill="#2b2b2b" stroke="#2b2b2b" stroke-width="0.1">0</text>
<line x1="157.3" y1="526.36" x2="160.5" y2="526.36" stroke="#2b2b2b" stroke-width="1.0"/>
<text transform="translate(155.30 528.53)" font-size="6.2" text-anchor="end" font-weight="normal" fill="#2b2b2b" stroke="#2b2b2b" stroke-width="0.1">20</text>
<line x1="157.3" y1="513.3199999999999" x2="160.5" y2="513.3199999999999" stroke="#2b2b2b" stroke-width="1.0"/>
<text transform="translate(155.30 515.49)" font-size="6.2" text-anchor="end" font-weight="normal" fill="#2b2b2b" stroke="#2b2b2b" stroke-width="0.1">40</text>
<line x1="157.3" y1="500.28" x2="160.5" y2="500.28" stroke="#2b2b2b" stroke-width="1.0"/>
<text transform="translate(155.30 502.45)" font-size="6.2" text-anchor="end" font-weight="normal" fill="#2b2b2b" stroke="#2b2b2b" stroke-width="0.1">60</text>
<line x1="157.3" y1="487.24" x2="160.5" y2="487.24" stroke="#2b2b2b" stroke-width="1.0"/>
<text transform="translate(155.30 489.41)" font-size="6.2" text-anchor="end" font-weight="normal" fill="#2b2b2b" stroke="#2b2b2b" stroke-width="0.1">80</text>
<line x1="157.3" y1="474.2" x2="160.5" y2="474.2" stroke="#2b2b2b" stroke-width="1.0"/>
<text transform="translate(155.30 476.37)" font-size="6.2" text-anchor="end" font-weight="normal" fill="#2b2b2b" stroke="#2b2b2b" stroke-width="0.1">100</text>
<line x1="185.4" y1="539.4" x2="185.4" y2="541.8" stroke="#2b2b2b" stroke-width="1.0"/>
<text transform="translate(185.40 551.24)" font-size="6.4" text-anchor="middle" font-weight="normal" fill="#2b2b2b" stroke="#2b2b2b" stroke-width="0.14">BM</text>
<line x1="234" y1="539.4" x2="234" y2="541.8" stroke="#2b2b2b" stroke-width="1.0"/>
<text transform="translate(234.00 551.24)" font-size="6.4" text-anchor="middle" font-weight="normal" fill="#2b2b2b" stroke="#2b2b2b" stroke-width="0.14">Spleen</text>
<text transform="translate(138.16 506.80) rotate(-90) scale(0.900 1)" font-size="5.3" text-anchor="middle" font-weight="normal" fill="#2b2b2b" stroke="#2b2b2b" stroke-width="0.12">% Ki-67<tspan font-size="3.29" dy="-2.12">+</tspan><tspan dy="2.12"> of CD8</tspan><tspan font-size="3.29" dy="-2.12">+</tspan><tspan dy="2.12"> CAR-T cells</tspan></text>
<line x1="168.1" y1="472.7" x2="168.1" y2="505" stroke="#1b4587" stroke-width="0.75"/>
<path d="M168.3,472.7 L168.6,474.1 L169.3,475.4 L170.0,476.0 L170.1,476.7 L170.2,478.1 L170.2,479.4 L170.3,480.8 L170.3,482.1 L170.3,483.5 L170.3,484.8 L170.3,486.2 L170.3,487.5 L170.3,488.9 L170.3,490.2 L170.2,491.5 L170.2,492.9 L170.1,494.2 L170.0,495.0 L169.4,495.6 L168.6,496.9 L168.3,498.3 L168.3,499.6 L168.3,501.0 L168.3,502.3 L168.3,503.6 L168.3,505.0 L167.8,505.0 L167.8,503.6 L167.8,502.3 L167.8,501.0 L167.8,499.6 L167.8,498.3 L167.6,496.9 L166.8,495.6 L166.2,495.0 L166.1,494.2 L166.0,492.9 L166.0,491.5 L165.9,490.2 L165.9,488.9 L165.9,487.5 L165.9,486.2 L165.9,484.8 L165.9,483.5 L165.9,482.1 L165.9,480.8 L166.0,479.4 L166.0,478.1 L166.1,476.7 L166.2,476.0 L166.9,475.4 L167.6,474.1 L167.8,472.7 Z" fill="#1b4587" fill-opacity="0.6749999999999999" stroke="#1b4587" stroke-width="0.6"/>
<circle cx="168.1" cy="472.7" r="1.15" fill="#143668"/>
<circle cx="168.1" cy="505.0" r="1.15" fill="#143668"/>
<circle cx="168.2" cy="476.9" r="1.15" fill="#143668"/>
<circle cx="167.4" cy="480.5" r="1.15" fill="#143668"/>
<circle cx="168.3" cy="482.5" r="1.15" fill="#143668"/>
<circle cx="168.4" cy="485.5" r="1.15" fill="#143668"/>
<circle cx="167.5" cy="488.5" r="1.15" fill="#143668"/>
<circle cx="167.7" cy="490.7" r="1.15" fill="#143668"/>
<circle cx="168.9" cy="493.2" r="1.15" fill="#143668"/>
<line x1="175" y1="472.7" x2="175" y2="506.9" stroke="#35a83a" stroke-width="0.75"/>
<path d="M175.2,472.7 L175.2,474.1 L175.2,475.6 L175.2,477.0 L175.2,478.4 L175.2,479.8 L175.2,481.2 L175.2,482.7 L175.2,484.1 L175.3,485.5 L175.9,486.9 L176.9,488.0 L177.0,488.4 L177.1,489.8 L177.1,491.2 L177.2,492.6 L177.2,494.1 L177.2,495.5 L177.2,496.9 L177.2,498.4 L177.2,499.8 L177.2,501.2 L177.1,502.6 L177.0,504.1 L176.9,505.0 L176.4,505.5 L175.5,506.9 L174.5,506.9 L173.6,505.5 L173.1,505.0 L173.0,504.1 L172.9,502.6 L172.8,501.2 L172.8,499.8 L172.8,498.4 L172.8,496.9 L172.8,495.5 L172.8,494.1 L172.8,492.6 L172.9,491.2 L172.9,489.8 L173.0,488.4 L173.1,488.0 L174.1,486.9 L174.7,485.5 L174.8,484.1 L174.8,482.7 L174.8,481.2 L174.8,479.8 L174.8,478.4 L174.8,477.0 L174.8,475.6 L174.8,474.1 L174.8,472.7 Z" fill="#35a83a" fill-opacity="0.725" stroke="#35a83a" stroke-width="0.6"/>
<circle cx="175.0" cy="472.7" r="1.15" fill="#2a8a2e"/>
<circle cx="175.0" cy="506.9" r="1.15" fill="#2a8a2e"/>
<circle cx="175.4" cy="489.5" r="1.15" fill="#2a8a2e"/>
<circle cx="175.7" cy="491.1" r="1.15" fill="#2a8a2e"/>
<circle cx="174.9" cy="494.3" r="1.15" fill="#2a8a2e"/>
<circle cx="174.9" cy="496.7" r="1.15" fill="#2a8a2e"/>
<circle cx="174.2" cy="498.7" r="1.15" fill="#2a8a2e"/>
<circle cx="174.1" cy="501.1" r="1.15" fill="#2a8a2e"/>
<circle cx="175.5" cy="503.6" r="1.15" fill="#2a8a2e"/>
<line x1="182.1" y1="517.3" x2="182.1" y2="533.3" stroke="#e6007e" stroke-width="0.75"/>
<path d="M182.4,517.3 L182.5,518.0 L182.8,518.6 L183.2,519.3 L184.0,520.0 L184.0,520.0 L184.2,520.6 L184.2,521.3 L184.2,522.0 L184.3,522.6 L184.3,523.3 L184.3,524.0 L184.3,524.6 L184.3,525.3 L184.3,526.0 L184.3,526.6 L184.3,527.3 L184.2,528.0 L184.2,528.6 L184.2,529.3 L184.0,530.0 L184.0,530.0 L183.3,530.6 L182.8,531.3 L182.6,532.0 L182.4,532.6 L182.3,533.3 L181.8,533.3 L181.8,532.6 L181.6,532.0 L181.4,531.3 L180.9,530.6 L180.2,530.0 L180.2,530.0 L180.0,529.3 L180.0,528.6 L180.0,528.0 L179.9,527.3 L179.9,526.6 L179.9,526.0 L179.9,525.3 L179.9,524.6 L179.9,524.0 L179.9,523.3 L179.9,522.6 L180.0,522.0 L180.0,521.3 L180.0,520.6 L180.2,520.0 L180.2,520.0 L181.0,519.3 L181.4,518.6 L181.7,518.0 L181.8,517.3 Z" fill="#e6007e" fill-opacity="0.85" stroke="#e6007e" stroke-width="0.6"/>
<circle cx="182.1" cy="517.3" r="1.15" fill="#c4006a"/>
<circle cx="182.1" cy="533.3" r="1.15" fill="#c4006a"/>
<circle cx="182.8" cy="521.4" r="1.15" fill="#c4006a"/>
<circle cx="181.6" cy="524.0" r="1.15" fill="#c4006a"/>
<circle cx="182.0" cy="526.3" r="1.15" fill="#c4006a"/>
<circle cx="182.1" cy="529.0" r="1.15" fill="#c4006a"/>
<line x1="189.2" y1="514.6" x2="189.2" y2="530.4" stroke="#4a1550" stroke-width="0.75"/>
<path d="M189.4,514.6 L189.5,515.3 L189.6,515.9 L189.9,516.6 L190.3,517.2 L190.9,517.9 L191.1,518.0 L191.2,518.5 L191.3,519.2 L191.3,519.9 L191.4,520.5 L191.4,521.2 L191.4,521.8 L191.4,522.5 L191.4,523.2 L191.4,523.8 L191.4,524.5 L191.4,525.1 L191.3,525.8 L191.3,526.5 L191.3,527.1 L191.2,527.8 L191.1,528.0 L190.6,528.4 L190.1,529.1 L189.7,529.7 L189.5,530.4 L188.9,530.4 L188.7,529.7 L188.3,529.1 L187.8,528.4 L187.3,528.0 L187.2,527.8 L187.1,527.1 L187.1,526.5 L187.1,525.8 L187.0,525.1 L187.0,524.5 L187.0,523.8 L187.0,523.2 L187.0,522.5 L187.0,521.8 L187.0,521.2 L187.0,520.5 L187.1,519.9 L187.1,519.2 L187.2,518.5 L187.3,518.0 L187.5,517.9 L188.1,517.2 L188.5,516.6 L188.8,515.9 L188.9,515.3 L188.9,514.6 Z" fill="#4a1550" fill-opacity="0.85" stroke="#4a1550" stroke-width="0.6"/>
<circle cx="189.2" cy="514.6" r="1.15" fill="#380e3c"/>
<circle cx="189.2" cy="530.4" r="1.15" fill="#380e3c"/>
<circle cx="189.5" cy="519.0" r="1.15" fill="#380e3c"/>
<circle cx="188.6" cy="522.2" r="1.15" fill="#380e3c"/>
<circle cx="188.2" cy="524.6" r="1.15" fill="#380e3c"/>
<circle cx="188.7" cy="526.5" r="1.15" fill="#380e3c"/>
<line x1="196.2" y1="495.8" x2="196.2" y2="517.9" stroke="#f7941d" stroke-width="0.75"/>
<path d="M196.6,495.8 L197.0,496.7 L197.7,497.6 L198.1,498.0 L198.2,498.6 L198.3,499.5 L198.3,500.4 L198.4,501.3 L198.4,502.2 L198.4,503.2 L198.4,504.1 L198.4,505.0 L198.4,505.9 L198.4,506.9 L198.4,507.8 L198.4,508.7 L198.3,509.6 L198.3,510.5 L198.2,511.4 L198.1,512.0 L197.6,512.4 L196.9,513.3 L196.6,514.2 L196.4,515.1 L196.4,516.1 L196.4,517.0 L196.4,517.9 L195.9,517.9 L195.9,517.0 L195.9,516.1 L195.9,515.1 L195.8,514.2 L195.5,513.3 L194.8,512.4 L194.3,512.0 L194.2,511.4 L194.1,510.5 L194.1,509.6 L194.0,508.7 L194.0,507.8 L194.0,506.9 L194.0,505.9 L194.0,505.0 L194.0,504.1 L194.0,503.2 L194.0,502.2 L194.0,501.3 L194.1,500.4 L194.1,499.5 L194.2,498.6 L194.3,498.0 L194.7,497.6 L195.4,496.7 L195.8,495.8 Z" fill="#f7941d" fill-opacity="0.7999999999999999" stroke="#f7941d" stroke-width="0.6"/>
<circle cx="196.2" cy="495.8" r="1.15" fill="#e38510"/>
<circle cx="196.2" cy="517.9" r="1.15" fill="#e38510"/>
<circle cx="197.1" cy="499.6" r="1.15" fill="#e38510"/>
<circle cx="195.9" cy="502.4" r="1.15" fill="#e38510"/>
<circle cx="195.9" cy="505.4" r="1.15" fill="#e38510"/>
<circle cx="197.0" cy="507.5" r="1.15" fill="#e38510"/>
<circle cx="196.6" cy="510.7" r="1.15" fill="#e38510"/>
<line x1="203.8" y1="497.7" x2="203.8" y2="524.6" stroke="#c9c9c9" stroke-width="0.75"/>
<path d="M204.1,497.7 L204.1,498.8 L204.1,499.9 L204.1,501.1 L204.1,502.2 L204.4,503.3 L205.1,504.4 L205.7,505.0 L205.8,505.6 L205.9,506.7 L205.9,507.8 L206.0,508.9 L206.0,510.0 L206.0,511.1 L206.0,512.3 L206.0,513.4 L206.0,514.5 L205.9,515.6 L205.9,516.8 L205.8,517.9 L205.7,518.0 L204.7,519.0 L204.2,520.1 L204.1,521.2 L204.1,522.4 L204.1,523.5 L204.1,524.6 L203.6,524.6 L203.6,523.5 L203.6,522.4 L203.6,521.2 L203.4,520.1 L202.9,519.0 L201.9,518.0 L201.8,517.9 L201.7,516.8 L201.7,515.6 L201.6,514.5 L201.6,513.4 L201.6,512.3 L201.6,511.1 L201.6,510.0 L201.6,508.9 L201.7,507.8 L201.7,506.7 L201.8,505.6 L201.9,505.0 L202.5,504.4 L203.2,503.3 L203.5,502.2 L203.6,501.1 L203.6,499.9 L203.6,498.8 L203.6,497.7 Z" fill="#c9c9c9" fill-opacity="0.6" stroke="#c9c9c9" stroke-width="0.6"/>
<path d="M202.8,498.5 L204.8,498.5 L203.8,496.7 Z" fill="#b0b0b0"/>
<path d="M202.8,525.4 L204.8,525.4 L203.8,523.6 Z" fill="#b0b0b0"/>
<path d="M203.7,507.3 L205.7,507.3 L204.7,505.5 Z" fill="#b0b0b0"/>
<path d="M203.5,509.7 L205.5,509.7 L204.5,507.9 Z" fill="#b0b0b0"/>
<path d="M203.5,512.5 L205.5,512.5 L204.5,510.7 Z" fill="#b0b0b0"/>
<path d="M203.2,514.8 L205.2,514.8 L204.2,513.0 Z" fill="#b0b0b0"/>
<path d="M202.4,517.6 L204.4,517.6 L203.4,515.8 Z" fill="#b0b0b0"/>
<line x1="216.2" y1="472.7" x2="216.2" y2="528.5" stroke="#1b4587" stroke-width="0.75"/>
<path d="M216.4,472.7 L216.4,475.0 L216.4,477.4 L216.4,479.7 L217.1,482.0 L218.1,483.0 L218.2,484.3 L218.3,486.6 L218.3,489.0 L218.4,491.3 L218.4,493.6 L218.4,495.9 L218.4,498.3 L218.4,500.6 L218.4,502.9 L218.4,505.2 L218.3,507.6 L218.3,509.9 L218.2,512.2 L218.1,514.0 L217.5,514.5 L216.4,516.9 L216.4,519.2 L216.4,521.5 L216.4,523.9 L216.4,526.2 L216.4,528.5 L215.9,528.5 L215.9,526.2 L215.9,523.9 L215.9,521.5 L215.9,519.2 L215.9,516.9 L214.9,514.5 L214.3,514.0 L214.2,512.2 L214.1,509.9 L214.1,507.6 L214.0,505.2 L214.0,502.9 L214.0,500.6 L214.0,498.3 L214.0,495.9 L214.0,493.6 L214.0,491.3 L214.1,489.0 L214.1,486.6 L214.2,484.3 L214.3,483.0 L215.3,482.0 L215.9,479.7 L215.9,477.4 L215.9,475.0 L215.9,472.7 Z" fill="#1b4587" fill-opacity="0.5" stroke="#1b4587" stroke-width="0.6"/>
<circle cx="216.2" cy="472.7" r="1.15" fill="#143668"/>
<circle cx="216.2" cy="528.5" r="1.15" fill="#143668"/>
<circle cx="216.4" cy="484.4" r="1.15" fill="#143668"/>
<circle cx="217.0" cy="487.7" r="1.15" fill="#143668"/>
<circle cx="215.3" cy="491.3" r="1.15" fill="#143668"/>
<circle cx="217.0" cy="494.7" r="1.15" fill="#143668"/>
<circle cx="215.5" cy="498.3" r="1.15" fill="#143668"/>
<circle cx="215.3" cy="501.5" r="1.15" fill="#143668"/>
<circle cx="216.5" cy="505.6" r="1.15" fill="#143668"/>
<circle cx="216.7" cy="509.0" r="1.15" fill="#143668"/>
<circle cx="216.4" cy="511.8" r="1.15" fill="#143668"/>
<line x1="222.5" y1="472.7" x2="222.5" y2="533.8" stroke="#35a83a" stroke-width="0.75"/>
<path d="M222.9,472.7 L224.4,475.0 L224.4,475.2 L224.5,477.8 L224.6,480.3 L224.6,482.9 L224.6,485.4 L224.7,488.0 L224.7,490.5 L224.7,493.1 L224.7,495.6 L224.7,498.2 L224.7,500.7 L224.7,503.2 L224.7,505.8 L224.7,508.3 L224.7,510.9 L224.7,513.4 L224.7,516.0 L224.6,518.5 L224.6,521.1 L224.6,523.6 L224.6,526.2 L224.5,528.7 L224.4,530.0 L223.3,531.2 L222.8,533.8 L222.2,533.8 L221.7,531.2 L220.6,530.0 L220.5,528.7 L220.4,526.2 L220.4,523.6 L220.4,521.1 L220.4,518.5 L220.3,516.0 L220.3,513.4 L220.3,510.9 L220.3,508.3 L220.3,505.8 L220.3,503.2 L220.3,500.7 L220.3,498.2 L220.3,495.6 L220.3,493.1 L220.3,490.5 L220.3,488.0 L220.4,485.4 L220.4,482.9 L220.4,480.3 L220.5,477.8 L220.6,475.2 L220.6,475.0 L222.1,472.7 Z" fill="#35a83a" fill-opacity="0.5" stroke="#35a83a" stroke-width="0.6"/>
<circle cx="222.5" cy="472.7" r="1.15" fill="#2a8a2e"/>
<circle cx="222.5" cy="533.8" r="1.15" fill="#2a8a2e"/>
<circle cx="223.1" cy="477.9" r="1.15" fill="#2a8a2e"/>
<circle cx="223.3" cy="484.5" r="1.15" fill="#2a8a2e"/>
<circle cx="223.2" cy="489.8" r="1.15" fill="#2a8a2e"/>
<circle cx="223.4" cy="496.8" r="1.15" fill="#2a8a2e"/>
<circle cx="221.9" cy="502.1" r="1.15" fill="#2a8a2e"/>
<circle cx="221.6" cy="508.2" r="1.15" fill="#2a8a2e"/>
<circle cx="223.1" cy="515.1" r="1.15" fill="#2a8a2e"/>
<circle cx="223.1" cy="521.0" r="1.15" fill="#2a8a2e"/>
<circle cx="222.1" cy="527.1" r="1.15" fill="#2a8a2e"/>
<line x1="230.2" y1="509.6" x2="230.2" y2="523.7" stroke="#e6007e" stroke-width="0.75"/>
<path d="M230.5,509.6 L230.7,510.2 L231.0,510.8 L231.4,511.4 L232.0,511.9 L232.1,512.0 L232.2,512.5 L232.3,513.1 L232.3,513.7 L232.4,514.3 L232.4,514.9 L232.4,515.5 L232.4,516.1 L232.4,516.6 L232.4,517.2 L232.4,517.8 L232.4,518.4 L232.4,519.0 L232.4,519.6 L232.3,520.2 L232.3,520.8 L232.3,521.4 L232.2,521.9 L232.1,522.0 L231.5,522.5 L231.1,523.1 L230.8,523.7 L229.6,523.7 L229.3,523.1 L228.9,522.5 L228.3,522.0 L228.2,521.9 L228.1,521.4 L228.1,520.8 L228.1,520.2 L228.0,519.6 L228.0,519.0 L228.0,518.4 L228.0,517.8 L228.0,517.2 L228.0,516.6 L228.0,516.1 L228.0,515.5 L228.0,514.9 L228.0,514.3 L228.1,513.7 L228.1,513.1 L228.2,512.5 L228.3,512.0 L228.4,511.9 L229.0,511.4 L229.4,510.8 L229.7,510.2 L229.9,509.6 Z" fill="#e6007e" fill-opacity="0.85" stroke="#e6007e" stroke-width="0.6"/>
<circle cx="230.2" cy="509.6" r="1.15" fill="#c4006a"/>
<circle cx="230.2" cy="523.7" r="1.15" fill="#c4006a"/>
<circle cx="229.4" cy="512.8" r="1.15" fill="#c4006a"/>
<circle cx="229.6" cy="516.0" r="1.15" fill="#c4006a"/>
<circle cx="230.0" cy="518.1" r="1.15" fill="#c4006a"/>
<circle cx="229.7" cy="520.3" r="1.15" fill="#c4006a"/>
<line x1="237.3" y1="514" x2="237.3" y2="526.9" stroke="#4a1550" stroke-width="0.75"/>
<path d="M237.6,514.0 L237.6,514.5 L237.6,515.1 L237.6,515.6 L237.8,516.1 L238.0,516.7 L238.4,517.2 L238.9,517.8 L239.2,518.0 L239.3,518.3 L239.4,518.8 L239.4,519.4 L239.5,519.9 L239.5,520.5 L239.5,521.0 L239.5,521.5 L239.5,522.1 L239.5,522.6 L239.5,523.1 L239.4,523.7 L239.4,524.2 L239.3,524.8 L239.2,525.0 L238.8,525.3 L238.4,525.8 L238.0,526.4 L237.8,526.9 L236.8,526.9 L236.6,526.4 L236.2,525.8 L235.8,525.3 L235.4,525.0 L235.3,524.8 L235.2,524.2 L235.2,523.7 L235.1,523.1 L235.1,522.6 L235.1,522.1 L235.1,521.5 L235.1,521.0 L235.1,520.5 L235.1,519.9 L235.2,519.4 L235.2,518.8 L235.3,518.3 L235.4,518.0 L235.7,517.8 L236.2,517.2 L236.6,516.7 L236.8,516.1 L237.0,515.6 L237.1,515.1 L237.1,514.5 L237.1,514.0 Z" fill="#4a1550" fill-opacity="0.85" stroke="#4a1550" stroke-width="0.6"/>
<circle cx="237.3" cy="514.0" r="1.15" fill="#380e3c"/>
<circle cx="237.3" cy="526.9" r="1.15" fill="#380e3c"/>
<circle cx="237.7" cy="518.7" r="1.15" fill="#380e3c"/>
<circle cx="236.9" cy="520.5" r="1.15" fill="#380e3c"/>
<circle cx="237.3" cy="522.8" r="1.15" fill="#380e3c"/>
<circle cx="237.5" cy="524.5" r="1.15" fill="#380e3c"/>
<line x1="244.6" y1="482.7" x2="244.6" y2="517.3" stroke="#f7941d" stroke-width="0.75"/>
<path d="M245.0,482.7 L245.6,484.1 L246.5,485.0 L246.6,485.6 L246.7,487.0 L246.7,488.5 L246.7,489.9 L246.7,491.4 L246.8,492.8 L246.8,494.2 L246.8,495.7 L246.8,497.1 L246.8,498.6 L246.8,500.0 L246.8,501.4 L246.8,502.9 L246.8,504.3 L246.8,505.8 L246.8,507.2 L246.7,508.6 L246.7,510.1 L246.7,511.5 L246.7,513.0 L246.6,514.4 L246.5,515.0 L245.6,515.9 L245.0,517.3 L244.2,517.3 L243.6,515.9 L242.7,515.0 L242.6,514.4 L242.5,513.0 L242.5,511.5 L242.5,510.1 L242.5,508.6 L242.4,507.2 L242.4,505.8 L242.4,504.3 L242.4,502.9 L242.4,501.4 L242.4,500.0 L242.4,498.6 L242.4,497.1 L242.4,495.7 L242.4,494.2 L242.4,492.8 L242.5,491.4 L242.5,489.9 L242.5,488.5 L242.5,487.0 L242.6,485.6 L242.7,485.0 L243.6,484.1 L244.2,482.7 Z" fill="#f7941d" fill-opacity="0.5" stroke="#f7941d" stroke-width="0.6"/>
<circle cx="244.6" cy="482.7" r="1.15" fill="#e38510"/>
<circle cx="244.6" cy="517.3" r="1.15" fill="#e38510"/>
<circle cx="244.4" cy="486.2" r="1.15" fill="#e38510"/>
<circle cx="245.1" cy="489.9" r="1.15" fill="#e38510"/>
<circle cx="245.0" cy="493.2" r="1.15" fill="#e38510"/>
<circle cx="244.0" cy="496.7" r="1.15" fill="#e38510"/>
<circle cx="243.8" cy="500.4" r="1.15" fill="#e38510"/>
<circle cx="243.9" cy="503.7" r="1.15" fill="#e38510"/>
<circle cx="244.0" cy="506.2" r="1.15" fill="#e38510"/>
<circle cx="245.5" cy="510.3" r="1.15" fill="#e38510"/>
<circle cx="244.6" cy="512.8" r="1.15" fill="#e38510"/>
<line x1="251.9" y1="484.2" x2="251.9" y2="532.7" stroke="#c9c9c9" stroke-width="0.75"/>
<path d="M252.2,484.2 L252.2,486.2 L252.2,488.2 L252.2,490.3 L252.2,492.3 L252.2,494.3 L252.2,496.3 L252.2,498.4 L252.2,500.4 L252.2,502.4 L252.5,504.4 L253.8,506.0 L253.9,506.4 L254.0,508.4 L254.0,510.5 L254.1,512.5 L254.1,514.5 L254.1,516.5 L254.1,518.5 L254.1,520.6 L254.1,522.6 L254.0,524.6 L254.0,526.6 L253.8,528.0 L253.1,528.7 L252.2,530.7 L252.2,532.7 L251.7,532.7 L251.6,530.7 L250.7,528.7 L250.0,528.0 L249.8,526.6 L249.8,524.6 L249.7,522.6 L249.7,520.6 L249.7,518.5 L249.7,516.5 L249.7,514.5 L249.7,512.5 L249.8,510.5 L249.8,508.4 L249.9,506.4 L250.0,506.0 L251.3,504.4 L251.7,502.4 L251.7,500.4 L251.7,498.4 L251.7,496.3 L251.7,494.3 L251.7,492.3 L251.7,490.3 L251.7,488.2 L251.7,486.2 L251.7,484.2 Z" fill="#c9c9c9" fill-opacity="0.5999999999999999" stroke="#c9c9c9" stroke-width="0.6"/>
<path d="M250.9,485.0 L252.9,485.0 L251.9,483.2 Z" fill="#b0b0b0"/>
<path d="M250.9,533.5 L252.9,533.5 L251.9,531.7 Z" fill="#b0b0b0"/>
<path d="M251.5,508.0 L253.5,508.0 L252.5,506.2 Z" fill="#b0b0b0"/>
<path d="M250.9,510.2 L252.9,510.2 L251.9,508.4 Z" fill="#b0b0b0"/>
<path d="M251.6,512.8 L253.6,512.8 L252.6,511.0 Z" fill="#b0b0b0"/>
<path d="M251.8,515.1 L253.8,515.1 L252.8,513.3 Z" fill="#b0b0b0"/>
<path d="M250.3,517.6 L252.3,517.6 L251.3,515.8 Z" fill="#b0b0b0"/>
<path d="M250.9,520.4 L252.9,520.4 L251.9,518.6 Z" fill="#b0b0b0"/>
<path d="M251.2,522.3 L253.2,522.3 L252.2,520.5 Z" fill="#b0b0b0"/>
<path d="M251.5,524.7 L253.5,524.7 L252.5,522.9 Z" fill="#b0b0b0"/>
<path d="M251.5,527.8 L253.5,527.8 L252.5,526.0 Z" fill="#b0b0b0"/>
<line x1="167.29999999999998" y1="470.4" x2="175.8" y2="470.4" stroke="#2b2b2b" stroke-width="1.3"/>
<text transform="translate(171.55 468.46) scale(0.995 1)" font-size="5.9" text-anchor="middle" font-weight="normal" fill="#2b2b2b" stroke="#2b2b2b" stroke-width="0.18">ns</text>
<line x1="181.29999999999998" y1="511.2" x2="190.0" y2="511.2" stroke="#2b2b2b" stroke-width="1.3"/>
<text transform="translate(185.65 509.26) scale(0.995 1)" font-size="5.9" text-anchor="middle" font-weight="normal" fill="#2b2b2b" stroke="#2b2b2b" stroke-width="0.18">ns</text>
<line x1="195.39999999999998" y1="494.2" x2="204.60000000000002" y2="494.2" stroke="#2b2b2b" stroke-width="1.3"/>
<text transform="translate(200.00 492.26) scale(0.995 1)" font-size="5.9" text-anchor="middle" font-weight="normal" fill="#2b2b2b" stroke="#2b2b2b" stroke-width="0.18">ns</text>
<line x1="215.39999999999998" y1="470.4" x2="223.3" y2="470.4" stroke="#2b2b2b" stroke-width="1.3"/>
<text transform="translate(219.35 468.46) scale(0.995 1)" font-size="5.9" text-anchor="middle" font-weight="normal" fill="#2b2b2b" stroke="#2b2b2b" stroke-width="0.18">ns</text>
<line x1="229.39999999999998" y1="506.9" x2="238.10000000000002" y2="506.9" stroke="#2b2b2b" stroke-width="1.3"/>
<text transform="translate(233.75 504.96) scale(0.995 1)" font-size="5.9" text-anchor="middle" font-weight="normal" fill="#2b2b2b" stroke="#2b2b2b" stroke-width="0.18">ns</text>
<line x1="243.79999999999998" y1="479.4" x2="252.70000000000002" y2="479.4" stroke="#2b2b2b" stroke-width="1.3"/>
<path d="M248.25,474.95 L248.25,476.85 M247.43,475.42 L249.07,476.38 M249.07,475.42 L247.43,476.38 " stroke="#2b2b2b" stroke-width="0.75" stroke-linecap="round"/>
<text transform="translate(391.20 444.18) scale(1.019 1)" font-size="8.8" text-anchor="middle" font-weight="normal" fill="#2b2b2b" stroke="#2b2b2b" stroke-width="0.1">PD1<tspan font-size="5.46" dy="-3.52">+</tspan></text>
<text transform="translate(342.50 459.19)" font-size="7.7" text-anchor="middle" font-weight="normal" fill="#2b2b2b" stroke="#2b2b2b" stroke-width="0.1">CD4<tspan font-size="4.77" dy="-3.08">+</tspan><tspan dy="3.08"> CAR-T cells</tspan></text>
<text transform="translate(474.50 458.89)" font-size="7.7" text-anchor="middle" font-weight="normal" fill="#2b2b2b" stroke="#2b2b2b" stroke-width="0.1">CD8<tspan font-size="4.77" dy="-3.08">+</tspan><tspan dy="3.08"> CAR-T cells</tspan></text>
<line x1="292.5" y1="471.7" x2="292.5" y2="539.3" stroke="#2b2b2b" stroke-width="1.25"/>
<line x1="291.9" y1="539.3" x2="387.2" y2="539.3" stroke="#2b2b2b" stroke-width="1.3"/>
<line x1="289.3" y1="539.4" x2="292.5" y2="539.4" stroke="#2b2b2b" stroke-width="1.0"/>
<text transform="translate(287.30 541.57)" font-size="6.2" text-anchor="end" font-weight="normal" fill="#2b2b2b" stroke="#2b2b2b" stroke-width="0.1">0</text>
<line x1="289.3" y1="526.36" x2="292.5" y2="526.36" stroke="#2b2b2b" stroke-width="1.0"/>
<text transform="translate(287.30 528.53)" font-size="6.2" text-anchor="end" font-weight="normal" fill="#2b2b2b" stroke="#2b2b2b" stroke-width="0.1">20</text>
<line x1="289.3" y1="513.3199999999999" x2="292.5" y2="513.3199999999999" stroke="#2b2b2b" stroke-width="1.0"/>
<text transform="translate(287.30 515.49)" font-size="6.2" text-anchor="end" font-weight="normal" fill="#2b2b2b" stroke="#2b2b2b" stroke-width="0.1">40</text>
<line x1="289.3" y1="500.28" x2="292.5" y2="500.28" stroke="#2b2b2b" stroke-width="1.0"/>
<text transform="translate(287.30 502.45)" font-size="6.2" text-anchor="end" font-weight="normal" fill="#2b2b2b" stroke="#2b2b2b" stroke-width="0.1">60</text>
<line x1="289.3" y1="487.24" x2="292.5" y2="487.24" stroke="#2b2b2b" stroke-width="1.0"/>
<text transform="translate(287.30 489.41)" font-size="6.2" text-anchor="end" font-weight="normal" fill="#2b2b2b" stroke="#2b2b2b" stroke-width="0.1">80</text>
<line x1="289.3" y1="474.2" x2="292.5" y2="474.2" stroke="#2b2b2b" stroke-width="1.0"/>
<text transform="translate(287.30 476.37)" font-size="6.2" text-anchor="end" font-weight="normal" fill="#2b2b2b" stroke="#2b2b2b" stroke-width="0.1">100</text>
<line x1="315" y1="539.3" x2="315" y2="541.6999999999999" stroke="#2b2b2b" stroke-width="1.0"/>
<text transform="translate(315.00 551.14)" font-size="6.4" text-anchor="middle" font-weight="normal" fill="#2b2b2b" stroke="#2b2b2b" stroke-width="0.14">BM</text>
<line x1="365" y1="539.3" x2="365" y2="541.6999999999999" stroke="#2b2b2b" stroke-width="1.0"/>
<text transform="translate(365.00 551.14)" font-size="6.4" text-anchor="middle" font-weight="normal" fill="#2b2b2b" stroke="#2b2b2b" stroke-width="0.14">Spleen</text>
<text transform="translate(270.75 506.75) rotate(-90) scale(0.942 1)" font-size="5.3" text-anchor="middle" font-weight="normal" fill="#2b2b2b" stroke="#2b2b2b" stroke-width="0.12">% PD1<tspan font-size="3.29" dy="-2.12">+</tspan><tspan dy="2.12"> of CD4</tspan><tspan font-size="3.29" dy="-2.12">+</tspan><tspan dy="2.12"> CAR-T cells</tspan></text>
<line x1="299.2" y1="472.7" x2="299.2" y2="506.3" stroke="#1b4587" stroke-width="0.75"/>
<path d="M299.4,472.7 L299.4,474.1 L299.7,475.5 L300.4,476.9 L301.1,477.5 L301.2,478.3 L301.3,479.7 L301.3,481.1 L301.4,482.5 L301.4,483.9 L301.4,485.3 L301.4,486.7 L301.4,488.1 L301.4,489.5 L301.4,490.9 L301.3,492.3 L301.3,493.7 L301.2,495.1 L301.1,495.8 L300.3,496.5 L299.6,497.9 L299.4,499.3 L299.4,500.7 L299.4,502.1 L299.4,503.5 L299.4,504.9 L299.4,506.3 L298.9,506.3 L298.9,504.9 L298.9,503.5 L298.9,502.1 L298.9,500.7 L298.9,499.3 L298.8,497.9 L298.1,496.5 L297.3,495.8 L297.2,495.1 L297.1,493.7 L297.1,492.3 L297.0,490.9 L297.0,489.5 L297.0,488.1 L297.0,486.7 L297.0,485.3 L297.0,483.9 L297.0,482.5 L297.1,481.1 L297.1,479.7 L297.2,478.3 L297.3,477.5 L298.0,476.9 L298.7,475.5 L298.9,474.1 L298.9,472.7 Z" fill="#1b4587" fill-opacity="0.6924999999999997" stroke="#1b4587" stroke-width="0.6"/>
<circle cx="299.2" cy="472.7" r="1.15" fill="#143668"/>
<circle cx="299.2" cy="506.3" r="1.15" fill="#143668"/>
<circle cx="298.9" cy="478.9" r="1.15" fill="#143668"/>
<circle cx="299.0" cy="481.3" r="1.15" fill="#143668"/>
<circle cx="298.4" cy="484.4" r="1.15" fill="#143668"/>
<circle cx="298.3" cy="487.0" r="1.15" fill="#143668"/>
<circle cx="298.7" cy="489.0" r="1.15" fill="#143668"/>
<circle cx="299.2" cy="492.3" r="1.15" fill="#143668"/>
<circle cx="300.0" cy="494.4" r="1.15" fill="#143668"/>
<line x1="306.9" y1="486.2" x2="306.9" y2="515" stroke="#35a83a" stroke-width="0.75"/>
<path d="M307.4,486.2 L308.1,487.4 L308.8,488.0 L308.9,488.6 L309.0,489.8 L309.0,491.0 L309.0,492.2 L309.1,493.4 L309.1,494.6 L309.1,495.8 L309.1,497.0 L309.1,498.2 L309.1,499.4 L309.1,500.6 L309.1,501.8 L309.1,503.0 L309.1,504.2 L309.0,505.4 L309.0,506.6 L309.0,507.8 L308.9,509.0 L308.8,510.0 L308.5,510.2 L307.6,511.4 L307.2,512.6 L307.1,513.8 L307.1,515.0 L306.6,515.0 L306.6,513.8 L306.6,512.6 L306.2,511.4 L305.3,510.2 L305.0,510.0 L304.9,509.0 L304.8,507.8 L304.8,506.6 L304.8,505.4 L304.7,504.2 L304.7,503.0 L304.7,501.8 L304.7,500.6 L304.7,499.4 L304.7,498.2 L304.7,497.0 L304.7,495.8 L304.7,494.6 L304.7,493.4 L304.8,492.2 L304.8,491.0 L304.8,489.8 L304.9,488.6 L305.0,488.0 L305.7,487.4 L306.4,486.2 Z" fill="#35a83a" fill-opacity="0.5999999999999999" stroke="#35a83a" stroke-width="0.6"/>
<circle cx="306.9" cy="486.2" r="1.15" fill="#2a8a2e"/>
<circle cx="306.9" cy="515.0" r="1.15" fill="#2a8a2e"/>
<circle cx="306.8" cy="489.0" r="1.15" fill="#2a8a2e"/>
<circle cx="307.4" cy="491.7" r="1.15" fill="#2a8a2e"/>
<circle cx="307.2" cy="494.4" r="1.15" fill="#2a8a2e"/>
<circle cx="306.6" cy="496.4" r="1.15" fill="#2a8a2e"/>
<circle cx="307.6" cy="498.7" r="1.15" fill="#2a8a2e"/>
<circle cx="307.4" cy="501.6" r="1.15" fill="#2a8a2e"/>
<circle cx="306.8" cy="503.6" r="1.15" fill="#2a8a2e"/>
<circle cx="307.1" cy="506.6" r="1.15" fill="#2a8a2e"/>
<circle cx="306.8" cy="508.4" r="1.15" fill="#2a8a2e"/>
<line x1="314" y1="496.2" x2="314" y2="526.2" stroke="#e6007e" stroke-width="0.75"/>
<path d="M314.2,496.2 L314.3,497.4 L314.7,498.7 L315.8,499.9 L315.9,500.0 L316.0,501.2 L316.1,502.4 L316.1,503.7 L316.2,504.9 L316.2,506.2 L316.2,507.4 L316.2,508.7 L316.2,509.9 L316.2,511.2 L316.2,512.5 L316.2,513.7 L316.2,515.0 L316.1,516.2 L316.1,517.5 L316.1,518.7 L315.9,520.0 L315.9,520.0 L314.8,521.2 L314.3,522.5 L314.2,523.7 L314.2,525.0 L314.2,526.2 L313.8,526.2 L313.8,525.0 L313.8,523.7 L313.7,522.5 L313.2,521.2 L312.1,520.0 L312.1,520.0 L311.9,518.7 L311.9,517.5 L311.9,516.2 L311.8,515.0 L311.8,513.7 L311.8,512.5 L311.8,511.2 L311.8,509.9 L311.8,508.7 L311.8,507.4 L311.8,506.2 L311.8,504.9 L311.9,503.7 L311.9,502.4 L312.0,501.2 L312.1,500.0 L312.2,499.9 L313.3,498.7 L313.7,497.4 L313.8,496.2 Z" fill="#e6007e" fill-opacity="0.6499999999999999" stroke="#e6007e" stroke-width="0.6"/>
<circle cx="314.0" cy="496.2" r="1.15" fill="#c4006a"/>
<circle cx="314.0" cy="526.2" r="1.15" fill="#c4006a"/>
<circle cx="313.5" cy="501.6" r="1.15" fill="#c4006a"/>
<circle cx="313.6" cy="503.4" r="1.15" fill="#c4006a"/>
<circle cx="314.7" cy="506.5" r="1.15" fill="#c4006a"/>
<circle cx="313.3" cy="508.4" r="1.15" fill="#c4006a"/>
<circle cx="313.7" cy="511.0" r="1.15" fill="#c4006a"/>
<circle cx="313.3" cy="513.8" r="1.15" fill="#c4006a"/>
<circle cx="313.4" cy="516.1" r="1.15" fill="#c4006a"/>
<circle cx="314.5" cy="519.2" r="1.15" fill="#c4006a"/>
<line x1="320.8" y1="502.5" x2="320.8" y2="525" stroke="#4a1550" stroke-width="0.75"/>
<path d="M321.1,502.5 L321.1,503.4 L321.1,504.4 L321.1,505.3 L321.1,506.2 L321.1,507.2 L321.3,508.1 L321.8,509.1 L322.7,510.0 L322.9,510.9 L322.9,511.9 L323.0,512.8 L323.0,513.8 L323.0,514.7 L323.0,515.6 L323.0,516.6 L323.0,517.5 L322.9,518.4 L322.9,519.4 L322.7,520.0 L322.3,520.3 L321.6,521.2 L321.2,522.2 L321.1,523.1 L321.1,524.1 L321.1,525.0 L320.6,525.0 L320.6,524.1 L320.6,523.1 L320.4,522.2 L320.0,521.2 L319.3,520.3 L318.9,520.0 L318.7,519.4 L318.7,518.4 L318.6,517.5 L318.6,516.6 L318.6,515.6 L318.6,514.7 L318.6,513.8 L318.6,512.8 L318.7,511.9 L318.7,510.9 L318.9,510.0 L319.8,509.1 L320.3,508.1 L320.5,507.2 L320.6,506.2 L320.6,505.3 L320.6,504.4 L320.6,503.4 L320.6,502.5 Z" fill="#4a1550" fill-opacity="0.85" stroke="#4a1550" stroke-width="0.6"/>
<circle cx="320.8" cy="502.5" r="1.15" fill="#380e3c"/>
<circle cx="320.8" cy="525.0" r="1.15" fill="#380e3c"/>
<circle cx="321.7" cy="510.9" r="1.15" fill="#380e3c"/>
<circle cx="320.6" cy="513.4" r="1.15" fill="#380e3c"/>
<circle cx="321.4" cy="516.7" r="1.15" fill="#380e3c"/>
<circle cx="320.7" cy="519.0" r="1.15" fill="#380e3c"/>
<line x1="328.1" y1="506.3" x2="328.1" y2="535.2" stroke="#f7941d" stroke-width="0.75"/>
<path d="M328.4,506.3 L328.4,507.5 L328.4,508.7 L328.4,509.9 L328.4,511.1 L328.4,512.3 L328.4,513.5 L328.4,514.7 L328.4,515.9 L328.4,517.1 L328.7,518.3 L329.5,519.5 L330.0,520.0 L330.1,520.8 L330.2,522.0 L330.2,523.2 L330.3,524.4 L330.3,525.6 L330.3,526.8 L330.3,528.0 L330.3,529.2 L330.3,530.4 L330.3,531.6 L330.2,532.8 L330.2,534.0 L330.0,535.0 L329.7,535.2 L326.5,535.2 L326.2,535.0 L326.0,534.0 L326.0,532.8 L325.9,531.6 L325.9,530.4 L325.9,529.2 L325.9,528.0 L325.9,526.8 L325.9,525.6 L325.9,524.4 L326.0,523.2 L326.0,522.0 L326.1,520.8 L326.2,520.0 L326.7,519.5 L327.5,518.3 L327.9,517.1 L327.9,515.9 L327.9,514.7 L327.9,513.5 L327.9,512.3 L327.9,511.1 L327.9,509.9 L327.9,508.7 L327.9,507.5 L327.9,506.3 Z" fill="#f7941d" fill-opacity="0.7749999999999999" stroke="#f7941d" stroke-width="0.6"/>
<circle cx="328.1" cy="506.3" r="1.15" fill="#e38510"/>
<circle cx="328.1" cy="535.2" r="1.15" fill="#e38510"/>
<circle cx="328.4" cy="520.9" r="1.15" fill="#e38510"/>
<circle cx="327.5" cy="523.4" r="1.15" fill="#e38510"/>
<circle cx="327.2" cy="526.1" r="1.15" fill="#e38510"/>
<circle cx="328.7" cy="528.6" r="1.15" fill="#e38510"/>
<circle cx="328.1" cy="531.4" r="1.15" fill="#e38510"/>
<circle cx="328.0" cy="533.9" r="1.15" fill="#e38510"/>
<line x1="335.2" y1="525.6" x2="335.2" y2="536.2" stroke="#c9c9c9" stroke-width="0.75"/>
<path d="M335.9,525.6 L336.2,526.0 L336.5,526.5 L337.0,526.9 L337.1,527.0 L337.2,527.4 L337.3,527.8 L337.3,528.2 L337.3,528.7 L337.4,529.1 L337.4,529.6 L337.4,530.0 L337.4,530.5 L337.4,530.9 L337.4,531.3 L337.4,531.8 L337.4,532.2 L337.4,532.7 L337.4,533.1 L337.3,533.5 L337.3,534.0 L337.3,534.4 L337.2,534.9 L337.1,535.0 L336.7,535.3 L336.3,535.8 L336.0,536.2 L334.4,536.2 L334.1,535.8 L333.7,535.3 L333.3,535.0 L333.2,534.9 L333.1,534.4 L333.1,534.0 L333.1,533.5 L333.0,533.1 L333.0,532.7 L333.0,532.2 L333.0,531.8 L333.0,531.3 L333.0,530.9 L333.0,530.5 L333.0,530.0 L333.0,529.6 L333.0,529.1 L333.1,528.7 L333.1,528.2 L333.1,527.8 L333.2,527.4 L333.3,527.0 L333.4,526.9 L333.9,526.5 L334.2,526.0 L334.5,525.6 Z" fill="#c9c9c9" fill-opacity="0.6" stroke="#c9c9c9" stroke-width="0.6"/>
<path d="M334.2,526.4 L336.2,526.4 L335.2,524.6 Z" fill="#b0b0b0"/>
<path d="M334.2,537.0 L336.2,537.0 L335.2,535.2 Z" fill="#b0b0b0"/>
<path d="M334.4,528.4 L336.4,528.4 L335.4,526.6 Z" fill="#b0b0b0"/>
<path d="M334.7,530.7 L336.7,530.7 L335.7,528.9 Z" fill="#b0b0b0"/>
<path d="M334.1,533.2 L336.1,533.2 L335.1,531.4 Z" fill="#b0b0b0"/>
<path d="M334.7,534.9 L336.7,534.9 L335.7,533.1 Z" fill="#b0b0b0"/>
<line x1="346.7" y1="493.5" x2="346.7" y2="519.8" stroke="#1b4587" stroke-width="0.75"/>
<path d="M347.3,493.5 L348.1,494.6 L348.6,495.0 L348.7,495.7 L348.8,496.8 L348.8,497.9 L348.8,499.0 L348.8,500.1 L348.9,501.2 L348.9,502.3 L348.9,503.4 L348.9,504.5 L348.9,505.6 L348.9,506.6 L348.9,507.8 L348.9,508.8 L348.9,509.9 L348.9,511.0 L348.9,512.1 L348.9,513.2 L348.8,514.3 L348.8,515.4 L348.8,516.5 L348.7,517.6 L348.7,518.7 L348.6,519.0 L347.8,519.8 L345.6,519.8 L344.8,519.0 L344.7,518.7 L344.7,517.6 L344.6,516.5 L344.6,515.4 L344.6,514.3 L344.5,513.2 L344.5,512.1 L344.5,511.0 L344.5,509.9 L344.5,508.8 L344.5,507.8 L344.5,506.6 L344.5,505.6 L344.5,504.5 L344.5,503.4 L344.5,502.3 L344.5,501.2 L344.6,500.1 L344.6,499.0 L344.6,497.9 L344.6,496.8 L344.7,495.7 L344.8,495.0 L345.3,494.6 L346.1,493.5 Z" fill="#1b4587" fill-opacity="0.5499999999999999" stroke="#1b4587" stroke-width="0.6"/>
<circle cx="346.7" cy="493.5" r="1.15" fill="#143668"/>
<circle cx="346.7" cy="519.8" r="1.15" fill="#143668"/>
<circle cx="346.2" cy="496.3" r="1.15" fill="#143668"/>
<circle cx="347.5" cy="499.2" r="1.15" fill="#143668"/>
<circle cx="347.1" cy="501.9" r="1.15" fill="#143668"/>
<circle cx="347.1" cy="504.7" r="1.15" fill="#143668"/>
<circle cx="346.6" cy="507.1" r="1.15" fill="#143668"/>
<circle cx="347.0" cy="509.5" r="1.15" fill="#143668"/>
<circle cx="346.5" cy="511.9" r="1.15" fill="#143668"/>
<circle cx="347.1" cy="515.3" r="1.15" fill="#143668"/>
<circle cx="346.2" cy="517.8" r="1.15" fill="#143668"/>
<line x1="354.4" y1="479.4" x2="354.4" y2="518.8" stroke="#35a83a" stroke-width="0.75"/>
<path d="M354.6,479.4 L354.6,481.0 L354.6,482.7 L354.6,484.3 L354.6,486.0 L354.7,487.6 L355.5,489.2 L356.3,490.0 L356.4,490.9 L356.5,492.5 L356.5,494.2 L356.6,495.8 L356.6,497.5 L356.6,499.1 L356.6,500.7 L356.6,502.4 L356.6,504.0 L356.6,505.7 L356.6,507.3 L356.6,508.9 L356.5,510.6 L356.5,512.2 L356.4,513.9 L356.3,515.0 L355.7,515.5 L354.8,517.2 L354.6,518.8 L354.1,518.8 L354.0,517.2 L353.1,515.5 L352.5,515.0 L352.4,513.9 L352.3,512.2 L352.3,510.6 L352.2,508.9 L352.2,507.3 L352.2,505.7 L352.2,504.0 L352.2,502.4 L352.2,500.7 L352.2,499.1 L352.2,497.5 L352.2,495.8 L352.3,494.2 L352.3,492.5 L352.4,490.9 L352.5,490.0 L353.3,489.2 L354.1,487.6 L354.1,486.0 L354.1,484.3 L354.1,482.7 L354.1,481.0 L354.1,479.4 Z" fill="#35a83a" fill-opacity="0.5249999999999999" stroke="#35a83a" stroke-width="0.6"/>
<circle cx="354.4" cy="479.4" r="1.15" fill="#2a8a2e"/>
<circle cx="354.4" cy="518.8" r="1.15" fill="#2a8a2e"/>
<circle cx="354.3" cy="491.3" r="1.15" fill="#2a8a2e"/>
<circle cx="354.2" cy="494.3" r="1.15" fill="#2a8a2e"/>
<circle cx="355.3" cy="497.1" r="1.15" fill="#2a8a2e"/>
<circle cx="354.7" cy="499.4" r="1.15" fill="#2a8a2e"/>
<circle cx="354.2" cy="502.8" r="1.15" fill="#2a8a2e"/>
<circle cx="355.3" cy="505.3" r="1.15" fill="#2a8a2e"/>
<circle cx="354.5" cy="507.6" r="1.15" fill="#2a8a2e"/>
<circle cx="355.0" cy="510.5" r="1.15" fill="#2a8a2e"/>
<circle cx="354.4" cy="514.1" r="1.15" fill="#2a8a2e"/>
<line x1="361.5" y1="480" x2="361.5" y2="524.6" stroke="#e6007e" stroke-width="0.75"/>
<path d="M361.8,480.0 L361.8,481.9 L362.3,483.7 L363.4,485.0 L363.5,485.6 L363.6,487.4 L363.6,489.3 L363.6,491.1 L363.7,493.0 L363.7,494.9 L363.7,496.7 L363.7,498.6 L363.7,500.4 L363.7,502.3 L363.7,504.2 L363.7,506.0 L363.7,507.9 L363.7,509.7 L363.7,511.6 L363.6,513.5 L363.6,515.3 L363.6,517.2 L363.5,519.0 L363.4,520.0 L362.5,520.9 L361.8,522.7 L361.8,524.6 L361.2,524.6 L361.2,522.7 L360.5,520.9 L359.6,520.0 L359.5,519.0 L359.4,517.2 L359.4,515.3 L359.4,513.5 L359.3,511.6 L359.3,509.7 L359.3,507.9 L359.3,506.0 L359.3,504.2 L359.3,502.3 L359.3,500.4 L359.3,498.6 L359.3,496.7 L359.3,494.9 L359.3,493.0 L359.4,491.1 L359.4,489.3 L359.4,487.4 L359.5,485.6 L359.6,485.0 L360.7,483.7 L361.2,481.9 L361.2,480.0 Z" fill="#e6007e" fill-opacity="0.5" stroke="#e6007e" stroke-width="0.6"/>
<circle cx="361.5" cy="480.0" r="1.15" fill="#c4006a"/>
<circle cx="361.5" cy="524.6" r="1.15" fill="#c4006a"/>
<circle cx="361.6" cy="486.5" r="1.15" fill="#c4006a"/>
<circle cx="361.9" cy="490.9" r="1.15" fill="#c4006a"/>
<circle cx="361.8" cy="494.7" r="1.15" fill="#c4006a"/>
<circle cx="361.5" cy="498.9" r="1.15" fill="#c4006a"/>
<circle cx="362.4" cy="502.4" r="1.15" fill="#c4006a"/>
<circle cx="361.9" cy="506.1" r="1.15" fill="#c4006a"/>
<circle cx="362.0" cy="510.2" r="1.15" fill="#c4006a"/>
<circle cx="362.5" cy="513.8" r="1.15" fill="#c4006a"/>
<circle cx="360.6" cy="517.9" r="1.15" fill="#c4006a"/>
<line x1="368.5" y1="514" x2="368.5" y2="531.3" stroke="#4a1550" stroke-width="0.75"/>
<path d="M368.8,514.0 L368.9,514.7 L369.1,515.4 L369.5,516.2 L370.2,516.9 L370.4,517.0 L370.5,517.6 L370.6,518.3 L370.6,519.0 L370.7,519.8 L370.7,520.5 L370.7,521.2 L370.7,521.9 L370.7,522.6 L370.7,523.4 L370.7,524.1 L370.7,524.8 L370.7,525.5 L370.6,526.2 L370.6,527.0 L370.5,527.7 L370.4,528.0 L369.9,528.4 L369.3,529.1 L369.0,529.9 L368.8,530.6 L368.8,531.3 L368.2,531.3 L368.2,530.6 L368.0,529.9 L367.7,529.1 L367.1,528.4 L366.6,528.0 L366.5,527.7 L366.4,527.0 L366.4,526.2 L366.3,525.5 L366.3,524.8 L366.3,524.1 L366.3,523.4 L366.3,522.6 L366.3,521.9 L366.3,521.2 L366.3,520.5 L366.3,519.8 L366.4,519.0 L366.4,518.3 L366.5,517.6 L366.6,517.0 L366.8,516.9 L367.5,516.2 L367.9,515.4 L368.1,514.7 L368.2,514.0 Z" fill="#4a1550" fill-opacity="0.85" stroke="#4a1550" stroke-width="0.6"/>
<circle cx="368.5" cy="514.0" r="1.15" fill="#380e3c"/>
<circle cx="368.5" cy="531.3" r="1.15" fill="#380e3c"/>
<circle cx="368.3" cy="518.1" r="1.15" fill="#380e3c"/>
<circle cx="368.3" cy="520.6" r="1.15" fill="#380e3c"/>
<circle cx="368.9" cy="523.8" r="1.15" fill="#380e3c"/>
<circle cx="368.0" cy="526.5" r="1.15" fill="#380e3c"/>
<line x1="375.6" y1="529.4" x2="375.6" y2="539" stroke="#f7941d" stroke-width="0.75"/>
<path d="M376.8,529.4 L377.2,529.8 L377.5,530.0 L377.6,530.2 L377.7,530.6 L377.7,531.0 L377.7,531.4 L377.7,531.8 L377.8,532.2 L377.8,532.6 L377.8,533.0 L377.8,533.4 L377.8,533.8 L377.8,534.2 L377.8,534.6 L377.8,535.0 L377.8,535.4 L377.8,535.8 L377.8,536.2 L377.8,536.6 L377.8,537.0 L377.7,537.4 L377.7,537.8 L377.7,538.2 L377.6,538.6 L377.5,539.0 L373.7,539.0 L373.6,538.6 L373.5,538.2 L373.5,537.8 L373.5,537.4 L373.4,537.0 L373.4,536.6 L373.4,536.2 L373.4,535.8 L373.4,535.4 L373.4,535.0 L373.4,534.6 L373.4,534.2 L373.4,533.8 L373.4,533.4 L373.4,533.0 L373.4,532.6 L373.4,532.2 L373.5,531.8 L373.5,531.4 L373.5,531.0 L373.5,530.6 L373.6,530.2 L373.7,530.0 L374.0,529.8 L374.4,529.4 Z" fill="#f7941d" fill-opacity="0.85" stroke="#f7941d" stroke-width="0.6"/>
<circle cx="375.6" cy="529.4" r="1.15" fill="#e38510"/>
<circle cx="375.6" cy="539.0" r="1.15" fill="#e38510"/>
<circle cx="376.1" cy="530.8" r="1.15" fill="#e38510"/>
<circle cx="375.7" cy="533.8" r="1.15" fill="#e38510"/>
<circle cx="376.2" cy="535.3" r="1.15" fill="#e38510"/>
<circle cx="375.0" cy="537.8" r="1.15" fill="#e38510"/>
<line x1="382.7" y1="526.2" x2="382.7" y2="537.1" stroke="#c9c9c9" stroke-width="0.75"/>
<path d="M383.2,526.2 L383.4,526.6 L383.7,527.1 L384.1,527.6 L384.6,528.0 L384.6,528.0 L384.7,528.5 L384.8,528.9 L384.8,529.4 L384.9,529.8 L384.9,530.3 L384.9,530.7 L384.9,531.2 L384.9,531.6 L384.9,532.1 L384.9,532.6 L384.9,533.0 L384.9,533.5 L384.9,533.9 L384.8,534.4 L384.8,534.8 L384.8,535.3 L384.7,535.7 L384.6,536.0 L384.4,536.2 L383.9,536.6 L383.6,537.1 L381.8,537.1 L381.5,536.6 L381.0,536.2 L380.8,536.0 L380.7,535.7 L380.6,535.3 L380.6,534.8 L380.6,534.4 L380.5,533.9 L380.5,533.5 L380.5,533.0 L380.5,532.6 L380.5,532.1 L380.5,531.6 L380.5,531.2 L380.5,530.7 L380.5,530.3 L380.5,529.8 L380.6,529.4 L380.6,528.9 L380.7,528.5 L380.8,528.0 L380.8,528.0 L381.3,527.6 L381.7,527.1 L382.0,526.6 L382.2,526.2 Z" fill="#c9c9c9" fill-opacity="0.6" stroke="#c9c9c9" stroke-width="0.6"/>
<path d="M381.7,527.0 L383.7,527.0 L382.7,525.2 Z" fill="#b0b0b0"/>
<path d="M381.7,537.9 L383.7,537.9 L382.7,536.1 Z" fill="#b0b0b0"/>
<path d="M382.2,529.4 L384.2,529.4 L383.2,527.6 Z" fill="#b0b0b0"/>
<path d="M382.0,532.1 L384.0,532.1 L383.0,530.3 Z" fill="#b0b0b0"/>
<path d="M381.8,533.8 L383.8,533.8 L382.8,532.0 Z" fill="#b0b0b0"/>
<path d="M382.6,535.5 L384.6,535.5 L383.6,533.7 Z" fill="#b0b0b0"/>
<line x1="298.4" y1="468.5" x2="307.7" y2="468.5" stroke="#2b2b2b" stroke-width="1.3"/>
<path d="M303.05,464.05 L303.05,465.95 M302.23,464.52 L303.87,465.48 M303.87,464.52 L302.23,465.48 " stroke="#2b2b2b" stroke-width="0.75" stroke-linecap="round"/>
<line x1="313.2" y1="493.8" x2="321.6" y2="493.8" stroke="#2b2b2b" stroke-width="1.3"/>
<text transform="translate(317.40 491.87) scale(0.995 1)" font-size="5.9" text-anchor="middle" font-weight="normal" fill="#2b2b2b" stroke="#2b2b2b" stroke-width="0.18">ns</text>
<line x1="327.3" y1="505.4" x2="336.0" y2="505.4" stroke="#2b2b2b" stroke-width="1.3"/>
<text transform="translate(331.65 503.46) scale(0.995 1)" font-size="5.9" text-anchor="middle" font-weight="normal" fill="#2b2b2b" stroke="#2b2b2b" stroke-width="0.18">ns</text>
<line x1="345.9" y1="477.5" x2="355.2" y2="477.5" stroke="#2b2b2b" stroke-width="1.3"/>
<text transform="translate(350.55 475.56) scale(0.995 1)" font-size="5.9" text-anchor="middle" font-weight="normal" fill="#2b2b2b" stroke="#2b2b2b" stroke-width="0.18">ns</text>
<line x1="360.7" y1="478.1" x2="369.3" y2="478.1" stroke="#2b2b2b" stroke-width="1.3"/>
<path d="M363.55,473.65 L363.55,475.55 M362.73,474.12 L364.37,475.08 M364.37,474.12 L362.73,475.08 " stroke="#2b2b2b" stroke-width="0.75" stroke-linecap="round"/>
<path d="M366.45,473.65 L366.45,475.55 M365.63,474.12 L367.27,475.08 M367.27,474.12 L365.63,475.08 " stroke="#2b2b2b" stroke-width="0.75" stroke-linecap="round"/>
<line x1="374.8" y1="524.6" x2="383.5" y2="524.6" stroke="#2b2b2b" stroke-width="1.3"/>
<text transform="translate(379.15 522.67) scale(0.995 1)" font-size="5.9" text-anchor="middle" font-weight="normal" fill="#2b2b2b" stroke="#2b2b2b" stroke-width="0.18">ns</text>
<line x1="425.3" y1="471.7" x2="425.3" y2="539.3" stroke="#2b2b2b" stroke-width="1.25"/>
<line x1="424.7" y1="539.3" x2="520" y2="539.3" stroke="#2b2b2b" stroke-width="1.3"/>
<line x1="422.1" y1="539.4" x2="425.3" y2="539.4" stroke="#2b2b2b" stroke-width="1.0"/>
<text transform="translate(420.10 541.57)" font-size="6.2" text-anchor="end" font-weight="normal" fill="#2b2b2b" stroke="#2b2b2b" stroke-width="0.1">0</text>
<line x1="422.1" y1="526.36" x2="425.3" y2="526.36" stroke="#2b2b2b" stroke-width="1.0"/>
<text transform="translate(420.10 528.53)" font-size="6.2" text-anchor="end" font-weight="normal" fill="#2b2b2b" stroke="#2b2b2b" stroke-width="0.1">20</text>
<line x1="422.1" y1="513.3199999999999" x2="425.3" y2="513.3199999999999" stroke="#2b2b2b" stroke-width="1.0"/>
<text transform="translate(420.10 515.49)" font-size="6.2" text-anchor="end" font-weight="normal" fill="#2b2b2b" stroke="#2b2b2b" stroke-width="0.1">40</text>
<line x1="422.1" y1="500.28" x2="425.3" y2="500.28" stroke="#2b2b2b" stroke-width="1.0"/>
<text transform="translate(420.10 502.45)" font-size="6.2" text-anchor="end" font-weight="normal" fill="#2b2b2b" stroke="#2b2b2b" stroke-width="0.1">60</text>
<line x1="422.1" y1="487.24" x2="425.3" y2="487.24" stroke="#2b2b2b" stroke-width="1.0"/>
<text transform="translate(420.10 489.41)" font-size="6.2" text-anchor="end" font-weight="normal" fill="#2b2b2b" stroke="#2b2b2b" stroke-width="0.1">80</text>
<line x1="422.1" y1="474.2" x2="425.3" y2="474.2" stroke="#2b2b2b" stroke-width="1.0"/>
<text transform="translate(420.10 476.37)" font-size="6.2" text-anchor="end" font-weight="normal" fill="#2b2b2b" stroke="#2b2b2b" stroke-width="0.1">100</text>
<line x1="449.8" y1="539.3" x2="449.8" y2="541.6999999999999" stroke="#2b2b2b" stroke-width="1.0"/>
<text transform="translate(449.80 551.14)" font-size="6.4" text-anchor="middle" font-weight="normal" fill="#2b2b2b" stroke="#2b2b2b" stroke-width="0.14">BM</text>
<line x1="497.9" y1="539.3" x2="497.9" y2="541.6999999999999" stroke="#2b2b2b" stroke-width="1.0"/>
<text transform="translate(497.90 551.14)" font-size="6.4" text-anchor="middle" font-weight="normal" fill="#2b2b2b" stroke="#2b2b2b" stroke-width="0.14">Spleen</text>
<text transform="translate(403.06 506.75) rotate(-90) scale(0.942 1)" font-size="5.3" text-anchor="middle" font-weight="normal" fill="#2b2b2b" stroke="#2b2b2b" stroke-width="0.12">% PD1<tspan font-size="3.29" dy="-2.12">+</tspan><tspan dy="2.12"> of CD8</tspan><tspan font-size="3.29" dy="-2.12">+</tspan><tspan dy="2.12"> CAR-T cells</tspan></text>
<line x1="432.5" y1="505.4" x2="432.5" y2="526.5" stroke="#1b4587" stroke-width="0.75"/>
<path d="M432.8,505.4 L433.1,506.3 L433.5,507.2 L434.4,508.0 L434.4,508.0 L434.6,508.9 L434.6,509.8 L434.6,510.7 L434.7,511.6 L434.7,512.4 L434.7,513.3 L434.7,514.2 L434.7,515.1 L434.7,516.0 L434.7,516.8 L434.7,517.7 L434.7,518.6 L434.6,519.5 L434.6,520.4 L434.5,521.2 L434.4,522.0 L434.3,522.1 L433.4,523.0 L433.0,523.9 L432.8,524.7 L432.8,525.6 L432.8,526.5 L432.2,526.5 L432.2,525.6 L432.2,524.7 L432.0,523.9 L431.6,523.0 L430.7,522.1 L430.6,522.0 L430.5,521.2 L430.4,520.4 L430.4,519.5 L430.3,518.6 L430.3,517.7 L430.3,516.8 L430.3,516.0 L430.3,515.1 L430.3,514.2 L430.3,513.3 L430.3,512.4 L430.3,511.6 L430.4,510.7 L430.4,509.8 L430.4,508.9 L430.6,508.0 L430.6,508.0 L431.5,507.2 L431.9,506.3 L432.2,505.4 Z" fill="#1b4587" fill-opacity="0.7999999999999999" stroke="#1b4587" stroke-width="0.6"/>
<circle cx="432.5" cy="505.4" r="1.15" fill="#143668"/>
<circle cx="432.5" cy="526.5" r="1.15" fill="#143668"/>
<circle cx="432.8" cy="509.3" r="1.15" fill="#143668"/>
<circle cx="433.1" cy="512.5" r="1.15" fill="#143668"/>
<circle cx="432.1" cy="515.0" r="1.15" fill="#143668"/>
<circle cx="431.8" cy="517.8" r="1.15" fill="#143668"/>
<circle cx="432.2" cy="520.9" r="1.15" fill="#143668"/>
<line x1="439.2" y1="499.6" x2="439.2" y2="536.2" stroke="#35a83a" stroke-width="0.75"/>
<path d="M439.4,499.6 L439.4,501.1 L439.6,502.6 L440.3,504.2 L441.1,505.0 L441.2,505.7 L441.3,507.2 L441.3,508.8 L441.3,510.3 L441.4,511.8 L441.4,513.3 L441.4,514.9 L441.4,516.4 L441.4,517.9 L441.4,519.4 L441.4,521.0 L441.4,522.5 L441.4,524.0 L441.4,525.5 L441.3,527.0 L441.3,528.6 L441.3,530.1 L441.2,531.6 L441.1,532.0 L440.0,533.1 L439.5,534.7 L439.4,536.2 L438.9,536.2 L438.9,534.7 L438.4,533.1 L437.3,532.0 L437.2,531.6 L437.1,530.1 L437.1,528.6 L437.1,527.0 L437.0,525.5 L437.0,524.0 L437.0,522.5 L437.0,521.0 L437.0,519.4 L437.0,517.9 L437.0,516.4 L437.0,514.9 L437.0,513.3 L437.0,511.8 L437.1,510.3 L437.1,508.8 L437.1,507.2 L437.2,505.7 L437.3,505.0 L438.1,504.2 L438.8,502.6 L438.9,501.1 L438.9,499.6 Z" fill="#35a83a" fill-opacity="0.5" stroke="#35a83a" stroke-width="0.6"/>
<circle cx="439.2" cy="499.6" r="1.15" fill="#2a8a2e"/>
<circle cx="439.2" cy="536.2" r="1.15" fill="#2a8a2e"/>
<circle cx="438.7" cy="506.9" r="1.15" fill="#2a8a2e"/>
<circle cx="438.7" cy="509.4" r="1.15" fill="#2a8a2e"/>
<circle cx="438.6" cy="512.4" r="1.15" fill="#2a8a2e"/>
<circle cx="439.6" cy="515.0" r="1.15" fill="#2a8a2e"/>
<circle cx="438.7" cy="518.3" r="1.15" fill="#2a8a2e"/>
<circle cx="439.2" cy="521.3" r="1.15" fill="#2a8a2e"/>
<circle cx="439.5" cy="524.4" r="1.15" fill="#2a8a2e"/>
<circle cx="438.9" cy="527.7" r="1.15" fill="#2a8a2e"/>
<circle cx="439.9" cy="530.9" r="1.15" fill="#2a8a2e"/>
<line x1="446.5" y1="528.5" x2="446.5" y2="538.1" stroke="#e6007e" stroke-width="0.75"/>
<path d="M447.1,528.5 L447.4,528.9 L447.6,529.3 L448.0,529.7 L448.4,530.0 L448.5,530.1 L448.6,530.5 L448.6,530.9 L448.6,531.3 L448.7,531.7 L448.7,532.1 L448.7,532.5 L448.7,532.9 L448.7,533.3 L448.7,533.7 L448.7,534.1 L448.7,534.5 L448.7,534.9 L448.7,535.3 L448.6,535.7 L448.6,536.1 L448.6,536.5 L448.5,536.9 L448.4,537.0 L448.0,537.3 L447.6,537.7 L447.4,538.1 L445.6,538.1 L445.4,537.7 L445.0,537.3 L444.6,537.0 L444.5,536.9 L444.4,536.5 L444.4,536.1 L444.4,535.7 L444.3,535.3 L444.3,534.9 L444.3,534.5 L444.3,534.1 L444.3,533.7 L444.3,533.3 L444.3,532.9 L444.3,532.5 L444.3,532.1 L444.3,531.7 L444.4,531.3 L444.4,530.9 L444.4,530.5 L444.5,530.1 L444.6,530.0 L445.0,529.7 L445.4,529.3 L445.6,528.9 L445.9,528.5 Z" fill="#e6007e" fill-opacity="0.85" stroke="#e6007e" stroke-width="0.6"/>
<circle cx="446.5" cy="528.5" r="1.15" fill="#c4006a"/>
<circle cx="446.5" cy="538.1" r="1.15" fill="#c4006a"/>
<circle cx="447.1" cy="530.4" r="1.15" fill="#c4006a"/>
<circle cx="447.1" cy="533.0" r="1.15" fill="#c4006a"/>
<circle cx="447.2" cy="534.0" r="1.15" fill="#c4006a"/>
<circle cx="445.5" cy="536.3" r="1.15" fill="#c4006a"/>
<line x1="453.7" y1="520.4" x2="453.7" y2="533.3" stroke="#4a1550" stroke-width="0.75"/>
<path d="M454.0,520.4 L454.1,520.9 L454.3,521.5 L454.6,522.0 L455.1,522.5 L455.6,523.0 L455.7,523.1 L455.8,523.6 L455.8,524.2 L455.8,524.7 L455.9,525.2 L455.9,525.8 L455.9,526.3 L455.9,526.9 L455.9,527.4 L455.9,527.9 L455.9,528.5 L455.9,529.0 L455.9,529.5 L455.8,530.1 L455.8,530.6 L455.8,531.1 L455.7,531.7 L455.6,532.0 L455.3,532.2 L454.8,532.8 L454.4,533.3 L453.0,533.3 L452.6,532.8 L452.1,532.2 L451.8,532.0 L451.7,531.7 L451.6,531.1 L451.6,530.6 L451.6,530.1 L451.5,529.5 L451.5,529.0 L451.5,528.5 L451.5,527.9 L451.5,527.4 L451.5,526.9 L451.5,526.3 L451.5,525.8 L451.5,525.2 L451.6,524.7 L451.6,524.2 L451.6,523.6 L451.7,523.1 L451.8,523.0 L452.3,522.5 L452.8,522.0 L453.1,521.5 L453.3,520.9 L453.4,520.4 Z" fill="#4a1550" fill-opacity="0.85" stroke="#4a1550" stroke-width="0.6"/>
<circle cx="453.7" cy="520.4" r="1.15" fill="#380e3c"/>
<circle cx="453.7" cy="533.3" r="1.15" fill="#380e3c"/>
<circle cx="454.6" cy="523.6" r="1.15" fill="#380e3c"/>
<circle cx="453.2" cy="526.5" r="1.15" fill="#380e3c"/>
<circle cx="453.0" cy="528.2" r="1.15" fill="#380e3c"/>
<circle cx="454.2" cy="530.6" r="1.15" fill="#380e3c"/>
<line x1="460.8" y1="522.3" x2="460.8" y2="538.5" stroke="#f7941d" stroke-width="0.75"/>
<path d="M461.1,522.3 L461.1,523.0 L461.1,523.6 L461.1,524.3 L461.1,525.0 L461.2,525.7 L461.4,526.4 L461.7,527.0 L462.3,527.7 L462.7,528.0 L462.8,528.4 L462.9,529.0 L462.9,529.7 L463.0,530.4 L463.0,531.1 L463.0,531.8 L463.0,532.4 L463.0,533.1 L463.0,533.8 L463.0,534.5 L463.0,535.1 L462.9,535.8 L462.9,536.5 L462.9,537.1 L462.8,537.8 L462.7,538.0 L462.1,538.5 L459.5,538.5 L458.9,538.0 L458.8,537.8 L458.7,537.1 L458.7,536.5 L458.7,535.8 L458.6,535.1 L458.6,534.5 L458.6,533.8 L458.6,533.1 L458.6,532.4 L458.6,531.8 L458.6,531.1 L458.6,530.4 L458.7,529.7 L458.7,529.0 L458.8,528.4 L458.9,528.0 L459.3,527.7 L459.9,527.0 L460.2,526.4 L460.4,525.7 L460.6,525.0 L460.6,524.3 L460.6,523.6 L460.6,523.0 L460.6,522.3 Z" fill="#f7941d" fill-opacity="0.85" stroke="#f7941d" stroke-width="0.6"/>
<circle cx="460.8" cy="522.3" r="1.15" fill="#e38510"/>
<circle cx="460.8" cy="538.5" r="1.15" fill="#e38510"/>
<circle cx="460.1" cy="529.1" r="1.15" fill="#e38510"/>
<circle cx="461.4" cy="532.2" r="1.15" fill="#e38510"/>
<circle cx="461.6" cy="533.9" r="1.15" fill="#e38510"/>
<circle cx="461.4" cy="536.9" r="1.15" fill="#e38510"/>
<line x1="468.1" y1="519.8" x2="468.1" y2="534.2" stroke="#c9c9c9" stroke-width="0.75"/>
<path d="M468.4,519.8 L468.4,520.4 L468.4,521.0 L468.4,521.6 L468.4,522.2 L468.5,522.8 L468.7,523.4 L469.0,524.0 L469.5,524.6 L470.0,525.0 L470.1,525.2 L470.2,525.8 L470.2,526.4 L470.3,527.0 L470.3,527.6 L470.3,528.2 L470.3,528.8 L470.3,529.4 L470.3,530.0 L470.3,530.6 L470.3,531.2 L470.2,531.8 L470.2,532.4 L470.0,533.0 L469.3,533.6 L468.9,534.2 L467.3,534.2 L466.9,533.6 L466.2,533.0 L466.0,532.4 L466.0,531.8 L465.9,531.2 L465.9,530.6 L465.9,530.0 L465.9,529.4 L465.9,528.8 L465.9,528.2 L465.9,527.6 L465.9,527.0 L466.0,526.4 L466.0,525.8 L466.1,525.2 L466.2,525.0 L466.7,524.6 L467.2,524.0 L467.5,523.4 L467.7,522.8 L467.8,522.2 L467.9,521.6 L467.9,521.0 L467.9,520.4 L467.9,519.8 Z" fill="#c9c9c9" fill-opacity="0.6" stroke="#c9c9c9" stroke-width="0.6"/>
<path d="M467.1,520.6 L469.1,520.6 L468.1,518.8 Z" fill="#b0b0b0"/>
<path d="M467.1,535.0 L469.1,535.0 L468.1,533.2 Z" fill="#b0b0b0"/>
<path d="M467.9,527.0 L469.9,527.0 L468.9,525.2 Z" fill="#b0b0b0"/>
<path d="M467.8,529.1 L469.8,529.1 L468.8,527.3 Z" fill="#b0b0b0"/>
<path d="M467.5,530.5 L469.5,530.5 L468.5,528.7 Z" fill="#b0b0b0"/>
<path d="M467.6,532.8 L469.6,532.8 L468.6,531.0 Z" fill="#b0b0b0"/>
<line x1="480.6" y1="519.8" x2="480.6" y2="531.3" stroke="#1b4587" stroke-width="0.75"/>
<path d="M481.0,519.8 L481.2,520.3 L481.4,520.8 L481.7,521.2 L482.1,521.7 L482.5,522.0 L482.6,522.2 L482.7,522.7 L482.7,523.1 L482.7,523.6 L482.8,524.1 L482.8,524.6 L482.8,525.1 L482.8,525.5 L482.8,526.0 L482.8,526.5 L482.8,527.0 L482.8,527.5 L482.8,528.0 L482.7,528.4 L482.7,528.9 L482.7,529.4 L482.6,529.9 L482.5,530.0 L482.1,530.3 L481.7,530.8 L481.3,531.3 L479.9,531.3 L479.5,530.8 L479.1,530.3 L478.7,530.0 L478.6,529.9 L478.5,529.4 L478.5,528.9 L478.5,528.4 L478.4,528.0 L478.4,527.5 L478.4,527.0 L478.4,526.5 L478.4,526.0 L478.4,525.5 L478.4,525.1 L478.4,524.6 L478.4,524.1 L478.5,523.6 L478.5,523.1 L478.5,522.7 L478.6,522.2 L478.7,522.0 L479.1,521.7 L479.5,521.2 L479.8,520.8 L480.0,520.3 L480.2,519.8 Z" fill="#1b4587" fill-opacity="0.85" stroke="#1b4587" stroke-width="0.6"/>
<circle cx="480.6" cy="519.8" r="1.15" fill="#143668"/>
<circle cx="480.6" cy="531.3" r="1.15" fill="#143668"/>
<circle cx="481.4" cy="522.9" r="1.15" fill="#143668"/>
<circle cx="480.1" cy="525.1" r="1.15" fill="#143668"/>
<circle cx="479.9" cy="526.7" r="1.15" fill="#143668"/>
<circle cx="479.7" cy="529.0" r="1.15" fill="#143668"/>
<line x1="487.3" y1="499.6" x2="487.3" y2="535.2" stroke="#35a83a" stroke-width="0.75"/>
<path d="M487.6,499.6 L487.6,501.1 L487.6,502.6 L487.6,504.1 L487.6,505.5 L487.6,507.0 L487.9,508.5 L489.2,510.0 L489.2,510.0 L489.4,511.5 L489.4,513.0 L489.4,514.4 L489.5,515.9 L489.5,517.4 L489.5,518.9 L489.5,520.4 L489.5,521.9 L489.5,523.3 L489.5,524.8 L489.4,526.3 L489.4,527.8 L489.3,529.3 L489.2,530.0 L488.4,530.8 L487.7,532.2 L487.6,533.7 L487.6,535.2 L487.1,535.2 L487.1,533.7 L486.9,532.2 L486.2,530.8 L485.4,530.0 L485.3,529.3 L485.2,527.8 L485.2,526.3 L485.1,524.8 L485.1,523.3 L485.1,521.9 L485.1,520.4 L485.1,518.9 L485.1,517.4 L485.1,515.9 L485.2,514.4 L485.2,513.0 L485.2,511.5 L485.4,510.0 L485.4,510.0 L486.7,508.5 L487.1,507.0 L487.1,505.5 L487.1,504.1 L487.1,502.6 L487.1,501.1 L487.1,499.6 Z" fill="#35a83a" fill-opacity="0.6499999999999999" stroke="#35a83a" stroke-width="0.6"/>
<circle cx="487.3" cy="499.6" r="1.15" fill="#2a8a2e"/>
<circle cx="487.3" cy="535.2" r="1.15" fill="#2a8a2e"/>
<circle cx="486.6" cy="511.2" r="1.15" fill="#2a8a2e"/>
<circle cx="487.3" cy="513.7" r="1.15" fill="#2a8a2e"/>
<circle cx="488.0" cy="516.3" r="1.15" fill="#2a8a2e"/>
<circle cx="488.0" cy="518.3" r="1.15" fill="#2a8a2e"/>
<circle cx="487.4" cy="521.2" r="1.15" fill="#2a8a2e"/>
<circle cx="488.0" cy="523.9" r="1.15" fill="#2a8a2e"/>
<circle cx="487.1" cy="526.1" r="1.15" fill="#2a8a2e"/>
<circle cx="486.5" cy="529.2" r="1.15" fill="#2a8a2e"/>
<line x1="494.6" y1="516.5" x2="494.6" y2="533.8" stroke="#e6007e" stroke-width="0.75"/>
<path d="M494.9,516.5 L494.9,517.2 L495.0,517.9 L495.3,518.7 L495.8,519.4 L496.5,520.0 L496.6,520.1 L496.7,520.8 L496.7,521.5 L496.8,522.3 L496.8,523.0 L496.8,523.7 L496.8,524.4 L496.8,525.1 L496.8,525.9 L496.8,526.6 L496.8,527.3 L496.7,528.0 L496.7,528.8 L496.6,529.5 L496.5,530.0 L496.2,530.2 L495.6,530.9 L495.2,531.6 L495.0,532.4 L494.9,533.1 L494.9,533.8 L494.4,533.8 L494.4,533.1 L494.2,532.4 L494.0,531.6 L493.6,530.9 L493.0,530.2 L492.7,530.0 L492.6,529.5 L492.5,528.8 L492.5,528.0 L492.4,527.3 L492.4,526.6 L492.4,525.9 L492.4,525.1 L492.4,524.4 L492.4,523.7 L492.4,523.0 L492.4,522.3 L492.5,521.5 L492.5,520.8 L492.6,520.1 L492.7,520.0 L493.4,519.4 L493.9,518.7 L494.2,517.9 L494.3,517.2 L494.4,516.5 Z" fill="#e6007e" fill-opacity="0.85" stroke="#e6007e" stroke-width="0.6"/>
<circle cx="494.6" cy="516.5" r="1.15" fill="#c4006a"/>
<circle cx="494.6" cy="533.8" r="1.15" fill="#c4006a"/>
<circle cx="494.9" cy="521.4" r="1.15" fill="#c4006a"/>
<circle cx="494.8" cy="523.3" r="1.15" fill="#c4006a"/>
<circle cx="495.5" cy="526.4" r="1.15" fill="#c4006a"/>
<circle cx="495.6" cy="528.6" r="1.15" fill="#c4006a"/>
<line x1="501.7" y1="531.3" x2="501.7" y2="537.1" stroke="#4a1550" stroke-width="0.75"/>
<path d="M503.0,531.3 L503.3,531.5 L503.6,531.8 L503.6,531.8 L503.7,532.0 L503.8,532.3 L503.8,532.5 L503.8,532.8 L503.9,533.0 L503.9,533.2 L503.9,533.5 L503.9,533.7 L503.9,534.0 L503.9,534.2 L503.9,534.4 L503.9,534.7 L503.9,534.9 L503.9,535.2 L503.9,535.4 L503.9,535.6 L503.8,535.9 L503.8,536.1 L503.8,536.4 L503.7,536.6 L503.6,536.8 L503.5,536.9 L503.2,537.1 L500.2,537.1 L499.9,536.9 L499.8,536.8 L499.7,536.6 L499.6,536.4 L499.6,536.1 L499.6,535.9 L499.5,535.6 L499.5,535.4 L499.5,535.2 L499.5,534.9 L499.5,534.7 L499.5,534.4 L499.5,534.2 L499.5,534.0 L499.5,533.7 L499.5,533.5 L499.5,533.2 L499.5,533.0 L499.6,532.8 L499.6,532.5 L499.6,532.3 L499.7,532.0 L499.8,531.8 L499.8,531.8 L500.1,531.5 L500.4,531.3 Z" fill="#4a1550" fill-opacity="0.85" stroke="#4a1550" stroke-width="0.6"/>
<circle cx="501.7" cy="531.3" r="1.15" fill="#380e3c"/>
<circle cx="501.7" cy="537.1" r="1.15" fill="#380e3c"/>
<circle cx="501.7" cy="532.4" r="1.15" fill="#380e3c"/>
<circle cx="500.8" cy="534.1" r="1.15" fill="#380e3c"/>
<circle cx="501.9" cy="535.1" r="1.15" fill="#380e3c"/>
<circle cx="502.4" cy="536.0" r="1.15" fill="#380e3c"/>
<line x1="508.8" y1="527.5" x2="508.8" y2="539" stroke="#f7941d" stroke-width="0.75"/>
<path d="M509.1,527.5 L509.2,528.0 L509.4,528.5 L509.7,528.9 L510.1,529.4 L510.6,529.9 L510.7,530.0 L510.8,530.4 L510.9,530.9 L510.9,531.3 L511.0,531.8 L511.0,532.3 L511.0,532.8 L511.0,533.2 L511.0,533.7 L511.0,534.2 L511.0,534.7 L511.0,535.2 L511.0,535.6 L511.0,536.1 L510.9,536.6 L510.9,537.1 L510.8,537.6 L510.7,538.0 L510.6,538.0 L510.1,538.5 L509.7,539.0 L507.9,539.0 L507.5,538.5 L507.0,538.0 L506.9,538.0 L506.8,537.6 L506.7,537.1 L506.7,536.6 L506.6,536.1 L506.6,535.6 L506.6,535.2 L506.6,534.7 L506.6,534.2 L506.6,533.7 L506.6,533.2 L506.6,532.8 L506.6,532.3 L506.6,531.8 L506.7,531.3 L506.7,530.9 L506.8,530.4 L506.9,530.0 L507.0,529.9 L507.5,529.4 L507.9,528.9 L508.2,528.5 L508.4,528.0 L508.5,527.5 Z" fill="#f7941d" fill-opacity="0.85" stroke="#f7941d" stroke-width="0.6"/>
<circle cx="508.8" cy="527.5" r="1.15" fill="#e38510"/>
<circle cx="508.8" cy="539.0" r="1.15" fill="#e38510"/>
<circle cx="508.7" cy="530.9" r="1.15" fill="#e38510"/>
<circle cx="509.3" cy="533.0" r="1.15" fill="#e38510"/>
<circle cx="508.7" cy="534.7" r="1.15" fill="#e38510"/>
<circle cx="508.9" cy="536.9" r="1.15" fill="#e38510"/>
<line x1="516.2" y1="525" x2="516.2" y2="538.1" stroke="#c9c9c9" stroke-width="0.75"/>
<path d="M516.5,525.0 L516.5,525.5 L516.5,526.1 L516.5,526.6 L516.5,527.2 L516.6,527.7 L516.7,528.3 L517.0,528.8 L517.4,529.4 L518.0,529.9 L518.1,530.0 L518.3,530.5 L518.3,531.0 L518.3,531.5 L518.4,532.1 L518.4,532.6 L518.4,533.2 L518.4,533.7 L518.4,534.3 L518.4,534.8 L518.4,535.4 L518.3,535.9 L518.3,536.5 L518.1,537.0 L518.1,537.0 L517.5,537.5 L517.1,538.1 L515.3,538.1 L514.9,537.5 L514.3,537.0 L514.3,537.0 L514.1,536.5 L514.1,535.9 L514.0,535.4 L514.0,534.8 L514.0,534.3 L514.0,533.7 L514.0,533.2 L514.0,532.6 L514.0,532.1 L514.1,531.5 L514.1,531.0 L514.1,530.5 L514.3,530.0 L514.4,529.9 L515.0,529.4 L515.4,528.8 L515.7,528.3 L515.8,527.7 L515.9,527.2 L516.0,526.6 L516.0,526.1 L516.0,525.5 L516.0,525.0 Z" fill="#c9c9c9" fill-opacity="0.6" stroke="#c9c9c9" stroke-width="0.6"/>
<path d="M515.2,525.8 L517.2,525.8 L516.2,524.0 Z" fill="#b0b0b0"/>
<path d="M515.2,538.9 L517.2,538.9 L516.2,537.1 Z" fill="#b0b0b0"/>
<path d="M514.8,532.0 L516.8,532.0 L515.8,530.2 Z" fill="#b0b0b0"/>
<path d="M515.0,533.8 L517.0,533.8 L516.0,532.0 Z" fill="#b0b0b0"/>
<path d="M514.7,535.2 L516.7,535.2 L515.7,533.4 Z" fill="#b0b0b0"/>
<path d="M516.1,536.9 L518.1,536.9 L517.1,535.1 Z" fill="#b0b0b0"/>
<line x1="431.7" y1="497.3" x2="440.0" y2="497.3" stroke="#2b2b2b" stroke-width="1.3"/>
<text transform="translate(435.85 495.37) scale(0.995 1)" font-size="5.9" text-anchor="middle" font-weight="normal" fill="#2b2b2b" stroke="#2b2b2b" stroke-width="0.18">ns</text>
<line x1="445.7" y1="518.5" x2="454.5" y2="518.5" stroke="#2b2b2b" stroke-width="1.3"/>
<path d="M448.65,514.05 L448.65,515.95 M447.83,514.52 L449.47,515.48 M449.47,514.52 L447.83,515.48 " stroke="#2b2b2b" stroke-width="0.75" stroke-linecap="round"/>
<path d="M451.55,514.05 L451.55,515.95 M450.73,514.52 L452.37,515.48 M452.37,514.52 L450.73,515.48 " stroke="#2b2b2b" stroke-width="0.75" stroke-linecap="round"/>
<line x1="460.0" y1="516.9" x2="468.90000000000003" y2="516.9" stroke="#2b2b2b" stroke-width="1.3"/>
<text transform="translate(464.45 514.97) scale(0.995 1)" font-size="5.9" text-anchor="middle" font-weight="normal" fill="#2b2b2b" stroke="#2b2b2b" stroke-width="0.18">ns</text>
<line x1="479.8" y1="498.1" x2="488.1" y2="498.1" stroke="#2b2b2b" stroke-width="1.3"/>
<text transform="translate(483.95 496.17) scale(0.995 1)" font-size="5.9" text-anchor="middle" font-weight="normal" fill="#2b2b2b" stroke="#2b2b2b" stroke-width="0.18">ns</text>
<line x1="493.8" y1="514" x2="502.5" y2="514" stroke="#2b2b2b" stroke-width="1.3"/>
<path d="M495.25,509.55 L495.25,511.45 M494.43,510.02 L496.07,510.98 M496.07,510.02 L494.43,510.98 " stroke="#2b2b2b" stroke-width="0.75" stroke-linecap="round"/>
<path d="M498.15,509.55 L498.15,511.45 M497.33,510.02 L498.97,510.98 M498.97,510.02 L497.33,510.98 " stroke="#2b2b2b" stroke-width="0.75" stroke-linecap="round"/>
<path d="M501.05,509.55 L501.05,511.45 M500.23,510.02 L501.87,510.98 M501.87,510.02 L500.23,510.98 " stroke="#2b2b2b" stroke-width="0.75" stroke-linecap="round"/>
<line x1="508.0" y1="522.3" x2="517.0" y2="522.3" stroke="#2b2b2b" stroke-width="1.3"/>
<text transform="translate(512.50 520.37) scale(0.995 1)" font-size="5.9" text-anchor="middle" font-weight="normal" fill="#2b2b2b" stroke="#2b2b2b" stroke-width="0.18">ns</text>
<text transform="translate(128.20 589.58) scale(1.039 1)" font-size="8.8" text-anchor="middle" font-weight="normal" fill="#2b2b2b" stroke="#2b2b2b" stroke-width="0.1">LAG3<tspan font-size="5.46" dy="-3.52">+</tspan></text>
<text transform="translate(79.80 603.70)" font-size="7.7" text-anchor="middle" font-weight="normal" fill="#2b2b2b" stroke="#2b2b2b" stroke-width="0.1">CD4<tspan font-size="4.77" dy="-3.08">+</tspan><tspan dy="3.08"> CAR-T cells</tspan></text>
<text transform="translate(209.20 604.00)" font-size="7.7" text-anchor="middle" font-weight="normal" fill="#2b2b2b" stroke="#2b2b2b" stroke-width="0.1">CD8<tspan font-size="4.77" dy="-3.08">+</tspan><tspan dy="3.08"> CAR-T cells</tspan></text>
<line x1="30.7" y1="616.1" x2="30.7" y2="684.5" stroke="#2b2b2b" stroke-width="1.25"/>
<line x1="30.099999999999998" y1="684.5" x2="124.5" y2="684.5" stroke="#2b2b2b" stroke-width="1.3"/>
<line x1="27.5" y1="684.5" x2="30.7" y2="684.5" stroke="#2b2b2b" stroke-width="1.0"/>
<text transform="translate(25.50 686.67)" font-size="6.2" text-anchor="end" font-weight="normal" fill="#2b2b2b" stroke="#2b2b2b" stroke-width="0.1">0</text>
<line x1="27.5" y1="671.32" x2="30.7" y2="671.32" stroke="#2b2b2b" stroke-width="1.0"/>
<text transform="translate(25.50 673.49)" font-size="6.2" text-anchor="end" font-weight="normal" fill="#2b2b2b" stroke="#2b2b2b" stroke-width="0.1">20</text>
<line x1="27.5" y1="658.14" x2="30.7" y2="658.14" stroke="#2b2b2b" stroke-width="1.0"/>
<text transform="translate(25.50 660.31)" font-size="6.2" text-anchor="end" font-weight="normal" fill="#2b2b2b" stroke="#2b2b2b" stroke-width="0.1">40</text>
<line x1="27.5" y1="644.96" x2="30.7" y2="644.96" stroke="#2b2b2b" stroke-width="1.0"/>
<text transform="translate(25.50 647.13)" font-size="6.2" text-anchor="end" font-weight="normal" fill="#2b2b2b" stroke="#2b2b2b" stroke-width="0.1">60</text>
<line x1="27.5" y1="631.78" x2="30.7" y2="631.78" stroke="#2b2b2b" stroke-width="1.0"/>
<text transform="translate(25.50 633.95)" font-size="6.2" text-anchor="end" font-weight="normal" fill="#2b2b2b" stroke="#2b2b2b" stroke-width="0.1">80</text>
<line x1="27.5" y1="618.6" x2="30.7" y2="618.6" stroke="#2b2b2b" stroke-width="1.0"/>
<text transform="translate(25.50 620.77)" font-size="6.2" text-anchor="end" font-weight="normal" fill="#2b2b2b" stroke="#2b2b2b" stroke-width="0.1">100</text>
<line x1="54.5" y1="684.5" x2="54.5" y2="686.9" stroke="#2b2b2b" stroke-width="1.0"/>
<text transform="translate(54.50 696.34)" font-size="6.4" text-anchor="middle" font-weight="normal" fill="#2b2b2b" stroke="#2b2b2b" stroke-width="0.14">BM</text>
<line x1="103.1" y1="684.5" x2="103.1" y2="686.9" stroke="#2b2b2b" stroke-width="1.0"/>
<text transform="translate(103.10 696.34)" font-size="6.4" text-anchor="middle" font-weight="normal" fill="#2b2b2b" stroke="#2b2b2b" stroke-width="0.14">Spleen</text>
<text transform="translate(8.15 651.55) rotate(-90) scale(0.893 1)" font-size="5.3" text-anchor="middle" font-weight="normal" fill="#2b2b2b" stroke="#2b2b2b" stroke-width="0.12">% LAG3<tspan font-size="3.29" dy="-2.12">+</tspan><tspan dy="2.12"> of CD4</tspan><tspan font-size="3.29" dy="-2.12">+</tspan><tspan dy="2.12"> CAR-T cells</tspan></text>
<line x1="37.3" y1="627" x2="37.3" y2="652" stroke="#1b4587" stroke-width="0.75"/>
<path d="M37.5,627.0 L37.8,628.0 L38.3,629.1 L39.2,630.0 L39.3,630.1 L39.3,631.2 L39.4,632.2 L39.4,633.2 L39.4,634.3 L39.5,635.3 L39.5,636.4 L39.5,637.4 L39.5,638.5 L39.5,639.5 L39.5,640.5 L39.5,641.6 L39.5,642.6 L39.5,643.7 L39.5,644.7 L39.4,645.8 L39.4,646.8 L39.4,647.8 L39.3,648.9 L39.2,649.9 L39.2,650.0 L38.3,651.0 L37.8,652.0 L36.8,652.0 L36.3,651.0 L35.4,650.0 L35.4,649.9 L35.3,648.9 L35.2,647.8 L35.2,646.8 L35.2,645.8 L35.1,644.7 L35.1,643.7 L35.1,642.6 L35.1,641.6 L35.1,640.5 L35.1,639.5 L35.1,638.5 L35.1,637.4 L35.1,636.4 L35.1,635.3 L35.2,634.3 L35.2,633.2 L35.2,632.2 L35.3,631.2 L35.3,630.1 L35.4,630.0 L36.3,629.1 L36.8,628.0 L37.0,627.0 Z" fill="#1b4587" fill-opacity="0.6499999999999999" stroke="#1b4587" stroke-width="0.6"/>
<circle cx="37.3" cy="627.0" r="1.15" fill="#143668"/>
<circle cx="37.3" cy="652.0" r="1.15" fill="#143668"/>
<circle cx="37.9" cy="631.4" r="1.15" fill="#143668"/>
<circle cx="36.9" cy="633.6" r="1.15" fill="#143668"/>
<circle cx="37.5" cy="636.0" r="1.15" fill="#143668"/>
<circle cx="37.9" cy="638.9" r="1.15" fill="#143668"/>
<circle cx="37.7" cy="640.8" r="1.15" fill="#143668"/>
<circle cx="37.4" cy="644.1" r="1.15" fill="#143668"/>
<circle cx="36.9" cy="645.8" r="1.15" fill="#143668"/>
<circle cx="36.7" cy="648.3" r="1.15" fill="#143668"/>
<line x1="43.8" y1="642.4" x2="43.8" y2="655.3" stroke="#35a83a" stroke-width="0.75"/>
<path d="M44.4,642.4 L44.7,642.9 L45.1,643.5 L45.7,644.0 L45.7,644.0 L45.9,644.5 L45.9,645.1 L45.9,645.6 L46.0,646.2 L46.0,646.7 L46.0,647.2 L46.0,647.8 L46.0,648.3 L46.0,648.9 L46.0,649.4 L46.0,649.9 L45.9,650.5 L45.9,651.0 L45.8,651.5 L45.7,652.0 L45.6,652.1 L45.0,652.6 L44.6,653.1 L44.4,653.7 L44.2,654.2 L44.1,654.8 L44.0,655.3 L43.5,655.3 L43.5,654.8 L43.4,654.2 L43.2,653.7 L43.0,653.1 L42.6,652.6 L42.0,652.1 L41.9,652.0 L41.8,651.5 L41.7,651.0 L41.7,650.5 L41.6,649.9 L41.6,649.4 L41.6,648.9 L41.6,648.3 L41.6,647.8 L41.6,647.2 L41.6,646.7 L41.6,646.2 L41.7,645.6 L41.7,645.1 L41.7,644.5 L41.9,644.0 L41.9,644.0 L42.5,643.5 L42.9,642.9 L43.2,642.4 Z" fill="#35a83a" fill-opacity="0.85" stroke="#35a83a" stroke-width="0.6"/>
<circle cx="43.8" cy="642.4" r="1.15" fill="#2a8a2e"/>
<circle cx="43.8" cy="655.3" r="1.15" fill="#2a8a2e"/>
<circle cx="44.0" cy="645.4" r="1.15" fill="#2a8a2e"/>
<circle cx="44.4" cy="647.2" r="1.15" fill="#2a8a2e"/>
<circle cx="44.0" cy="649.4" r="1.15" fill="#2a8a2e"/>
<circle cx="44.1" cy="651.1" r="1.15" fill="#2a8a2e"/>
<line x1="50.8" y1="640.5" x2="50.8" y2="673.2" stroke="#e6007e" stroke-width="0.75"/>
<path d="M51.0,640.5 L51.0,641.9 L51.0,643.2 L51.0,644.6 L51.2,646.0 L52.0,647.3 L52.7,648.0 L52.8,648.7 L52.9,650.0 L52.9,651.4 L53.0,652.8 L53.0,654.1 L53.0,655.5 L53.0,656.9 L53.0,658.2 L53.0,659.6 L53.0,660.9 L53.0,662.3 L52.9,663.7 L52.9,665.0 L52.9,666.4 L52.8,667.8 L52.7,668.0 L51.7,669.1 L51.1,670.5 L51.0,671.8 L51.0,673.2 L50.5,673.2 L50.5,671.8 L50.5,670.5 L49.9,669.1 L48.9,668.0 L48.8,667.8 L48.7,666.4 L48.7,665.0 L48.7,663.7 L48.6,662.3 L48.6,660.9 L48.6,659.6 L48.6,658.2 L48.6,656.9 L48.6,655.5 L48.6,654.1 L48.6,652.8 L48.7,651.4 L48.7,650.0 L48.8,648.7 L48.9,648.0 L49.6,647.3 L50.4,646.0 L50.5,644.6 L50.5,643.2 L50.5,641.9 L50.5,640.5 Z" fill="#e6007e" fill-opacity="0.6499999999999999" stroke="#e6007e" stroke-width="0.6"/>
<circle cx="50.8" cy="640.5" r="1.15" fill="#c4006a"/>
<circle cx="50.8" cy="673.2" r="1.15" fill="#c4006a"/>
<circle cx="51.0" cy="649.4" r="1.15" fill="#c4006a"/>
<circle cx="50.2" cy="651.9" r="1.15" fill="#c4006a"/>
<circle cx="50.7" cy="654.4" r="1.15" fill="#c4006a"/>
<circle cx="50.0" cy="657.0" r="1.15" fill="#c4006a"/>
<circle cx="49.9" cy="658.9" r="1.15" fill="#c4006a"/>
<circle cx="51.6" cy="662.0" r="1.15" fill="#c4006a"/>
<circle cx="50.5" cy="664.4" r="1.15" fill="#c4006a"/>
<circle cx="51.4" cy="667.1" r="1.15" fill="#c4006a"/>
<line x1="58.5" y1="648.9" x2="58.5" y2="677" stroke="#4a1550" stroke-width="0.75"/>
<path d="M58.8,648.9 L58.8,650.1 L58.8,651.2 L58.8,652.4 L59.2,653.6 L60.1,654.8 L60.4,655.0 L60.5,655.9 L60.6,657.1 L60.6,658.3 L60.7,659.4 L60.7,660.6 L60.7,661.8 L60.7,663.0 L60.7,664.1 L60.7,665.3 L60.7,666.5 L60.7,667.6 L60.6,668.8 L60.6,670.0 L60.5,671.1 L60.4,672.0 L60.0,672.3 L59.2,673.5 L58.8,674.7 L58.8,675.8 L58.8,677.0 L58.2,677.0 L58.2,675.8 L58.2,674.7 L57.8,673.5 L57.0,672.3 L56.6,672.0 L56.5,671.1 L56.4,670.0 L56.4,668.8 L56.3,667.6 L56.3,666.5 L56.3,665.3 L56.3,664.1 L56.3,663.0 L56.3,661.8 L56.3,660.6 L56.3,659.4 L56.4,658.3 L56.4,657.1 L56.5,655.9 L56.6,655.0 L56.9,654.8 L57.8,653.6 L58.2,652.4 L58.2,651.2 L58.2,650.1 L58.2,648.9 Z" fill="#4a1550" fill-opacity="0.725" stroke="#4a1550" stroke-width="0.6"/>
<circle cx="58.5" cy="648.9" r="1.15" fill="#380e3c"/>
<circle cx="58.5" cy="677.0" r="1.15" fill="#380e3c"/>
<circle cx="58.0" cy="656.3" r="1.15" fill="#380e3c"/>
<circle cx="58.3" cy="658.4" r="1.15" fill="#380e3c"/>
<circle cx="58.4" cy="660.9" r="1.15" fill="#380e3c"/>
<circle cx="59.4" cy="663.6" r="1.15" fill="#380e3c"/>
<circle cx="58.6" cy="665.5" r="1.15" fill="#380e3c"/>
<circle cx="57.7" cy="667.9" r="1.15" fill="#380e3c"/>
<circle cx="58.6" cy="671.1" r="1.15" fill="#380e3c"/>
<line x1="65.6" y1="646.6" x2="65.6" y2="681.2" stroke="#f7941d" stroke-width="0.75"/>
<path d="M65.8,646.6 L65.8,648.0 L65.8,649.5 L65.8,650.9 L65.9,652.4 L66.4,653.8 L67.5,655.0 L67.6,655.2 L67.7,656.7 L67.7,658.1 L67.8,659.6 L67.8,661.0 L67.8,662.5 L67.8,663.9 L67.8,665.3 L67.8,666.8 L67.8,668.2 L67.8,669.7 L67.7,671.1 L67.7,672.5 L67.6,674.0 L67.5,675.0 L67.0,675.4 L66.1,676.9 L65.8,678.3 L65.8,679.8 L65.8,681.2 L65.3,681.2 L65.3,679.8 L65.3,678.3 L65.1,676.9 L64.2,675.4 L63.7,675.0 L63.6,674.0 L63.5,672.5 L63.5,671.1 L63.4,669.7 L63.4,668.2 L63.4,666.8 L63.4,665.3 L63.4,663.9 L63.4,662.5 L63.4,661.0 L63.4,659.6 L63.5,658.1 L63.5,656.7 L63.6,655.2 L63.7,655.0 L64.8,653.8 L65.3,652.4 L65.3,650.9 L65.3,649.5 L65.3,648.0 L65.3,646.6 Z" fill="#f7941d" fill-opacity="0.6499999999999999" stroke="#f7941d" stroke-width="0.6"/>
<circle cx="65.6" cy="646.6" r="1.15" fill="#e38510"/>
<circle cx="65.6" cy="681.2" r="1.15" fill="#e38510"/>
<circle cx="65.5" cy="656.7" r="1.15" fill="#e38510"/>
<circle cx="65.4" cy="658.3" r="1.15" fill="#e38510"/>
<circle cx="66.5" cy="661.3" r="1.15" fill="#e38510"/>
<circle cx="65.6" cy="664.2" r="1.15" fill="#e38510"/>
<circle cx="64.8" cy="666.2" r="1.15" fill="#e38510"/>
<circle cx="65.0" cy="668.9" r="1.15" fill="#e38510"/>
<circle cx="64.6" cy="670.9" r="1.15" fill="#e38510"/>
<circle cx="66.0" cy="673.3" r="1.15" fill="#e38510"/>
<line x1="72.7" y1="643.2" x2="72.7" y2="670.1" stroke="#c9c9c9" stroke-width="0.75"/>
<path d="M73.0,643.2 L73.0,644.3 L73.0,645.4 L73.0,646.6 L73.1,647.7 L73.5,648.8 L74.5,649.9 L74.6,650.0 L74.7,651.0 L74.8,652.2 L74.8,653.3 L74.9,654.4 L74.9,655.5 L74.9,656.6 L74.9,657.8 L74.9,658.9 L74.9,660.0 L74.9,661.1 L74.9,662.2 L74.9,663.4 L74.8,664.5 L74.8,665.6 L74.8,666.7 L74.7,667.9 L74.6,668.0 L73.6,669.0 L73.1,670.1 L72.3,670.1 L71.8,669.0 L70.8,668.0 L70.7,667.9 L70.6,666.7 L70.6,665.6 L70.6,664.5 L70.5,663.4 L70.5,662.2 L70.5,661.1 L70.5,660.0 L70.5,658.9 L70.5,657.8 L70.5,656.6 L70.5,655.5 L70.5,654.4 L70.6,653.3 L70.6,652.2 L70.7,651.0 L70.8,650.0 L70.9,649.9 L71.9,648.8 L72.3,647.7 L72.5,646.6 L72.5,645.4 L72.5,644.3 L72.5,643.2 Z" fill="#c9c9c9" fill-opacity="0.6" stroke="#c9c9c9" stroke-width="0.6"/>
<path d="M71.7,644.0 L73.7,644.0 L72.7,642.2 Z" fill="#b0b0b0"/>
<path d="M71.7,670.9 L73.7,670.9 L72.7,669.1 Z" fill="#b0b0b0"/>
<path d="M72.6,651.7 L74.6,651.7 L73.6,649.9 Z" fill="#b0b0b0"/>
<path d="M72.4,654.2 L74.4,654.2 L73.4,652.4 Z" fill="#b0b0b0"/>
<path d="M70.7,656.9 L72.7,656.9 L71.7,655.1 Z" fill="#b0b0b0"/>
<path d="M71.2,660.0 L73.2,660.0 L72.2,658.2 Z" fill="#b0b0b0"/>
<path d="M71.1,662.6 L73.1,662.6 L72.1,660.8 Z" fill="#b0b0b0"/>
<path d="M72.2,664.5 L74.2,664.5 L73.2,662.7 Z" fill="#b0b0b0"/>
<path d="M72.4,667.7 L74.4,667.7 L73.4,665.9 Z" fill="#b0b0b0"/>
<line x1="84.8" y1="630.3" x2="84.8" y2="642.4" stroke="#1b4587" stroke-width="0.75"/>
<path d="M85.9,630.3 L86.4,630.8 L86.7,631.0 L86.8,631.3 L86.9,631.8 L86.9,632.3 L86.9,632.8 L87.0,633.3 L87.0,633.8 L87.0,634.3 L87.0,634.8 L87.0,635.3 L87.0,635.9 L87.0,636.4 L87.0,636.9 L87.0,637.4 L87.0,637.9 L87.0,638.4 L86.9,638.9 L86.9,639.4 L86.9,639.9 L86.9,640.4 L86.8,640.9 L86.7,641.0 L86.2,641.4 L85.8,641.9 L85.5,642.4 L84.1,642.4 L83.8,641.9 L83.4,641.4 L82.9,641.0 L82.8,640.9 L82.7,640.4 L82.7,639.9 L82.7,639.4 L82.7,638.9 L82.6,638.4 L82.6,637.9 L82.6,637.4 L82.6,636.9 L82.6,636.4 L82.6,635.9 L82.6,635.3 L82.6,634.8 L82.6,634.3 L82.6,633.8 L82.6,633.3 L82.7,632.8 L82.7,632.3 L82.7,631.8 L82.8,631.3 L82.9,631.0 L83.2,630.8 L83.7,630.3 Z" fill="#1b4587" fill-opacity="0.85" stroke="#1b4587" stroke-width="0.6"/>
<circle cx="84.8" cy="630.3" r="1.15" fill="#143668"/>
<circle cx="84.8" cy="642.4" r="1.15" fill="#143668"/>
<circle cx="84.0" cy="632.5" r="1.15" fill="#143668"/>
<circle cx="85.2" cy="634.9" r="1.15" fill="#143668"/>
<circle cx="85.7" cy="637.2" r="1.15" fill="#143668"/>
<circle cx="85.7" cy="639.5" r="1.15" fill="#143668"/>
<line x1="91.5" y1="633.5" x2="91.5" y2="652.8" stroke="#35a83a" stroke-width="0.75"/>
<path d="M92.1,633.5 L92.6,634.3 L93.4,635.0 L93.5,635.1 L93.6,635.9 L93.6,636.7 L93.6,637.5 L93.7,638.3 L93.7,639.1 L93.7,639.9 L93.7,640.7 L93.7,641.5 L93.7,642.4 L93.7,643.1 L93.7,644.0 L93.7,644.8 L93.7,645.6 L93.7,646.4 L93.6,647.2 L93.6,648.0 L93.6,648.8 L93.5,649.6 L93.4,650.0 L92.9,650.4 L92.3,651.2 L92.0,652.0 L91.8,652.8 L91.2,652.8 L91.0,652.0 L90.7,651.2 L90.1,650.4 L89.6,650.0 L89.5,649.6 L89.4,648.8 L89.4,648.0 L89.4,647.2 L89.3,646.4 L89.3,645.6 L89.3,644.8 L89.3,644.0 L89.3,643.1 L89.3,642.4 L89.3,641.5 L89.3,640.7 L89.3,639.9 L89.3,639.1 L89.3,638.3 L89.4,637.5 L89.4,636.7 L89.4,635.9 L89.5,635.1 L89.6,635.0 L90.4,634.3 L90.9,633.5 Z" fill="#35a83a" fill-opacity="0.7749999999999999" stroke="#35a83a" stroke-width="0.6"/>
<circle cx="91.5" cy="633.5" r="1.15" fill="#2a8a2e"/>
<circle cx="91.5" cy="652.8" r="1.15" fill="#2a8a2e"/>
<circle cx="90.5" cy="636.5" r="1.15" fill="#2a8a2e"/>
<circle cx="91.8" cy="638.3" r="1.15" fill="#2a8a2e"/>
<circle cx="90.7" cy="641.6" r="1.15" fill="#2a8a2e"/>
<circle cx="92.0" cy="643.6" r="1.15" fill="#2a8a2e"/>
<circle cx="92.2" cy="645.9" r="1.15" fill="#2a8a2e"/>
<circle cx="90.6" cy="648.7" r="1.15" fill="#2a8a2e"/>
<line x1="98.8" y1="655.8" x2="98.8" y2="673.9" stroke="#e6007e" stroke-width="0.75"/>
<path d="M99.0,655.8 L99.0,656.5 L99.1,657.3 L99.3,658.1 L99.6,658.8 L100.2,659.6 L100.7,660.0 L100.8,660.3 L100.9,661.1 L100.9,661.8 L100.9,662.6 L101.0,663.3 L101.0,664.1 L101.0,664.9 L101.0,665.6 L101.0,666.4 L101.0,667.1 L101.0,667.9 L101.0,668.6 L100.9,669.4 L100.9,670.1 L100.9,670.9 L100.8,671.6 L100.7,672.0 L100.2,672.4 L99.6,673.1 L99.3,673.9 L98.3,673.9 L98.0,673.1 L97.4,672.4 L96.9,672.0 L96.8,671.6 L96.7,670.9 L96.7,670.1 L96.7,669.4 L96.6,668.6 L96.6,667.9 L96.6,667.1 L96.6,666.4 L96.6,665.6 L96.6,664.9 L96.6,664.1 L96.6,663.3 L96.7,662.6 L96.7,661.8 L96.7,661.1 L96.8,660.3 L96.9,660.0 L97.4,659.6 L98.0,658.8 L98.3,658.1 L98.5,657.3 L98.5,656.5 L98.5,655.8 Z" fill="#e6007e" fill-opacity="0.85" stroke="#e6007e" stroke-width="0.6"/>
<circle cx="98.8" cy="655.8" r="1.15" fill="#c4006a"/>
<circle cx="98.8" cy="673.9" r="1.15" fill="#c4006a"/>
<circle cx="98.9" cy="661.1" r="1.15" fill="#c4006a"/>
<circle cx="99.2" cy="663.5" r="1.15" fill="#c4006a"/>
<circle cx="99.4" cy="665.6" r="1.15" fill="#c4006a"/>
<circle cx="99.1" cy="668.3" r="1.15" fill="#c4006a"/>
<circle cx="98.6" cy="670.9" r="1.15" fill="#c4006a"/>
<line x1="106" y1="664.9" x2="106" y2="675.5" stroke="#4a1550" stroke-width="0.75"/>
<path d="M106.4,664.9 L106.6,665.3 L106.8,665.8 L107.1,666.2 L107.5,666.7 L107.9,667.0 L108.0,667.1 L108.1,667.5 L108.1,668.0 L108.1,668.4 L108.2,668.9 L108.2,669.3 L108.2,669.8 L108.2,670.2 L108.2,670.6 L108.2,671.1 L108.2,671.5 L108.2,672.0 L108.2,672.4 L108.2,672.9 L108.1,673.3 L108.1,673.7 L108.1,674.2 L108.0,674.6 L107.9,675.0 L107.8,675.1 L107.3,675.5 L104.7,675.5 L104.2,675.1 L104.1,675.0 L104.0,674.6 L103.9,674.2 L103.9,673.7 L103.9,673.3 L103.8,672.9 L103.8,672.4 L103.8,672.0 L103.8,671.5 L103.8,671.1 L103.8,670.6 L103.8,670.2 L103.8,669.8 L103.8,669.3 L103.8,668.9 L103.9,668.4 L103.9,668.0 L103.9,667.5 L104.0,667.1 L104.1,667.0 L104.5,666.7 L104.9,666.2 L105.2,665.8 L105.4,665.3 L105.6,664.9 Z" fill="#4a1550" fill-opacity="0.85" stroke="#4a1550" stroke-width="0.6"/>
<circle cx="106.0" cy="664.9" r="1.15" fill="#380e3c"/>
<circle cx="106.0" cy="675.5" r="1.15" fill="#380e3c"/>
<circle cx="106.6" cy="667.9" r="1.15" fill="#380e3c"/>
<circle cx="106.6" cy="670.4" r="1.15" fill="#380e3c"/>
<circle cx="105.6" cy="672.1" r="1.15" fill="#380e3c"/>
<circle cx="106.9" cy="673.6" r="1.15" fill="#380e3c"/>
<line x1="113.1" y1="660.1" x2="113.1" y2="685.1" stroke="#f7941d" stroke-width="0.75"/>
<path d="M113.3,660.1 L113.3,661.1 L113.4,662.2 L113.6,663.2 L114.2,664.3 L115.0,665.0 L115.1,665.3 L115.2,666.4 L115.2,667.4 L115.2,668.4 L115.3,669.5 L115.3,670.5 L115.3,671.6 L115.3,672.6 L115.3,673.6 L115.3,674.7 L115.3,675.7 L115.3,676.8 L115.3,677.8 L115.2,678.9 L115.2,679.9 L115.2,680.9 L115.0,682.0 L115.0,682.0 L114.0,683.0 L113.5,684.1 L113.3,685.1 L112.8,685.1 L112.7,684.1 L112.2,683.0 L111.2,682.0 L111.2,682.0 L111.0,680.9 L111.0,679.9 L111.0,678.9 L110.9,677.8 L110.9,676.8 L110.9,675.7 L110.9,674.7 L110.9,673.6 L110.9,672.6 L110.9,671.6 L110.9,670.5 L110.9,669.5 L111.0,668.4 L111.0,667.4 L111.0,666.4 L111.1,665.3 L111.2,665.0 L112.0,664.3 L112.6,663.2 L112.8,662.2 L112.8,661.1 L112.8,660.1 Z" fill="#f7941d" fill-opacity="0.725" stroke="#f7941d" stroke-width="0.6"/>
<circle cx="113.1" cy="660.1" r="1.15" fill="#e38510"/>
<circle cx="113.1" cy="685.1" r="1.15" fill="#e38510"/>
<circle cx="113.7" cy="666.4" r="1.15" fill="#e38510"/>
<circle cx="113.3" cy="668.5" r="1.15" fill="#e38510"/>
<circle cx="113.8" cy="671.5" r="1.15" fill="#e38510"/>
<circle cx="112.7" cy="673.6" r="1.15" fill="#e38510"/>
<circle cx="113.9" cy="675.9" r="1.15" fill="#e38510"/>
<circle cx="113.5" cy="678.2" r="1.15" fill="#e38510"/>
<circle cx="113.9" cy="680.9" r="1.15" fill="#e38510"/>
<line x1="120" y1="665.5" x2="120" y2="683.5" stroke="#c9c9c9" stroke-width="0.75"/>
<path d="M120.2,665.5 L120.2,666.2 L120.2,667.0 L120.2,667.8 L120.2,668.5 L120.3,669.2 L120.5,670.0 L120.8,670.8 L121.3,671.5 L121.9,672.0 L122.0,672.2 L122.1,673.0 L122.1,673.8 L122.2,674.5 L122.2,675.2 L122.2,676.0 L122.2,676.8 L122.2,677.5 L122.2,678.2 L122.2,679.0 L122.2,679.8 L122.1,680.5 L122.1,681.2 L121.9,682.0 L121.1,682.8 L120.6,683.5 L119.4,683.5 L118.9,682.8 L118.1,682.0 L117.9,681.2 L117.9,680.5 L117.8,679.8 L117.8,679.0 L117.8,678.2 L117.8,677.5 L117.8,676.8 L117.8,676.0 L117.8,675.2 L117.8,674.5 L117.9,673.8 L117.9,673.0 L118.0,672.2 L118.1,672.0 L118.7,671.5 L119.2,670.8 L119.5,670.0 L119.7,669.2 L119.8,668.5 L119.8,667.8 L119.8,667.0 L119.8,666.2 L119.8,665.5 Z" fill="#c9c9c9" fill-opacity="0.6" stroke="#c9c9c9" stroke-width="0.6"/>
<path d="M119.0,666.3 L121.0,666.3 L120.0,664.5 Z" fill="#b0b0b0"/>
<path d="M119.0,684.3 L121.0,684.3 L120.0,682.5 Z" fill="#b0b0b0"/>
<path d="M118.6,674.4 L120.6,674.4 L119.6,672.6 Z" fill="#b0b0b0"/>
<path d="M118.5,676.1 L120.5,676.1 L119.5,674.3 Z" fill="#b0b0b0"/>
<path d="M119.2,679.0 L121.2,679.0 L120.2,677.2 Z" fill="#b0b0b0"/>
<path d="M119.8,681.9 L121.8,681.9 L120.8,680.1 Z" fill="#b0b0b0"/>
<line x1="36.5" y1="625.1" x2="44.599999999999994" y2="625.1" stroke="#2b2b2b" stroke-width="1.3"/>
<text transform="translate(40.55 623.17) scale(0.995 1)" font-size="5.9" text-anchor="middle" font-weight="normal" fill="#2b2b2b" stroke="#2b2b2b" stroke-width="0.18">ns</text>
<line x1="50.0" y1="638" x2="59.3" y2="638" stroke="#2b2b2b" stroke-width="1.3"/>
<text transform="translate(54.65 636.07) scale(0.995 1)" font-size="5.9" text-anchor="middle" font-weight="normal" fill="#2b2b2b" stroke="#2b2b2b" stroke-width="0.18">ns</text>
<line x1="64.8" y1="641.2" x2="73.5" y2="641.2" stroke="#2b2b2b" stroke-width="1.3"/>
<text transform="translate(69.15 639.27) scale(0.995 1)" font-size="5.9" text-anchor="middle" font-weight="normal" fill="#2b2b2b" stroke="#2b2b2b" stroke-width="0.18">ns</text>
<line x1="84.0" y1="627.8" x2="92.3" y2="627.8" stroke="#2b2b2b" stroke-width="1.3"/>
<text transform="translate(88.15 625.87) scale(0.995 1)" font-size="5.9" text-anchor="middle" font-weight="normal" fill="#2b2b2b" stroke="#2b2b2b" stroke-width="0.18">ns</text>
<line x1="98.0" y1="653.3" x2="106.8" y2="653.3" stroke="#2b2b2b" stroke-width="1.3"/>
<path d="M100.95,648.85 L100.95,650.75 M100.13,649.32 L101.77,650.27 M101.77,649.32 L100.13,650.27 " stroke="#2b2b2b" stroke-width="0.75" stroke-linecap="round"/>
<path d="M103.85,648.85 L103.85,650.75 M103.03,649.32 L104.67,650.27 M104.67,649.32 L103.03,650.27 " stroke="#2b2b2b" stroke-width="0.75" stroke-linecap="round"/>
<line x1="112.3" y1="658.2" x2="120.8" y2="658.2" stroke="#2b2b2b" stroke-width="1.3"/>
<text transform="translate(116.55 656.27) scale(0.995 1)" font-size="5.9" text-anchor="middle" font-weight="normal" fill="#2b2b2b" stroke="#2b2b2b" stroke-width="0.18">ns</text>
<line x1="160.7" y1="616.1" x2="160.7" y2="684.5" stroke="#2b2b2b" stroke-width="1.25"/>
<line x1="160.1" y1="684.5" x2="255.3" y2="684.5" stroke="#2b2b2b" stroke-width="1.3"/>
<line x1="157.5" y1="684.5" x2="160.7" y2="684.5" stroke="#2b2b2b" stroke-width="1.0"/>
<text transform="translate(155.50 686.67)" font-size="6.2" text-anchor="end" font-weight="normal" fill="#2b2b2b" stroke="#2b2b2b" stroke-width="0.1">0</text>
<line x1="157.5" y1="671.32" x2="160.7" y2="671.32" stroke="#2b2b2b" stroke-width="1.0"/>
<text transform="translate(155.50 673.49)" font-size="6.2" text-anchor="end" font-weight="normal" fill="#2b2b2b" stroke="#2b2b2b" stroke-width="0.1">20</text>
<line x1="157.5" y1="658.14" x2="160.7" y2="658.14" stroke="#2b2b2b" stroke-width="1.0"/>
<text transform="translate(155.50 660.31)" font-size="6.2" text-anchor="end" font-weight="normal" fill="#2b2b2b" stroke="#2b2b2b" stroke-width="0.1">40</text>
<line x1="157.5" y1="644.96" x2="160.7" y2="644.96" stroke="#2b2b2b" stroke-width="1.0"/>
<text transform="translate(155.50 647.13)" font-size="6.2" text-anchor="end" font-weight="normal" fill="#2b2b2b" stroke="#2b2b2b" stroke-width="0.1">60</text>
<line x1="157.5" y1="631.78" x2="160.7" y2="631.78" stroke="#2b2b2b" stroke-width="1.0"/>
<text transform="translate(155.50 633.95)" font-size="6.2" text-anchor="end" font-weight="normal" fill="#2b2b2b" stroke="#2b2b2b" stroke-width="0.1">80</text>
<line x1="157.5" y1="618.6" x2="160.7" y2="618.6" stroke="#2b2b2b" stroke-width="1.0"/>
<text transform="translate(155.50 620.77)" font-size="6.2" text-anchor="end" font-weight="normal" fill="#2b2b2b" stroke="#2b2b2b" stroke-width="0.1">100</text>
<line x1="185.4" y1="684.5" x2="185.4" y2="686.9" stroke="#2b2b2b" stroke-width="1.0"/>
<text transform="translate(185.40 696.34)" font-size="6.4" text-anchor="middle" font-weight="normal" fill="#2b2b2b" stroke="#2b2b2b" stroke-width="0.14">BM</text>
<line x1="233.5" y1="684.5" x2="233.5" y2="686.9" stroke="#2b2b2b" stroke-width="1.0"/>
<text transform="translate(233.50 696.34)" font-size="6.4" text-anchor="middle" font-weight="normal" fill="#2b2b2b" stroke="#2b2b2b" stroke-width="0.14">Spleen</text>
<text transform="translate(138.16 651.55) rotate(-90) scale(0.893 1)" font-size="5.3" text-anchor="middle" font-weight="normal" fill="#2b2b2b" stroke="#2b2b2b" stroke-width="0.12">% LAG3<tspan font-size="3.29" dy="-2.12">+</tspan><tspan dy="2.12"> of CD8</tspan><tspan font-size="3.29" dy="-2.12">+</tspan><tspan dy="2.12"> CAR-T cells</tspan></text>
<line x1="167.7" y1="650.5" x2="167.7" y2="664.3" stroke="#1b4587" stroke-width="0.75"/>
<path d="M168.3,650.5 L168.7,651.1 L169.2,651.6 L169.6,652.0 L169.7,652.2 L169.8,652.8 L169.8,653.4 L169.8,654.0 L169.9,654.5 L169.9,655.1 L169.9,655.7 L169.9,656.2 L169.9,656.8 L169.9,657.4 L169.9,658.0 L169.9,658.5 L169.9,659.1 L169.9,659.7 L169.8,660.3 L169.8,660.9 L169.7,661.4 L169.6,662.0 L169.0,662.6 L168.5,663.1 L168.3,663.7 L168.1,664.3 L167.3,664.3 L167.1,663.7 L166.9,663.1 L166.4,662.6 L165.8,662.0 L165.7,661.4 L165.6,660.9 L165.6,660.3 L165.5,659.7 L165.5,659.1 L165.5,658.5 L165.5,658.0 L165.5,657.4 L165.5,656.8 L165.5,656.2 L165.5,655.7 L165.5,655.1 L165.5,654.5 L165.6,654.0 L165.6,653.4 L165.6,652.8 L165.7,652.2 L165.8,652.0 L166.2,651.6 L166.7,651.1 L167.1,650.5 Z" fill="#1b4587" fill-opacity="0.85" stroke="#1b4587" stroke-width="0.6"/>
<circle cx="167.7" cy="650.5" r="1.15" fill="#143668"/>
<circle cx="167.7" cy="664.3" r="1.15" fill="#143668"/>
<circle cx="168.4" cy="652.8" r="1.15" fill="#143668"/>
<circle cx="168.4" cy="656.1" r="1.15" fill="#143668"/>
<circle cx="167.3" cy="658.3" r="1.15" fill="#143668"/>
<circle cx="168.3" cy="661.1" r="1.15" fill="#143668"/>
<line x1="174.4" y1="624.5" x2="174.4" y2="666.8" stroke="#35a83a" stroke-width="0.75"/>
<path d="M174.7,624.5 L174.7,626.3 L174.7,628.0 L174.7,629.8 L174.7,631.5 L174.7,633.3 L175.4,635.1 L176.3,636.0 L176.4,636.8 L176.5,638.6 L176.5,640.4 L176.6,642.1 L176.6,643.9 L176.6,645.6 L176.6,647.4 L176.6,649.2 L176.6,650.9 L176.6,652.7 L176.6,654.5 L176.6,656.2 L176.5,658.0 L176.5,659.8 L176.4,661.5 L176.3,663.0 L176.0,663.3 L174.8,665.0 L174.7,666.8 L174.2,666.8 L174.0,665.0 L172.8,663.3 L172.5,663.0 L172.4,661.5 L172.3,659.8 L172.3,658.0 L172.2,656.2 L172.2,654.5 L172.2,652.7 L172.2,650.9 L172.2,649.2 L172.2,647.4 L172.2,645.6 L172.2,643.9 L172.2,642.1 L172.3,640.4 L172.3,638.6 L172.4,636.8 L172.5,636.0 L173.4,635.1 L174.1,633.3 L174.2,631.5 L174.2,629.8 L174.2,628.0 L174.2,626.3 L174.2,624.5 Z" fill="#35a83a" fill-opacity="0.5" stroke="#35a83a" stroke-width="0.6"/>
<circle cx="174.4" cy="624.5" r="1.15" fill="#2a8a2e"/>
<circle cx="174.4" cy="666.8" r="1.15" fill="#2a8a2e"/>
<circle cx="175.2" cy="637.7" r="1.15" fill="#2a8a2e"/>
<circle cx="173.6" cy="640.3" r="1.15" fill="#2a8a2e"/>
<circle cx="175.0" cy="643.6" r="1.15" fill="#2a8a2e"/>
<circle cx="174.9" cy="646.2" r="1.15" fill="#2a8a2e"/>
<circle cx="173.9" cy="649.9" r="1.15" fill="#2a8a2e"/>
<circle cx="174.8" cy="652.6" r="1.15" fill="#2a8a2e"/>
<circle cx="173.8" cy="655.5" r="1.15" fill="#2a8a2e"/>
<circle cx="174.9" cy="658.3" r="1.15" fill="#2a8a2e"/>
<circle cx="174.3" cy="661.8" r="1.15" fill="#2a8a2e"/>
<line x1="182.1" y1="679.7" x2="182.1" y2="684.1" stroke="#e6007e" stroke-width="0.75"/>
<path d="M183.6,679.7 L183.8,679.9 L184.0,680.0 L184.1,680.1 L184.2,680.2 L184.2,680.4 L184.2,680.6 L184.2,680.8 L184.3,681.0 L184.3,681.2 L184.3,681.4 L184.3,681.5 L184.3,681.7 L184.3,681.9 L184.3,682.1 L184.3,682.3 L184.3,682.5 L184.3,682.6 L184.3,682.8 L184.3,683.0 L184.2,683.2 L184.2,683.4 L184.2,683.5 L184.2,683.7 L184.1,683.9 L184.0,684.0 L183.9,684.1 L180.3,684.1 L180.2,684.0 L180.1,683.9 L180.0,683.7 L180.0,683.5 L180.0,683.4 L180.0,683.2 L179.9,683.0 L179.9,682.8 L179.9,682.6 L179.9,682.5 L179.9,682.3 L179.9,682.1 L179.9,681.9 L179.9,681.7 L179.9,681.5 L179.9,681.4 L179.9,681.2 L179.9,681.0 L180.0,680.8 L180.0,680.6 L180.0,680.4 L180.0,680.2 L180.1,680.1 L180.2,680.0 L180.4,679.9 L180.6,679.7 Z" fill="#e6007e" fill-opacity="0.85" stroke="#e6007e" stroke-width="0.6"/>
<circle cx="182.1" cy="679.7" r="1.15" fill="#c4006a"/>
<circle cx="182.1" cy="684.1" r="1.15" fill="#c4006a"/>
<circle cx="182.7" cy="680.1" r="1.15" fill="#c4006a"/>
<circle cx="181.6" cy="681.8" r="1.15" fill="#c4006a"/>
<circle cx="182.9" cy="682.6" r="1.15" fill="#c4006a"/>
<circle cx="182.1" cy="683.9" r="1.15" fill="#c4006a"/>
<line x1="188.8" y1="672" x2="188.8" y2="683.5" stroke="#4a1550" stroke-width="0.75"/>
<path d="M189.1,672.0 L189.1,672.5 L189.1,673.0 L189.1,673.4 L189.2,673.9 L189.4,674.4 L189.7,674.9 L190.0,675.4 L190.5,675.8 L190.7,676.0 L190.8,676.3 L190.9,676.8 L190.9,677.3 L191.0,677.8 L191.0,678.2 L191.0,678.7 L191.0,679.2 L191.0,679.7 L191.0,680.1 L191.0,680.6 L191.0,681.1 L190.9,681.6 L190.9,682.1 L190.9,682.5 L190.7,683.0 L190.7,683.0 L190.1,683.5 L187.5,683.5 L186.9,683.0 L186.9,683.0 L186.7,682.5 L186.7,682.1 L186.7,681.6 L186.6,681.1 L186.6,680.6 L186.6,680.1 L186.6,679.7 L186.6,679.2 L186.6,678.7 L186.6,678.2 L186.6,677.8 L186.7,677.3 L186.7,676.8 L186.8,676.3 L186.9,676.0 L187.1,675.8 L187.6,675.4 L187.9,674.9 L188.2,674.4 L188.4,673.9 L188.5,673.4 L188.6,673.0 L188.6,672.5 L188.6,672.0 Z" fill="#4a1550" fill-opacity="0.85" stroke="#4a1550" stroke-width="0.6"/>
<circle cx="188.8" cy="672.0" r="1.15" fill="#380e3c"/>
<circle cx="188.8" cy="683.5" r="1.15" fill="#380e3c"/>
<circle cx="189.0" cy="676.9" r="1.15" fill="#380e3c"/>
<circle cx="188.2" cy="678.3" r="1.15" fill="#380e3c"/>
<circle cx="189.2" cy="680.1" r="1.15" fill="#380e3c"/>
<circle cx="188.9" cy="682.0" r="1.15" fill="#380e3c"/>
<line x1="196.2" y1="673.5" x2="196.2" y2="683.5" stroke="#f7941d" stroke-width="0.75"/>
<path d="M197.5,673.5 L198.0,673.9 L198.1,674.0 L198.2,674.3 L198.3,674.8 L198.3,675.2 L198.3,675.6 L198.4,676.0 L198.4,676.4 L198.4,676.8 L198.4,677.2 L198.4,677.7 L198.4,678.1 L198.4,678.5 L198.4,678.9 L198.4,679.3 L198.4,679.8 L198.4,680.2 L198.4,680.6 L198.4,681.0 L198.3,681.4 L198.3,681.8 L198.3,682.2 L198.2,682.7 L198.1,683.0 L198.0,683.1 L197.5,683.5 L194.9,683.5 L194.4,683.1 L194.3,683.0 L194.2,682.7 L194.1,682.2 L194.1,681.8 L194.1,681.4 L194.0,681.0 L194.0,680.6 L194.0,680.2 L194.0,679.8 L194.0,679.3 L194.0,678.9 L194.0,678.5 L194.0,678.1 L194.0,677.7 L194.0,677.2 L194.0,676.8 L194.0,676.4 L194.0,676.0 L194.1,675.6 L194.1,675.2 L194.1,674.8 L194.2,674.3 L194.3,674.0 L194.4,673.9 L194.9,673.5 Z" fill="#f7941d" fill-opacity="0.85" stroke="#f7941d" stroke-width="0.6"/>
<circle cx="196.2" cy="673.5" r="1.15" fill="#e38510"/>
<circle cx="196.2" cy="683.5" r="1.15" fill="#e38510"/>
<circle cx="196.2" cy="675.0" r="1.15" fill="#e38510"/>
<circle cx="195.3" cy="677.0" r="1.15" fill="#e38510"/>
<circle cx="196.0" cy="680.1" r="1.15" fill="#e38510"/>
<circle cx="196.5" cy="681.5" r="1.15" fill="#e38510"/>
<line x1="203.3" y1="669.3" x2="203.3" y2="680.3" stroke="#c9c9c9" stroke-width="0.75"/>
<path d="M204.4,669.3 L204.9,669.8 L205.2,670.0 L205.3,670.2 L205.4,670.7 L205.4,671.1 L205.4,671.6 L205.4,672.0 L205.5,672.5 L205.5,673.0 L205.5,673.4 L205.5,673.9 L205.5,674.3 L205.5,674.8 L205.5,675.3 L205.5,675.7 L205.5,676.2 L205.5,676.6 L205.5,677.1 L205.5,677.5 L205.4,678.0 L205.4,678.5 L205.4,678.9 L205.4,679.4 L205.3,679.8 L205.2,680.0 L204.8,680.3 L201.8,680.3 L201.4,680.0 L201.3,679.8 L201.2,679.4 L201.2,678.9 L201.2,678.5 L201.2,678.0 L201.1,677.5 L201.1,677.1 L201.1,676.6 L201.1,676.2 L201.1,675.7 L201.1,675.3 L201.1,674.8 L201.1,674.3 L201.1,673.9 L201.1,673.4 L201.1,673.0 L201.1,672.5 L201.2,672.0 L201.2,671.6 L201.2,671.1 L201.2,670.7 L201.3,670.2 L201.4,670.0 L201.7,669.8 L202.2,669.3 Z" fill="#c9c9c9" fill-opacity="0.6" stroke="#c9c9c9" stroke-width="0.6"/>
<path d="M202.3,670.1 L204.3,670.1 L203.3,668.3 Z" fill="#b0b0b0"/>
<path d="M202.3,681.1 L204.3,681.1 L203.3,679.3 Z" fill="#b0b0b0"/>
<path d="M201.6,672.3 L203.6,672.3 L202.6,670.5 Z" fill="#b0b0b0"/>
<path d="M202.0,674.6 L204.0,674.6 L203.0,672.8 Z" fill="#b0b0b0"/>
<path d="M201.4,677.1 L203.4,677.1 L202.4,675.3 Z" fill="#b0b0b0"/>
<path d="M203.3,679.1 L205.3,679.1 L204.3,677.3 Z" fill="#b0b0b0"/>
<line x1="215.8" y1="641.2" x2="215.8" y2="659.7" stroke="#1b4587" stroke-width="0.75"/>
<path d="M216.1,641.2 L216.1,642.0 L216.2,642.7 L216.5,643.5 L216.9,644.3 L217.7,645.0 L217.7,645.0 L217.9,645.8 L217.9,646.6 L217.9,647.4 L218.0,648.1 L218.0,648.9 L218.0,649.7 L218.0,650.5 L218.0,651.2 L218.0,652.0 L218.0,652.8 L218.0,653.5 L218.0,654.3 L217.9,655.1 L217.9,655.9 L217.8,656.6 L217.7,657.0 L217.2,657.4 L216.6,658.2 L216.3,658.9 L216.1,659.7 L215.5,659.7 L215.3,658.9 L215.0,658.2 L214.4,657.4 L213.9,657.0 L213.8,656.6 L213.7,655.9 L213.7,655.1 L213.6,654.3 L213.6,653.5 L213.6,652.8 L213.6,652.0 L213.6,651.2 L213.6,650.5 L213.6,649.7 L213.6,648.9 L213.6,648.1 L213.7,647.4 L213.7,646.6 L213.7,645.8 L213.9,645.0 L213.9,645.0 L214.7,644.3 L215.1,643.5 L215.4,642.7 L215.6,642.0 L215.6,641.2 Z" fill="#1b4587" fill-opacity="0.85" stroke="#1b4587" stroke-width="0.6"/>
<circle cx="215.8" cy="641.2" r="1.15" fill="#143668"/>
<circle cx="215.8" cy="659.7" r="1.15" fill="#143668"/>
<circle cx="215.8" cy="646.6" r="1.15" fill="#143668"/>
<circle cx="215.3" cy="648.7" r="1.15" fill="#143668"/>
<circle cx="215.7" cy="651.3" r="1.15" fill="#143668"/>
<circle cx="216.3" cy="653.8" r="1.15" fill="#143668"/>
<circle cx="216.7" cy="656.1" r="1.15" fill="#143668"/>
<line x1="222.5" y1="648.2" x2="222.5" y2="664.9" stroke="#35a83a" stroke-width="0.75"/>
<path d="M223.0,648.2 L223.4,648.9 L223.9,649.6 L224.4,650.0 L224.5,650.3 L224.6,651.0 L224.6,651.7 L224.6,652.4 L224.7,653.1 L224.7,653.8 L224.7,654.5 L224.7,655.2 L224.7,655.9 L224.7,656.5 L224.7,657.2 L224.7,657.9 L224.7,658.6 L224.7,659.3 L224.6,660.0 L224.6,660.7 L224.5,661.4 L224.4,662.0 L224.2,662.1 L223.6,662.8 L223.1,663.5 L222.9,664.2 L222.8,664.9 L222.2,664.9 L222.1,664.2 L221.9,663.5 L221.4,662.8 L220.8,662.1 L220.6,662.0 L220.5,661.4 L220.4,660.7 L220.4,660.0 L220.3,659.3 L220.3,658.6 L220.3,657.9 L220.3,657.2 L220.3,656.5 L220.3,655.9 L220.3,655.2 L220.3,654.5 L220.3,653.8 L220.3,653.1 L220.4,652.4 L220.4,651.7 L220.4,651.0 L220.5,650.3 L220.6,650.0 L221.1,649.6 L221.6,648.9 L222.0,648.2 Z" fill="#35a83a" fill-opacity="0.85" stroke="#35a83a" stroke-width="0.6"/>
<circle cx="222.5" cy="648.2" r="1.15" fill="#2a8a2e"/>
<circle cx="222.5" cy="664.9" r="1.15" fill="#2a8a2e"/>
<circle cx="221.6" cy="651.0" r="1.15" fill="#2a8a2e"/>
<circle cx="221.9" cy="653.3" r="1.15" fill="#2a8a2e"/>
<circle cx="221.6" cy="655.6" r="1.15" fill="#2a8a2e"/>
<circle cx="223.2" cy="658.5" r="1.15" fill="#2a8a2e"/>
<circle cx="223.4" cy="660.8" r="1.15" fill="#2a8a2e"/>
<line x1="229.6" y1="659.7" x2="229.6" y2="682.2" stroke="#e6007e" stroke-width="0.75"/>
<path d="M229.8,659.7 L229.8,660.6 L229.8,661.6 L229.8,662.5 L229.8,663.5 L229.8,664.4 L229.8,665.3 L229.8,666.3 L229.8,667.2 L229.8,668.1 L229.8,669.1 L230.1,670.0 L230.5,671.0 L231.3,671.9 L231.5,672.0 L231.7,672.8 L231.7,673.8 L231.8,674.7 L231.8,675.6 L231.8,676.6 L231.8,677.5 L231.8,678.5 L231.8,679.4 L231.7,680.3 L231.7,681.3 L231.5,682.0 L231.2,682.2 L228.0,682.2 L227.7,682.0 L227.5,681.3 L227.5,680.3 L227.4,679.4 L227.4,678.5 L227.4,677.5 L227.4,676.6 L227.4,675.6 L227.4,674.7 L227.5,673.8 L227.5,672.8 L227.7,672.0 L227.9,671.9 L228.7,671.0 L229.1,670.0 L229.3,669.1 L229.3,668.1 L229.3,667.2 L229.3,666.3 L229.3,665.3 L229.3,664.4 L229.3,663.5 L229.3,662.5 L229.3,661.6 L229.3,660.6 L229.3,659.7 Z" fill="#e6007e" fill-opacity="0.85" stroke="#e6007e" stroke-width="0.6"/>
<circle cx="229.6" cy="659.7" r="1.15" fill="#c4006a"/>
<circle cx="229.6" cy="682.2" r="1.15" fill="#c4006a"/>
<circle cx="228.7" cy="673.7" r="1.15" fill="#c4006a"/>
<circle cx="229.4" cy="675.8" r="1.15" fill="#c4006a"/>
<circle cx="230.5" cy="677.9" r="1.15" fill="#c4006a"/>
<circle cx="229.7" cy="680.5" r="1.15" fill="#c4006a"/>
<line x1="237.3" y1="677.8" x2="237.3" y2="683.5" stroke="#4a1550" stroke-width="0.75"/>
<path d="M238.6,677.8 L238.9,678.0 L239.2,678.3 L239.2,678.3 L239.3,678.5 L239.4,678.8 L239.4,679.0 L239.4,679.2 L239.5,679.5 L239.5,679.7 L239.5,679.9 L239.5,680.2 L239.5,680.4 L239.5,680.6 L239.5,680.9 L239.5,681.1 L239.5,681.4 L239.5,681.6 L239.5,681.8 L239.5,682.1 L239.4,682.3 L239.4,682.5 L239.4,682.8 L239.3,683.0 L239.3,683.3 L239.2,683.3 L238.9,683.5 L235.7,683.5 L235.4,683.3 L235.3,683.3 L235.3,683.0 L235.2,682.8 L235.2,682.5 L235.2,682.3 L235.1,682.1 L235.1,681.8 L235.1,681.6 L235.1,681.4 L235.1,681.1 L235.1,680.9 L235.1,680.6 L235.1,680.4 L235.1,680.2 L235.1,679.9 L235.1,679.7 L235.1,679.5 L235.2,679.2 L235.2,679.0 L235.2,678.8 L235.3,678.5 L235.4,678.3 L235.4,678.3 L235.7,678.0 L236.0,677.8 Z" fill="#4a1550" fill-opacity="0.85" stroke="#4a1550" stroke-width="0.6"/>
<circle cx="237.3" cy="677.8" r="1.15" fill="#380e3c"/>
<circle cx="237.3" cy="683.5" r="1.15" fill="#380e3c"/>
<circle cx="238.2" cy="679.1" r="1.15" fill="#380e3c"/>
<circle cx="237.1" cy="680.3" r="1.15" fill="#380e3c"/>
<circle cx="236.6" cy="681.4" r="1.15" fill="#380e3c"/>
<circle cx="238.3" cy="683.1" r="1.15" fill="#380e3c"/>
<line x1="243.7" y1="677" x2="243.7" y2="684.1" stroke="#f7941d" stroke-width="0.75"/>
<path d="M245.0,677.0 L245.3,677.3 L245.6,677.5 L245.7,677.6 L245.7,677.9 L245.8,678.2 L245.8,678.5 L245.8,678.8 L245.9,679.1 L245.9,679.4 L245.9,679.7 L245.9,680.0 L245.9,680.2 L245.9,680.5 L245.9,680.9 L245.9,681.1 L245.9,681.4 L245.9,681.7 L245.9,682.0 L245.9,682.3 L245.8,682.6 L245.8,682.9 L245.8,683.2 L245.8,683.5 L245.7,683.8 L245.6,684.0 L245.5,684.1 L241.9,684.1 L241.8,684.0 L241.7,683.8 L241.6,683.5 L241.6,683.2 L241.6,682.9 L241.6,682.6 L241.5,682.3 L241.5,682.0 L241.5,681.7 L241.5,681.4 L241.5,681.1 L241.5,680.9 L241.5,680.5 L241.5,680.2 L241.5,680.0 L241.5,679.7 L241.5,679.4 L241.5,679.1 L241.6,678.8 L241.6,678.5 L241.6,678.2 L241.7,677.9 L241.7,677.6 L241.8,677.5 L242.1,677.3 L242.4,677.0 Z" fill="#f7941d" fill-opacity="0.85" stroke="#f7941d" stroke-width="0.6"/>
<circle cx="243.7" cy="677.0" r="1.15" fill="#e38510"/>
<circle cx="243.7" cy="684.1" r="1.15" fill="#e38510"/>
<circle cx="242.8" cy="678.0" r="1.15" fill="#e38510"/>
<circle cx="243.4" cy="679.7" r="1.15" fill="#e38510"/>
<circle cx="244.5" cy="682.0" r="1.15" fill="#e38510"/>
<circle cx="242.8" cy="683.5" r="1.15" fill="#e38510"/>
<line x1="250.8" y1="675.1" x2="250.8" y2="683.5" stroke="#c9c9c9" stroke-width="0.75"/>
<path d="M251.8,675.1 L252.1,675.5 L252.4,675.8 L252.7,676.0 L252.8,676.1 L252.9,676.5 L252.9,676.9 L252.9,677.2 L252.9,677.5 L253.0,677.9 L253.0,678.2 L253.0,678.6 L253.0,679.0 L253.0,679.3 L253.0,679.6 L253.0,680.0 L253.0,680.4 L253.0,680.7 L253.0,681.0 L253.0,681.4 L252.9,681.8 L252.9,682.1 L252.9,682.5 L252.9,682.8 L252.8,683.1 L252.7,683.3 L252.4,683.5 L249.2,683.5 L248.9,683.3 L248.8,683.1 L248.7,682.8 L248.7,682.5 L248.7,682.1 L248.7,681.8 L248.6,681.4 L248.6,681.0 L248.6,680.7 L248.6,680.4 L248.6,680.0 L248.6,679.6 L248.6,679.3 L248.6,679.0 L248.6,678.6 L248.6,678.2 L248.6,677.9 L248.7,677.5 L248.7,677.2 L248.7,676.9 L248.7,676.5 L248.8,676.1 L248.9,676.0 L249.2,675.8 L249.5,675.5 L249.8,675.1 Z" fill="#c9c9c9" fill-opacity="0.6" stroke="#c9c9c9" stroke-width="0.6"/>
<path d="M249.8,675.9 L251.8,675.9 L250.8,674.1 Z" fill="#b0b0b0"/>
<path d="M249.8,684.3 L251.8,684.3 L250.8,682.5 Z" fill="#b0b0b0"/>
<path d="M250.2,678.0 L252.2,678.0 L251.2,676.2 Z" fill="#b0b0b0"/>
<path d="M250.8,679.7 L252.8,679.7 L251.8,677.9 Z" fill="#b0b0b0"/>
<path d="M249.1,680.9 L251.1,680.9 L250.1,679.1 Z" fill="#b0b0b0"/>
<path d="M250.7,683.4 L252.7,683.4 L251.7,681.6 Z" fill="#b0b0b0"/>
<line x1="166.89999999999998" y1="622.6" x2="175.20000000000002" y2="622.6" stroke="#2b2b2b" stroke-width="1.3"/>
<text transform="translate(171.05 620.67) scale(0.995 1)" font-size="5.9" text-anchor="middle" font-weight="normal" fill="#2b2b2b" stroke="#2b2b2b" stroke-width="0.18">ns</text>
<line x1="181.29999999999998" y1="670.1" x2="189.60000000000002" y2="670.1" stroke="#2b2b2b" stroke-width="1.3"/>
<text transform="translate(185.45 668.17) scale(0.995 1)" font-size="5.9" text-anchor="middle" font-weight="normal" fill="#2b2b2b" stroke="#2b2b2b" stroke-width="0.18">ns</text>
<line x1="195.39999999999998" y1="667.8" x2="204.10000000000002" y2="667.8" stroke="#2b2b2b" stroke-width="1.3"/>
<path d="M199.75,663.35 L199.75,665.25 M198.93,663.82 L200.57,664.77 M200.57,663.82 L198.93,664.77 " stroke="#2b2b2b" stroke-width="0.75" stroke-linecap="round"/>
<line x1="215.0" y1="640.5" x2="223.3" y2="640.5" stroke="#2b2b2b" stroke-width="1.3"/>
<path d="M219.15,636.05 L219.15,637.95 M218.33,636.52 L219.97,637.48 M219.97,636.52 L218.33,637.48 " stroke="#2b2b2b" stroke-width="0.75" stroke-linecap="round"/>
<line x1="228.79999999999998" y1="658.2" x2="238.10000000000002" y2="658.2" stroke="#2b2b2b" stroke-width="1.3"/>
<path d="M233.45,653.75 L233.45,655.65 M232.63,654.23 L234.27,655.18 M234.27,654.23 L232.63,655.18 " stroke="#2b2b2b" stroke-width="0.75" stroke-linecap="round"/>
<line x1="242.89999999999998" y1="673.9" x2="251.60000000000002" y2="673.9" stroke="#2b2b2b" stroke-width="1.3"/>
<text transform="translate(247.25 671.97) scale(0.995 1)" font-size="5.9" text-anchor="middle" font-weight="normal" fill="#2b2b2b" stroke="#2b2b2b" stroke-width="0.18">ns</text>
<text transform="translate(390.80 589.58) scale(1.052 1)" font-size="8.8" text-anchor="middle" font-weight="normal" fill="#2b2b2b" stroke="#2b2b2b" stroke-width="0.1">CD62L<tspan font-size="5.46" dy="-3.52">–</tspan></text>
<text transform="translate(342.50 604.40)" font-size="7.7" text-anchor="middle" font-weight="normal" fill="#2b2b2b" stroke="#2b2b2b" stroke-width="0.1">CD4<tspan font-size="4.77" dy="-3.08">+</tspan><tspan dy="3.08"> CAR-T cells</tspan></text>
<text transform="translate(474.00 604.00)" font-size="7.7" text-anchor="middle" font-weight="normal" fill="#2b2b2b" stroke="#2b2b2b" stroke-width="0.1">CD8<tspan font-size="4.77" dy="-3.08">+</tspan><tspan dy="3.08"> CAR-T cells</tspan></text>
<line x1="292.7" y1="616.7" x2="292.7" y2="684.3" stroke="#2b2b2b" stroke-width="1.25"/>
<line x1="292.09999999999997" y1="684.3" x2="387.2" y2="684.3" stroke="#2b2b2b" stroke-width="1.3"/>
<line x1="289.5" y1="684.8" x2="292.7" y2="684.8" stroke="#2b2b2b" stroke-width="1.0"/>
<text transform="translate(287.50 686.97)" font-size="6.2" text-anchor="end" font-weight="normal" fill="#2b2b2b" stroke="#2b2b2b" stroke-width="0.1">0</text>
<line x1="289.5" y1="671.68" x2="292.7" y2="671.68" stroke="#2b2b2b" stroke-width="1.0"/>
<text transform="translate(287.50 673.85)" font-size="6.2" text-anchor="end" font-weight="normal" fill="#2b2b2b" stroke="#2b2b2b" stroke-width="0.1">20</text>
<line x1="289.5" y1="658.56" x2="292.7" y2="658.56" stroke="#2b2b2b" stroke-width="1.0"/>
<text transform="translate(287.50 660.73)" font-size="6.2" text-anchor="end" font-weight="normal" fill="#2b2b2b" stroke="#2b2b2b" stroke-width="0.1">40</text>
<line x1="289.5" y1="645.44" x2="292.7" y2="645.44" stroke="#2b2b2b" stroke-width="1.0"/>
<text transform="translate(287.50 647.61)" font-size="6.2" text-anchor="end" font-weight="normal" fill="#2b2b2b" stroke="#2b2b2b" stroke-width="0.1">60</text>
<line x1="289.5" y1="632.32" x2="292.7" y2="632.32" stroke="#2b2b2b" stroke-width="1.0"/>
<text transform="translate(287.50 634.49)" font-size="6.2" text-anchor="end" font-weight="normal" fill="#2b2b2b" stroke="#2b2b2b" stroke-width="0.1">80</text>
<line x1="289.5" y1="619.2" x2="292.7" y2="619.2" stroke="#2b2b2b" stroke-width="1.0"/>
<text transform="translate(287.50 621.37)" font-size="6.2" text-anchor="end" font-weight="normal" fill="#2b2b2b" stroke="#2b2b2b" stroke-width="0.1">100</text>
<line x1="316.9" y1="684.3" x2="316.9" y2="686.6999999999999" stroke="#2b2b2b" stroke-width="1.0"/>
<text transform="translate(316.90 696.14)" font-size="6.4" text-anchor="middle" font-weight="normal" fill="#2b2b2b" stroke="#2b2b2b" stroke-width="0.14">BM</text>
<line x1="366" y1="684.3" x2="366" y2="686.6999999999999" stroke="#2b2b2b" stroke-width="1.0"/>
<text transform="translate(366.00 696.14)" font-size="6.4" text-anchor="middle" font-weight="normal" fill="#2b2b2b" stroke="#2b2b2b" stroke-width="0.14">Spleen</text>
<text transform="translate(270.75 651.75) rotate(-90) scale(0.914 1)" font-size="5.3" text-anchor="middle" font-weight="normal" fill="#2b2b2b" stroke="#2b2b2b" stroke-width="0.12">% CD62L<tspan font-size="3.29" dy="-2.12">–</tspan><tspan dy="2.12"> of CD4</tspan><tspan font-size="3.29" dy="-2.12">+</tspan><tspan dy="2.12"> CAR-T cells</tspan></text>
<line x1="299.2" y1="625.8" x2="299.2" y2="652" stroke="#1b4587" stroke-width="0.75"/>
<path d="M299.6,625.8 L300.1,626.9 L301.1,628.0 L301.1,628.0 L301.2,629.1 L301.3,630.2 L301.3,631.3 L301.3,632.4 L301.4,633.4 L301.4,634.5 L301.4,635.6 L301.4,636.7 L301.4,637.8 L301.4,638.9 L301.4,640.0 L301.4,641.1 L301.4,642.2 L301.4,643.3 L301.4,644.4 L301.3,645.5 L301.3,646.5 L301.3,647.6 L301.2,648.7 L301.2,649.8 L301.1,650.0 L300.2,650.9 L299.7,652.0 L298.7,652.0 L298.2,650.9 L297.3,650.0 L297.2,649.8 L297.2,648.7 L297.1,647.6 L297.1,646.5 L297.1,645.5 L297.0,644.4 L297.0,643.3 L297.0,642.2 L297.0,641.1 L297.0,640.0 L297.0,638.9 L297.0,637.8 L297.0,636.7 L297.0,635.6 L297.0,634.5 L297.0,633.4 L297.1,632.4 L297.1,631.3 L297.1,630.2 L297.2,629.1 L297.3,628.0 L297.3,628.0 L298.3,626.9 L298.8,625.8 Z" fill="#1b4587" fill-opacity="0.5999999999999999" stroke="#1b4587" stroke-width="0.6"/>
<circle cx="299.2" cy="625.8" r="1.15" fill="#143668"/>
<circle cx="299.2" cy="652.0" r="1.15" fill="#143668"/>
<circle cx="298.8" cy="629.4" r="1.15" fill="#143668"/>
<circle cx="299.7" cy="631.8" r="1.15" fill="#143668"/>
<circle cx="298.9" cy="633.7" r="1.15" fill="#143668"/>
<circle cx="298.5" cy="636.3" r="1.15" fill="#143668"/>
<circle cx="298.5" cy="639.0" r="1.15" fill="#143668"/>
<circle cx="298.5" cy="641.2" r="1.15" fill="#143668"/>
<circle cx="298.2" cy="644.1" r="1.15" fill="#143668"/>
<circle cx="298.6" cy="646.6" r="1.15" fill="#143668"/>
<circle cx="300.0" cy="648.3" r="1.15" fill="#143668"/>
<line x1="306.9" y1="631.6" x2="306.9" y2="649.5" stroke="#35a83a" stroke-width="0.75"/>
<path d="M307.1,631.6 L307.2,632.4 L307.4,633.1 L307.7,633.8 L308.3,634.6 L308.8,635.0 L308.9,635.3 L309.0,636.1 L309.0,636.8 L309.0,637.6 L309.1,638.3 L309.1,639.1 L309.1,639.8 L309.1,640.5 L309.1,641.3 L309.1,642.0 L309.1,642.8 L309.1,643.5 L309.1,644.3 L309.1,645.0 L309.0,645.8 L309.0,646.5 L308.9,647.3 L308.8,648.0 L308.8,648.0 L308.0,648.8 L307.5,649.5 L306.3,649.5 L305.8,648.8 L305.0,648.0 L305.0,648.0 L304.9,647.3 L304.8,646.5 L304.8,645.8 L304.7,645.0 L304.7,644.3 L304.7,643.5 L304.7,642.8 L304.7,642.0 L304.7,641.3 L304.7,640.5 L304.7,639.8 L304.7,639.1 L304.7,638.3 L304.8,637.6 L304.8,636.8 L304.8,636.1 L304.9,635.3 L305.0,635.0 L305.5,634.6 L306.1,633.8 L306.4,633.1 L306.6,632.4 L306.6,631.6 Z" fill="#35a83a" fill-opacity="0.825" stroke="#35a83a" stroke-width="0.6"/>
<circle cx="306.9" cy="631.6" r="1.15" fill="#2a8a2e"/>
<circle cx="306.9" cy="649.5" r="1.15" fill="#2a8a2e"/>
<circle cx="307.8" cy="636.0" r="1.15" fill="#2a8a2e"/>
<circle cx="307.7" cy="639.3" r="1.15" fill="#2a8a2e"/>
<circle cx="306.8" cy="641.1" r="1.15" fill="#2a8a2e"/>
<circle cx="307.7" cy="643.7" r="1.15" fill="#2a8a2e"/>
<circle cx="307.2" cy="647.0" r="1.15" fill="#2a8a2e"/>
<line x1="314" y1="617.8" x2="314" y2="632.2" stroke="#e6007e" stroke-width="0.75"/>
<path d="M314.4,617.8 L314.6,618.4 L314.9,619.0 L315.4,619.6 L315.9,620.0 L316.0,620.2 L316.1,620.8 L316.1,621.4 L316.1,622.0 L316.2,622.6 L316.2,623.2 L316.2,623.8 L316.2,624.4 L316.2,625.0 L316.2,625.6 L316.2,626.2 L316.2,626.8 L316.2,627.4 L316.1,628.0 L316.1,628.6 L316.1,629.2 L316.0,629.8 L315.9,630.0 L315.4,630.4 L314.9,631.0 L314.6,631.6 L314.4,632.2 L313.6,632.2 L313.4,631.6 L313.1,631.0 L312.6,630.4 L312.1,630.0 L312.0,629.8 L311.9,629.2 L311.9,628.6 L311.9,628.0 L311.8,627.4 L311.8,626.8 L311.8,626.2 L311.8,625.6 L311.8,625.0 L311.8,624.4 L311.8,623.8 L311.8,623.2 L311.8,622.6 L311.9,622.0 L311.9,621.4 L311.9,620.8 L312.0,620.2 L312.1,620.0 L312.6,619.6 L313.1,619.0 L313.4,618.4 L313.6,617.8 Z" fill="#e6007e" fill-opacity="0.85" stroke="#e6007e" stroke-width="0.6"/>
<circle cx="314.0" cy="617.8" r="1.15" fill="#c4006a"/>
<circle cx="314.0" cy="632.2" r="1.15" fill="#c4006a"/>
<circle cx="313.7" cy="621.2" r="1.15" fill="#c4006a"/>
<circle cx="314.0" cy="624.1" r="1.15" fill="#c4006a"/>
<circle cx="313.3" cy="626.4" r="1.15" fill="#c4006a"/>
<circle cx="313.1" cy="628.5" r="1.15" fill="#c4006a"/>
<line x1="320.8" y1="623.2" x2="320.8" y2="631.6" stroke="#4a1550" stroke-width="0.75"/>
<path d="M321.9,623.2 L322.2,623.5 L322.6,623.9 L322.7,624.0 L322.8,624.2 L322.9,624.6 L322.9,625.0 L322.9,625.3 L323.0,625.6 L323.0,626.0 L323.0,626.4 L323.0,626.7 L323.0,627.0 L323.0,627.4 L323.0,627.8 L323.0,628.1 L323.0,628.5 L322.9,628.8 L322.9,629.1 L322.9,629.5 L322.8,629.9 L322.7,630.0 L322.4,630.2 L322.1,630.5 L321.8,630.9 L321.6,631.2 L321.4,631.6 L320.2,631.6 L320.0,631.2 L319.8,630.9 L319.5,630.5 L319.2,630.2 L318.9,630.0 L318.8,629.9 L318.7,629.5 L318.7,629.1 L318.7,628.8 L318.6,628.5 L318.6,628.1 L318.6,627.8 L318.6,627.4 L318.6,627.0 L318.6,626.7 L318.6,626.4 L318.6,626.0 L318.6,625.6 L318.7,625.3 L318.7,625.0 L318.7,624.6 L318.8,624.2 L318.9,624.0 L319.0,623.9 L319.4,623.5 L319.7,623.2 Z" fill="#4a1550" fill-opacity="0.85" stroke="#4a1550" stroke-width="0.6"/>
<circle cx="320.8" cy="623.2" r="1.15" fill="#380e3c"/>
<circle cx="320.8" cy="631.6" r="1.15" fill="#380e3c"/>
<circle cx="320.9" cy="625.0" r="1.15" fill="#380e3c"/>
<circle cx="321.5" cy="625.9" r="1.15" fill="#380e3c"/>
<circle cx="320.6" cy="627.5" r="1.15" fill="#380e3c"/>
<circle cx="320.3" cy="628.9" r="1.15" fill="#380e3c"/>
<line x1="328.1" y1="618.2" x2="328.1" y2="630.8" stroke="#f7941d" stroke-width="0.75"/>
<path d="M328.6,618.2 L328.9,618.7 L329.2,619.2 L329.7,619.8 L330.0,620.0 L330.1,620.3 L330.2,620.8 L330.2,621.4 L330.3,621.9 L330.3,622.4 L330.3,622.9 L330.3,623.5 L330.3,624.0 L330.3,624.5 L330.3,625.0 L330.3,625.5 L330.3,626.1 L330.2,626.6 L330.2,627.1 L330.1,627.6 L330.0,628.0 L329.8,628.2 L329.2,628.7 L328.9,629.2 L328.6,629.8 L328.5,630.3 L328.4,630.8 L327.8,630.8 L327.7,630.3 L327.6,629.8 L327.3,629.2 L327.0,628.7 L326.4,628.2 L326.2,628.0 L326.1,627.6 L326.0,627.1 L326.0,626.6 L325.9,626.1 L325.9,625.5 L325.9,625.0 L325.9,624.5 L325.9,624.0 L325.9,623.5 L325.9,622.9 L325.9,622.4 L325.9,621.9 L326.0,621.4 L326.0,620.8 L326.1,620.3 L326.2,620.0 L326.5,619.8 L327.0,619.2 L327.3,618.7 L327.6,618.2 Z" fill="#f7941d" fill-opacity="0.85" stroke="#f7941d" stroke-width="0.6"/>
<circle cx="328.1" cy="618.2" r="1.15" fill="#e38510"/>
<circle cx="328.1" cy="630.8" r="1.15" fill="#e38510"/>
<circle cx="327.8" cy="621.3" r="1.15" fill="#e38510"/>
<circle cx="328.1" cy="622.7" r="1.15" fill="#e38510"/>
<circle cx="328.9" cy="624.8" r="1.15" fill="#e38510"/>
<circle cx="329.0" cy="626.6" r="1.15" fill="#e38510"/>
<line x1="335.2" y1="623.2" x2="335.2" y2="639.9" stroke="#c9c9c9" stroke-width="0.75"/>
<path d="M335.7,623.2 L336.1,623.9 L336.6,624.6 L337.1,625.0 L337.2,625.3 L337.3,626.0 L337.3,626.7 L337.4,627.4 L337.4,628.1 L337.4,628.8 L337.4,629.5 L337.4,630.2 L337.4,630.9 L337.4,631.5 L337.4,632.2 L337.3,632.9 L337.3,633.6 L337.3,634.3 L337.1,635.0 L337.1,635.0 L336.3,635.7 L335.9,636.4 L335.6,637.1 L335.5,637.8 L335.4,638.5 L335.4,639.2 L335.4,639.9 L334.9,639.9 L334.9,639.2 L334.9,638.5 L334.9,637.8 L334.8,637.1 L334.5,636.4 L334.1,635.7 L333.3,635.0 L333.3,635.0 L333.1,634.3 L333.1,633.6 L333.1,632.9 L333.0,632.2 L333.0,631.5 L333.0,630.9 L333.0,630.2 L333.0,629.5 L333.0,628.8 L333.0,628.1 L333.0,627.4 L333.1,626.7 L333.1,626.0 L333.2,625.3 L333.3,625.0 L333.8,624.6 L334.3,623.9 L334.7,623.2 Z" fill="#c9c9c9" fill-opacity="0.6" stroke="#c9c9c9" stroke-width="0.6"/>
<path d="M334.2,624.0 L336.2,624.0 L335.2,622.2 Z" fill="#b0b0b0"/>
<path d="M334.2,640.7 L336.2,640.7 L335.2,638.9 Z" fill="#b0b0b0"/>
<path d="M335.0,626.6 L337.0,626.6 L336.0,624.8 Z" fill="#b0b0b0"/>
<path d="M333.6,629.7 L335.6,629.7 L334.6,627.9 Z" fill="#b0b0b0"/>
<path d="M333.8,632.0 L335.8,632.0 L334.8,630.2 Z" fill="#b0b0b0"/>
<path d="M333.6,634.3 L335.6,634.3 L334.6,632.5 Z" fill="#b0b0b0"/>
<line x1="346.7" y1="639.3" x2="346.7" y2="654.7" stroke="#1b4587" stroke-width="0.75"/>
<path d="M346.9,639.3 L346.9,639.9 L346.9,640.6 L346.9,641.2 L346.9,641.9 L347.0,642.5 L347.2,643.1 L347.5,643.8 L348.0,644.4 L348.6,645.0 L348.7,645.1 L348.8,645.7 L348.8,646.4 L348.9,647.0 L348.9,647.6 L348.9,648.3 L348.9,648.9 L348.9,649.6 L348.9,650.2 L348.9,650.9 L348.9,651.5 L348.8,652.1 L348.8,652.8 L348.8,653.4 L348.6,654.0 L348.5,654.1 L347.8,654.7 L345.6,654.7 L344.9,654.1 L344.8,654.0 L344.6,653.4 L344.6,652.8 L344.6,652.1 L344.5,651.5 L344.5,650.9 L344.5,650.2 L344.5,649.6 L344.5,648.9 L344.5,648.3 L344.5,647.6 L344.5,647.0 L344.6,646.4 L344.6,645.7 L344.7,645.1 L344.8,645.0 L345.4,644.4 L345.9,643.8 L346.2,643.1 L346.4,642.5 L346.4,641.9 L346.4,641.2 L346.4,640.6 L346.4,639.9 L346.4,639.3 Z" fill="#1b4587" fill-opacity="0.85" stroke="#1b4587" stroke-width="0.6"/>
<circle cx="346.7" cy="639.3" r="1.15" fill="#143668"/>
<circle cx="346.7" cy="654.7" r="1.15" fill="#143668"/>
<circle cx="347.7" cy="646.0" r="1.15" fill="#143668"/>
<circle cx="347.5" cy="648.9" r="1.15" fill="#143668"/>
<circle cx="346.3" cy="650.2" r="1.15" fill="#143668"/>
<circle cx="345.8" cy="653.3" r="1.15" fill="#143668"/>
<line x1="354.4" y1="627.4" x2="354.4" y2="648.9" stroke="#35a83a" stroke-width="0.75"/>
<path d="M354.6,627.4 L354.6,628.3 L354.7,629.2 L354.9,630.1 L355.3,631.0 L356.1,631.9 L356.3,632.0 L356.4,632.8 L356.5,633.7 L356.5,634.6 L356.6,635.5 L356.6,636.4 L356.6,637.2 L356.6,638.1 L356.6,639.0 L356.6,639.9 L356.6,640.8 L356.6,641.7 L356.6,642.6 L356.5,643.5 L356.5,644.4 L356.4,645.3 L356.3,646.0 L356.0,646.2 L355.3,647.1 L354.9,648.0 L354.6,648.9 L354.1,648.9 L353.9,648.0 L353.5,647.1 L352.8,646.2 L352.5,646.0 L352.4,645.3 L352.3,644.4 L352.3,643.5 L352.2,642.6 L352.2,641.7 L352.2,640.8 L352.2,639.9 L352.2,639.0 L352.2,638.1 L352.2,637.2 L352.2,636.4 L352.2,635.5 L352.3,634.6 L352.3,633.7 L352.4,632.8 L352.5,632.0 L352.7,631.9 L353.5,631.0 L353.9,630.1 L354.1,629.2 L354.1,628.3 L354.1,627.4 Z" fill="#35a83a" fill-opacity="0.7999999999999999" stroke="#35a83a" stroke-width="0.6"/>
<circle cx="354.4" cy="627.4" r="1.15" fill="#2a8a2e"/>
<circle cx="354.4" cy="648.9" r="1.15" fill="#2a8a2e"/>
<circle cx="354.0" cy="633.6" r="1.15" fill="#2a8a2e"/>
<circle cx="353.4" cy="636.7" r="1.15" fill="#2a8a2e"/>
<circle cx="354.1" cy="639.3" r="1.15" fill="#2a8a2e"/>
<circle cx="353.4" cy="641.4" r="1.15" fill="#2a8a2e"/>
<circle cx="354.5" cy="644.9" r="1.15" fill="#2a8a2e"/>
<line x1="361.5" y1="622.6" x2="361.5" y2="639.9" stroke="#e6007e" stroke-width="0.75"/>
<path d="M361.8,622.6 L362.1,623.3 L362.5,624.0 L363.1,624.8 L363.4,625.0 L363.5,625.5 L363.6,626.2 L363.6,626.9 L363.6,627.6 L363.7,628.4 L363.7,629.1 L363.7,629.8 L363.7,630.5 L363.7,631.2 L363.7,632.0 L363.7,632.7 L363.7,633.4 L363.7,634.1 L363.7,634.9 L363.6,635.6 L363.6,636.3 L363.6,637.0 L363.5,637.7 L363.4,638.0 L362.9,638.5 L362.3,639.2 L362.0,639.9 L361.0,639.9 L360.7,639.2 L360.1,638.5 L359.6,638.0 L359.5,637.7 L359.4,637.0 L359.4,636.3 L359.4,635.6 L359.3,634.9 L359.3,634.1 L359.3,633.4 L359.3,632.7 L359.3,632.0 L359.3,631.2 L359.3,630.5 L359.3,629.8 L359.3,629.1 L359.3,628.4 L359.4,627.6 L359.4,626.9 L359.4,626.2 L359.5,625.5 L359.6,625.0 L359.9,624.8 L360.5,624.0 L360.9,623.3 L361.2,622.6 Z" fill="#e6007e" fill-opacity="0.825" stroke="#e6007e" stroke-width="0.6"/>
<circle cx="361.5" cy="622.6" r="1.15" fill="#c4006a"/>
<circle cx="361.5" cy="639.9" r="1.15" fill="#c4006a"/>
<circle cx="361.4" cy="626.0" r="1.15" fill="#c4006a"/>
<circle cx="360.9" cy="629.3" r="1.15" fill="#c4006a"/>
<circle cx="360.8" cy="631.6" r="1.15" fill="#c4006a"/>
<circle cx="362.0" cy="633.8" r="1.15" fill="#c4006a"/>
<circle cx="360.9" cy="636.9" r="1.15" fill="#c4006a"/>
<line x1="368.5" y1="634.7" x2="368.5" y2="655.3" stroke="#4a1550" stroke-width="0.75"/>
<path d="M368.8,634.7 L368.8,635.6 L369.1,636.4 L369.6,637.3 L370.4,638.0 L370.5,638.1 L370.6,639.0 L370.6,639.9 L370.7,640.7 L370.7,641.6 L370.7,642.4 L370.7,643.3 L370.7,644.1 L370.7,645.0 L370.7,645.9 L370.7,646.7 L370.6,647.6 L370.6,648.4 L370.5,649.3 L370.4,650.0 L370.2,650.1 L369.4,651.0 L369.0,651.9 L368.8,652.7 L368.8,653.6 L368.8,654.4 L368.8,655.3 L368.2,655.3 L368.2,654.4 L368.2,653.6 L368.2,652.7 L368.0,651.9 L367.6,651.0 L366.8,650.1 L366.6,650.0 L366.5,649.3 L366.4,648.4 L366.4,647.6 L366.3,646.7 L366.3,645.9 L366.3,645.0 L366.3,644.1 L366.3,643.3 L366.3,642.4 L366.3,641.6 L366.3,640.7 L366.4,639.9 L366.4,639.0 L366.5,638.1 L366.6,638.0 L367.4,637.3 L367.9,636.4 L368.2,635.6 L368.2,634.7 Z" fill="#4a1550" fill-opacity="0.85" stroke="#4a1550" stroke-width="0.6"/>
<circle cx="368.5" cy="634.7" r="1.15" fill="#380e3c"/>
<circle cx="368.5" cy="655.3" r="1.15" fill="#380e3c"/>
<circle cx="367.7" cy="638.8" r="1.15" fill="#380e3c"/>
<circle cx="368.5" cy="641.7" r="1.15" fill="#380e3c"/>
<circle cx="367.9" cy="643.8" r="1.15" fill="#380e3c"/>
<circle cx="368.9" cy="646.5" r="1.15" fill="#380e3c"/>
<circle cx="368.7" cy="649.1" r="1.15" fill="#380e3c"/>
<line x1="375.6" y1="624.5" x2="375.6" y2="642.4" stroke="#f7941d" stroke-width="0.75"/>
<path d="M375.9,624.5 L376.1,625.2 L376.5,626.0 L377.2,626.7 L377.5,627.0 L377.6,627.5 L377.7,628.2 L377.7,629.0 L377.7,629.7 L377.8,630.5 L377.8,631.2 L377.8,632.0 L377.8,632.7 L377.8,633.5 L377.8,634.2 L377.8,634.9 L377.8,635.7 L377.8,636.4 L377.7,637.2 L377.7,637.9 L377.7,638.7 L377.6,639.4 L377.5,640.0 L377.3,640.2 L376.6,640.9 L376.2,641.6 L375.9,642.4 L375.3,642.4 L375.0,641.6 L374.6,640.9 L373.9,640.2 L373.7,640.0 L373.6,639.4 L373.5,638.7 L373.5,637.9 L373.5,637.2 L373.4,636.4 L373.4,635.7 L373.4,634.9 L373.4,634.2 L373.4,633.5 L373.4,632.7 L373.4,632.0 L373.4,631.2 L373.4,630.5 L373.5,629.7 L373.5,629.0 L373.5,628.2 L373.6,627.5 L373.7,627.0 L374.0,626.7 L374.7,626.0 L375.1,625.2 L375.3,624.5 Z" fill="#f7941d" fill-opacity="0.825" stroke="#f7941d" stroke-width="0.6"/>
<circle cx="375.6" cy="624.5" r="1.15" fill="#e38510"/>
<circle cx="375.6" cy="642.4" r="1.15" fill="#e38510"/>
<circle cx="374.7" cy="628.0" r="1.15" fill="#e38510"/>
<circle cx="375.4" cy="631.1" r="1.15" fill="#e38510"/>
<circle cx="374.7" cy="633.7" r="1.15" fill="#e38510"/>
<circle cx="375.3" cy="636.4" r="1.15" fill="#e38510"/>
<circle cx="376.3" cy="639.0" r="1.15" fill="#e38510"/>
<line x1="382.7" y1="623.2" x2="382.7" y2="665.5" stroke="#c9c9c9" stroke-width="0.75"/>
<path d="M382.9,623.2 L382.9,625.0 L382.9,626.7 L382.9,628.5 L382.9,630.2 L382.9,632.0 L382.9,633.8 L382.9,635.5 L382.9,637.3 L382.9,639.1 L382.9,640.8 L383.0,642.6 L383.9,644.4 L384.6,645.0 L384.8,646.1 L384.8,647.9 L384.9,649.6 L384.9,651.4 L384.9,653.2 L384.9,654.9 L384.9,656.7 L384.8,658.5 L384.8,660.2 L384.6,662.0 L384.6,662.0 L383.2,663.7 L382.9,665.5 L382.4,665.5 L382.2,663.7 L380.8,662.0 L380.8,662.0 L380.6,660.2 L380.6,658.5 L380.5,656.7 L380.5,654.9 L380.5,653.2 L380.5,651.4 L380.5,649.6 L380.6,647.9 L380.6,646.1 L380.8,645.0 L381.5,644.4 L382.4,642.6 L382.4,640.8 L382.4,639.1 L382.4,637.3 L382.4,635.5 L382.4,633.8 L382.4,632.0 L382.4,630.2 L382.4,628.5 L382.4,626.7 L382.4,625.0 L382.4,623.2 Z" fill="#c9c9c9" fill-opacity="0.6" stroke="#c9c9c9" stroke-width="0.6"/>
<path d="M381.7,624.0 L383.7,624.0 L382.7,622.2 Z" fill="#b0b0b0"/>
<path d="M381.7,666.3 L383.7,666.3 L382.7,664.5 Z" fill="#b0b0b0"/>
<path d="M380.7,647.0 L382.7,647.0 L381.7,645.2 Z" fill="#b0b0b0"/>
<path d="M381.7,649.9 L383.7,649.9 L382.7,648.1 Z" fill="#b0b0b0"/>
<path d="M381.2,652.2 L383.2,652.2 L382.2,650.4 Z" fill="#b0b0b0"/>
<path d="M382.4,654.0 L384.4,654.0 L383.4,652.2 Z" fill="#b0b0b0"/>
<path d="M381.0,656.6 L383.0,656.6 L382.0,654.8 Z" fill="#b0b0b0"/>
<path d="M381.9,659.0 L383.9,659.0 L382.9,657.2 Z" fill="#b0b0b0"/>
<path d="M381.7,661.1 L383.7,661.1 L382.7,659.3 Z" fill="#b0b0b0"/>
<line x1="298.4" y1="622.6" x2="307.7" y2="622.6" stroke="#2b2b2b" stroke-width="1.3"/>
<text transform="translate(303.05 620.67) scale(0.995 1)" font-size="5.9" text-anchor="middle" font-weight="normal" fill="#2b2b2b" stroke="#2b2b2b" stroke-width="0.18">ns</text>
<line x1="313.2" y1="615.5" x2="321.6" y2="615.5" stroke="#2b2b2b" stroke-width="1.3"/>
<text transform="translate(317.40 613.57) scale(0.995 1)" font-size="5.9" text-anchor="middle" font-weight="normal" fill="#2b2b2b" stroke="#2b2b2b" stroke-width="0.18">ns</text>
<line x1="327.3" y1="616.2" x2="336.0" y2="616.2" stroke="#2b2b2b" stroke-width="1.3"/>
<path d="M330.20,611.75 L330.20,613.65 M329.38,612.23 L331.02,613.18 M331.02,612.23 L329.38,613.18 " stroke="#2b2b2b" stroke-width="0.75" stroke-linecap="round"/>
<path d="M333.10,611.75 L333.10,613.65 M332.28,612.23 L333.92,613.18 M333.92,612.23 L332.28,613.18 " stroke="#2b2b2b" stroke-width="0.75" stroke-linecap="round"/>
<line x1="345.9" y1="625.1" x2="355.2" y2="625.1" stroke="#2b2b2b" stroke-width="1.3"/>
<path d="M349.10,620.65 L349.10,622.55 M348.28,621.12 L349.92,622.08 M349.92,621.12 L348.28,622.08 " stroke="#2b2b2b" stroke-width="0.75" stroke-linecap="round"/>
<path d="M352.00,620.65 L352.00,622.55 M351.18,621.12 L352.82,622.08 M352.82,621.12 L351.18,622.08 " stroke="#2b2b2b" stroke-width="0.75" stroke-linecap="round"/>
<line x1="360.7" y1="618.7" x2="369.3" y2="618.7" stroke="#2b2b2b" stroke-width="1.3"/>
<path d="M362.10,614.25 L362.10,616.15 M361.28,614.73 L362.92,615.68 M362.92,614.73 L361.28,615.68 " stroke="#2b2b2b" stroke-width="0.75" stroke-linecap="round"/>
<path d="M365.00,614.25 L365.00,616.15 M364.18,614.73 L365.82,615.68 M365.82,614.73 L364.18,615.68 " stroke="#2b2b2b" stroke-width="0.75" stroke-linecap="round"/>
<path d="M367.90,614.25 L367.90,616.15 M367.08,614.73 L368.72,615.68 M368.72,614.73 L367.08,615.68 " stroke="#2b2b2b" stroke-width="0.75" stroke-linecap="round"/>
<line x1="374.8" y1="620.1" x2="383.5" y2="620.1" stroke="#2b2b2b" stroke-width="1.3"/>
<path d="M377.70,615.65 L377.70,617.55 M376.88,616.12 L378.52,617.08 M378.52,616.12 L376.88,617.08 " stroke="#2b2b2b" stroke-width="0.75" stroke-linecap="round"/>
<path d="M380.60,615.65 L380.60,617.55 M379.78,616.12 L381.42,617.08 M381.42,616.12 L379.78,617.08 " stroke="#2b2b2b" stroke-width="0.75" stroke-linecap="round"/>
<line x1="424.5" y1="616.7" x2="424.5" y2="684.3" stroke="#2b2b2b" stroke-width="1.25"/>
<line x1="423.9" y1="684.3" x2="520" y2="684.3" stroke="#2b2b2b" stroke-width="1.3"/>
<line x1="421.3" y1="684.8" x2="424.5" y2="684.8" stroke="#2b2b2b" stroke-width="1.0"/>
<text transform="translate(419.30 686.97)" font-size="6.2" text-anchor="end" font-weight="normal" fill="#2b2b2b" stroke="#2b2b2b" stroke-width="0.1">0</text>
<line x1="421.3" y1="671.68" x2="424.5" y2="671.68" stroke="#2b2b2b" stroke-width="1.0"/>
<text transform="translate(419.30 673.85)" font-size="6.2" text-anchor="end" font-weight="normal" fill="#2b2b2b" stroke="#2b2b2b" stroke-width="0.1">20</text>
<line x1="421.3" y1="658.56" x2="424.5" y2="658.56" stroke="#2b2b2b" stroke-width="1.0"/>
<text transform="translate(419.30 660.73)" font-size="6.2" text-anchor="end" font-weight="normal" fill="#2b2b2b" stroke="#2b2b2b" stroke-width="0.1">40</text>
<line x1="421.3" y1="645.44" x2="424.5" y2="645.44" stroke="#2b2b2b" stroke-width="1.0"/>
<text transform="translate(419.30 647.61)" font-size="6.2" text-anchor="end" font-weight="normal" fill="#2b2b2b" stroke="#2b2b2b" stroke-width="0.1">60</text>
<line x1="421.3" y1="632.32" x2="424.5" y2="632.32" stroke="#2b2b2b" stroke-width="1.0"/>
<text transform="translate(419.30 634.49)" font-size="6.2" text-anchor="end" font-weight="normal" fill="#2b2b2b" stroke="#2b2b2b" stroke-width="0.1">80</text>
<line x1="421.3" y1="619.2" x2="424.5" y2="619.2" stroke="#2b2b2b" stroke-width="1.0"/>
<text transform="translate(419.30 621.37)" font-size="6.2" text-anchor="end" font-weight="normal" fill="#2b2b2b" stroke="#2b2b2b" stroke-width="0.1">100</text>
<line x1="449.8" y1="684.3" x2="449.8" y2="686.6999999999999" stroke="#2b2b2b" stroke-width="1.0"/>
<text transform="translate(449.80 696.14)" font-size="6.4" text-anchor="middle" font-weight="normal" fill="#2b2b2b" stroke="#2b2b2b" stroke-width="0.14">BM</text>
<line x1="497.9" y1="684.3" x2="497.9" y2="686.6999999999999" stroke="#2b2b2b" stroke-width="1.0"/>
<text transform="translate(497.90 696.14)" font-size="6.4" text-anchor="middle" font-weight="normal" fill="#2b2b2b" stroke="#2b2b2b" stroke-width="0.14">Spleen</text>
<text transform="translate(403.06 651.75) rotate(-90) scale(0.914 1)" font-size="5.3" text-anchor="middle" font-weight="normal" fill="#2b2b2b" stroke="#2b2b2b" stroke-width="0.12">% CD62L<tspan font-size="3.29" dy="-2.12">–</tspan><tspan dy="2.12"> of CD8</tspan><tspan font-size="3.29" dy="-2.12">+</tspan><tspan dy="2.12"> CAR-T cells</tspan></text>
<line x1="432.5" y1="635.5" x2="432.5" y2="658.2" stroke="#1b4587" stroke-width="0.75"/>
<path d="M432.8,635.5 L433.1,636.5 L433.7,637.4 L434.4,638.0 L434.5,638.3 L434.6,639.3 L434.6,640.2 L434.6,641.2 L434.7,642.1 L434.7,643.1 L434.7,644.0 L434.7,645.0 L434.7,645.9 L434.7,646.9 L434.7,647.8 L434.7,648.7 L434.7,649.7 L434.7,650.6 L434.6,651.6 L434.6,652.5 L434.6,653.5 L434.5,654.4 L434.4,655.0 L434.0,655.4 L433.2,656.3 L432.9,657.2 L432.8,658.2 L432.2,658.2 L432.1,657.2 L431.8,656.3 L431.0,655.4 L430.6,655.0 L430.5,654.4 L430.4,653.5 L430.4,652.5 L430.4,651.6 L430.3,650.6 L430.3,649.7 L430.3,648.7 L430.3,647.8 L430.3,646.9 L430.3,645.9 L430.3,645.0 L430.3,644.0 L430.3,643.1 L430.3,642.1 L430.4,641.2 L430.4,640.2 L430.4,639.3 L430.5,638.3 L430.6,638.0 L431.3,637.4 L431.9,636.5 L432.2,635.5 Z" fill="#1b4587" fill-opacity="0.725" stroke="#1b4587" stroke-width="0.6"/>
<circle cx="432.5" cy="635.5" r="1.15" fill="#143668"/>
<circle cx="432.5" cy="658.2" r="1.15" fill="#143668"/>
<circle cx="432.5" cy="639.2" r="1.15" fill="#143668"/>
<circle cx="432.9" cy="641.3" r="1.15" fill="#143668"/>
<circle cx="433.2" cy="644.4" r="1.15" fill="#143668"/>
<circle cx="432.9" cy="646.3" r="1.15" fill="#143668"/>
<circle cx="433.0" cy="648.8" r="1.15" fill="#143668"/>
<circle cx="433.2" cy="650.9" r="1.15" fill="#143668"/>
<circle cx="432.5" cy="654.2" r="1.15" fill="#143668"/>
<line x1="439.2" y1="631.2" x2="439.2" y2="664.3" stroke="#35a83a" stroke-width="0.75"/>
<path d="M439.4,631.2 L439.4,632.6 L439.4,634.0 L439.4,635.3 L439.4,636.7 L439.7,638.1 L440.5,639.5 L441.1,640.0 L441.2,640.9 L441.3,642.2 L441.3,643.6 L441.4,645.0 L441.4,646.4 L441.4,647.8 L441.4,649.1 L441.4,650.5 L441.4,651.9 L441.4,653.3 L441.4,654.6 L441.3,656.0 L441.3,657.4 L441.3,658.8 L441.1,660.0 L440.9,660.2 L439.8,661.5 L439.4,662.9 L439.4,664.3 L438.9,664.3 L438.9,662.9 L438.6,661.5 L437.5,660.2 L437.3,660.0 L437.1,658.8 L437.1,657.4 L437.1,656.0 L437.0,654.6 L437.0,653.3 L437.0,651.9 L437.0,650.5 L437.0,649.1 L437.0,647.8 L437.0,646.4 L437.0,645.0 L437.1,643.6 L437.1,642.2 L437.2,640.9 L437.3,640.0 L437.9,639.5 L438.7,638.1 L438.9,636.7 L438.9,635.3 L438.9,634.0 L438.9,632.6 L438.9,631.2 Z" fill="#35a83a" fill-opacity="0.6499999999999999" stroke="#35a83a" stroke-width="0.6"/>
<circle cx="439.2" cy="631.2" r="1.15" fill="#2a8a2e"/>
<circle cx="439.2" cy="664.3" r="1.15" fill="#2a8a2e"/>
<circle cx="439.3" cy="641.3" r="1.15" fill="#2a8a2e"/>
<circle cx="438.3" cy="643.8" r="1.15" fill="#2a8a2e"/>
<circle cx="438.7" cy="646.7" r="1.15" fill="#2a8a2e"/>
<circle cx="438.4" cy="648.4" r="1.15" fill="#2a8a2e"/>
<circle cx="439.8" cy="651.0" r="1.15" fill="#2a8a2e"/>
<circle cx="438.4" cy="653.3" r="1.15" fill="#2a8a2e"/>
<circle cx="438.6" cy="656.4" r="1.15" fill="#2a8a2e"/>
<circle cx="439.4" cy="658.3" r="1.15" fill="#2a8a2e"/>
<line x1="446.5" y1="620.7" x2="446.5" y2="627.4" stroke="#e6007e" stroke-width="0.75"/>
<path d="M448.0,620.7 L448.4,621.0 L448.4,621.0 L448.5,621.3 L448.6,621.5 L448.6,621.8 L448.6,622.1 L448.7,622.4 L448.7,622.6 L448.7,622.9 L448.7,623.2 L448.7,623.5 L448.7,623.8 L448.7,624.0 L448.7,624.3 L448.7,624.6 L448.7,624.9 L448.7,625.2 L448.7,625.5 L448.6,625.7 L448.6,626.0 L448.6,626.3 L448.6,626.6 L448.5,626.8 L448.4,627.0 L448.2,627.1 L447.9,627.4 L445.1,627.4 L444.8,627.1 L444.6,627.0 L444.5,626.8 L444.4,626.6 L444.4,626.3 L444.4,626.0 L444.4,625.7 L444.3,625.5 L444.3,625.2 L444.3,624.9 L444.3,624.6 L444.3,624.3 L444.3,624.0 L444.3,623.8 L444.3,623.5 L444.3,623.2 L444.3,622.9 L444.3,622.6 L444.3,622.4 L444.4,622.1 L444.4,621.8 L444.4,621.5 L444.5,621.3 L444.6,621.0 L444.6,621.0 L445.0,620.7 Z" fill="#e6007e" fill-opacity="0.85" stroke="#e6007e" stroke-width="0.6"/>
<circle cx="446.5" cy="620.7" r="1.15" fill="#c4006a"/>
<circle cx="446.5" cy="627.4" r="1.15" fill="#c4006a"/>
<circle cx="446.5" cy="621.8" r="1.15" fill="#c4006a"/>
<circle cx="445.7" cy="623.5" r="1.15" fill="#c4006a"/>
<circle cx="446.9" cy="625.1" r="1.15" fill="#c4006a"/>
<circle cx="445.8" cy="625.8" r="1.15" fill="#c4006a"/>
<line x1="453.7" y1="626.4" x2="453.7" y2="634.7" stroke="#4a1550" stroke-width="0.75"/>
<path d="M454.3,626.4 L454.5,626.8 L454.7,627.1 L455.0,627.4 L455.3,627.8 L455.6,628.0 L455.7,628.1 L455.8,628.5 L455.8,628.8 L455.8,629.2 L455.9,629.5 L455.9,629.9 L455.9,630.2 L455.9,630.5 L455.9,630.9 L455.9,631.2 L455.9,631.6 L455.9,631.9 L455.9,632.3 L455.9,632.6 L455.8,633.0 L455.8,633.3 L455.7,633.7 L455.6,634.0 L455.6,634.0 L455.2,634.4 L454.8,634.7 L452.6,634.7 L452.2,634.4 L451.8,634.0 L451.8,634.0 L451.7,633.7 L451.6,633.3 L451.6,633.0 L451.5,632.6 L451.5,632.3 L451.5,631.9 L451.5,631.6 L451.5,631.2 L451.5,630.9 L451.5,630.5 L451.5,630.2 L451.5,629.9 L451.5,629.5 L451.6,629.2 L451.6,628.8 L451.6,628.5 L451.7,628.1 L451.8,628.0 L452.1,627.8 L452.4,627.4 L452.7,627.1 L452.9,626.8 L453.1,626.4 Z" fill="#4a1550" fill-opacity="0.85" stroke="#4a1550" stroke-width="0.6"/>
<circle cx="453.7" cy="626.4" r="1.15" fill="#380e3c"/>
<circle cx="453.7" cy="634.7" r="1.15" fill="#380e3c"/>
<circle cx="453.7" cy="628.7" r="1.15" fill="#380e3c"/>
<circle cx="453.0" cy="630.0" r="1.15" fill="#380e3c"/>
<circle cx="453.0" cy="631.7" r="1.15" fill="#380e3c"/>
<circle cx="454.4" cy="633.3" r="1.15" fill="#380e3c"/>
<line x1="460.4" y1="618.2" x2="460.4" y2="623.2" stroke="#f7941d" stroke-width="0.75"/>
<path d="M461.9,618.2 L462.2,618.4 L462.3,618.5 L462.4,618.6 L462.5,618.8 L462.5,619.0 L462.5,619.2 L462.5,619.5 L462.6,619.7 L462.6,619.9 L462.6,620.1 L462.6,620.3 L462.6,620.5 L462.6,620.7 L462.6,620.9 L462.6,621.1 L462.6,621.3 L462.6,621.5 L462.6,621.7 L462.6,622.0 L462.5,622.2 L462.5,622.4 L462.5,622.6 L462.4,622.8 L462.3,623.0 L462.3,623.0 L462.0,623.2 L458.8,623.2 L458.5,623.0 L458.5,623.0 L458.4,622.8 L458.3,622.6 L458.3,622.4 L458.3,622.2 L458.2,622.0 L458.2,621.7 L458.2,621.5 L458.2,621.3 L458.2,621.1 L458.2,620.9 L458.2,620.7 L458.2,620.5 L458.2,620.3 L458.2,620.1 L458.2,619.9 L458.2,619.7 L458.3,619.5 L458.3,619.2 L458.3,619.0 L458.3,618.8 L458.4,618.6 L458.5,618.5 L458.6,618.4 L458.9,618.2 Z" fill="#f7941d" fill-opacity="0.85" stroke="#f7941d" stroke-width="0.6"/>
<circle cx="460.4" cy="618.2" r="1.15" fill="#e38510"/>
<circle cx="460.4" cy="623.2" r="1.15" fill="#e38510"/>
<circle cx="460.5" cy="618.7" r="1.15" fill="#e38510"/>
<circle cx="459.7" cy="620.4" r="1.15" fill="#e38510"/>
<circle cx="461.3" cy="621.6" r="1.15" fill="#e38510"/>
<circle cx="460.2" cy="622.3" r="1.15" fill="#e38510"/>
<line x1="467.7" y1="625.8" x2="467.7" y2="646.2" stroke="#c9c9c9" stroke-width="0.75"/>
<path d="M468.1,625.8 L468.4,626.6 L469.0,627.5 L469.6,628.0 L469.7,628.4 L469.8,629.2 L469.8,630.0 L469.8,630.9 L469.9,631.8 L469.9,632.6 L469.9,633.5 L469.9,634.3 L469.9,635.1 L469.9,636.0 L469.9,636.9 L469.9,637.7 L469.9,638.5 L469.8,639.4 L469.8,640.2 L469.8,641.1 L469.6,642.0 L469.6,642.0 L468.8,642.8 L468.3,643.6 L468.0,644.5 L467.9,645.4 L467.9,646.2 L467.4,646.2 L467.4,645.4 L467.4,644.5 L467.1,643.6 L466.6,642.8 L465.8,642.0 L465.8,642.0 L465.6,641.1 L465.6,640.2 L465.6,639.4 L465.5,638.5 L465.5,637.7 L465.5,636.9 L465.5,636.0 L465.5,635.1 L465.5,634.3 L465.5,633.5 L465.5,632.6 L465.5,631.8 L465.6,630.9 L465.6,630.0 L465.6,629.2 L465.7,628.4 L465.8,628.0 L466.4,627.5 L467.0,626.6 L467.3,625.8 Z" fill="#c9c9c9" fill-opacity="0.6" stroke="#c9c9c9" stroke-width="0.6"/>
<path d="M466.7,626.6 L468.7,626.6 L467.7,624.8 Z" fill="#b0b0b0"/>
<path d="M466.7,647.0 L468.7,647.0 L467.7,645.2 Z" fill="#b0b0b0"/>
<path d="M466.8,630.5 L468.8,630.5 L467.8,628.7 Z" fill="#b0b0b0"/>
<path d="M467.6,632.9 L469.6,632.9 L468.6,631.1 Z" fill="#b0b0b0"/>
<path d="M466.4,636.1 L468.4,636.1 L467.4,634.3 Z" fill="#b0b0b0"/>
<path d="M466.4,638.3 L468.4,638.3 L467.4,636.5 Z" fill="#b0b0b0"/>
<path d="M467.7,641.3 L469.7,641.3 L468.7,639.5 Z" fill="#b0b0b0"/>
<line x1="480.6" y1="630.8" x2="480.6" y2="663.5" stroke="#1b4587" stroke-width="0.75"/>
<path d="M481.0,630.8 L481.6,632.2 L482.5,633.0 L482.6,633.5 L482.7,634.9 L482.7,636.2 L482.7,637.6 L482.8,639.0 L482.8,640.3 L482.8,641.7 L482.8,643.1 L482.8,644.4 L482.8,645.8 L482.8,647.1 L482.8,648.5 L482.8,649.9 L482.7,651.2 L482.7,652.6 L482.6,654.0 L482.5,655.0 L482.1,655.3 L481.2,656.7 L480.9,658.0 L480.9,659.4 L480.9,660.8 L480.9,662.1 L480.9,663.5 L480.4,663.5 L480.4,662.1 L480.4,660.8 L480.4,659.4 L480.4,658.0 L480.0,656.7 L479.1,655.3 L478.7,655.0 L478.6,654.0 L478.5,652.6 L478.5,651.2 L478.4,649.9 L478.4,648.5 L478.4,647.1 L478.4,645.8 L478.4,644.4 L478.4,643.1 L478.4,641.7 L478.4,640.3 L478.4,639.0 L478.5,637.6 L478.5,636.2 L478.5,634.9 L478.6,633.5 L478.7,633.0 L479.6,632.2 L480.2,630.8 Z" fill="#1b4587" fill-opacity="0.5999999999999999" stroke="#1b4587" stroke-width="0.6"/>
<circle cx="480.6" cy="630.8" r="1.15" fill="#143668"/>
<circle cx="480.6" cy="663.5" r="1.15" fill="#143668"/>
<circle cx="481.4" cy="634.5" r="1.15" fill="#143668"/>
<circle cx="481.3" cy="637.0" r="1.15" fill="#143668"/>
<circle cx="480.6" cy="638.7" r="1.15" fill="#143668"/>
<circle cx="481.5" cy="642.0" r="1.15" fill="#143668"/>
<circle cx="480.4" cy="643.7" r="1.15" fill="#143668"/>
<circle cx="480.3" cy="646.6" r="1.15" fill="#143668"/>
<circle cx="479.7" cy="648.9" r="1.15" fill="#143668"/>
<circle cx="480.6" cy="651.3" r="1.15" fill="#143668"/>
<circle cx="479.9" cy="653.3" r="1.15" fill="#143668"/>
<line x1="487.3" y1="630.8" x2="487.3" y2="650.1" stroke="#35a83a" stroke-width="0.75"/>
<path d="M487.6,630.8 L487.6,631.6 L487.6,632.4 L487.8,633.2 L488.2,634.0 L489.0,634.8 L489.2,635.0 L489.3,635.6 L489.4,636.4 L489.4,637.2 L489.5,638.0 L489.5,638.8 L489.5,639.6 L489.5,640.5 L489.5,641.2 L489.5,642.1 L489.5,642.9 L489.5,643.7 L489.5,644.5 L489.4,645.3 L489.4,646.1 L489.4,646.9 L489.3,647.7 L489.2,648.0 L488.6,648.5 L488.0,649.3 L487.7,650.1 L486.9,650.1 L486.6,649.3 L486.0,648.5 L485.4,648.0 L485.3,647.7 L485.2,646.9 L485.2,646.1 L485.2,645.3 L485.1,644.5 L485.1,643.7 L485.1,642.9 L485.1,642.1 L485.1,641.2 L485.1,640.5 L485.1,639.6 L485.1,638.8 L485.1,638.0 L485.2,637.2 L485.2,636.4 L485.3,635.6 L485.4,635.0 L485.6,634.8 L486.4,634.0 L486.8,633.2 L487.0,632.4 L487.1,631.6 L487.1,630.8 Z" fill="#35a83a" fill-opacity="0.825" stroke="#35a83a" stroke-width="0.6"/>
<circle cx="487.3" cy="630.8" r="1.15" fill="#2a8a2e"/>
<circle cx="487.3" cy="650.1" r="1.15" fill="#2a8a2e"/>
<circle cx="487.8" cy="636.8" r="1.15" fill="#2a8a2e"/>
<circle cx="487.6" cy="639.3" r="1.15" fill="#2a8a2e"/>
<circle cx="488.1" cy="641.8" r="1.15" fill="#2a8a2e"/>
<circle cx="486.4" cy="644.5" r="1.15" fill="#2a8a2e"/>
<circle cx="486.8" cy="646.8" r="1.15" fill="#2a8a2e"/>
<line x1="494" y1="621.2" x2="494" y2="638.5" stroke="#e6007e" stroke-width="0.75"/>
<path d="M495.1,621.2 L495.8,621.9 L495.9,622.0 L496.0,622.6 L496.1,623.4 L496.1,624.1 L496.1,624.8 L496.2,625.5 L496.2,626.2 L496.2,627.0 L496.2,627.7 L496.2,628.4 L496.2,629.1 L496.2,629.9 L496.2,630.6 L496.2,631.3 L496.2,632.0 L496.1,632.7 L496.1,633.5 L496.1,634.2 L496.0,634.9 L495.9,635.0 L495.2,635.6 L494.7,636.3 L494.4,637.1 L494.3,637.8 L494.2,638.5 L493.8,638.5 L493.7,637.8 L493.6,637.1 L493.3,636.3 L492.8,635.6 L492.1,635.0 L492.0,634.9 L491.9,634.2 L491.9,633.5 L491.9,632.7 L491.8,632.0 L491.8,631.3 L491.8,630.6 L491.8,629.9 L491.8,629.1 L491.8,628.4 L491.8,627.7 L491.8,627.0 L491.8,626.2 L491.8,625.5 L491.9,624.8 L491.9,624.1 L491.9,623.4 L492.0,622.6 L492.1,622.0 L492.2,621.9 L492.9,621.2 Z" fill="#e6007e" fill-opacity="0.825" stroke="#e6007e" stroke-width="0.6"/>
<circle cx="494.0" cy="621.2" r="1.15" fill="#c4006a"/>
<circle cx="494.0" cy="638.5" r="1.15" fill="#c4006a"/>
<circle cx="493.6" cy="623.5" r="1.15" fill="#c4006a"/>
<circle cx="494.8" cy="625.9" r="1.15" fill="#c4006a"/>
<circle cx="493.5" cy="628.6" r="1.15" fill="#c4006a"/>
<circle cx="493.9" cy="631.1" r="1.15" fill="#c4006a"/>
<circle cx="493.6" cy="634.2" r="1.15" fill="#c4006a"/>
<line x1="501.2" y1="625.8" x2="501.2" y2="643.2" stroke="#4a1550" stroke-width="0.75"/>
<path d="M501.6,625.8 L501.9,626.5 L502.3,627.2 L503.1,628.0 L503.1,628.0 L503.2,628.7 L503.3,629.4 L503.3,630.1 L503.4,630.9 L503.4,631.6 L503.4,632.3 L503.4,633.0 L503.4,633.8 L503.4,634.5 L503.4,635.2 L503.4,636.0 L503.4,636.7 L503.3,637.4 L503.3,638.1 L503.3,638.9 L503.2,639.6 L503.1,640.0 L502.7,640.3 L502.1,641.0 L501.7,641.8 L501.5,642.5 L501.4,643.2 L500.9,643.2 L500.9,642.5 L500.7,641.8 L500.3,641.0 L499.7,640.3 L499.3,640.0 L499.2,639.6 L499.1,638.9 L499.1,638.1 L499.1,637.4 L499.0,636.7 L499.0,636.0 L499.0,635.2 L499.0,634.5 L499.0,633.8 L499.0,633.0 L499.0,632.3 L499.0,631.6 L499.0,630.9 L499.1,630.1 L499.1,629.4 L499.2,628.7 L499.3,628.0 L499.3,628.0 L500.1,627.2 L500.5,626.5 L500.8,625.8 Z" fill="#4a1550" fill-opacity="0.85" stroke="#4a1550" stroke-width="0.6"/>
<circle cx="501.2" cy="625.8" r="1.15" fill="#380e3c"/>
<circle cx="501.2" cy="643.2" r="1.15" fill="#380e3c"/>
<circle cx="501.5" cy="629.0" r="1.15" fill="#380e3c"/>
<circle cx="501.4" cy="631.2" r="1.15" fill="#380e3c"/>
<circle cx="501.2" cy="634.5" r="1.15" fill="#380e3c"/>
<circle cx="501.1" cy="636.2" r="1.15" fill="#380e3c"/>
<circle cx="500.5" cy="638.8" r="1.15" fill="#380e3c"/>
<line x1="508.5" y1="620.7" x2="508.5" y2="653.9" stroke="#f7941d" stroke-width="0.75"/>
<path d="M508.8,620.7 L508.8,622.1 L509.1,623.5 L510.2,624.9 L510.4,625.0 L510.6,626.2 L510.6,627.6 L510.6,629.0 L510.7,630.4 L510.7,631.8 L510.7,633.1 L510.7,634.5 L510.7,635.9 L510.7,637.3 L510.7,638.7 L510.7,640.1 L510.6,641.5 L510.6,642.8 L510.5,644.2 L510.4,645.0 L509.7,645.6 L509.0,647.0 L508.8,648.4 L508.8,649.8 L508.8,651.1 L508.8,652.5 L508.8,653.9 L508.2,653.9 L508.2,652.5 L508.2,651.1 L508.2,649.8 L508.2,648.4 L508.0,647.0 L507.3,645.6 L506.6,645.0 L506.5,644.2 L506.4,642.8 L506.4,641.5 L506.3,640.1 L506.3,638.7 L506.3,637.3 L506.3,635.9 L506.3,634.5 L506.3,633.1 L506.3,631.8 L506.3,630.4 L506.4,629.0 L506.4,627.6 L506.4,626.2 L506.6,625.0 L506.8,624.9 L507.9,623.5 L508.2,622.1 L508.2,620.7 Z" fill="#f7941d" fill-opacity="0.6499999999999999" stroke="#f7941d" stroke-width="0.6"/>
<circle cx="508.5" cy="620.7" r="1.15" fill="#e38510"/>
<circle cx="508.5" cy="653.9" r="1.15" fill="#e38510"/>
<circle cx="507.8" cy="625.9" r="1.15" fill="#e38510"/>
<circle cx="508.3" cy="628.5" r="1.15" fill="#e38510"/>
<circle cx="508.0" cy="631.0" r="1.15" fill="#e38510"/>
<circle cx="508.6" cy="633.3" r="1.15" fill="#e38510"/>
<circle cx="508.7" cy="636.6" r="1.15" fill="#e38510"/>
<circle cx="508.8" cy="638.8" r="1.15" fill="#e38510"/>
<circle cx="508.9" cy="641.0" r="1.15" fill="#e38510"/>
<circle cx="508.6" cy="643.7" r="1.15" fill="#e38510"/>
<line x1="516.2" y1="623.2" x2="516.2" y2="671.6" stroke="#c9c9c9" stroke-width="0.75"/>
<path d="M516.5,623.2 L516.5,625.2 L516.5,627.2 L516.5,629.2 L516.5,631.3 L516.5,633.3 L516.5,635.3 L516.5,637.3 L516.5,639.3 L516.5,641.4 L516.8,643.4 L518.1,645.0 L518.2,645.4 L518.3,647.4 L518.3,649.4 L518.4,651.4 L518.4,653.5 L518.4,655.5 L518.4,657.5 L518.4,659.5 L518.3,661.5 L518.3,663.5 L518.1,665.0 L517.5,665.5 L516.5,667.6 L516.5,669.6 L516.5,671.6 L516.0,671.6 L516.0,669.6 L515.9,667.6 L514.9,665.5 L514.3,665.0 L514.1,663.5 L514.1,661.5 L514.0,659.5 L514.0,657.5 L514.0,655.5 L514.0,653.5 L514.0,651.4 L514.1,649.4 L514.1,647.4 L514.2,645.4 L514.3,645.0 L515.6,643.4 L516.0,641.4 L516.0,639.3 L516.0,637.3 L516.0,635.3 L516.0,633.3 L516.0,631.3 L516.0,629.2 L516.0,627.2 L516.0,625.2 L516.0,623.2 Z" fill="#c9c9c9" fill-opacity="0.6" stroke="#c9c9c9" stroke-width="0.6"/>
<path d="M515.2,624.0 L517.2,624.0 L516.2,622.2 Z" fill="#b0b0b0"/>
<path d="M515.2,672.4 L517.2,672.4 L516.2,670.6 Z" fill="#b0b0b0"/>
<path d="M515.1,647.2 L517.1,647.2 L516.1,645.4 Z" fill="#b0b0b0"/>
<path d="M514.7,649.4 L516.7,649.4 L515.7,647.6 Z" fill="#b0b0b0"/>
<path d="M515.2,651.8 L517.2,651.8 L516.2,650.0 Z" fill="#b0b0b0"/>
<path d="M515.4,654.4 L517.4,654.4 L516.4,652.6 Z" fill="#b0b0b0"/>
<path d="M514.9,656.6 L516.9,656.6 L515.9,654.8 Z" fill="#b0b0b0"/>
<path d="M514.7,659.9 L516.7,659.9 L515.7,658.1 Z" fill="#b0b0b0"/>
<path d="M515.2,662.1 L517.2,662.1 L516.2,660.3 Z" fill="#b0b0b0"/>
<path d="M516.2,664.3 L518.2,664.3 L517.2,662.5 Z" fill="#b0b0b0"/>
<line x1="431.7" y1="629.3" x2="440.0" y2="629.3" stroke="#2b2b2b" stroke-width="1.3"/>
<text transform="translate(435.85 627.37) scale(0.995 1)" font-size="5.9" text-anchor="middle" font-weight="normal" fill="#2b2b2b" stroke="#2b2b2b" stroke-width="0.18">ns</text>
<line x1="445.7" y1="618.2" x2="454.5" y2="618.2" stroke="#2b2b2b" stroke-width="1.3"/>
<path d="M445.75,613.75 L445.75,615.65 M444.93,614.23 L446.57,615.18 M446.57,614.23 L444.93,615.18 " stroke="#2b2b2b" stroke-width="0.75" stroke-linecap="round"/>
<path d="M448.65,613.75 L448.65,615.65 M447.83,614.23 L449.47,615.18 M449.47,614.23 L447.83,615.18 " stroke="#2b2b2b" stroke-width="0.75" stroke-linecap="round"/>
<path d="M451.55,613.75 L451.55,615.65 M450.73,614.23 L452.37,615.18 M452.37,614.23 L450.73,615.18 " stroke="#2b2b2b" stroke-width="0.75" stroke-linecap="round"/>
<path d="M454.45,613.75 L454.45,615.65 M453.63,614.23 L455.27,615.18 M455.27,614.23 L453.63,615.18 " stroke="#2b2b2b" stroke-width="0.75" stroke-linecap="round"/>
<line x1="459.59999999999997" y1="614.3" x2="468.5" y2="614.3" stroke="#2b2b2b" stroke-width="1.3"/>
<path d="M459.70,609.85 L459.70,611.75 M458.88,610.32 L460.52,611.27 M460.52,610.32 L458.88,611.27 " stroke="#2b2b2b" stroke-width="0.75" stroke-linecap="round"/>
<path d="M462.60,609.85 L462.60,611.75 M461.78,610.32 L463.42,611.27 M463.42,610.32 L461.78,611.27 " stroke="#2b2b2b" stroke-width="0.75" stroke-linecap="round"/>
<path d="M465.50,609.85 L465.50,611.75 M464.68,610.32 L466.32,611.27 M466.32,610.32 L464.68,611.27 " stroke="#2b2b2b" stroke-width="0.75" stroke-linecap="round"/>
<path d="M468.40,609.85 L468.40,611.75 M467.58,610.32 L469.22,611.27 M469.22,610.32 L467.58,611.27 " stroke="#2b2b2b" stroke-width="0.75" stroke-linecap="round"/>
<line x1="479.8" y1="629.3" x2="488.1" y2="629.3" stroke="#2b2b2b" stroke-width="1.3"/>
<text transform="translate(483.95 627.37) scale(0.995 1)" font-size="5.9" text-anchor="middle" font-weight="normal" fill="#2b2b2b" stroke="#2b2b2b" stroke-width="0.18">ns</text>
<line x1="493.2" y1="619.3" x2="502.0" y2="619.3" stroke="#2b2b2b" stroke-width="1.3"/>
<path d="M496.15,614.85 L496.15,616.75 M495.33,615.32 L496.97,616.27 M496.97,615.32 L495.33,616.27 " stroke="#2b2b2b" stroke-width="0.75" stroke-linecap="round"/>
<path d="M499.05,614.85 L499.05,616.75 M498.23,615.32 L499.87,616.27 M499.87,615.32 L498.23,616.27 " stroke="#2b2b2b" stroke-width="0.75" stroke-linecap="round"/>
<line x1="507.7" y1="619.7" x2="517.0" y2="619.7" stroke="#2b2b2b" stroke-width="1.3"/>
<path d="M510.90,615.25 L510.90,617.15 M510.08,615.73 L511.72,616.68 M511.72,615.73 L510.08,616.68 " stroke="#2b2b2b" stroke-width="0.75" stroke-linecap="round"/>
<path d="M513.80,615.25 L513.80,617.15 M512.98,615.73 L514.62,616.68 M514.62,615.73 L512.98,616.68 " stroke="#2b2b2b" stroke-width="0.75" stroke-linecap="round"/>
</svg></body></html>
